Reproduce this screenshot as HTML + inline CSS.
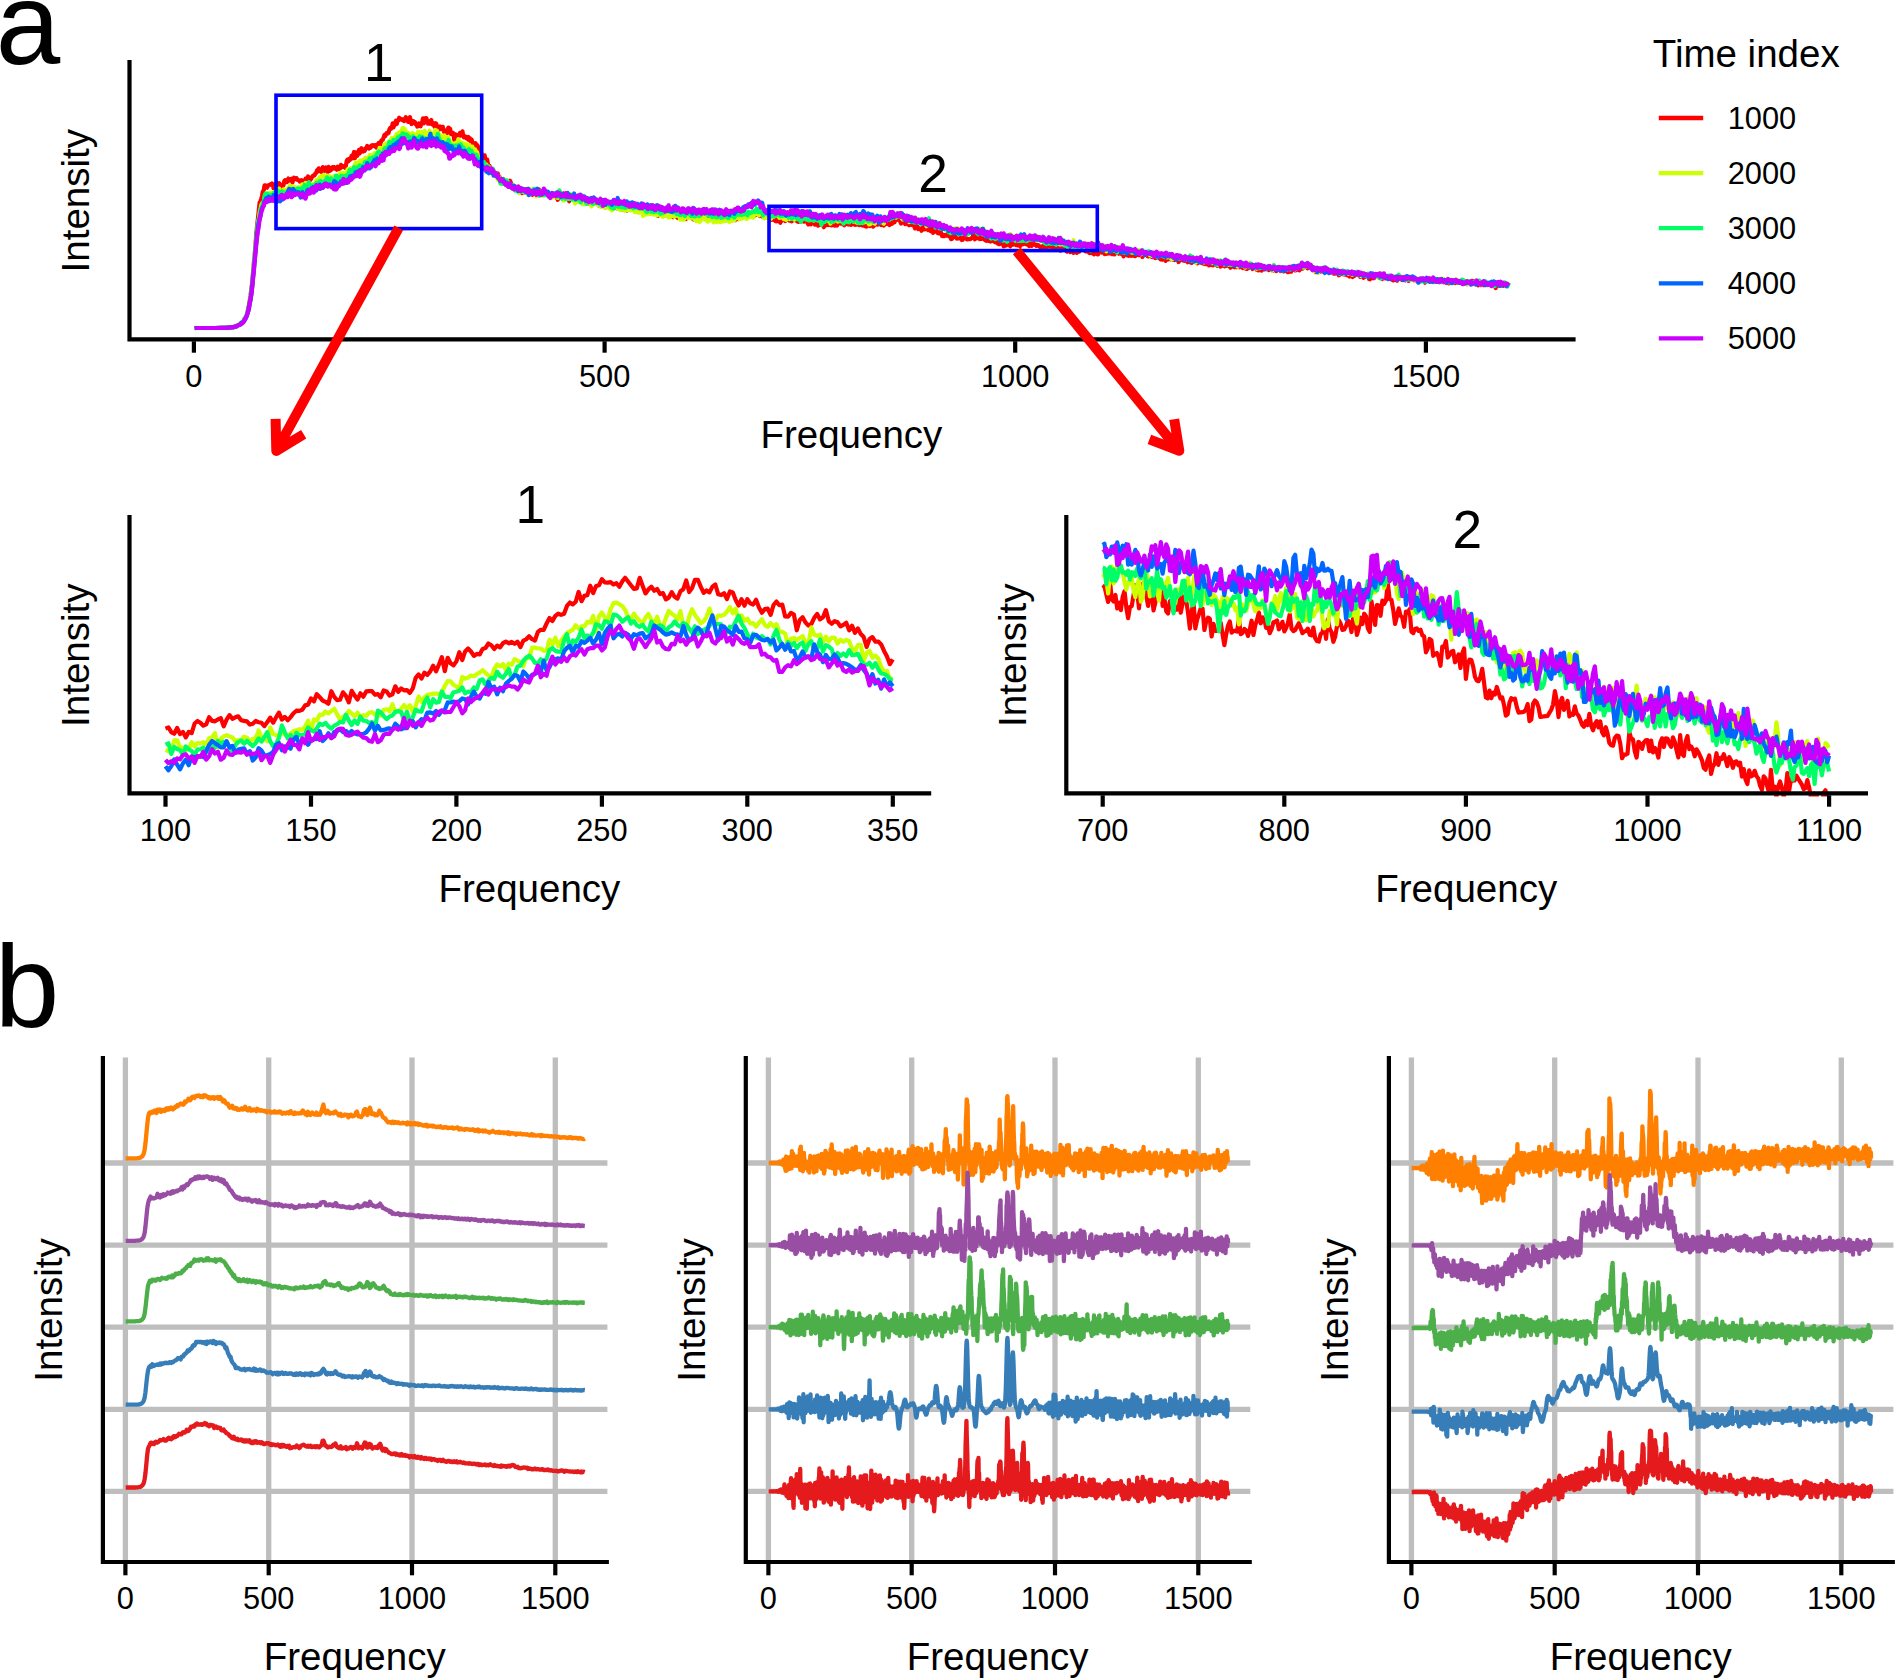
<!DOCTYPE html>
<html lang="en"><head><meta charset="utf-8"><title>Figure</title><style>html,body{margin:0;padding:0;background:#fff}svg{display:block}</style></head><body>
<svg width="1895" height="1679" viewBox="0 0 1895 1679" font-family='"Liberation Sans", sans-serif' fill="#000">
<rect width="1895" height="1679" fill="#fff"/>
<text x="-4.2" y="63.5" font-size="116" text-anchor="start">a</text>
<text x="-5.3" y="1027.0" font-size="116" text-anchor="start">b</text>
<g fill="none" stroke-linejoin="round" stroke-linecap="butt">
<polyline transform="translate(193.90 229) scale(0.8213 1)" vector-effect="non-scaling-stroke" points="1,99 2,99 3,99 4,99 5,99 6,99 7,99 8,99 9,99 10,99 11,99 12,99 13,99 14,99 15,99 16,99 17,99 18,99 19,99 20,99 21,99 22,99 23,99 24,99 25,99 26,99 27,99 28,98.9 29,99 30,99 31,98.9 32,99 33,98.9 34,98.9 35,98.8 36,98.8 37,98.8 38,98.9 39,98.9 40,98.7 41,98.7 42,98.6 43,98.6 44,98.4 45,98.2 46,98 47,98.1 48,98.3 49,97.9 50,97.5 51,97.6 52,97.1 53,96.6 54,96.3 55,95.7 56,95.1 57,94.2 58,94 59,93.1 60,92.6 61,91 62,89 63,88 64,87.1 65,83.8 66,80.4 67,76.3 68,71.7 69,66.6 70,59.3 71,53.7 72,43.7 73,34.1 74,25.7 75,16.2 76,4.6 77,-3.8 78,-10.8 79,-18.5 80,-26.4 81,-27.7 82,-30 83,-33.3 84,-37.5 85,-38.4 86,-43.7 87,-43.7 88,-41.7 89,-41.3 90,-43.1 91,-43.9 92,-43.8 93,-44.7 94,-44.8 95,-45.5 96,-44.6 97,-40.8 98,-42.4 99,-44.9 100,-45.5 101,-46 102,-44 103,-43.2 104,-45.8 105,-43.1 106,-44 107,-41.6 108,-44.1 109,-43.6 110,-47.7 111,-48.9 112,-48.1 113,-46.8 114,-47.4 115,-50.5 116,-48.9 117,-48.7 118,-49.6 119,-50.2 120,-46.5 121,-49.5 122,-51.4 123,-49.8 124,-50.5 125,-50.9 126,-49.2 127,-48.9 128,-48.7 129,-47.3 130,-47.7 131,-48.9 132,-48.3 133,-48.1 134,-46.6 135,-48.4 136,-50.3 137,-48.1 138,-50.4 139,-52.5 140,-49.5 141,-50.7 142,-49.2 143,-50.6 144,-52.2 145,-53.4 146,-53.3 147,-53.8 148,-55.7 149,-56 150,-58.8 151,-57.5 152,-60.7 153,-59.3 154,-57.9 155,-57.3 156,-56.5 157,-62 158,-59.4 159,-58 160,-58.2 161,-61.5 162,-59.9 163,-57.1 164,-62.1 165,-60 166,-58.3 167,-61.1 168,-59.6 169,-61.9 170,-62 171,-62 172,-60.4 173,-60.7 174,-59.3 175,-62.3 176,-61.9 177,-60.1 178,-60.6 179,-64.1 180,-61.7 181,-63.2 182,-62.4 183,-62.4 184,-61.2 185,-63.2 186,-67.9 187,-69.4 188,-67.6 189,-70.2 190,-69.1 191,-70.7 192,-73.1 193,-70.7 194,-73.7 195,-77 196,-70.8 197,-76.7 198,-74.2 199,-73.3 200,-75.1 201,-79.1 202,-75.6 203,-79.5 204,-80.7 205,-79.5 206,-77.5 207,-78.4 208,-78.1 209,-80.6 210,-81 211,-83 212,-82.2 213,-80.5 214,-82 215,-81.3 216,-83.1 217,-83.8 218,-83 219,-83.7 220,-82.8 221,-83.7 222,-81.4 223,-84.2 224,-84.8 225,-86.1 226,-84.9 227,-84.3 228,-88.1 229,-89 230,-89 231,-91.7 232,-94.2 233,-92.9 234,-95.1 235,-96.1 236,-95.5 237,-96.1 238,-99.5 239,-101 240,-100.2 241,-101.3 242,-105.7 243,-101.6 244,-104 245,-104.2 246,-108.4 247,-105.1 248,-108.2 249,-108.6 250,-111.3 251,-109.8 252,-109.7 253,-109.9 254,-108.9 255,-109.5 256,-107.9 257,-110.3 258,-111.9 259,-110.2 260,-108.6 261,-107 262,-107.2 263,-111.9 264,-108.4 265,-105 266,-106.7 267,-107.9 268,-106.2 269,-107 270,-104.7 271,-105.1 272,-102.4 273,-103.1 274,-105.5 275,-103.5 276,-102.7 277,-106 278,-106.8 279,-110.7 280,-105.6 281,-107.3 282,-111 283,-111 284,-107.9 285,-105.3 286,-106.3 287,-105.4 288,-108 289,-108.9 290,-104.6 291,-104.3 292,-105.1 293,-102.5 294,-105.8 295,-105.4 296,-102.1 297,-99.7 298,-102.4 299,-99.6 300,-102.5 301,-100.6 302,-100.1 303,-102.2 304,-98.8 305,-96.5 306,-98.1 307,-98.3 308,-95.6 309,-99.9 310,-101.4 311,-99.8 312,-100.1 313,-94.8 314,-94.8 315,-96.4 316,-95.7 317,-88.8 318,-93.3 319,-94.5 320,-92.2 321,-90.9 322,-91.5 323,-94.3 324,-96 325,-93.6 326,-94.5 327,-97.7 328,-92.7 329,-91.7 330,-92.8 331,-92.3 332,-90.5 333,-91.2 334,-92.1 335,-88.8 336,-90.8 337,-87.6 338,-89.6 339,-87.1 340,-85.8 341,-81.5 342,-84.9 343,-85.8 344,-83.8 345,-83.8 346,-82.5 347,-79.7 348,-77.3 349,-73.8 350,-76 351,-69.4 352,-68 353,-70.6 354,-73.7 355,-69.3 356,-66.9 357,-69.5 358,-65 359,-63.3 360,-63.1 361,-59.6 362,-57.3 363,-58.6 364,-57 365,-57.3 366,-56.9 367,-54.6 368,-52.7 369,-53.4 370,-55.6 371,-50.8 372,-52.5 373,-49.8 374,-46 375,-47.8 376,-49.8 377,-50 378,-45.4 379,-45.9 380,-44.8 381,-43.5 382,-44.4 383,-44.6 384,-45.2 385,-48.3 386,-46.1 387,-43 388,-42.3 389,-41.1 390,-41.4 391,-40.8 392,-39.4 393,-41.5 394,-40.8 395,-42.3 396,-38.4 397,-38.7 398,-38 399,-35.9 400,-36 401,-37.8 402,-36.7 403,-39.7 404,-37.4 405,-37.1 406,-39.8 407,-35.7 408,-37.8 409,-36.2 410,-37.3 411,-35.4 412,-34.3 413,-37.3 414,-39 415,-36.9 416,-34.9 417,-36.3 418,-36.9 419,-35.2 420,-39.7 421,-37.4 422,-37.7 423,-35.2 424,-36.2 425,-36.9 426,-35.8 427,-37.1 428,-35.1 429,-35.5 430,-35.2 431,-35.5 432,-33 433,-33.9 434,-33.1 435,-32.9 436,-34.7 437,-32.9 438,-32.7 439,-32.7 440,-33.6 441,-33.8 442,-31.8 443,-29.2 444,-33.2 445,-32 446,-32.8 447,-31.2 448,-31.2 449,-30.3 450,-35.7 451,-33.5 452,-33.2 453,-31.9 454,-32.4 455,-32.3 456,-30.1 457,-27.7 458,-34.3 459,-31.8 460,-30 461,-30.1 462,-30.5 463,-32 464,-31.5 465,-28.8 466,-27.6 467,-28.8 468,-30.3 469,-29 470,-29.1 471,-27.9 472,-28.1 473,-29.2 474,-28.1 475,-29.7 476,-27 477,-25.7 478,-28.9 479,-27.1 480,-28.6 481,-25.8 482,-25.2 483,-26.8 484,-25.2 485,-26.8 486,-27.4 487,-27.2 488,-26.4 489,-26.4 490,-25.5 491,-26.4 492,-24.4 493,-23.5 494,-25.5 495,-27.1 496,-24.1 497,-22.7 498,-24.3 499,-26.2 500,-24.1 501,-21.7 502,-26.1 503,-23.6 504,-23.9 505,-24.8 506,-22.9 507,-25 508,-23.1 509,-21 510,-22.2 511,-24 512,-25.5 513,-24.9 514,-25.4 515,-20.5 516,-22 517,-23.6 518,-24.1 519,-23.7 520,-22.4 521,-23.5 522,-19.3 523,-21.8 524,-22.5 525,-20.8 526,-18.7 527,-18.4 528,-20.9 529,-20.3 530,-20.1 531,-19.4 532,-19.6 533,-21.3 534,-22 535,-19.9 536,-21.3 537,-17.9 538,-18.9 539,-20.7 540,-19.9 541,-19.8 542,-19.2 543,-17.4 544,-20.4 545,-21.6 546,-18.5 547,-18.4 548,-17.9 549,-17.3 550,-18 551,-16.7 552,-18.7 553,-17.7 554,-18.6 555,-19.2 556,-16.7 557,-16.1 558,-19.6 559,-19.1 560,-16.7 561,-15.1 562,-17.2 563,-16.9 564,-18.4 565,-13.1 566,-14.7 567,-14.6 568,-14.7 569,-14.3 570,-14.6 571,-15.9 572,-14.6 573,-15.1 574,-13.4 575,-15.8 576,-16.1 577,-14.2 578,-12.9 579,-14.2 580,-15.6 581,-14.9 582,-15.2 583,-11.8 584,-12.4 585,-12.1 586,-13.2 587,-14.6 588,-12.3 589,-11 590,-12.3 591,-13.3 592,-11.9 593,-13.5 594,-12.2 595,-13.8 596,-14.5 597,-12.3 598,-12.1 599,-9.9 600,-12.4 601,-12.5 602,-14 603,-15.3 604,-15.3 605,-12.1 606,-13.7 607,-10.9 608,-9.8 609,-12 610,-9.8 611,-11.1 612,-10.3 613,-11.8 614,-10.5 615,-12.8 616,-11.1 617,-12.1 618,-11.9 619,-10.7 620,-11.1 621,-11.5 622,-10.4 623,-10 624,-13 625,-10.9 626,-10.1 627,-12 628,-10.8 629,-12.8 630,-9.4 631,-10.9 632,-11.1 633,-9.2 634,-10.6 635,-10 636,-12 637,-11.7 638,-12.7 639,-11.3 640,-9.2 641,-9.9 642,-9.3 643,-11.7 644,-12.1 645,-11.5 646,-10 647,-10 648,-10.6 649,-9.8 650,-10.7 651,-10.8 652,-9 653,-11.3 654,-10.8 655,-8.7 656,-10.4 657,-10.1 658,-11.9 659,-8.8 660,-14 661,-13.7 662,-13.4 663,-9.8 664,-10.9 665,-12.2 666,-14 667,-12.1 668,-12.1 669,-13.4 670,-14.9 671,-14.7 672,-12.9 673,-12.6 674,-13 675,-13.5 676,-16 677,-14.1 678,-15.3 679,-14.2 680,-13.5 681,-15.2 682,-16.2 683,-13.6 684,-14.1 685,-15.9 686,-19.7 687,-16.2 688,-14.1 689,-12.9 690,-14.9 691,-14.9 692,-14.1 693,-11.8 694,-13.7 695,-12.4 696,-13 697,-11.4 698,-13.5 699,-11.3 700,-11.9 701,-11.6 702,-10.4 703,-9.1 704,-12.6 705,-9.5 706,-9.1 707,-10.3 708,-8 709,-9 710,-7.7 711,-9.9 712,-10.9 713,-8.2 714,-6.3 715,-8.2 716,-8.4 717,-10.3 718,-11.9 719,-10.7 720,-8 721,-12.1 722,-11.1 723,-12.6 724,-10.1 725,-8.4 726,-11 727,-10.4 728,-7.7 729,-9 730,-10.9 731,-11.2 732,-12.1 733,-8.4 734,-9.6 735,-7.5 736,-7.1 737,-9.2 738,-9.4 739,-7.5 740,-7.8 741,-7.8 742,-10.3 743,-7.3 744,-8.9 745,-11.2 746,-9.2 747,-7.2 748,-4.6 749,-7.4 750,-9.2 751,-4.6 752,-6.1 753,-7 754,-8 755,-7.9 756,-4.4 757,-5.8 758,-6.4 759,-6.3 760,-3.3 761,-5.4 762,-4.2 763,-4.2 764,-4.2 765,-5.5 766,-3.6 767,-1.8 768,-3.6 769,-5.1 770,-5.8 771,-3.9 772,-4.2 773,-4.2 774,-4.1 775,-6.1 776,-3.6 777,-3.8 778,-4.5 779,-4.3 780,-3.4 781,-4.4 782,-5.9 783,-3.5 784,-5.1 785,-6 786,-7.3 787,-5.5 788,-6.5 789,-6.1 790,-4.7 791,-5 792,-3.8 793,-4.5 794,-5.6 795,-5.7 796,-6 797,-4.5 798,-5 799,-5.7 800,-4.1 801,-4.7 802,-5.5 803,-7 804,-4.6 805,-4.2 806,-4.3 807,-4.9 808,-5.5 809,-4.7 810,-3.8 811,-4.1 812,-4.2 813,-4.6 814,-3.6 815,-3.4 816,-4.7 817,-3 818,-2.5 819,-2.4 820,-3.6 821,-3.9 822,-5.2 823,-2.9 824,-6.1 825,-4.6 826,-4 827,-2.4 828,-3.2 829,-4.9 830,-6 831,-5.4 832,-4.4 833,-4.4 834,-5 835,-5.9 836,-5.6 837,-4 838,-6.6 839,-5.8 840,-3.5 841,-4.6 842,-6.4 843,-5.3 844,-7.1 845,-6.7 846,-4.6 847,-4 848,-9.2 849,-7.3 850,-5.2 851,-8.6 852,-8.5 853,-6.7 854,-9.3 855,-8.8 856,-9.3 857,-12.2 858,-9.6 859,-9.4 860,-7.7 861,-5.4 862,-6.6 863,-8 864,-6.8 865,-6.4 866,-4.9 867,-7.4 868,-7.2 869,-7.8 870,-4.1 871,-3.8 872,-4.6 873,-4.6 874,-4.2 875,-4.4 876,-3.4 877,-3.3 878,-.6 879,-1.2 880,-2.8 881,-2.6 882,0 883,-.3 884,-.5 885,.2 886,1.7 887,-1.6 888,-1.5 889,-2.5 890,.3 891,-.1 892,-.7 893,-.8 894,1.1 895,.5 896,-.2 897,2.1 898,-.4 899,-1.2 900,3.9 901,1.4 902,.6 903,.7 904,1.8 905,3.6 906,4.2 907,4.3 908,3.6 909,2.2 910,4.5 911,7 912,7.2 913,5.9 914,7.1 915,6.2 916,6.5 917,5.3 918,6.2 919,7.2 920,7 921,8.3 922,10.1 923,9.9 924,7.9 925,7.1 926,7.4 927,7.2 928,8.6 929,9.6 930,9.5 931,9.5 932,9.4 933,9 934,8.1 935,11 936,10.8 937,8.1 938,7.5 939,7.9 940,8.7 941,10.3 942,10.3 943,10.2 944,10.2 945,10.1 946,9.6 947,9.1 948,8.2 949,6 950,7.5 951,10.3 952,7.9 953,7.1 954,9.1 955,8.4 956,7.6 957,10.2 958,9.8 959,9.9 960,8.5 961,9.7 962,10.1 963,10.8 964,11.6 965,11.9 966,11 967,11.7 968,9.8 969,11.8 970,12.6 971,11.5 972,11 973,12 974,11.1 975,12.9 976,13.4 977,12 978,13.1 979,14.7 980,15.1 981,15.2 982,13.9 983,13.5 984,13.5 985,14.8 986,17.3 987,16.6 988,16.7 989,16.5 990,12.9 991,13.9 992,14.1 993,16.1 994,17.2 995,14.5 996,14.8 997,15.7 998,14.6 999,14.2 1000,14.2 1001,16.1 1002,14.3 1003,16.3 1004,15.5 1005,16 1006,17.2 1007,14.7 1008,13.9 1009,15.4 1010,13.9 1011,13.9 1012,14.8 1013,15.3 1014,13.8 1015,14.5 1016,15.9 1017,17.1 1018,13.4 1019,16.5 1020,16.9 1021,14.4 1022,13.5 1023,15.7 1024,15.3 1025,15.8 1026,16.9 1027,15.8 1028,16.2 1029,16.9 1030,17.6 1031,18.9 1032,19.2 1033,17.6 1034,16.8 1035,19.9 1036,18.7 1037,18.1 1038,16.4 1039,18.4 1040,17.2 1041,17.4 1042,16.6 1043,17.5 1044,18.6 1045,17.1 1046,17.6 1047,18.9 1048,17.9 1049,17.8 1050,18.4 1051,18 1052,20.4 1053,19.1 1054,20.9 1055,21.6 1056,19.3 1057,20.3 1058,20.1 1059,19.4 1060,20.3 1061,20.7 1062,21.9 1063,22.6 1064,20.3 1065,20.7 1066,22.1 1067,23.1 1068,19.2 1069,22.7 1070,22.1 1071,23.8 1072,22 1073,21.2 1074,22.2 1075,23.8 1076,22.8 1077,19.8 1078,22.7 1079,20.9 1080,21 1081,21 1082,20.2 1083,20.7 1084,21.2 1085,21.7 1086,22.5 1087,22.3 1088,21 1089,22.2 1090,23.9 1091,24.1 1092,23.2 1093,23.6 1094,24.1 1095,24.7 1096,25.3 1097,23.1 1098,22.7 1099,24.7 1100,25.3 1101,25.3 1102,20.9 1103,22.5 1104,19.5 1105,23.4 1106,23.7 1107,23.6 1108,23.4 1109,25.1 1110,23.6 1111,24.8 1112,24.6 1113,24.4 1114,24.5 1115,24.2 1116,22.8 1117,24.6 1118,25.1 1119,24.1 1120,25 1121,25.4 1122,23.1 1123,23.9 1124,23.9 1125,23.3 1126,24.7 1127,23.7 1128,23.9 1129,24.8 1130,25.2 1131,25.2 1132,27.4 1133,24.9 1134,25.1 1135,23.7 1136,25.3 1137,26.5 1138,26.8 1139,24.8 1140,24.8 1141,26.7 1142,25.6 1143,26.5 1144,24.6 1145,26.9 1146,27.1 1147,26.4 1148,24.9 1149,25.4 1150,26 1151,26.2 1152,26 1153,25.8 1154,26.4 1155,27.9 1156,24.5 1157,24.5 1158,24.6 1159,25.6 1160,24.7 1161,27.2 1162,27.3 1163,26.9 1164,26.4 1165,27.4 1166,27.7 1167,28 1168,26.9 1169,28.3 1170,26.4 1171,29 1172,25 1173,26.8 1174,26.8 1175,29 1176,27.1 1177,30.3 1178,27.4 1179,30.7 1180,29.9 1181,29.2 1182,29.6 1183,31.8 1184,30.8 1185,27.2 1186,30.4 1187,30.2 1188,28.1 1189,30.3 1190,28.8 1191,30 1192,30.5 1193,29.6 1194,31 1195,29.5 1196,30.6 1197,30.2 1198,30.5 1199,33 1200,31.6 1201,30 1202,30.8 1203,30.5 1204,31.3 1205,31.7 1206,31.7 1207,31.8 1208,31.2 1209,32.2 1210,33.2 1211,31.6 1212,32 1213,32.3 1214,33.7 1215,33.9 1216,32 1217,32.6 1218,31.1 1219,31.5 1220,32.7 1221,33.7 1222,34.3 1223,33.1 1224,31.8 1225,33.5 1226,33.4 1227,34 1228,33.9 1229,34.6 1230,34.7 1231,35 1232,33.8 1233,35.1 1234,33.9 1235,34.3 1236,36.4 1237,35.3 1238,33.5 1239,36 1240,36.2 1241,36.3 1242,35.5 1243,35.5 1244,35 1245,34.5 1246,36.8 1247,35.4 1248,35 1249,35.1 1250,37.6 1251,37.2 1252,35.7 1253,35.9 1254,36.6 1255,37.2 1256,34.8 1257,36.9 1258,36.4 1259,35.8 1260,36.1 1261,37.4 1262,38.8 1263,37.4 1264,37.6 1265,36.3 1266,37.5 1267,38.2 1268,35.9 1269,36.5 1270,38.2 1271,35.9 1272,36.9 1273,38.3 1274,36.2 1275,37.1 1276,38 1277,39 1278,37 1279,39.1 1280,38.9 1281,39.7 1282,40 1283,39.2 1284,39.2 1285,37.1 1286,37.1 1287,37.6 1288,38.4 1289,40 1290,37.6 1291,38.6 1292,37.9 1293,37.6 1294,40.7 1295,40 1296,41.3 1297,41.2 1298,39.1 1299,37.7 1300,41.6 1301,39.9 1302,38.7 1303,40.5 1304,40.4 1305,39.5 1306,39.7 1307,40.3 1308,40.4 1309,41.1 1310,40.2 1311,40 1312,41.1 1313,41 1314,41.8 1315,40.7 1316,40.6 1317,39.6 1318,42.1 1319,39.8 1320,40.9 1321,40.2 1322,41.2 1323,42 1324,39.7 1325,40.7 1326,39.5 1327,42.4 1328,41.3 1329,39.8 1330,40.4 1331,42.6 1332,43.2 1333,43 1334,40.8 1335,40.9 1336,42.7 1337,40.6 1338,40.4 1339,39.7 1340,39.2 1341,41.4 1342,41.2 1343,40.7 1344,40.6 1345,40.9 1346,41.3 1347,39.6 1348,38.8 1349,37.8 1350,39.5 1351,38.1 1352,36.5 1353,37.3 1354,37.6 1355,38.6 1356,39.2 1357,37.7 1358,37.6 1359,38.5 1360,38.2 1361,39.7 1362,41 1363,41.2 1364,39.9 1365,40.4 1366,43.2 1367,41.6 1368,43 1369,43.3 1370,42.3 1371,41.5 1372,42.5 1373,41.7 1374,42.2 1375,42.7 1376,42 1377,42.4 1378,42.5 1379,41.7 1380,42.6 1381,42.5 1382,41.3 1383,42.6 1384,43.1 1385,42.9 1386,41.5 1387,44.1 1388,44.6 1389,44.7 1390,44.5 1391,42.9 1392,44.1 1393,43.4 1394,46.3 1395,44.4 1396,45.1 1397,43.3 1398,43.3 1399,44.1 1400,45.5 1401,45.7 1402,45.5 1403,43.4 1404,46 1405,44.7 1406,46.8 1407,47.6 1408,46.7 1409,46.7 1410,44.7 1411,48 1412,46.6 1413,46.9 1414,45.4 1415,45.8 1416,45 1417,45.8 1418,46.3 1419,46.6 1420,47.8 1421,47.3 1422,46.9 1423,46.8 1424,48.7 1425,46.7 1426,47.9 1427,45.3 1428,45.8 1429,47.3 1430,47.1 1431,50.1 1432,50.4 1433,46.5 1434,46.2 1435,47.2 1436,49.3 1437,49.1 1438,48.3 1439,46.6 1440,46.9 1441,45.3 1442,46.1 1443,48.3 1444,49.1 1445,47.2 1446,48.2 1447,50 1448,49 1449,48.4 1450,49.2 1451,49.4 1452,49 1453,48.4 1454,48.4 1455,49 1456,48.6 1457,50.2 1458,50.3 1459,50.4 1460,51.4 1461,51.2 1462,51 1463,50.1 1464,49.4 1465,51.7 1466,49.5 1467,49 1468,48.9 1469,49.9 1470,50.3 1471,51 1472,50 1473,48.4 1474,50.1 1475,51.2 1476,50.5 1477,50.2 1478,50.9 1479,51.9 1480,50.7 1481,49.3 1482,49.8 1483,50.4 1484,49.1 1485,51.2 1486,50.3 1487,51.2 1488,51.3 1489,50.8 1490,52.5 1491,51 1492,50.5 1493,51.4 1494,52.2 1495,51.6 1496,50.6 1497,52 1498,52.3 1499,53.7 1500,51.9 1501,51.9 1502,51.3 1503,50.4 1504,51.7 1505,52.7 1506,51.2 1507,51.2 1508,50.9 1509,53.1 1510,51.9 1511,52.6 1512,51.6 1513,52.2 1514,51.8 1515,50.2 1516,52.1 1517,53 1518,50.8 1519,52 1520,52.2 1521,51.6 1522,52.3 1523,51 1524,52.7 1525,54 1526,52 1527,52.7 1528,54.3 1529,53.4 1530,52.6 1531,52.2 1532,53.2 1533,53.1 1534,53.8 1535,52.1 1536,54 1537,53.2 1538,53.9 1539,53 1540,52.3 1541,52.8 1542,52.7 1543,53.2 1544,54.2 1545,54.8 1546,54.2 1547,53.4 1548,53.4 1549,54.4 1550,55.1 1551,54 1552,53.9 1553,53.5 1554,54.2 1555,55.1 1556,51.9 1557,54 1558,53.9 1559,52.3 1560,54.3 1561,54.5 1562,54.9 1563,53.5 1564,56.3 1565,55.2 1566,54.5 1567,56.1 1568,55.7 1569,55.7 1570,56.1 1571,53.4 1572,56.1 1573,55.1 1574,55.3 1575,56 1576,54.8 1577,55.4 1578,56 1579,55.5 1580,55.8 1581,54.2 1582,54.2 1583,54.3 1584,55.7 1585,59 1586,56.6 1587,55.7 1588,55.7 1589,56.7 1590,56.7 1591,55.1 1592,56.6 1593,56.2 1594,56.8 1595,54.5 1596,54.5 1597,56.4 1598,54.8 1599,56.3 1600,56.7 1601,56.6" stroke="#FF0000" stroke-width="4.2"/>
<polyline transform="translate(193.90 229) scale(0.8213 1)" vector-effect="non-scaling-stroke" points="1,98.9 2,99 3,99 4,99 5,99 6,99 7,99 8,99 9,99 10,99 11,99 12,99 13,99 14,99 15,99 16,99 17,99 18,99 19,99 20,99 21,99 22,99 23,99 24,99 25,99 26,99 27,99 28,99 29,99 30,99 31,99 32,98.9 33,99 34,98.9 35,98.9 36,98.9 37,98.8 38,98.8 39,98.9 40,98.7 41,98.8 42,98.7 43,98.5 44,98.6 45,98.3 46,98.1 47,98 48,97.9 49,97.9 50,97.5 51,97.6 52,97.2 53,96.6 54,96.2 55,96 56,95 57,94.2 58,93.9 59,93.6 60,92.7 61,91.6 62,90.3 63,88 64,86.8 65,83.9 66,82.3 67,78.7 68,74.3 69,69.4 70,63.2 71,55.8 72,47.7 73,37.8 74,27.4 75,19.7 76,12.6 77,4.2 78,-4.6 79,-9.9 80,-16.2 81,-19.4 82,-23.8 83,-25.5 84,-24.4 85,-27.1 86,-30.9 87,-34.5 88,-35.7 89,-35.2 90,-34.6 91,-35.9 92,-34.3 93,-36.1 94,-33.5 95,-33.3 96,-36.5 97,-34.6 98,-35.4 99,-34 100,-36.2 101,-35.6 102,-35.2 103,-40.4 104,-40.3 105,-37.2 106,-37.1 107,-35.7 108,-36.7 109,-39.5 110,-37.8 111,-39.2 112,-39 113,-39.5 114,-38.5 115,-41.3 116,-41.6 117,-43.5 118,-37.4 119,-41.1 120,-42.1 121,-42.6 122,-42.1 123,-41.7 124,-40 125,-40.5 126,-40.5 127,-41.9 128,-41.5 129,-39.4 130,-41 131,-41 132,-44.7 133,-41.6 134,-41.3 135,-39.9 136,-46.1 137,-43.2 138,-42.6 139,-42.5 140,-43.8 141,-42.9 142,-42.2 143,-43.3 144,-44.4 145,-44.7 146,-45.3 147,-45 148,-46.3 149,-49 150,-44.7 151,-49.5 152,-49.1 153,-51.6 154,-51.5 155,-53.1 156,-52.2 157,-53.3 158,-54.2 159,-51.8 160,-49.5 161,-50.7 162,-51.4 163,-53.3 164,-52.1 165,-50.9 166,-52.5 167,-50.4 168,-51.5 169,-51.2 170,-52.5 171,-52.8 172,-51.7 173,-51.2 174,-51.3 175,-53.7 176,-54 177,-53.1 178,-56.2 179,-52.5 180,-53.1 181,-54.2 182,-56 183,-54.1 184,-55.8 185,-53.1 186,-55.4 187,-59.6 188,-57.3 189,-59.3 190,-60.3 191,-60.5 192,-60.9 193,-60.9 194,-60.6 195,-61.6 196,-64.3 197,-66.4 198,-66.3 199,-64.7 200,-64 201,-62.8 202,-68.3 203,-67.5 204,-68 205,-68.9 206,-68.5 207,-69.5 208,-70.1 209,-71.2 210,-70 211,-68.9 212,-68 213,-71.8 214,-73.8 215,-72.9 216,-73.9 217,-71.2 218,-74.1 219,-73.5 220,-76.1 221,-75.4 222,-74.7 223,-72.9 224,-76.9 225,-76.5 226,-81.1 227,-81.1 228,-80.8 229,-80.8 230,-79.8 231,-79.9 232,-84.6 233,-82.5 234,-85.5 235,-81.8 236,-84.3 237,-86 238,-87.5 239,-88.3 240,-89 241,-91 242,-89.4 243,-90.5 244,-90.5 245,-92.5 246,-92.1 247,-95.1 248,-88.2 249,-94.9 250,-96.6 251,-94.4 252,-93.8 253,-97.9 254,-100.8 255,-101 256,-100.2 257,-99.4 258,-97.7 259,-94.7 260,-93.6 261,-96.1 262,-94.2 263,-92.9 264,-91.7 265,-94.4 266,-96 267,-93.4 268,-91.4 269,-94.8 270,-91 271,-90.4 272,-94.1 273,-97.3 274,-96 275,-95.2 276,-93.5 277,-97.2 278,-90.5 279,-89.1 280,-94.8 281,-98.1 282,-95.4 283,-93.8 284,-91.9 285,-92.7 286,-94.7 287,-98.3 288,-94.5 289,-93.1 290,-95.3 291,-95.1 292,-95.6 293,-97 294,-99 295,-96.3 296,-98.3 297,-93 298,-95.3 299,-92.9 300,-93.9 301,-91.8 302,-91.9 303,-90.4 304,-92.1 305,-93.6 306,-91.1 307,-90.2 308,-91.9 309,-90.5 310,-91.5 311,-88.3 312,-88.1 313,-87.2 314,-82.1 315,-85.2 316,-85.3 317,-84.5 318,-85.4 319,-86.2 320,-83.6 321,-82.8 322,-90 323,-86.8 324,-86.3 325,-86.9 326,-83.6 327,-85.9 328,-83.8 329,-85.5 330,-85.5 331,-83 332,-84.6 333,-83.6 334,-84.6 335,-84 336,-80.6 337,-79.7 338,-82.2 339,-82.4 340,-75.3 341,-78.8 342,-79.7 343,-76.7 344,-77.6 345,-76.4 346,-72.7 347,-70.5 348,-70.8 349,-67.1 350,-67.7 351,-67.4 352,-66.2 353,-65.9 354,-63.9 355,-63.4 356,-64.5 357,-62.6 358,-62.8 359,-62.4 360,-61 361,-58.2 362,-58.3 363,-56 364,-54.3 365,-56 366,-56.6 367,-56.2 368,-53.6 369,-51.4 370,-49.1 371,-52.7 372,-49.3 373,-47.6 374,-44.8 375,-47.4 376,-48 377,-49.9 378,-48.7 379,-48.4 380,-47.8 381,-47.1 382,-47.5 383,-44.9 384,-43.1 385,-41.9 386,-42.7 387,-40.8 388,-40.1 389,-43.8 390,-42.4 391,-43.2 392,-42.7 393,-40.5 394,-40.3 395,-37.6 396,-35.8 397,-37.8 398,-39 399,-38.8 400,-38.3 401,-37.1 402,-38.8 403,-37.1 404,-37.8 405,-35.9 406,-34.9 407,-34.1 408,-36.7 409,-39.1 410,-39.8 411,-37.7 412,-38.8 413,-39.4 414,-37.3 415,-37.8 416,-35.3 417,-32.7 418,-35.4 419,-35.2 420,-37.8 421,-35.6 422,-36.2 423,-37 424,-38.1 425,-32.9 426,-36.6 427,-36.9 428,-34.8 429,-33.8 430,-33.6 431,-33.7 432,-35.2 433,-32.8 434,-33.1 435,-35.6 436,-31.4 437,-33.2 438,-31.7 439,-34.8 440,-35.1 441,-33.9 442,-33.7 443,-31.1 444,-34.4 445,-32.4 446,-33.5 447,-31.4 448,-31.2 449,-32.3 450,-28.3 451,-30.7 452,-29.5 453,-32.6 454,-31.4 455,-30.5 456,-30.2 457,-30.8 458,-31.5 459,-34.9 460,-31.6 461,-31.2 462,-30.2 463,-28.1 464,-25.6 465,-27.5 466,-27.2 467,-27.4 468,-27.2 469,-27.2 470,-28.4 471,-28.6 472,-27.5 473,-24.9 474,-25.8 475,-24.7 476,-28.6 477,-27 478,-26.2 479,-25.8 480,-28.4 481,-29.5 482,-29.9 483,-27.3 484,-22.6 485,-24.7 486,-27.3 487,-25.3 488,-25.6 489,-24.9 490,-25.5 491,-26.8 492,-25.8 493,-23.5 494,-23.6 495,-22.2 496,-25.1 497,-22.5 498,-23.2 499,-23.1 500,-21.4 501,-22.9 502,-22.6 503,-21.8 504,-21.6 505,-21.2 506,-20.3 507,-21.1 508,-22.6 509,-18.6 510,-21.2 511,-21.2 512,-22.6 513,-24.9 514,-23.1 515,-21.4 516,-20.3 517,-20.7 518,-19.7 519,-19 520,-18.8 521,-20.1 522,-20.2 523,-20.4 524,-21.3 525,-18.1 526,-21.1 527,-20.1 528,-19.2 529,-22.4 530,-18.8 531,-19.4 532,-18.7 533,-19.2 534,-21 535,-18.7 536,-18.2 537,-16.8 538,-17.2 539,-20.3 540,-16.8 541,-16.3 542,-16.3 543,-16.6 544,-18.2 545,-16.7 546,-17.5 547,-13 548,-16.3 549,-18.3 550,-17.4 551,-14.5 552,-16.7 553,-19.9 554,-14.8 555,-15.1 556,-16.5 557,-14.9 558,-16.8 559,-17.5 560,-14.4 561,-15.8 562,-14.6 563,-14.9 564,-13.8 565,-14.5 566,-17.6 567,-14.3 568,-15 569,-13.3 570,-13.9 571,-12.2 572,-14.1 573,-16.9 574,-14.9 575,-13.1 576,-14 577,-14.3 578,-11.5 579,-13.1 580,-11.8 581,-12.6 582,-14.9 583,-14.6 584,-13.4 585,-12.3 586,-13.5 587,-14.6 588,-14.1 589,-13.2 590,-13.4 591,-13 592,-9.4 593,-10.8 594,-12.7 595,-11.8 596,-9.2 597,-9.9 598,-11.1 599,-13 600,-13.7 601,-11.9 602,-11.1 603,-13.1 604,-13.1 605,-11.1 606,-13.7 607,-13.6 608,-11.1 609,-9.7 610,-9.8 611,-8.9 612,-7.9 613,-8.6 614,-10.3 615,-7.3 616,-7.2 617,-8.3 618,-10.9 619,-9.7 620,-12.7 621,-10.9 622,-13.4 623,-11.1 624,-8.4 625,-9.4 626,-7.4 627,-9.1 628,-9.4 629,-9.9 630,-8.8 631,-9.3 632,-7.7 633,-6.7 634,-8.2 635,-10.6 636,-8.7 637,-7 638,-7.7 639,-8.4 640,-7.6 641,-6.9 642,-12.1 643,-7.6 644,-7.5 645,-8.1 646,-9.6 647,-8.9 648,-8.2 649,-10.9 650,-8.5 651,-8.8 652,-7.1 653,-7.9 654,-9.3 655,-9.3 656,-8.5 657,-9.1 658,-8.8 659,-10.5 660,-11.7 661,-11.1 662,-12.2 663,-11.6 664,-10 665,-12.6 666,-12.8 667,-10.2 668,-11.6 669,-11.4 670,-13.2 671,-13.5 672,-12.7 673,-10 674,-11.4 675,-14.9 676,-12.8 677,-11.8 678,-12.2 679,-15.2 680,-14.5 681,-11.3 682,-15.2 683,-14.6 684,-16.1 685,-17.4 686,-16.6 687,-14.4 688,-13.7 689,-16.3 690,-16 691,-16.1 692,-17.5 693,-13.7 694,-11.2 695,-10.7 696,-13.2 697,-11.2 698,-11 699,-13.2 700,-13.2 701,-13.7 702,-12.9 703,-10.5 704,-13.9 705,-15 706,-12.2 707,-12.7 708,-15.6 709,-15 710,-14.4 711,-13.9 712,-12.5 713,-11.1 714,-12.4 715,-12.2 716,-13.3 717,-11 718,-9.9 719,-11.9 720,-12.9 721,-9.1 722,-9.8 723,-12.7 724,-14.3 725,-12.5 726,-10 727,-12 728,-12 729,-12.2 730,-10.7 731,-9.3 732,-12.7 733,-12.1 734,-11.7 735,-12.2 736,-13.1 737,-10.5 738,-10.8 739,-10.1 740,-8.9 741,-11.2 742,-10.5 743,-11.5 744,-11.3 745,-10.6 746,-11.2 747,-13.1 748,-9.3 749,-10.3 750,-12.4 751,-14.2 752,-11.4 753,-9.7 754,-8.9 755,-8.6 756,-10.5 757,-9.5 758,-12.1 759,-10.3 760,-8.6 761,-10.3 762,-10 763,-9.3 764,-9 765,-6.9 766,-9.9 767,-7.1 768,-9.8 769,-9.6 770,-9.4 771,-8.5 772,-8.9 773,-7.7 774,-8.1 775,-5.3 776,-7.2 777,-8.7 778,-8 779,-7.6 780,-8.7 781,-10.2 782,-10.1 783,-8.7 784,-7.5 785,-7.8 786,-8.8 787,-8.1 788,-9.4 789,-8.7 790,-6.9 791,-6.9 792,-6.7 793,-8.9 794,-8.6 795,-10.1 796,-7.7 797,-9 798,-10.6 799,-9.7 800,-8.4 801,-11.5 802,-11 803,-7.4 804,-7.9 805,-8.3 806,-10.4 807,-6.4 808,-6.2 809,-6.7 810,-9.2 811,-7.3 812,-6 813,-7.7 814,-7.9 815,-8.1 816,-6.6 817,-7.4 818,-7.6 819,-9.1 820,-9.7 821,-6.2 822,-4.6 823,-5.5 824,-5 825,-7.6 826,-7.5 827,-6.9 828,-7.6 829,-5.3 830,-8.9 831,-8.9 832,-8.4 833,-9 834,-7.1 835,-10.6 836,-7.2 837,-6.8 838,-7.8 839,-6.8 840,-5.4 841,-8.4 842,-8.6 843,-9.2 844,-9.5 845,-11.1 846,-12 847,-10.5 848,-12 849,-10.6 850,-10.7 851,-12.7 852,-12.2 853,-12.5 854,-13 855,-11.4 856,-12.7 857,-12.8 858,-15.8 859,-12.8 860,-14.8 861,-13.8 862,-10.6 863,-9.6 864,-12.4 865,-13.9 866,-11.5 867,-11.6 868,-10.3 869,-11.9 870,-8.6 871,-7 872,-10.8 873,-10.5 874,-10.1 875,-7.9 876,-11 877,-8.7 878,-8.5 879,-9.2 880,-7.2 881,-10.2 882,-10 883,-8.9 884,-6.6 885,-7.5 886,-8.3 887,-6.5 888,-7.3 889,-7.7 890,-7.2 891,-6.1 892,-2.7 893,-7.1 894,-6.3 895,-6.5 896,-6.7 897,-4.3 898,-4.8 899,-5.1 900,-6.5 901,-7.2 902,-5.5 903,-5.7 904,-6.1 905,-4.2 906,-6.1 907,-5.7 908,-3.3 909,-3.6 910,-2.5 911,-4 912,-2 913,-3.1 914,-.4 915,-.2 916,-.5 917,1.1 918,.1 919,-1.2 920,1.7 921,1 922,2.1 923,1.2 924,2.5 925,.4 926,-.5 927,-.6 928,2.3 929,-.5 930,-.9 931,-.2 932,2.1 933,2.8 934,1.1 935,2.7 936,2.4 937,3.3 938,3.1 939,.8 940,1.3 941,1 942,1.5 943,1.2 944,.7 945,1.4 946,.6 947,1.2 948,.6 949,.2 950,1.7 951,2.2 952,2.7 953,2.2 954,1.1 955,1.6 956,1.9 957,-.3 958,.3 959,4.2 960,3.2 961,-.6 962,2.5 963,3.9 964,2.5 965,6.9 966,6.6 967,6.1 968,4.9 969,5.7 970,6.5 971,6.4 972,5 973,6 974,6.4 975,6.7 976,5.2 977,6.7 978,6.8 979,7.2 980,7.3 981,5.4 982,8 983,8.6 984,6 985,7.2 986,6.6 987,7 988,8.9 989,8.8 990,10.5 991,8.6 992,6.6 993,7.9 994,5 995,9.7 996,8.9 997,8.8 998,8.5 999,7.2 1000,7.9 1001,7.3 1002,7.5 1003,8.7 1004,7 1005,10.2 1006,7.6 1007,9.3 1008,7.9 1009,6.8 1010,8.7 1011,8.9 1012,8.4 1013,8.5 1014,7.8 1015,9 1016,8.2 1017,8.6 1018,10.1 1019,7.4 1020,7.7 1021,7.8 1022,7.6 1023,6.9 1024,8.1 1025,9 1026,8.9 1027,7.2 1028,9.8 1029,10.6 1030,9.9 1031,8.6 1032,8.7 1033,12.3 1034,13 1035,11.5 1036,9.6 1037,12 1038,11.4 1039,13 1040,10.8 1041,11.6 1042,11.1 1043,12.3 1044,10.9 1045,12.6 1046,11.5 1047,10.6 1048,12.4 1049,12.5 1050,9.7 1051,11.7 1052,12.5 1053,12.8 1054,15.2 1055,12.5 1056,12.7 1057,10.9 1058,10.9 1059,12.2 1060,13.1 1061,13.3 1062,14.4 1063,14.9 1064,15.4 1065,14.2 1066,14.9 1067,13.8 1068,14.9 1069,15.5 1070,14.6 1071,11.2 1072,13.8 1073,18.5 1074,16.2 1075,15 1076,15.9 1077,17.3 1078,16.7 1079,15.8 1080,14.5 1081,15.4 1082,14.6 1083,16.3 1084,18.1 1085,17.8 1086,15.8 1087,14.9 1088,14.4 1089,16.5 1090,17.2 1091,17.5 1092,17.1 1093,15.2 1094,14 1095,17.5 1096,16 1097,18.8 1098,14.7 1099,15 1100,15.5 1101,17.1 1102,18 1103,16.8 1104,18 1105,16.1 1106,16.7 1107,16.2 1108,16.9 1109,17.1 1110,18.4 1111,22.4 1112,17.7 1113,18 1114,19.4 1115,19.1 1116,20.6 1117,18.2 1118,19.9 1119,18.6 1120,20.2 1121,20 1122,20.1 1123,19.2 1124,17.7 1125,18.4 1126,20.8 1127,20.2 1128,21.3 1129,19.3 1130,21.2 1131,22.2 1132,18.7 1133,21 1134,23.6 1135,21 1136,22.5 1137,22 1138,22.8 1139,21.7 1140,21.1 1141,21.5 1142,21.8 1143,21.7 1144,21.4 1145,23.8 1146,22.5 1147,21.5 1148,21.8 1149,23.6 1150,20.9 1151,23.5 1152,24.5 1153,25.3 1154,23.6 1155,22.9 1156,24 1157,24.4 1158,25.8 1159,24.7 1160,24 1161,23 1162,24.1 1163,24.8 1164,26.3 1165,25.4 1166,26.7 1167,27 1168,24.8 1169,24 1170,24.6 1171,25.3 1172,24.8 1173,26.5 1174,26.9 1175,27.6 1176,26.8 1177,25.9 1178,26.8 1179,25.6 1180,26.6 1181,26 1182,28 1183,24.3 1184,27.4 1185,28.4 1186,27.5 1187,27.8 1188,27.9 1189,29.1 1190,29.9 1191,28.3 1192,29.8 1193,27.8 1194,28.5 1195,28.9 1196,27.1 1197,28.6 1198,28 1199,29.5 1200,28.1 1201,26.8 1202,27.2 1203,28.9 1204,29.6 1205,29.8 1206,28.7 1207,30.2 1208,29.2 1209,29.4 1210,30.9 1211,30 1212,28 1213,30.5 1214,30.4 1215,29.9 1216,31.8 1217,30.2 1218,31.2 1219,31 1220,33.7 1221,29.6 1222,30.8 1223,31.6 1224,32.5 1225,31.1 1226,30.7 1227,32.9 1228,31.5 1229,31.9 1230,31.8 1231,32.3 1232,30.7 1233,31.2 1234,32 1235,32.4 1236,33.6 1237,33.3 1238,33.4 1239,32.8 1240,34.2 1241,32.6 1242,32.8 1243,31.5 1244,31.8 1245,34 1246,33.6 1247,31.5 1248,33.2 1249,33.5 1250,32.6 1251,34 1252,33.8 1253,34 1254,35.2 1255,33.8 1256,35.4 1257,34.4 1258,34.2 1259,35.9 1260,35.4 1261,34.5 1262,34.7 1263,35.2 1264,33.6 1265,35.5 1266,35.4 1267,34 1268,34.2 1269,36.2 1270,34.5 1271,37.7 1272,35.2 1273,35.9 1274,33.3 1275,35.4 1276,35.6 1277,36.6 1278,36.6 1279,36.1 1280,38.7 1281,37.9 1282,36.1 1283,37 1284,33.9 1285,35.7 1286,38.2 1287,36.8 1288,37.2 1289,36.1 1290,37.9 1291,37.8 1292,37.6 1293,38.6 1294,39.6 1295,39 1296,36.2 1297,37.9 1298,38.3 1299,36.9 1300,36.2 1301,37.4 1302,37.8 1303,38.1 1304,37.6 1305,38.4 1306,38.8 1307,38.3 1308,38.9 1309,38.1 1310,36.9 1311,38.4 1312,39.7 1313,41.8 1314,37.3 1315,38 1316,38 1317,39.2 1318,38.3 1319,39.2 1320,40.3 1321,38.8 1322,39.2 1323,41.1 1324,40.8 1325,38.1 1326,41.4 1327,39.5 1328,39.9 1329,39.5 1330,39.3 1331,39 1332,40.3 1333,39.1 1334,38.3 1335,38.8 1336,39.4 1337,37.4 1338,39.7 1339,38.6 1340,39.6 1341,40.4 1342,39.3 1343,39.1 1344,38 1345,37.4 1346,35.9 1347,37.2 1348,37 1349,34.8 1350,36.9 1351,38.5 1352,37.4 1353,37.7 1354,36.1 1355,35.1 1356,36.3 1357,36.4 1358,35.9 1359,38.4 1360,38.5 1361,37.9 1362,39.2 1363,39.5 1364,40.7 1365,42.2 1366,40.5 1367,39.6 1368,42.1 1369,43.7 1370,41 1371,40 1372,39.7 1373,40.9 1374,41.3 1375,41 1376,42.1 1377,40.7 1378,40.7 1379,40.2 1380,42.8 1381,43.1 1382,43.4 1383,41.4 1384,43.2 1385,42.8 1386,43.1 1387,43.1 1388,42.3 1389,42.3 1390,41.1 1391,41.9 1392,42.5 1393,41.8 1394,42.9 1395,44.5 1396,43.1 1397,42.3 1398,42.4 1399,43.6 1400,45.4 1401,44.3 1402,43.9 1403,42.7 1404,44.1 1405,44.8 1406,43.9 1407,44.1 1408,43.7 1409,45 1410,45.9 1411,45.2 1412,45.2 1413,44.9 1414,44.2 1415,44 1416,44.4 1417,45.1 1418,45.1 1419,46.2 1420,46.2 1421,46.9 1422,46.5 1423,45.4 1424,45.6 1425,44.1 1426,47 1427,45.6 1428,45.4 1429,47.6 1430,45.4 1431,45.3 1432,46 1433,45.7 1434,46.4 1435,46.7 1436,47.2 1437,46.6 1438,47.3 1439,46.6 1440,47.4 1441,48.2 1442,45.6 1443,46.5 1444,47.3 1445,45.5 1446,44.1 1447,47.1 1448,47 1449,48.2 1450,47.8 1451,47.7 1452,47.5 1453,47.9 1454,47.1 1455,47.3 1456,48.7 1457,48 1458,48.6 1459,48.3 1460,48 1461,47.4 1462,49 1463,47.9 1464,48.8 1465,47.3 1466,48.6 1467,49.2 1468,48.3 1469,47.3 1470,48.5 1471,49.1 1472,48.6 1473,48.4 1474,49.9 1475,49.4 1476,48.9 1477,50.1 1478,49.6 1479,48.9 1480,50.3 1481,49.5 1482,50.5 1483,49.4 1484,50 1485,51.1 1486,50.7 1487,50.6 1488,50.6 1489,51.1 1490,50.5 1491,50.8 1492,50.3 1493,52.2 1494,50.1 1495,51.2 1496,49.9 1497,51 1498,52.1 1499,50.1 1500,52.3 1501,50.4 1502,50.1 1503,51.2 1504,50.2 1505,51.8 1506,51.8 1507,48.9 1508,49.5 1509,50.4 1510,51.7 1511,50.6 1512,50.7 1513,52 1514,50.8 1515,51.7 1516,50.5 1517,52.4 1518,53.3 1519,51.1 1520,49.6 1521,50 1522,52.5 1523,51.7 1524,52.9 1525,51.1 1526,51.1 1527,52 1528,53.2 1529,52.3 1530,51.4 1531,52.5 1532,52.6 1533,53 1534,52.5 1535,52 1536,52.6 1537,50.5 1538,52.6 1539,54 1540,53.6 1541,52.2 1542,51.4 1543,53.9 1544,52.9 1545,52.8 1546,53.3 1547,52.7 1548,53.2 1549,54.6 1550,53.2 1551,55 1552,54.2 1553,53.9 1554,54.4 1555,54.6 1556,54.7 1557,54.4 1558,53.3 1559,55.1 1560,54 1561,53.1 1562,54.6 1563,54.7 1564,54.1 1565,54.1 1566,54.6 1567,56 1568,54.5 1569,53.2 1570,53.6 1571,54.7 1572,54.3 1573,53.8 1574,55 1575,55.3 1576,54.6 1577,54.9 1578,54.2 1579,54.1 1580,54.4 1581,53.6 1582,54.9 1583,54.9 1584,54.5 1585,55 1586,55.2 1587,54.5 1588,54.5 1589,54.4 1590,56.3 1591,54.1 1592,55 1593,56.1 1594,54.6 1595,54.4 1596,54.5 1597,53.8 1598,56.3 1599,55.6 1600,54.7 1601,54.9" stroke="#CCFF00" stroke-width="4.2"/>
<polyline transform="translate(193.90 229) scale(0.8213 1)" vector-effect="non-scaling-stroke" points="1,98.6 2,99 3,99 4,99 5,99 6,99 7,99 8,99 9,99 10,99 11,99 12,99 13,99 14,99 15,99 16,99 17,99 18,99 19,99 20,99 21,99 22,99 23,99 24,99 25,99 26,99 27,99 28,99 29,99 30,99 31,98.9 32,99 33,98.9 34,98.9 35,98.9 36,98.9 37,98.7 38,98.7 39,98.8 40,98.7 41,98.8 42,98.6 43,98.6 44,98.5 45,98.2 46,98.2 47,98 48,98 49,98 50,97.6 51,97.3 52,96.7 53,96.6 54,96.3 55,95.9 56,95.5 57,95.2 58,94.3 59,93.6 60,92.1 61,91.6 62,90.4 63,88.1 64,87 65,84.5 66,82.5 67,78.9 68,74.4 69,70.3 70,62.9 71,55.2 72,47.2 73,38.4 74,28 75,20.1 76,11.3 77,2 78,-6.8 79,-9.5 80,-13.5 81,-18.1 82,-21.2 83,-22.4 84,-26.2 85,-26.2 86,-32.9 87,-35 88,-34.4 89,-35.2 90,-34.6 91,-32.6 92,-34.3 93,-33.6 94,-31.6 95,-31.5 96,-34.1 97,-35.8 98,-32 99,-36.1 100,-38.4 101,-39 102,-34.4 103,-37.5 104,-36.6 105,-36.1 106,-33.9 107,-37.6 108,-36.4 109,-35.7 110,-34 111,-36.4 112,-36.3 113,-37.2 114,-35.5 115,-35.5 116,-37.8 117,-37 118,-40.1 119,-38.6 120,-39.7 121,-39.6 122,-37.4 123,-35.4 124,-38.3 125,-39.6 126,-40.3 127,-38.9 128,-40.2 129,-38.9 130,-37.8 131,-39.2 132,-41.1 133,-39.8 134,-41.8 135,-44 136,-39.9 137,-37.8 138,-38.6 139,-41.5 140,-46.9 141,-44 142,-41.3 143,-42.7 144,-40.5 145,-43.6 146,-42.5 147,-42.8 148,-43.1 149,-46 150,-44.8 151,-44.2 152,-45.6 153,-47.7 154,-47.1 155,-48 156,-46.5 157,-45.6 158,-46.8 159,-47.3 160,-48.5 161,-48.2 162,-51.6 163,-49.1 164,-47.1 165,-49.1 166,-47.6 167,-50.7 168,-49 169,-48.9 170,-48 171,-48.4 172,-45.3 173,-53.4 174,-52.7 175,-51 176,-49.7 177,-50.8 178,-51.3 179,-53 180,-53.2 181,-52.8 182,-49.3 183,-52.8 184,-48.4 185,-50.5 186,-53.9 187,-53.1 188,-52.9 189,-57.1 190,-59.2 191,-54.9 192,-58.4 193,-56.9 194,-57.3 195,-61.9 196,-59.5 197,-59.5 198,-59 199,-61.6 200,-61.8 201,-62.2 202,-63.6 203,-61 204,-61.8 205,-61.5 206,-63.6 207,-63 208,-66.7 209,-67.2 210,-64.7 211,-66.6 212,-67.8 213,-67.4 214,-70.6 215,-68.7 216,-67.9 217,-69.6 218,-71.7 219,-67.5 220,-69.3 221,-72.8 222,-73.2 223,-75.4 224,-76.7 225,-77.6 226,-76.4 227,-74.5 228,-74.1 229,-76.1 230,-75.1 231,-76.2 232,-80.1 233,-81 234,-79.7 235,-79.4 236,-79.3 237,-84.3 238,-87.1 239,-81 240,-84.3 241,-83.6 242,-85.5 243,-89.1 244,-85.3 245,-86.6 246,-85.7 247,-87.6 248,-91.5 249,-91 250,-89.4 251,-92.8 252,-92.5 253,-91 254,-95.6 255,-95.5 256,-94.4 257,-92.5 258,-93.6 259,-94.5 260,-91.8 261,-92.8 262,-90.9 263,-90.3 264,-91.2 265,-89.4 266,-88.3 267,-92.6 268,-90.1 269,-90.5 270,-91 271,-90.3 272,-88.1 273,-90.1 274,-90.9 275,-92.7 276,-91.1 277,-90.3 278,-92 279,-91.2 280,-89.6 281,-87.7 282,-90.5 283,-87.1 284,-88.2 285,-88.9 286,-89.6 287,-90.7 288,-92.4 289,-91.8 290,-91.5 291,-91.4 292,-89 293,-87.8 294,-90.4 295,-90 296,-92.6 297,-95.2 298,-91.7 299,-89.8 300,-87.1 301,-84.3 302,-87.2 303,-85.7 304,-85.1 305,-86.2 306,-84.9 307,-85 308,-82.5 309,-86.2 310,-89 311,-84.7 312,-82 313,-81.1 314,-83.6 315,-81.9 316,-83.2 317,-80.9 318,-82.6 319,-83.4 320,-79.7 321,-82.8 322,-83.9 323,-80 324,-80.4 325,-84.8 326,-79.4 327,-82.2 328,-81.6 329,-80.5 330,-76.3 331,-78.8 332,-77.5 333,-78.6 334,-77.4 335,-80 336,-77.8 337,-78 338,-78.4 339,-75.8 340,-73.5 341,-73.6 342,-74.5 343,-72.3 344,-74.3 345,-71.7 346,-69.7 347,-69.5 348,-68.8 349,-67.1 350,-67.1 351,-66 352,-63.6 353,-67.1 354,-62.1 355,-61.8 356,-61.9 357,-63.4 358,-62.3 359,-61.8 360,-59.1 361,-58.1 362,-56.6 363,-57.4 364,-60.4 365,-58.5 366,-56.2 367,-54 368,-55.8 369,-53.5 370,-51.7 371,-51.8 372,-50.6 373,-45.8 374,-48.1 375,-45.2 376,-46.7 377,-48.3 378,-46.1 379,-46.6 380,-45.9 381,-48.7 382,-44.8 383,-44.8 384,-41.9 385,-42.5 386,-43.2 387,-44.1 388,-42.3 389,-42.3 390,-42.7 391,-38.5 392,-40.4 393,-39.1 394,-37.6 395,-38.8 396,-38.4 397,-38.3 398,-37.3 399,-37.4 400,-37.4 401,-37.8 402,-38.8 403,-38.8 404,-39 405,-37.7 406,-35.6 407,-38.5 408,-38.6 409,-39 410,-37.6 411,-35.5 412,-37.1 413,-36.5 414,-40.2 415,-37.6 416,-35.8 417,-37.2 418,-39 419,-36 420,-36.1 421,-33.2 422,-36.1 423,-36.1 424,-36.2 425,-35.5 426,-38.1 427,-33.8 428,-33.8 429,-35.2 430,-35.6 431,-34.2 432,-34 433,-35.1 434,-34.9 435,-33.9 436,-34.8 437,-34.8 438,-34.8 439,-34.6 440,-35.9 441,-35.5 442,-33.3 443,-32.2 444,-33.2 445,-38.6 446,-36.5 447,-32.9 448,-30.3 449,-30.5 450,-32.6 451,-33.1 452,-33.2 453,-29.8 454,-31.2 455,-33.3 456,-30.7 457,-30.1 458,-34.3 459,-33 460,-30 461,-29.4 462,-32.5 463,-31.2 464,-29.4 465,-29.8 466,-31.8 467,-30.8 468,-29.2 469,-29 470,-31.1 471,-26.5 472,-28.5 473,-31.5 474,-30.2 475,-33.2 476,-30.8 477,-29.1 478,-25.1 479,-27.5 480,-27.8 481,-27 482,-27.5 483,-28.7 484,-26 485,-26.5 486,-25.1 487,-25.4 488,-28.3 489,-28 490,-27.7 491,-27.5 492,-26.1 493,-26.6 494,-27.6 495,-24.3 496,-23.6 497,-25.5 498,-27.3 499,-26.9 500,-26.8 501,-26.9 502,-26.9 503,-25.1 504,-24.5 505,-24.2 506,-26 507,-24.6 508,-21.6 509,-23.5 510,-24.8 511,-20.4 512,-22.9 513,-24.8 514,-22.8 515,-24.5 516,-24.4 517,-22.2 518,-24 519,-25.6 520,-22.7 521,-21.7 522,-24.7 523,-23.8 524,-21.3 525,-22 526,-21.3 527,-22.3 528,-23.2 529,-23.2 530,-22.7 531,-21.8 532,-25.6 533,-25.3 534,-22.2 535,-20.6 536,-22.1 537,-21.5 538,-22.7 539,-23.3 540,-21.1 541,-20.9 542,-21.5 543,-22.6 544,-20.8 545,-20.4 546,-20.6 547,-20.4 548,-20.6 549,-19.3 550,-19.1 551,-17.1 552,-17.1 553,-19.2 554,-21.2 555,-18.8 556,-19.9 557,-17.2 558,-20.7 559,-20 560,-16.9 561,-18.3 562,-17.7 563,-17.4 564,-19 565,-17.4 566,-19.3 567,-18.9 568,-15.2 569,-17.6 570,-17.4 571,-19.2 572,-16.2 573,-18.5 574,-18.8 575,-18.5 576,-18.8 577,-19.5 578,-17.9 579,-17.8 580,-17.2 581,-18.2 582,-18.3 583,-17.3 584,-16.6 585,-17.7 586,-16.7 587,-16.6 588,-14.8 589,-14.9 590,-15.1 591,-14.3 592,-16.3 593,-14 594,-14.9 595,-16.1 596,-15 597,-16.6 598,-13.1 599,-14.2 600,-17 601,-16.9 602,-15.9 603,-15.7 604,-14.3 605,-13.4 606,-13 607,-13.6 608,-15.7 609,-13.3 610,-12.5 611,-16.7 612,-15.7 613,-15 614,-15.4 615,-13 616,-13.3 617,-13.9 618,-15.7 619,-17.2 620,-15.8 621,-15.3 622,-15.4 623,-17 624,-16.5 625,-14.8 626,-13.4 627,-14.3 628,-14.1 629,-13.7 630,-13.6 631,-11.9 632,-14.2 633,-13.3 634,-15.1 635,-12 636,-11.9 637,-11.6 638,-12.7 639,-13.2 640,-14.8 641,-13 642,-11.1 643,-16.4 644,-11.5 645,-13.7 646,-12.7 647,-14.1 648,-13.6 649,-12.1 650,-13.2 651,-10.8 652,-12.7 653,-12.5 654,-14.1 655,-14.4 656,-14.3 657,-13.1 658,-11.4 659,-13.4 660,-15.8 661,-15.4 662,-16.4 663,-14.2 664,-14.4 665,-16.2 666,-15.7 667,-13.9 668,-14.3 669,-16 670,-14.7 671,-15 672,-16.5 673,-16 674,-13.6 675,-17.4 676,-15.6 677,-16.8 678,-16.2 679,-16.5 680,-17 681,-17.9 682,-18 683,-17.2 684,-17.6 685,-20.5 686,-18.7 687,-16.8 688,-16.9 689,-17.6 690,-20.2 691,-16.8 692,-15.4 693,-13.6 694,-16.1 695,-15.4 696,-15.2 697,-14.7 698,-16.5 699,-15.2 700,-14.8 701,-14.8 702,-12.1 703,-14.5 704,-14.9 705,-12.7 706,-14.6 707,-12.7 708,-13.2 709,-14.8 710,-15.2 711,-14 712,-14.1 713,-13.7 714,-14.4 715,-12.8 716,-14.1 717,-14 718,-13.4 719,-14.7 720,-13.6 721,-13.1 722,-14.6 723,-15.4 724,-11.3 725,-12.4 726,-12.5 727,-13.1 728,-10.1 729,-11.8 730,-14.4 731,-11.7 732,-12.9 733,-11.3 734,-11.6 735,-9.8 736,-10.4 737,-11.7 738,-9.5 739,-7.2 740,-11.2 741,-9.8 742,-10.3 743,-10.4 744,-12.6 745,-12.7 746,-9.3 747,-10.3 748,-11.5 749,-8.5 750,-8.6 751,-9.3 752,-11.7 753,-10.7 754,-8.4 755,-12.6 756,-12.9 757,-11.6 758,-8.8 759,-9.2 760,-9 761,-9.2 762,-9.3 763,-7.8 764,-4.1 765,-7.6 766,-7.2 767,-9.2 768,-6.9 769,-8.2 770,-8.5 771,-9.3 772,-9.9 773,-9.8 774,-10.3 775,-10.9 776,-6.8 777,-7.8 778,-7.5 779,-8 780,-10.8 781,-9.4 782,-10.2 783,-10.3 784,-9.3 785,-8.7 786,-8.7 787,-8.6 788,-9.1 789,-8.8 790,-7 791,-5.4 792,-6.6 793,-8.7 794,-8.2 795,-7.3 796,-7.1 797,-6.8 798,-6.7 799,-7.8 800,-9 801,-10.9 802,-7.8 803,-7.7 804,-9.8 805,-9.1 806,-9.5 807,-9.7 808,-6.7 809,-9 810,-5.8 811,-8.6 812,-10.1 813,-9.2 814,-5.9 815,-8.7 816,-8.6 817,-12.2 818,-9.2 819,-11.1 820,-9.9 821,-7.5 822,-9.1 823,-8.2 824,-9.1 825,-9.4 826,-8.5 827,-7.1 828,-8.1 829,-8.5 830,-9.7 831,-10.9 832,-8.6 833,-8.5 834,-7.9 835,-6.7 836,-6.7 837,-9.1 838,-8.1 839,-8 840,-8.9 841,-12.1 842,-11.1 843,-10 844,-8.9 845,-10.5 846,-12.6 847,-9.4 848,-10.9 849,-12.2 850,-11.2 851,-11 852,-12.3 853,-13.4 854,-13.7 855,-11.9 856,-13 857,-12.5 858,-15.7 859,-14.3 860,-13.6 861,-13.5 862,-15.4 863,-13.5 864,-10.1 865,-11 866,-12.1 867,-12.1 868,-12.5 869,-10.1 870,-10.6 871,-10.1 872,-7.9 873,-7.3 874,-7.5 875,-10.5 876,-9.5 877,-6.6 878,-9.1 879,-6.3 880,-7.2 881,-6.1 882,-7.5 883,-8.8 884,-8.7 885,-5.3 886,-6.9 887,-8.5 888,-5.9 889,-8.4 890,-7.2 891,-6.2 892,-6.3 893,-6.4 894,-7.2 895,-10.8 896,-7.9 897,-7.5 898,-7.5 899,-6.2 900,-5.1 901,-5.3 902,-3.2 903,-1.4 904,-3.4 905,-4.3 906,-5.4 907,-2.7 908,-4.9 909,-.6 910,-.2 911,-2 912,-.5 913,-1.8 914,-2.2 915,.5 916,-1 917,.5 918,.7 919,3.1 920,2.3 921,4 922,3.7 923,1.7 924,1.1 925,.1 926,2.8 927,0 928,2 929,.7 930,2.8 931,5.2 932,3.6 933,3.7 934,3.8 935,4.8 936,2.7 937,4.2 938,4.3 939,3 940,2.8 941,5.5 942,5.3 943,4.7 944,2.9 945,3.1 946,1.8 947,.9 948,2.3 949,2.4 950,1.4 951,1.3 952,3.3 953,2.7 954,1.1 955,5.4 956,1.6 957,3.1 958,2.2 959,4.3 960,4.2 961,5.6 962,4.8 963,4 964,6.9 965,5.9 966,5.6 967,5.9 968,5.4 969,6.9 970,9.1 971,9.5 972,8.2 973,8.6 974,9 975,7.5 976,10 977,9.2 978,6.5 979,9.1 980,8 981,9.3 982,10.3 983,9.3 984,9.9 985,11.6 986,8.6 987,7.3 988,9.5 989,9.8 990,12.8 991,12.1 992,11.3 993,10.5 994,8.1 995,8.5 996,10 997,10.9 998,10.4 999,11 1000,11.9 1001,10.3 1002,10.2 1003,9.6 1004,12.1 1005,8.7 1006,11 1007,11.9 1008,8.4 1009,9.6 1010,11.9 1011,9.8 1012,9.7 1013,10.4 1014,12.2 1015,11.7 1016,9.8 1017,8.6 1018,8.3 1019,10.5 1020,7.8 1021,9.1 1022,11 1023,9 1024,9.6 1025,10.2 1026,11.4 1027,9.2 1028,10.6 1029,10.9 1030,11.3 1031,9.4 1032,11.7 1033,10.8 1034,11.5 1035,10.9 1036,14.3 1037,12.8 1038,15 1039,12.3 1040,12.2 1041,14.5 1042,12.9 1043,13.5 1044,14.7 1045,13.2 1046,12.6 1047,13.2 1048,14.9 1049,14.7 1050,15.7 1051,14.2 1052,13.7 1053,13 1054,13.9 1055,13.9 1056,14.5 1057,13.8 1058,14 1059,14.7 1060,16.5 1061,15.4 1062,14.9 1063,16.9 1064,17.9 1065,16.2 1066,15.9 1067,14.3 1068,14.3 1069,16.4 1070,18.6 1071,19.7 1072,18.7 1073,17.1 1074,18.1 1075,16.1 1076,17.3 1077,16.4 1078,17.6 1079,19.6 1080,20.9 1081,18.8 1082,18.5 1083,16.2 1084,16.9 1085,19.7 1086,19.9 1087,19.4 1088,18.9 1089,20.3 1090,18.4 1091,18 1092,21.6 1093,18 1094,18.7 1095,18.1 1096,20.1 1097,18.6 1098,18.1 1099,18.1 1100,19.5 1101,17.7 1102,16.8 1103,18.3 1104,18.5 1105,19.6 1106,18.8 1107,18.4 1108,19.4 1109,19.9 1110,20.7 1111,19.8 1112,17.5 1113,19.2 1114,19.7 1115,19.7 1116,20.5 1117,19.8 1118,21.3 1119,20.1 1120,21.8 1121,19.4 1122,17.4 1123,18.8 1124,23.6 1125,21 1126,20.5 1127,21.1 1128,20.5 1129,21.2 1130,21.3 1131,23.6 1132,23.1 1133,21.9 1134,22.3 1135,22.3 1136,20.4 1137,22.7 1138,21.3 1139,22.6 1140,22.2 1141,23.1 1142,23.9 1143,23.2 1144,21.8 1145,21.8 1146,23 1147,22.1 1148,22 1149,22.4 1150,22.3 1151,23.3 1152,22.5 1153,23 1154,22.3 1155,21.1 1156,23.9 1157,24.8 1158,23.3 1159,24.5 1160,24.4 1161,22.7 1162,25.1 1163,22.2 1164,23.7 1165,25.2 1166,23.4 1167,26.2 1168,24.4 1169,26.1 1170,25 1171,25.8 1172,25.3 1173,27.9 1174,26.4 1175,26.8 1176,26.7 1177,26.1 1178,25.6 1179,26.4 1180,27.3 1181,27.4 1182,27.1 1183,26.4 1184,27.3 1185,25.7 1186,26.5 1187,24.6 1188,25.7 1189,26.8 1190,25.6 1191,25.7 1192,28.2 1193,28.3 1194,29 1195,29.3 1196,28.9 1197,29 1198,28.6 1199,29.7 1200,26.9 1201,27.9 1202,29.6 1203,29.8 1204,29 1205,28.5 1206,29.8 1207,29.1 1208,27.9 1209,30.3 1210,29.2 1211,29.6 1212,27.8 1213,26.5 1214,29.7 1215,31.8 1216,27.8 1217,29 1218,30.6 1219,30.6 1220,30.5 1221,30.4 1222,29.5 1223,31.6 1224,32.1 1225,31.5 1226,28.5 1227,32.4 1228,31.5 1229,31.8 1230,33.6 1231,33.3 1232,31.8 1233,32.8 1234,32.7 1235,31.4 1236,32 1237,30.2 1238,30.1 1239,32.1 1240,33.9 1241,31.7 1242,33.6 1243,33.1 1244,34.7 1245,32.9 1246,36.1 1247,34.2 1248,33 1249,33.5 1250,31.5 1251,33.4 1252,33.3 1253,34.1 1254,33.5 1255,30.9 1256,30.5 1257,32.7 1258,32.6 1259,34.8 1260,33.3 1261,34.6 1262,34.4 1263,36.1 1264,35.1 1265,35 1266,33.8 1267,35.1 1268,35.8 1269,35.1 1270,35.9 1271,34.3 1272,34.9 1273,35.8 1274,35.3 1275,36.9 1276,36.7 1277,35.3 1278,34.8 1279,35.8 1280,35.3 1281,35.6 1282,35 1283,36.9 1284,36.8 1285,36.9 1286,37.6 1287,34.5 1288,36.4 1289,36.7 1290,37.7 1291,37.8 1292,37.8 1293,38.7 1294,35.7 1295,35.9 1296,38.5 1297,39.3 1298,37.1 1299,38.7 1300,38.9 1301,36.6 1302,36.9 1303,38.1 1304,38 1305,39.9 1306,39.1 1307,39.2 1308,37.7 1309,36.9 1310,37.5 1311,39.7 1312,40.7 1313,38.1 1314,38.3 1315,36.1 1316,39.5 1317,37.8 1318,39.5 1319,40.4 1320,37.9 1321,37.8 1322,39.6 1323,40.7 1324,39 1325,38.1 1326,39.5 1327,40.8 1328,38.6 1329,38.4 1330,40.5 1331,39.9 1332,38.7 1333,39.3 1334,39.9 1335,40.5 1336,39.7 1337,39.1 1338,37.2 1339,39 1340,39.3 1341,38.9 1342,38.4 1343,38.3 1344,39 1345,37.7 1346,36.3 1347,38.1 1348,37 1349,36.6 1350,37.2 1351,36.4 1352,36.2 1353,34.9 1354,37 1355,34.8 1356,37.2 1357,35.4 1358,35.8 1359,36.7 1360,38.6 1361,38.7 1362,38.4 1363,37.9 1364,40.5 1365,40.4 1366,40.9 1367,40.5 1368,40.2 1369,41.3 1370,41.2 1371,42 1372,41.2 1373,39.4 1374,41.3 1375,41.1 1376,40.8 1377,37.9 1378,39.7 1379,41.3 1380,40.8 1381,41.6 1382,42.2 1383,41.8 1384,40.8 1385,42.1 1386,42.4 1387,41.9 1388,40.2 1389,40.7 1390,42.9 1391,42.4 1392,40.7 1393,42.1 1394,42.8 1395,43.5 1396,43.5 1397,43.5 1398,42.5 1399,41.5 1400,42.4 1401,44.7 1402,42.3 1403,44.2 1404,42.4 1405,42.2 1406,43.7 1407,43.2 1408,43.6 1409,42.9 1410,44.1 1411,45.1 1412,43.1 1413,44.6 1414,45 1415,45.4 1416,42.6 1417,45.1 1418,43.9 1419,44.4 1420,44.5 1421,44 1422,44.1 1423,44.3 1424,45.3 1425,46.1 1426,45.3 1427,46.2 1428,45.9 1429,46.8 1430,44.7 1431,45.7 1432,45.9 1433,46.1 1434,46.4 1435,47 1436,46.5 1437,46.8 1438,46.2 1439,46.3 1440,45.9 1441,47.5 1442,47.7 1443,48.2 1444,46.7 1445,46.7 1446,49.3 1447,48.6 1448,46 1449,47.7 1450,47.8 1451,47.2 1452,47.2 1453,46.7 1454,47 1455,46.9 1456,46.5 1457,47.2 1458,47 1459,48.5 1460,49.1 1461,48.2 1462,47.8 1463,48.8 1464,48.3 1465,50.2 1466,46.4 1467,45.8 1468,47.1 1469,48.9 1470,49.5 1471,48.5 1472,48.7 1473,48.6 1474,49.4 1475,51 1476,47.4 1477,50.8 1478,50.6 1479,49.2 1480,49.8 1481,49.5 1482,49.9 1483,50.1 1484,50.4 1485,48.9 1486,50.1 1487,49.3 1488,49.5 1489,50.6 1490,49.8 1491,50.3 1492,50.5 1493,50.4 1494,49.2 1495,50.6 1496,50.7 1497,52.6 1498,50.1 1499,51.4 1500,50.5 1501,50.4 1502,52.3 1503,51.1 1504,51.6 1505,51.2 1506,50.2 1507,50.7 1508,50.7 1509,50.9 1510,52.9 1511,52.1 1512,49.8 1513,52.8 1514,52.1 1515,52.4 1516,53.1 1517,51.1 1518,51.8 1519,51.6 1520,51.4 1521,51.4 1522,51.9 1523,53 1524,52.9 1525,52.4 1526,53.2 1527,50.2 1528,51.7 1529,52.5 1530,52.6 1531,53.6 1532,52.8 1533,53.7 1534,52.6 1535,53.1 1536,52.8 1537,52.4 1538,53.1 1539,53.3 1540,52.1 1541,53.5 1542,52.8 1543,53 1544,50.6 1545,52.5 1546,51.3 1547,53.5 1548,52.6 1549,52.7 1550,53 1551,52.1 1552,53.1 1553,52.3 1554,53 1555,54.2 1556,54.8 1557,55.1 1558,53.7 1559,52.8 1560,54 1561,55.3 1562,53.3 1563,54.9 1564,54.1 1565,51.6 1566,53.6 1567,55.7 1568,55.1 1569,55.2 1570,54.8 1571,52.8 1572,51.9 1573,53 1574,53.9 1575,53.5 1576,53.6 1577,55.1 1578,56 1579,53.4 1580,53.4 1581,54.4 1582,54.6 1583,52.7 1584,57 1585,56.1 1586,55.4 1587,53.4 1588,54.9 1589,54.1 1590,55.4 1591,55.5 1592,55.3 1593,55.7 1594,54.9 1595,55.4 1596,53.4 1597,55.7 1598,55.5 1599,57.7 1600,56.2 1601,53.6" stroke="#00FF66" stroke-width="4.2"/>
<polyline transform="translate(193.90 229) scale(0.8213 1)" vector-effect="non-scaling-stroke" points="1,99.2 2,99 3,99 4,99 5,99 6,99 7,99 8,99 9,99 10,99 11,99 12,99 13,99 14,99 15,99 16,99 17,99 18,99 19,99 20,99 21,99 22,99 23,99 24,99 25,99 26,99 27,99 28,99 29,98.9 30,98.9 31,99 32,99 33,98.9 34,98.9 35,98.9 36,98.9 37,98.9 38,98.8 39,98.8 40,98.8 41,98.7 42,98.6 43,98.6 44,98.5 45,98.5 46,98.4 47,98.4 48,98.2 49,97.9 50,97.6 51,97.4 52,97.4 53,96.8 54,96.3 55,95.8 56,95.7 57,94.9 58,93.6 59,93.8 60,93 61,92.2 62,91.1 63,89.6 64,87.8 65,85.4 66,82.3 67,78 68,73.7 69,70.2 70,64.9 71,57.3 72,48.5 73,41.1 74,31.6 75,22.5 76,13.5 77,4.5 78,-2.5 79,-6.5 80,-9.2 81,-12.5 82,-18.3 83,-20.3 84,-22.7 85,-23.9 86,-27.9 87,-27.5 88,-30.9 89,-27.8 90,-30.2 91,-32.4 92,-27.8 93,-31.4 94,-30.9 95,-31.4 96,-28.7 97,-33.9 98,-30.7 99,-32.9 100,-28.9 101,-27.2 102,-29 103,-32 104,-29.6 105,-27.6 106,-30.2 107,-31.9 108,-29.4 109,-33.2 110,-32.9 111,-32.9 112,-33.5 113,-32.9 114,-35.5 115,-38.4 116,-40.1 117,-39.1 118,-38.3 119,-37.3 120,-37.3 121,-40 122,-37.2 123,-37.9 124,-34.8 125,-36.3 126,-36.6 127,-36.9 128,-34.5 129,-35.6 130,-31.5 131,-32.9 132,-36.9 133,-35.8 134,-33.7 135,-33.8 136,-34.3 137,-35.2 138,-38.4 139,-39.2 140,-36 141,-37.7 142,-37.5 143,-36.7 144,-40.7 145,-41.9 146,-38.5 147,-39.9 148,-40.3 149,-38.4 150,-40.5 151,-41.1 152,-40.9 153,-44.4 154,-40 155,-41.3 156,-43.4 157,-41.2 158,-44 159,-44.4 160,-45.3 161,-44 162,-44.5 163,-43.2 164,-44.4 165,-43.4 166,-42.9 167,-43.1 168,-43.2 169,-43.8 170,-45.5 171,-47.8 172,-44.6 173,-46.7 174,-44.7 175,-45 176,-45.4 177,-45.6 178,-45 179,-47.7 180,-46.5 181,-45.2 182,-45.7 183,-45.7 184,-48.2 185,-48.8 186,-46.1 187,-48.2 188,-49.7 189,-49.2 190,-52.6 191,-52.6 192,-52.1 193,-53.3 194,-51.5 195,-53.4 196,-53.7 197,-57 198,-57 199,-57.4 200,-57.1 201,-57.5 202,-58.8 203,-58.5 204,-56.2 205,-59.5 206,-61.8 207,-59.4 208,-58.7 209,-61.2 210,-60.8 211,-66 212,-63.3 213,-63.9 214,-60.6 215,-63.5 216,-61.9 217,-65.2 218,-66.5 219,-67.4 220,-69.1 221,-68.8 222,-66.3 223,-70.7 224,-69.4 225,-67.6 226,-69.2 227,-69.6 228,-70.3 229,-70.6 230,-75.4 231,-71.1 232,-72.6 233,-75.3 234,-76 235,-76.4 236,-75.8 237,-79.5 238,-81.1 239,-82 240,-78.9 241,-82 242,-81.5 243,-84 244,-83.2 245,-84.2 246,-85.5 247,-82.9 248,-84.7 249,-87.6 250,-82.5 251,-87.6 252,-89.5 253,-90.7 254,-85.2 255,-86.7 256,-87.3 257,-86 258,-87.6 259,-86.9 260,-84.9 261,-87.1 262,-86.5 263,-87.3 264,-87.6 265,-85.2 266,-86.2 267,-87 268,-90.9 269,-89.9 270,-89.1 271,-87.8 272,-86.9 273,-87.2 274,-87.9 275,-87.1 276,-87 277,-86 278,-90.7 279,-86.7 280,-84 281,-85.2 282,-88.4 283,-89.9 284,-88.7 285,-86 286,-87.4 287,-92 288,-95.3 289,-89.6 290,-84.4 291,-90.7 292,-90.4 293,-88.8 294,-88 295,-86.7 296,-90.7 297,-88.1 298,-88.2 299,-85.2 300,-84.9 301,-83.2 302,-86.6 303,-86.8 304,-85.6 305,-84.5 306,-84.4 307,-84.9 308,-83.5 309,-84.6 310,-79.9 311,-81.2 312,-82.8 313,-80.3 314,-82.5 315,-79.4 316,-79.7 317,-76 318,-77 319,-79.4 320,-76.7 321,-77.2 322,-76.4 323,-82.6 324,-79.2 325,-78 326,-74.7 327,-78 328,-76.1 329,-76.2 330,-78.1 331,-76.7 332,-74 333,-74.3 334,-74 335,-73.3 336,-72.5 337,-71.5 338,-71.6 339,-73.6 340,-71.3 341,-69.7 342,-66.3 343,-69.5 344,-65.3 345,-67.1 346,-63.1 347,-67.2 348,-64.2 349,-65.9 350,-64.2 351,-61.7 352,-59.6 353,-61.2 354,-59.8 355,-61.1 356,-57.4 357,-60.1 358,-56.5 359,-55.8 360,-60.2 361,-58.6 362,-59.3 363,-55.9 364,-56.2 365,-53.3 366,-55.2 367,-55.1 368,-55.1 369,-52.9 370,-51.2 371,-50.8 372,-49.8 373,-48.3 374,-48.9 375,-49.5 376,-49.8 377,-48.6 378,-47.6 379,-44.8 380,-44 381,-46.1 382,-44 383,-45.4 384,-42.6 385,-45.5 386,-41.8 387,-42.4 388,-41.9 389,-42 390,-43.3 391,-41.4 392,-40.9 393,-39.5 394,-39.2 395,-38 396,-38.6 397,-41.1 398,-38.4 399,-40.6 400,-40.2 401,-38.7 402,-39.7 403,-39.2 404,-36.8 405,-38.8 406,-39.6 407,-40.2 408,-33.9 409,-37.5 410,-37.8 411,-37.5 412,-35.7 413,-37.9 414,-38.9 415,-38.1 416,-38.4 417,-39.4 418,-40.2 419,-37.3 420,-37.3 421,-34.6 422,-36.9 423,-37.1 424,-34.6 425,-38.4 426,-35.5 427,-37.1 428,-38 429,-35.7 430,-35.5 431,-37.4 432,-35.6 433,-33 434,-33.6 435,-34.8 436,-36 437,-35.4 438,-34.3 439,-35.1 440,-34.2 441,-33.1 442,-36.6 443,-34.7 444,-33.6 445,-34.6 446,-35.3 447,-32.1 448,-33.7 449,-34.1 450,-34.7 451,-34.4 452,-34.2 453,-33.7 454,-35.7 455,-36.1 456,-34.6 457,-33.7 458,-33.8 459,-31.9 460,-32.4 461,-31.4 462,-31.8 463,-35.5 464,-32.1 465,-29.7 466,-31.2 467,-31.8 468,-33.4 469,-31.5 470,-32.8 471,-34.2 472,-31.3 473,-29.7 474,-31 475,-31.1 476,-31.7 477,-28.3 478,-29.3 479,-30.6 480,-30.7 481,-29.9 482,-28.2 483,-30.2 484,-31.1 485,-29.3 486,-29.5 487,-31.5 488,-29.8 489,-29.5 490,-29.6 491,-28.7 492,-28.2 493,-26 494,-26.9 495,-26.8 496,-28.5 497,-28.1 498,-28.9 499,-29 500,-26.6 501,-24.1 502,-25.7 503,-26.5 504,-26.3 505,-25.8 506,-26.9 507,-27.1 508,-26 509,-24.2 510,-26.1 511,-29 512,-25.9 513,-25.9 514,-27.4 515,-27.7 516,-31 517,-28.1 518,-26.5 519,-25.1 520,-25.7 521,-27.1 522,-26.4 523,-25.5 524,-24.5 525,-24.7 526,-23.8 527,-27.6 528,-25.3 529,-24.4 530,-26.1 531,-24.7 532,-25.3 533,-26.4 534,-26.6 535,-23.9 536,-23.2 537,-22.3 538,-22.6 539,-23 540,-25.2 541,-24.3 542,-24.1 543,-20.7 544,-24.1 545,-25.5 546,-25.1 547,-22 548,-23.6 549,-22.1 550,-23.4 551,-21.4 552,-24.6 553,-23.7 554,-21.8 555,-22.6 556,-23.7 557,-20.4 558,-23.7 559,-23.7 560,-20.6 561,-19.1 562,-21.3 563,-23.5 564,-23.8 565,-23.2 566,-21.8 567,-19.5 568,-19.6 569,-19.5 570,-21.5 571,-20.1 572,-19.6 573,-19.4 574,-20.5 575,-21.3 576,-19.1 577,-17.9 578,-20.3 579,-19.9 580,-18.6 581,-17.6 582,-17.1 583,-19.4 584,-18.1 585,-21.1 586,-23.2 587,-20.9 588,-19.2 589,-21.5 590,-20 591,-19.1 592,-19.2 593,-18.7 594,-17.3 595,-19 596,-19.6 597,-18.1 598,-17 599,-18.9 600,-16.7 601,-17 602,-18.7 603,-18.5 604,-19.4 605,-17.5 606,-17.8 607,-15.3 608,-21.1 609,-20.5 610,-19.1 611,-17.4 612,-18.3 613,-19 614,-17.4 615,-18.2 616,-17.5 617,-16.3 618,-16 619,-19.4 620,-19 621,-17 622,-17.5 623,-18.5 624,-16.7 625,-16.9 626,-16.5 627,-15.8 628,-17.4 629,-15.7 630,-16.4 631,-16.5 632,-15.4 633,-18.8 634,-19.6 635,-18.8 636,-15.8 637,-16.2 638,-17.3 639,-18.2 640,-19.2 641,-16.6 642,-16.5 643,-16 644,-15.2 645,-15.9 646,-14.6 647,-16.8 648,-14.7 649,-15.6 650,-17.3 651,-16.6 652,-13.8 653,-18 654,-18.3 655,-18 656,-17.3 657,-17.4 658,-15.1 659,-17.7 660,-17.3 661,-18.9 662,-20.4 663,-19.5 664,-19.6 665,-18.6 666,-17.7 667,-20.3 668,-19 669,-21.8 670,-18.9 671,-22.9 672,-22.9 673,-21.9 674,-22.9 675,-24.5 676,-22.6 677,-24.8 678,-22.9 679,-26.2 680,-23.8 681,-23.8 682,-24.7 683,-24.5 684,-26.6 685,-27.2 686,-25.9 687,-28.5 688,-27.6 689,-26.5 690,-25.5 691,-24.4 692,-26.2 693,-22.2 694,-19.9 695,-17.4 696,-17 697,-18.6 698,-18.4 699,-19.2 700,-18.7 701,-18.9 702,-16.6 703,-17.1 704,-17.1 705,-18.4 706,-18.4 707,-17.5 708,-19.1 709,-17.7 710,-16.8 711,-18.5 712,-18 713,-18.8 714,-15.4 715,-16.1 716,-15.4 717,-16.8 718,-17.9 719,-16.8 720,-14.4 721,-13.5 722,-14.6 723,-15.9 724,-15.5 725,-14.4 726,-17 727,-15 728,-16.7 729,-15.7 730,-14.7 731,-15.1 732,-15.5 733,-13.8 734,-15.8 735,-16.1 736,-16.9 737,-15.4 738,-14.3 739,-15.2 740,-17.9 741,-15 742,-13.9 743,-15.8 744,-15.2 745,-14.5 746,-15.3 747,-14 748,-13.7 749,-15.3 750,-17.7 751,-15.6 752,-11.8 753,-11.4 754,-13.5 755,-14.9 756,-11.6 757,-11.9 758,-11.3 759,-10.3 760,-11.9 761,-12.7 762,-13.9 763,-12.8 764,-13.9 765,-11.3 766,-12.4 767,-10.2 768,-12.2 769,-11.6 770,-13 771,-11.1 772,-13 773,-10.7 774,-11.3 775,-14.8 776,-15 777,-12.8 778,-12.9 779,-10.3 780,-13.7 781,-13.6 782,-13.1 783,-12.7 784,-10.6 785,-12.6 786,-15.1 787,-11.2 788,-11.8 789,-14.7 790,-14.1 791,-13.4 792,-12.7 793,-11.7 794,-13 795,-13.7 796,-14.4 797,-13.5 798,-13 799,-12.4 800,-15.9 801,-15 802,-12.9 803,-11 804,-11.8 805,-16.5 806,-17 807,-13.6 808,-13.7 809,-13.9 810,-11.4 811,-15.1 812,-13.1 813,-14.1 814,-15.5 815,-17.9 816,-17.2 817,-13.4 818,-14.7 819,-14.3 820,-14.5 821,-15.6 822,-14.3 823,-14.4 824,-14.7 825,-14.3 826,-14.3 827,-12.4 828,-12.2 829,-10.1 830,-11.3 831,-12.2 832,-13.3 833,-9.6 834,-6.2 835,-9 836,-12.6 837,-9.1 838,-10.5 839,-9.3 840,-9.5 841,-9.3 842,-10.2 843,-11.1 844,-9.6 845,-11.2 846,-9.9 847,-12.1 848,-11.9 849,-13.2 850,-11.5 851,-13.5 852,-14.4 853,-12.2 854,-12.7 855,-13.6 856,-15.2 857,-14.3 858,-13.4 859,-12.9 860,-14.5 861,-13.1 862,-15.8 863,-13.6 864,-14.1 865,-11.9 866,-12.5 867,-8.6 868,-10.1 869,-9.9 870,-12.9 871,-12.1 872,-8.4 873,-9.8 874,-7.7 875,-9.4 876,-7.9 877,-9.2 878,-7.8 879,-6.9 880,-6.4 881,-8.3 882,-9.3 883,-6.9 884,-6.6 885,-5.9 886,-8.1 887,-5.9 888,-6.4 889,-7.7 890,-7 891,-4.8 892,-5.2 893,-5.3 894,-5.2 895,-5.7 896,-3.5 897,-4.5 898,-6.6 899,-6.8 900,-5.5 901,-4.8 902,-3.2 903,-7.1 904,-3.4 905,-1.8 906,-3.6 907,-1.7 908,-3.5 909,-3.2 910,-3.3 911,-.4 912,-.2 913,-.1 914,-2.8 915,-1.5 916,-2.4 917,-.7 918,.5 919,2 920,.6 921,1 922,.9 923,0 924,3.6 925,2.9 926,4.2 927,3.9 928,1.2 929,1.6 930,3.6 931,4.3 932,4.3 933,3.3 934,4.2 935,2 936,2.4 937,1.4 938,3.8 939,3.6 940,3.7 941,2.5 942,-.8 943,.8 944,2.4 945,2.4 946,3.4 947,3.9 948,1.7 949,3 950,.1 951,2.6 952,-.4 953,2.3 954,-.6 955,2.3 956,4.5 957,2.6 958,3.4 959,4.3 960,-.2 961,0 962,3 963,2.4 964,3.3 965,7.8 966,7.8 967,6.2 968,4.4 969,5.8 970,6.1 971,5.6 972,8.1 973,4.2 974,7.9 975,6.5 976,8.4 977,7.2 978,6.4 979,6.3 980,7.6 981,8.2 982,11.8 983,10.8 984,8.5 985,6.7 986,8.2 987,9.2 988,6.4 989,8 990,10.2 991,8.3 992,6.4 993,9.1 994,10.9 995,8.9 996,8.9 997,10.3 998,9.8 999,8.1 1000,8.2 1001,8.6 1002,8.6 1003,10.1 1004,7.5 1005,8.6 1006,8.2 1007,5.5 1008,8.4 1009,8.4 1010,6.3 1011,5.3 1012,8.8 1013,10.5 1014,8.8 1015,8 1016,9.3 1017,7.8 1018,7.7 1019,9.7 1020,7.5 1021,10 1022,9.6 1023,10.8 1024,7.1 1025,10.4 1026,9.6 1027,10.3 1028,8.7 1029,8.2 1030,11.1 1031,10.9 1032,11 1033,11.3 1034,11.4 1035,8.7 1036,9.9 1037,10.3 1038,13.4 1039,13.2 1040,10.4 1041,9.1 1042,11.9 1043,12.4 1044,13.5 1045,10.6 1046,13.6 1047,12.6 1048,13.7 1049,12.8 1050,11.8 1051,11.3 1052,14 1053,8.9 1054,13.3 1055,14 1056,12.3 1057,13.9 1058,13.2 1059,11.7 1060,12.8 1061,14.3 1062,14 1063,13.1 1064,14.8 1065,15.5 1066,16.3 1067,15.3 1068,16.9 1069,14.6 1070,14.6 1071,13.6 1072,15.2 1073,15.9 1074,16 1075,14.6 1076,17.2 1077,14.5 1078,14.8 1079,12.6 1080,17.1 1081,17.9 1082,16.7 1083,17.1 1084,15.4 1085,15.2 1086,15.5 1087,17.2 1088,16.7 1089,17.3 1090,16 1091,15.4 1092,17.5 1093,17.9 1094,18.1 1095,16.9 1096,17.8 1097,15.9 1098,16 1099,18 1100,16.8 1101,16.3 1102,16.7 1103,20 1104,18.3 1105,18.7 1106,18.5 1107,21.6 1108,19.3 1109,20.2 1110,20.5 1111,19.9 1112,19.4 1113,17.6 1114,19.8 1115,22.4 1116,21 1117,22.5 1118,21.4 1119,21.4 1120,19.9 1121,20 1122,21 1123,22 1124,19.7 1125,18.8 1126,20.4 1127,20.8 1128,21.6 1129,23.4 1130,21.1 1131,23.5 1132,22.7 1133,21.8 1134,19.8 1135,23.3 1136,24.5 1137,23.1 1138,23 1139,22 1140,20 1141,21.1 1142,20.7 1143,20.8 1144,21.5 1145,22.1 1146,23.6 1147,24.9 1148,23.4 1149,24.3 1150,23.3 1151,23.2 1152,24.1 1153,23.2 1154,24.1 1155,23.6 1156,23 1157,23.3 1158,26 1159,25.2 1160,24.1 1161,24.8 1162,24 1163,24.2 1164,24.5 1165,23.1 1166,24.6 1167,25.8 1168,25.9 1169,25.5 1170,26.9 1171,25.1 1172,27 1173,27.4 1174,26.6 1175,28 1176,25.8 1177,26.5 1178,26.4 1179,25.7 1180,26.2 1181,27.3 1182,27.5 1183,27.9 1184,26.6 1185,27 1186,27.3 1187,26.8 1188,27.5 1189,25.3 1190,26 1191,27.1 1192,27.5 1193,28.8 1194,27.8 1195,30.1 1196,27.3 1197,30.3 1198,28.1 1199,27.3 1200,27.8 1201,28.2 1202,28.6 1203,28.6 1204,29.7 1205,30.4 1206,28.5 1207,30.7 1208,30.3 1209,29.9 1210,30.8 1211,30.1 1212,31.7 1213,29.2 1214,31.4 1215,30.2 1216,31.2 1217,30.3 1218,32.4 1219,31.6 1220,31.8 1221,30 1222,29.2 1223,31.1 1224,33 1225,31.9 1226,29.9 1227,33.1 1228,31.5 1229,32.5 1230,31.2 1231,31 1232,32.3 1233,29.4 1234,30.6 1235,31.7 1236,32 1237,30.7 1238,33.5 1239,32.8 1240,32.6 1241,30.9 1242,32.5 1243,33.8 1244,34.3 1245,34.2 1246,33.5 1247,33.3 1248,33.7 1249,34.5 1250,33.7 1251,33.6 1252,34.3 1253,33.9 1254,34.4 1255,34.4 1256,33.4 1257,35.8 1258,35.6 1259,33.8 1260,33.5 1261,34.1 1262,34.1 1263,33.8 1264,35.1 1265,34.8 1266,34.2 1267,36.7 1268,35.4 1269,35.7 1270,34.2 1271,34.2 1272,34.5 1273,36.6 1274,36.9 1275,35.9 1276,35.7 1277,36.5 1278,35.5 1279,35.9 1280,37.4 1281,35.8 1282,37.1 1283,36.8 1284,37 1285,36.8 1286,37.8 1287,38.2 1288,37.9 1289,35.7 1290,37.1 1291,38.7 1292,36.8 1293,35.8 1294,37.1 1295,38.5 1296,36.7 1297,38 1298,37.7 1299,37.9 1300,38.5 1301,38 1302,37.6 1303,38.3 1304,39.9 1305,39.3 1306,39.3 1307,37.7 1308,37.8 1309,37.2 1310,39.3 1311,39.9 1312,39.5 1313,39.7 1314,38.7 1315,38.5 1316,40.2 1317,39 1318,40.1 1319,41.1 1320,38.5 1321,38.2 1322,40.9 1323,40.8 1324,41.3 1325,41.6 1326,39.7 1327,41.7 1328,41.6 1329,41.2 1330,40.4 1331,39.6 1332,39 1333,38.2 1334,38.6 1335,38.7 1336,39.6 1337,38.8 1338,37.4 1339,39 1340,37 1341,38.1 1342,39.3 1343,37.1 1344,36.8 1345,37.9 1346,39.3 1347,37.9 1348,37.1 1349,37.5 1350,35.4 1351,35 1352,37 1353,37.4 1354,37 1355,36.5 1356,36.9 1357,35 1358,35.6 1359,36.9 1360,39 1361,39 1362,39.2 1363,38.5 1364,40 1365,40.9 1366,41.4 1367,40.9 1368,43 1369,40.3 1370,41.7 1371,40 1372,39.6 1373,41.6 1374,41 1375,40.4 1376,41.2 1377,44 1378,41.5 1379,41.2 1380,42.9 1381,41.5 1382,44.2 1383,41.3 1384,41.7 1385,43.2 1386,42.3 1387,41.9 1388,41 1389,42.2 1390,43.6 1391,42.7 1392,41.9 1393,44.1 1394,44.2 1395,44 1396,43.2 1397,42.5 1398,44.5 1399,43.9 1400,43.4 1401,43.5 1402,44.2 1403,44.9 1404,44.2 1405,43.7 1406,43 1407,43.8 1408,44.1 1409,44.7 1410,44.5 1411,44.1 1412,44.4 1413,45.3 1414,44.8 1415,44.7 1416,44.7 1417,44.7 1418,45.4 1419,45.9 1420,45.1 1421,45.1 1422,45.8 1423,46.3 1424,47.1 1425,44.7 1426,46.3 1427,45.6 1428,46.4 1429,47 1430,48 1431,46.1 1432,47.1 1433,44.2 1434,46 1435,44.4 1436,45.4 1437,45.4 1438,45.1 1439,46.5 1440,45.8 1441,45.6 1442,46 1443,46.5 1444,47.6 1445,46.9 1446,46.4 1447,45.6 1448,47.7 1449,48 1450,48.3 1451,47.2 1452,48.8 1453,48.6 1454,50.1 1455,48.1 1456,48.7 1457,49.8 1458,48.3 1459,48.2 1460,47.8 1461,48 1462,49.1 1463,48.8 1464,47.6 1465,50.7 1466,48.5 1467,49.7 1468,49.1 1469,49.5 1470,49.6 1471,49.9 1472,50 1473,50.9 1474,49 1475,48 1476,47.6 1477,47.2 1478,49.6 1479,48.1 1480,47.8 1481,49.6 1482,49.5 1483,49.8 1484,47.4 1485,48.3 1486,48.4 1487,49.7 1488,50.1 1489,50.5 1490,51.4 1491,53.7 1492,50.6 1493,51 1494,51.5 1495,50.7 1496,49.7 1497,51.3 1498,51.8 1499,51.5 1500,50.4 1501,48.8 1502,49.6 1503,52 1504,52.4 1505,50.5 1506,51.2 1507,52.5 1508,52.8 1509,50.8 1510,51.1 1511,51.4 1512,50.5 1513,52.9 1514,50.3 1515,51.7 1516,52.7 1517,52.4 1518,52.6 1519,50 1520,51.5 1521,52.2 1522,52.3 1523,50.9 1524,51.7 1525,51.4 1526,53.3 1527,51.9 1528,52.1 1529,52.2 1530,52.2 1531,53.9 1532,54.1 1533,53.2 1534,52.4 1535,52.2 1536,51 1537,52.5 1538,53.1 1539,52.8 1540,52.1 1541,53.9 1542,53.9 1543,53.4 1544,54.6 1545,53.7 1546,54.9 1547,53.5 1548,53.4 1549,52.9 1550,54.1 1551,53.2 1552,53.8 1553,53.8 1554,53 1555,55.5 1556,55.1 1557,53.8 1558,54.5 1559,54.3 1560,53.6 1561,55.5 1562,55.1 1563,54.7 1564,54.7 1565,54.8 1566,55 1567,54.6 1568,54.5 1569,54.5 1570,53.1 1571,54 1572,55.5 1573,56.1 1574,55 1575,54 1576,55.4 1577,54.2 1578,53.7 1579,53.4 1580,52.8 1581,56.2 1582,55.3 1583,52.5 1584,53.8 1585,53.5 1586,55.6 1587,54.8 1588,54.4 1589,55.7 1590,56.8 1591,55 1592,55.2 1593,54.6 1594,56.1 1595,55.9 1596,55.7 1597,54.9 1598,56.8 1599,55.7 1600,56.7 1601,57.1" stroke="#0066FF" stroke-width="4.2"/>
<polyline transform="translate(193.90 229) scale(0.8213 1)" vector-effect="non-scaling-stroke" points="1,99.2 2,99 3,99 4,99 5,99 6,99 7,99 8,99 9,99 10,99 11,99 12,99 13,99 14,99 15,99 16,99 17,99 18,99 19,99 20,99 21,99 22,99 23,99 24,99 25,99 26,99 27,99 28,99 29,99 30,99 31,98.9 32,99 33,98.9 34,99 35,98.9 36,98.9 37,98.9 38,98.8 39,98.8 40,98.8 41,98.7 42,98.6 43,98.6 44,98.4 45,98.5 46,98.3 47,98.1 48,98.3 49,97.9 50,97.7 51,97.3 52,97.3 53,96.9 54,96.3 55,96 56,95.8 57,95.1 58,94.8 59,94.1 60,93.7 61,91.9 62,90.7 63,89.3 64,87.5 65,85.5 66,82.7 67,80.1 68,74.8 69,70.4 70,65 71,58.5 72,49.9 73,41.5 74,32.4 75,23.9 76,14.8 77,7.9 78,2.2 79,-2.4 80,-10.2 81,-13.1 82,-16.6 83,-18.9 84,-22 85,-22.8 86,-26.4 87,-27.4 88,-28.7 89,-27 90,-28.7 91,-29.9 92,-29.6 93,-29.7 94,-30.3 95,-28.4 96,-29 97,-30.8 98,-28 99,-29.5 100,-31.7 101,-30.3 102,-31.2 103,-30.3 104,-32.4 105,-32 106,-33.9 107,-34.2 108,-32.3 109,-33.1 110,-30.5 111,-33.5 112,-33.1 113,-35.2 114,-31.8 115,-33.4 116,-36.5 117,-34.6 118,-35.4 119,-31.8 120,-32.7 121,-35.9 122,-34.1 123,-33.9 124,-35.1 125,-35.2 126,-34.9 127,-35.8 128,-34 129,-34.7 130,-34.3 131,-34.6 132,-35.4 133,-31.6 134,-33.4 135,-33.5 136,-30.4 137,-34 138,-36 139,-37.9 140,-38.1 141,-35.4 142,-38.4 143,-40.6 144,-38.3 145,-38.4 146,-36.4 147,-41.2 148,-39 149,-44 150,-40 151,-40.7 152,-43.3 153,-40.6 154,-41.8 155,-41.7 156,-42.7 157,-41.4 158,-42.1 159,-45 160,-45.5 161,-45.4 162,-42.8 163,-42.4 164,-42.8 165,-43.6 166,-44.2 167,-42.7 168,-41.6 169,-41.4 170,-40.1 171,-39.7 172,-43.1 173,-39.5 174,-40.4 175,-42.8 176,-43.3 177,-43.2 178,-45.1 179,-45.9 180,-45.1 181,-45.8 182,-50.2 183,-45.9 184,-49.1 185,-46.7 186,-47.4 187,-48.4 188,-46.7 189,-49.1 190,-50.4 191,-49 192,-49.5 193,-51.7 194,-52.8 195,-53.6 196,-52.6 197,-52.8 198,-52.9 199,-55 200,-57.2 201,-55.4 202,-52.2 203,-53.7 204,-58.8 205,-57.2 206,-58.5 207,-59.2 208,-59.9 209,-61.3 210,-63.1 211,-60.5 212,-62.7 213,-62.9 214,-62.9 215,-62.5 216,-63.6 217,-63.8 218,-64.6 219,-64 220,-64 221,-62.7 222,-64.4 223,-67.1 224,-66.2 225,-65.8 226,-68.7 227,-69.8 228,-73.2 229,-68.1 230,-69.7 231,-68.8 232,-74 233,-77.2 234,-73.7 235,-75.4 236,-74.9 237,-76.9 238,-75.2 239,-77.3 240,-78.2 241,-77.6 242,-79.6 243,-80.4 244,-78.1 245,-80.4 246,-80.9 247,-80.9 248,-82 249,-82 250,-79.9 251,-81.2 252,-86.2 253,-88.8 254,-87 255,-89.4 256,-90.8 257,-88.3 258,-87.6 259,-85.3 260,-84.1 261,-80.6 262,-84.7 263,-85.2 264,-83.4 265,-81.4 266,-83.4 267,-85.2 268,-88.8 269,-83.4 270,-84.2 271,-81.6 272,-80.5 273,-80.3 274,-82.8 275,-82.6 276,-86.3 277,-83.9 278,-84.6 279,-82.4 280,-84.7 281,-84.8 282,-85.9 283,-81.6 284,-83.8 285,-86.6 286,-86.1 287,-87.7 288,-83.8 289,-83 290,-85 291,-85.3 292,-88.4 293,-83.8 294,-85.6 295,-82.5 296,-86.2 297,-85 298,-83.4 299,-82.8 300,-83.8 301,-81.3 302,-81.4 303,-81.5 304,-82.6 305,-78.1 306,-78.5 307,-77.1 308,-76.9 309,-75.4 310,-75.7 311,-70.4 312,-70.4 313,-72.5 314,-73.4 315,-72.9 316,-75.6 317,-73.9 318,-74.9 319,-76.1 320,-77 321,-77.3 322,-75.6 323,-76.2 324,-78 325,-76.1 326,-75.8 327,-75.7 328,-72.4 329,-74.1 330,-76 331,-73.3 332,-74.2 333,-71.1 334,-70.5 335,-71.6 336,-70.1 337,-70.9 338,-70.9 339,-72.6 340,-73 341,-69.6 342,-64.5 343,-67.8 344,-66.2 345,-66 346,-63.7 347,-65 348,-63.8 349,-62.3 350,-63.3 351,-62.6 352,-62.3 353,-60.8 354,-60.1 355,-59.6 356,-59.8 357,-61.9 358,-61.2 359,-59.2 360,-59.3 361,-57.8 362,-60.5 363,-59.9 364,-58.8 365,-56.1 366,-56.3 367,-56.1 368,-53.4 369,-53.2 370,-53.7 371,-50.7 372,-50.2 373,-48.8 374,-47.9 375,-49.1 376,-48.5 377,-47.6 378,-45.8 379,-46.1 380,-44.1 381,-45.7 382,-44.8 383,-42.1 384,-45.3 385,-45.5 386,-42.1 387,-41.1 388,-40.4 389,-40.3 390,-39.7 391,-41.7 392,-41.1 393,-39.8 394,-42 395,-42.3 396,-41.1 397,-38.2 398,-37.8 399,-40.6 400,-39.9 401,-39.5 402,-38.5 403,-38 404,-38.2 405,-39.5 406,-36.7 407,-36.1 408,-39.1 409,-38.3 410,-36.1 411,-36.7 412,-36.7 413,-37.9 414,-35.3 415,-38.3 416,-36.1 417,-34.1 418,-37.4 419,-35.1 420,-35.1 421,-37.3 422,-36.5 423,-34.3 424,-36.5 425,-37 426,-40.4 427,-39.3 428,-37 429,-36.1 430,-34.9 431,-34.2 432,-32.4 433,-33.8 434,-30.9 435,-33.2 436,-33 437,-35.8 438,-34.5 439,-33.3 440,-33.1 441,-35 442,-34.8 443,-36.3 444,-34.3 445,-35.7 446,-33.1 447,-33.4 448,-32.9 449,-32.8 450,-33 451,-32.4 452,-33.2 453,-35.8 454,-32 455,-33.9 456,-32 457,-31.9 458,-32.1 459,-32.3 460,-32.1 461,-32.1 462,-32.2 463,-32.4 464,-31.7 465,-31 466,-32.2 467,-31.5 468,-33.4 469,-33 470,-34 471,-32.1 472,-30.6 473,-29.8 474,-32.5 475,-29.9 476,-31.8 477,-31.3 478,-31.2 479,-28.1 480,-29.4 481,-26.9 482,-27.8 483,-29.8 484,-29.1 485,-27.4 486,-30.1 487,-30.1 488,-29.3 489,-29.4 490,-29.3 491,-26.4 492,-27.8 493,-28.8 494,-28.9 495,-30.2 496,-27.3 497,-28.6 498,-23 499,-26 500,-28.2 501,-29.3 502,-28.4 503,-26.8 504,-27.9 505,-26.4 506,-25.8 507,-25.9 508,-25.9 509,-26.5 510,-27.5 511,-28.4 512,-29 513,-27.4 514,-25.4 515,-26 516,-27.5 517,-25 518,-27 519,-27.7 520,-27.4 521,-26.8 522,-25.8 523,-27.1 524,-27.9 525,-25.1 526,-24.6 527,-24.3 528,-23.7 529,-24.5 530,-22.3 531,-24.4 532,-24.7 533,-22.7 534,-23.4 535,-24.4 536,-24.2 537,-25.7 538,-23.4 539,-24 540,-23.2 541,-21.7 542,-22.1 543,-22.9 544,-22.8 545,-23 546,-20.8 547,-25.2 548,-24.2 549,-24.2 550,-22.5 551,-22.9 552,-22.6 553,-19.9 554,-21.5 555,-21.1 556,-22.6 557,-23.3 558,-23.7 559,-20.4 560,-23 561,-22.8 562,-18.8 563,-20.5 564,-21.4 565,-21.8 566,-23.1 567,-21.2 568,-19.7 569,-22.1 570,-22 571,-18.9 572,-20.9 573,-19.9 574,-17.4 575,-21.2 576,-20.9 577,-21.7 578,-23.7 579,-19.2 580,-19 581,-20.3 582,-19.5 583,-20.6 584,-22 585,-21.1 586,-20.9 587,-21.2 588,-18.4 589,-20.3 590,-21.1 591,-19.3 592,-18.5 593,-16.7 594,-18.2 595,-20.7 596,-20.5 597,-17.7 598,-19.3 599,-18.1 600,-15.9 601,-19.9 602,-20.9 603,-19.1 604,-18.4 605,-17.1 606,-20.1 607,-17.8 608,-18.3 609,-20.4 610,-18.8 611,-17.4 612,-15.3 613,-18.2 614,-17 615,-19.4 616,-16.7 617,-17.2 618,-15.5 619,-18.9 620,-19.4 621,-20.1 622,-15.5 623,-17.5 624,-19.9 625,-18.8 626,-16.3 627,-16.1 628,-16.4 629,-18.8 630,-17.6 631,-19.7 632,-19.5 633,-16.5 634,-15.4 635,-16.8 636,-19.3 637,-18.5 638,-17.4 639,-14.5 640,-17 641,-18.7 642,-18.6 643,-18.1 644,-17.6 645,-17.1 646,-14 647,-16.9 648,-19.8 649,-15.9 650,-17.5 651,-18.1 652,-17.9 653,-16.7 654,-16.9 655,-16.6 656,-17.8 657,-17.7 658,-19.4 659,-19.9 660,-19.5 661,-19.4 662,-21.4 663,-21.3 664,-18.1 665,-17.8 666,-17.4 667,-18.3 668,-19.1 669,-18.3 670,-19.9 671,-21.9 672,-22.4 673,-21.9 674,-22 675,-23.1 676,-23.9 677,-24 678,-25.3 679,-21.7 680,-23.6 681,-28.1 682,-25.2 683,-27.2 684,-27.3 685,-27.3 686,-26.4 687,-27.3 688,-26.5 689,-26.1 690,-21.6 691,-22.9 692,-23.4 693,-22.7 694,-19.7 695,-18.8 696,-17.2 697,-16.1 698,-18 699,-16.7 700,-17.5 701,-17.7 702,-18 703,-17.2 704,-17.7 705,-17.8 706,-17.4 707,-18.6 708,-15.3 709,-15.5 710,-17.1 711,-16.5 712,-17.9 713,-16.8 714,-18.7 715,-17.2 716,-16.5 717,-17.1 718,-15.7 719,-17.4 720,-16.6 721,-15.9 722,-15.9 723,-16.9 724,-14.9 725,-15.8 726,-16.4 727,-18.5 728,-17.9 729,-18.6 730,-15.4 731,-17 732,-19.1 733,-17.3 734,-16.6 735,-18.8 736,-18 737,-14.3 738,-16.7 739,-16.7 740,-12.4 741,-15.6 742,-17.8 743,-17.5 744,-15.6 745,-14.1 746,-15.8 747,-17.6 748,-14.1 749,-14.1 750,-14.5 751,-14.9 752,-12.2 753,-13.3 754,-15.1 755,-14.9 756,-14 757,-15.1 758,-14.1 759,-11.5 760,-11.3 761,-11.1 762,-11 763,-12 764,-11.9 765,-14.6 766,-11.8 767,-11.1 768,-11.6 769,-11.7 770,-13.4 771,-12.9 772,-14.3 773,-13.1 774,-12.6 775,-13 776,-10.8 777,-13 778,-12 779,-11.9 780,-12.4 781,-11.6 782,-11.6 783,-12.7 784,-10.7 785,-12.2 786,-11.6 787,-13.6 788,-13.9 789,-12.4 790,-9.3 791,-13.5 792,-14.4 793,-13.8 794,-13.2 795,-12.5 796,-11 797,-12.4 798,-11.7 799,-12.2 800,-13.2 801,-13.2 802,-11.8 803,-11.9 804,-10.5 805,-11.6 806,-12.3 807,-13.7 808,-13.5 809,-11.8 810,-11.5 811,-9.7 812,-12.3 813,-11.2 814,-11.7 815,-14.5 816,-13.8 817,-11.6 818,-11.9 819,-12.4 820,-10 821,-11.2 822,-10.7 823,-9.8 824,-11.1 825,-9.8 826,-11.5 827,-12.2 828,-8.9 829,-7.8 830,-8.4 831,-10.4 832,-10.2 833,-10.8 834,-10.9 835,-9.4 836,-9.8 837,-7.8 838,-11 839,-10.5 840,-11.5 841,-12.1 842,-8.3 843,-8.1 844,-10.1 845,-10.6 846,-10.8 847,-12 848,-16.8 849,-16.9 850,-13.2 851,-17 852,-12.9 853,-12.8 854,-13.9 855,-14.1 856,-13.8 857,-15.6 858,-12.6 859,-14.6 860,-15.9 861,-12.1 862,-13.5 863,-13.5 864,-12 865,-10.1 866,-12.3 867,-12.1 868,-13.4 869,-11.2 870,-8.1 871,-10.5 872,-11.2 873,-12.1 874,-11.6 875,-11.4 876,-9.4 877,-8.5 878,-11.4 879,-8.6 880,-6.6 881,-6.8 882,-8.9 883,-7.1 884,-8.2 885,-9.3 886,-9.7 887,-9.7 888,-8.1 889,-6.3 890,-9.1 891,-9.9 892,-5.6 893,-7.4 894,-3.7 895,-5.1 896,-7.9 897,-5.1 898,-4.2 899,-7.6 900,-6.3 901,-3.6 902,-6.7 903,-4.7 904,-4.1 905,-1.8 906,-2 907,-4.2 908,-5.8 909,-4.4 910,-3.3 911,-3.2 912,-3.5 913,-4.1 914,-1.1 915,-2.5 916,-3.1 917,-1.7 918,-1.2 919,-1.1 920,.7 921,-1.5 922,-.2 923,1.5 924,.1 925,.7 926,1.8 927,1.9 928,1.4 929,-.1 930,.2 931,1.6 932,1.6 933,1.5 934,1.2 935,-.5 936,2.1 937,.6 938,3.4 939,5.6 940,3.3 941,2.2 942,.5 943,-.4 944,.1 945,2 946,1.2 947,-1.1 948,1.7 949,.8 950,2.3 951,1.8 952,.7 953,1 954,2.8 955,1.6 956,3.8 957,1.8 958,4.3 959,1.6 960,1.3 961,3.7 962,5.5 963,3.7 964,4.8 965,3.1 966,2.8 967,4.2 968,7.4 969,5.1 970,3 971,1.8 972,4.7 973,6.4 974,5.6 975,6.2 976,5.3 977,7.8 978,7.5 979,5.1 980,5.8 981,8.4 982,7.5 983,4.5 984,6.4 985,6.9 986,4.3 987,7.7 988,9.8 989,7.7 990,6.8 991,7.6 992,7.5 993,8 994,8.9 995,6.5 996,7.6 997,10.7 998,8.9 999,8.7 1000,9.1 1001,7.7 1002,6.7 1003,11.1 1004,9.3 1005,7.4 1006,9.5 1007,8.4 1008,7.4 1009,7.8 1010,6.8 1011,7 1012,9.4 1013,8.9 1014,8.2 1015,10 1016,9.6 1017,8 1018,6.4 1019,7.2 1020,9.6 1021,7.3 1022,10.5 1023,8.4 1024,6.3 1025,7.2 1026,9.9 1027,8 1028,8.9 1029,9.8 1030,8.4 1031,10.3 1032,11.3 1033,10.8 1034,7.7 1035,9.7 1036,11 1037,11.4 1038,12.7 1039,11.2 1040,10.7 1041,8.2 1042,8.8 1043,12 1044,10 1045,10.6 1046,9.2 1047,10.7 1048,10 1049,12 1050,11.9 1051,12.4 1052,10.4 1053,11.6 1054,13.4 1055,8.9 1056,11.1 1057,12.5 1058,13.9 1059,14 1060,14.1 1061,14 1062,14.6 1063,13.8 1064,13.8 1065,12.7 1066,13.7 1067,14.1 1068,16.4 1069,13.9 1070,15 1071,14.9 1072,15.4 1073,16.9 1074,15.9 1075,14.7 1076,15.8 1077,17.1 1078,16.6 1079,16.9 1080,14.6 1081,16.8 1082,15.7 1083,14.5 1084,16.1 1085,14.4 1086,16.1 1087,18.1 1088,15.8 1089,14.9 1090,17.3 1091,17.2 1092,17.4 1093,14.2 1094,14.8 1095,18.3 1096,15.8 1097,15.6 1098,16.4 1099,16.7 1100,16.3 1101,13.4 1102,16.7 1103,15.6 1104,17.8 1105,18.8 1106,16.2 1107,17.2 1108,19.4 1109,19.9 1110,19.2 1111,17.4 1112,18.2 1113,17 1114,19.6 1115,19 1116,20.1 1117,15.8 1118,17.2 1119,17.9 1120,18.2 1121,17.3 1122,19.2 1123,18.2 1124,21.2 1125,19.3 1126,18.8 1127,18.6 1128,20.2 1129,20.3 1130,18.8 1131,16.2 1132,19 1133,19.2 1134,20.1 1135,19.4 1136,20.7 1137,19.4 1138,20.8 1139,20.7 1140,22.1 1141,21.2 1142,21.9 1143,21.2 1144,21.2 1145,20.7 1146,20 1147,21.7 1148,21.9 1149,23.8 1150,23.1 1151,24.5 1152,25.1 1153,23.3 1154,21.5 1155,22.2 1156,24 1157,23.1 1158,24.3 1159,23 1160,23.3 1161,24.5 1162,24.5 1163,24.2 1164,24.1 1165,24.6 1166,24 1167,25.2 1168,23.8 1169,27.6 1170,25.4 1171,23.7 1172,22.6 1173,23.4 1174,25.1 1175,24.5 1176,26.3 1177,25.1 1178,24.1 1179,24.8 1180,24.9 1181,25.3 1182,24.4 1183,25.4 1184,23.8 1185,25.8 1186,26.1 1187,26.1 1188,25.5 1189,26.3 1190,26.9 1191,24.9 1192,27.6 1193,27 1194,27.6 1195,29 1196,26.3 1197,26 1198,26.2 1199,27.5 1200,26.7 1201,26.7 1202,29.7 1203,28.2 1204,28.6 1205,29.5 1206,30.2 1207,27.2 1208,28.7 1209,29.6 1210,30.2 1211,28.4 1212,28.4 1213,29.2 1214,29.3 1215,29 1216,28.7 1217,29.2 1218,29.3 1219,29.9 1220,29.2 1221,28.7 1222,29.3 1223,29.8 1224,31.3 1225,30.1 1226,28 1227,32.5 1228,32.5 1229,31.7 1230,31.5 1231,31.1 1232,33 1233,30.2 1234,31.8 1235,32.4 1236,34.2 1237,32 1238,33.3 1239,32.6 1240,30.9 1241,30.5 1242,33.1 1243,31.2 1244,31.7 1245,34.1 1246,31.8 1247,33 1248,34.9 1249,34.9 1250,34.1 1251,32.4 1252,34.9 1253,34.1 1254,33.4 1255,32.2 1256,30.9 1257,33.5 1258,33.2 1259,31.8 1260,34.4 1261,34.4 1262,33.4 1263,33.5 1264,34.7 1265,35 1266,33.5 1267,35.2 1268,34.6 1269,33.5 1270,34.4 1271,34.9 1272,36.2 1273,36 1274,32.9 1275,33.4 1276,35.9 1277,35.9 1278,34.5 1279,34.8 1280,37.3 1281,33.6 1282,36.6 1283,37.4 1284,35.7 1285,35.7 1286,36.6 1287,36.5 1288,36.9 1289,37.9 1290,36.2 1291,36.5 1292,37.3 1293,36.5 1294,36.8 1295,38.5 1296,35.3 1297,37 1298,36.7 1299,36 1300,36.9 1301,37.7 1302,38.4 1303,36.9 1304,38.1 1305,39.3 1306,38.2 1307,38.6 1308,38.5 1309,38.7 1310,37.1 1311,39.1 1312,38.8 1313,40.2 1314,39.5 1315,37.6 1316,39.4 1317,40.1 1318,39.9 1319,38.5 1320,38.1 1321,40 1322,38.2 1323,39.5 1324,39.2 1325,38.3 1326,38.5 1327,38.4 1328,39.5 1329,38.6 1330,38.9 1331,38.9 1332,39.5 1333,40.2 1334,37.8 1335,39.1 1336,38.3 1337,38.4 1338,38.5 1339,40.1 1340,40.3 1341,38.3 1342,37.8 1343,39.3 1344,38.6 1345,39.6 1346,37 1347,38.2 1348,36.7 1349,33.6 1350,36.7 1351,35.5 1352,36.6 1353,35.6 1354,36.8 1355,34.5 1356,33.9 1357,37.3 1358,38 1359,37.3 1360,35.8 1361,38.5 1362,41.2 1363,39.2 1364,39 1365,38.9 1366,40.4 1367,40.3 1368,38.8 1369,39.4 1370,41.3 1371,39.5 1372,40.5 1373,41.6 1374,41.5 1375,39 1376,40.9 1377,39.8 1378,38.6 1379,40.8 1380,39.5 1381,40.6 1382,42.5 1383,42.2 1384,41.4 1385,42.5 1386,41.9 1387,42.6 1388,43.2 1389,41.2 1390,43.5 1391,42.4 1392,42.3 1393,42.6 1394,42.2 1395,42.1 1396,43.1 1397,42.3 1398,43.2 1399,43.8 1400,42.6 1401,42.7 1402,43.7 1403,43.4 1404,44 1405,43.5 1406,43.2 1407,43.4 1408,44 1409,45 1410,42.5 1411,43.1 1412,43.6 1413,43.3 1414,43.6 1415,45.3 1416,45.6 1417,44.1 1418,43 1419,44.7 1420,45.2 1421,43.7 1422,44.8 1423,45.4 1424,45.7 1425,44.8 1426,45.6 1427,45.2 1428,46.1 1429,45.8 1430,46.2 1431,45.7 1432,45.4 1433,45.9 1434,46.7 1435,45.7 1436,46.3 1437,48.5 1438,46 1439,44.9 1440,45.2 1441,46 1442,46.4 1443,44.5 1444,44.3 1445,47.1 1446,45.6 1447,47.3 1448,48.3 1449,44.4 1450,47.1 1451,47.4 1452,47 1453,47.6 1454,47.4 1455,48 1456,49.4 1457,48.3 1458,46.6 1459,48.8 1460,49.2 1461,49.5 1462,48.6 1463,48.9 1464,50.1 1465,48.5 1466,47.7 1467,49.5 1468,48.3 1469,49.4 1470,48.2 1471,48 1472,48.8 1473,49.1 1474,48.1 1475,50.2 1476,48.9 1477,49.6 1478,48.4 1479,48.4 1480,48.6 1481,49.3 1482,49.5 1483,49.6 1484,49.5 1485,50.4 1486,50.6 1487,49.5 1488,49.8 1489,50.3 1490,50.6 1491,50.6 1492,49.8 1493,49.7 1494,50.2 1495,50.7 1496,49.4 1497,49.3 1498,49.9 1499,50.5 1500,50 1501,50.1 1502,49.9 1503,51 1504,49.1 1505,50.4 1506,50.3 1507,50.8 1508,51.1 1509,48.4 1510,51.5 1511,52 1512,52.7 1513,52.2 1514,52.2 1515,52 1516,52.9 1517,50.5 1518,51.1 1519,50.7 1520,52.2 1521,52 1522,53.2 1523,52.2 1524,51.7 1525,51.7 1526,51.2 1527,50 1528,51.6 1529,51.7 1530,51.6 1531,51 1532,52.1 1533,51.3 1534,52.3 1535,52.2 1536,52.1 1537,51 1538,52.5 1539,53.4 1540,52.6 1541,52.1 1542,53.1 1543,53.6 1544,52.6 1545,55.2 1546,54.5 1547,54.5 1548,53.7 1549,53.5 1550,52.3 1551,52.8 1552,53.2 1553,53.9 1554,53 1555,52.5 1556,54.3 1557,53.8 1558,54.3 1559,53.8 1560,53.1 1561,53.5 1562,51.5 1563,54.1 1564,54.4 1565,54.9 1566,53.9 1567,55.6 1568,55.4 1569,52.7 1570,52.2 1571,54 1572,53 1573,53.8 1574,54.1 1575,54 1576,55.6 1577,55.2 1578,55.1 1579,54.8 1580,57.2 1581,56.3 1582,54.3 1583,55 1584,54.2 1585,54.5 1586,54.7 1587,53.6 1588,53 1589,53.6 1590,55.2 1591,52.7 1592,55.1 1593,53.4 1594,54.1 1595,54.6 1596,55.8 1597,55.4 1598,54.4 1599,54.7 1600,55.6 1601,56.5" stroke="#CC00FF" stroke-width="4.2"/>
</g>
<rect x="276" y="95.2" width="205.7" height="133.4" fill="none" stroke="#0000FF" stroke-width="3.6"/>
<rect x="769" y="206.3" width="328.3" height="44.3" fill="none" stroke="#0000FF" stroke-width="3.6"/>
<text x="378.8" y="81.2" font-size="53.2" text-anchor="middle">1</text>
<text x="933.1" y="191.8" font-size="53.2" text-anchor="middle">2</text>
<path d="M129.5 60.0V339.4H1575.6" fill="none" stroke="#000" stroke-width="4.2" stroke-linecap="butt" stroke-linejoin="miter"/>
<line x1="193.9" y1="341.3" x2="193.9" y2="352.7" stroke="#000" stroke-width="4.2"/>
<text x="193.9" y="386.5" font-size="30.8" text-anchor="middle">0</text>
<line x1="604.6" y1="341.3" x2="604.6" y2="352.7" stroke="#000" stroke-width="4.2"/>
<text x="604.6" y="386.5" font-size="30.8" text-anchor="middle">500</text>
<line x1="1015.2" y1="341.3" x2="1015.2" y2="352.7" stroke="#000" stroke-width="4.2"/>
<text x="1015.2" y="386.5" font-size="30.8" text-anchor="middle">1000</text>
<line x1="1425.9" y1="341.3" x2="1425.9" y2="352.7" stroke="#000" stroke-width="4.2"/>
<text x="1425.9" y="386.5" font-size="30.8" text-anchor="middle">1500</text>
<text x="851.4" y="448.0" font-size="38.5" text-anchor="middle">Frequency</text>
<text x="89.0" y="200.7" font-size="38.5" text-anchor="middle" transform="rotate(-90 89.0 200.7)">Intensity</text>
<path d="M398.7 227.9L276.3 450.9M303.7 434.3L276.3 450.9L275.6 418.9" fill="none" stroke="#FF0000" stroke-width="10" stroke-linejoin="round" stroke-linecap="butt"/>
<path d="M1016.8 251.0L1179.3 450.8M1174.2 419.2L1179.3 450.8L1149.4 439.4" fill="none" stroke="#FF0000" stroke-width="10" stroke-linejoin="round" stroke-linecap="butt"/>
<text x="1652.8" y="67.2" font-size="38.5" text-anchor="start">Time index</text>
<line x1="1658.8" y1="118.0" x2="1703.2" y2="118.0" stroke="#FF0000" stroke-width="4.3"/>
<text x="1727.7" y="128.7" font-size="30.8" text-anchor="start">1000</text>
<line x1="1658.8" y1="173.1" x2="1703.2" y2="173.1" stroke="#CCFF00" stroke-width="4.3"/>
<text x="1727.7" y="183.8" font-size="30.8" text-anchor="start">2000</text>
<line x1="1658.8" y1="228.2" x2="1703.2" y2="228.2" stroke="#00FF66" stroke-width="4.3"/>
<text x="1727.7" y="238.9" font-size="30.8" text-anchor="start">3000</text>
<line x1="1658.8" y1="283.3" x2="1703.2" y2="283.3" stroke="#0066FF" stroke-width="4.3"/>
<text x="1727.7" y="294.0" font-size="30.8" text-anchor="start">4000</text>
<line x1="1658.8" y1="338.4" x2="1703.2" y2="338.4" stroke="#CC00FF" stroke-width="4.3"/>
<text x="1727.7" y="349.1" font-size="30.8" text-anchor="start">5000</text>
<g fill="none" stroke-linejoin="round" stroke-linecap="butt">
<polyline transform="translate(-125.42 650) scale(2.9092 1)" vector-effect="non-scaling-stroke" points="100,78.6 101,77.4 102,82.1 103,83.8 104,78 105,84.1 106,82 107,87.4 108,81.8 109,83.1 110,73.5 111,71 112,72.7 113,75.7 114,74.3 115,67.3 116,70.9 117,71.3 118,69.4 119,68.1 120,76.3 121,69.7 122,65.1 123,68.8 124,67.3 125,66.3 126,70.2 127,70.9 128,71.4 129,74.6 130,73.7 131,71 132,72.2 133,72.8 134,76.1 135,72.1 136,67.6 137,72.7 138,67.4 139,62.6 140,69.6 141,66.9 142,70.2 143,67.1 144,63.3 145,60.7 146,60.9 147,59.8 148,55.4 149,54.7 150,48.4 151,51.4 152,44.1 153,47.2 154,50.5 155,51.8 156,53.7 157,41.2 158,46.9 159,50.2 160,49.7 161,42.3 162,45.8 163,52.4 164,40.8 165,45.6 166,49.6 167,43.3 168,46.7 169,41.4 170,41.1 171,41.2 172,44.8 173,44.1 174,47.3 175,40.4 176,41.4 177,45.6 178,44.3 179,36.3 180,41.8 181,38.5 182,40.3 183,40.1 184,42.9 185,38.4 186,27.8 187,24.4 188,28.5 189,22.6 190,24.9 191,21.4 192,15.8 193,21.3 194,14.5 195,7.1 196,21.2 197,7.8 198,13.3 199,15.4 200,11.3 201,2.2 202,10.1 203,1.4 204,-1.5 205,1.5 206,5.9 207,3.9 208,4.5 209,-1.1 210,-2 211,-6.5 212,-4.8 213,-1 214,-4.4 215,-2.6 216,-6.8 217,-8.4 218,-6.7 219,-8.1 220,-6.2 221,-8.3 222,-2.9 223,-9.4 224,-10.7 225,-13.7 226,-10.8 227,-9.5 228,-18.1 229,-20.2 230,-20.2 231,-26.5 232,-32 233,-29 234,-34.1 235,-36.3 236,-35.1 237,-36.3 238,-44.1 239,-47.5 240,-45.6 241,-48.2 242,-58.1 243,-48.8 244,-54.2 245,-54.9 246,-64.3 247,-56.9 248,-64 249,-64.7 250,-70.9 251,-67.6 252,-67.4 253,-67.8 254,-65.5 255,-66.8 256,-63.2 257,-68.6 258,-72.2 259,-68.5 260,-64.7 261,-61.1 262,-61.6 263,-72.2 264,-64.3 265,-56.6 266,-60.6 267,-63.3 268,-59.2 269,-61 270,-56 271,-56.9 272,-50.6 273,-52.4 274,-57.8 275,-53.2 276,-51.4 277,-58.8 278,-60.8 279,-69.5 280,-58 281,-61.9 282,-70.2 283,-70.2 284,-63.1 285,-57.2 286,-59.6 287,-57.6 288,-63.4 289,-65.5 290,-55.7 291,-54.9 292,-56.8 293,-50.9 294,-58.5 295,-57.5 296,-50 297,-44.5 298,-50.8 299,-44.3 300,-50.9 301,-46.6 302,-45.5 303,-50.2 304,-42.5 305,-37.3 306,-40.9 307,-41.4 308,-35.2 309,-45 310,-48.4 311,-44.8 312,-45.4 313,-33.5 314,-33.3 315,-37.1 316,-35.5 317,-19.7 318,-30 319,-32.7 320,-27.5 321,-24.5 322,-26 323,-32.2 324,-36.1 325,-30.6 326,-32.7 327,-39.9 328,-28.7 329,-26.3 330,-28.9 331,-27.7 332,-23.6 333,-25.1 334,-27.2 335,-19.7 336,-24.3 337,-17.1 338,-21.6 339,-15.9 340,-13 341,-3.1 342,-11 343,-12.9 344,-8.4 345,-8.5 346,-5.6 347,.9 348,6.4 349,14.2 350,9.4" stroke="#FF0000" stroke-width="4.2"/>
<polyline transform="translate(-125.42 671) scale(2.9092 1)" vector-effect="non-scaling-stroke" points="100,78.9 101,80.2 102,81.1 103,69.3 104,69.4 105,76.6 106,76.7 107,80 108,77.5 109,71.2 110,75.2 111,72 112,72.4 113,71.2 114,73.4 115,67.2 116,66.4 117,62.1 118,76.1 119,67.7 120,65.4 121,64.1 122,65.5 123,66.4 124,70.1 125,69.1 126,69.1 127,65.7 128,66.7 129,71.5 130,67.8 131,67.8 132,59.4 133,66.4 134,67.1 135,70.3 136,56.4 137,62.9 138,64.2 139,64.4 140,61.6 141,63.5 142,65.2 143,62.5 144,60.1 145,59.4 146,58.2 147,58.9 148,55.7 149,49.7 150,59.4 151,48.5 152,49.5 153,43.7 154,44 155,40.4 156,42.4 157,40 158,37.8 159,43.4 160,48.5 161,45.8 162,44.2 163,39.9 164,42.6 165,45.3 166,41.7 167,46.4 168,44.1 169,44.7 170,41.8 171,41 172,43.6 173,44.6 174,44.4 175,39 176,38.3 177,40.3 178,33.2 179,41.6 180,40.3 181,37.8 182,33.9 183,38.1 184,34.2 185,40.4 186,35.2 187,25.5 188,30.8 189,26.4 190,23.9 191,23.4 192,22.6 193,22.6 194,23.4 195,21.1 196,15 197,10.2 198,10.4 199,13.9 200,15.5 201,18.3 202,5.8 203,7.6 204,6.5 205,4.5 206,5.3 207,3.2 208,1.7 209,-.9 210,1.9 211,4.5 212,6.6 213,-2.1 214,-6.6 215,-4.7 216,-7 217,-.8 218,-7.3 219,-6.1 220,-11.9 221,-10.4 222,-8.8 223,-4.6 224,-13.8 225,-12.9 226,-23.3 227,-23.3 228,-22.6 229,-22.5 230,-20.2 231,-20.5 232,-31.3 233,-26.5 234,-33.4 235,-24.8 236,-30.5 237,-34.4 238,-37.9 239,-39.6 240,-41.2 241,-45.8 242,-42.2 243,-44.6 244,-44.6 245,-49.2 246,-48.3 247,-55 248,-39.5 249,-54.7 250,-58.5 251,-53.5 252,-52.2 253,-61.6 254,-68 255,-68.4 256,-66.7 257,-64.9 258,-61 259,-54.2 260,-51.6 261,-57.4 262,-53.2 263,-50.2 264,-47.5 265,-53.4 266,-57.1 267,-51.2 268,-46.6 269,-54.3 270,-45.7 271,-44.5 272,-52.9 273,-60.1 274,-57.2 275,-55.3 276,-51.4 277,-59.8 278,-44.7 279,-41.5 280,-54.3 281,-61.8 282,-55.9 283,-52 284,-47.8 285,-49.7 286,-54.2 287,-62.4 288,-53.8 289,-50.5 290,-55.5 291,-55.1 292,-56.2 293,-59.3 294,-63.9 295,-57.7 296,-62.3 297,-50.3 298,-55.6 299,-50 300,-52.3 301,-47.5 302,-47.9 303,-44.3 304,-48.2 305,-51.8 306,-45.9 307,-44.1 308,-47.9 309,-44.5 310,-46.9 311,-39.6 312,-39.2 313,-37.2 314,-25.5 315,-32.5 316,-32.9 317,-30.9 318,-33 319,-34.9 320,-28.9 321,-27.2 322,-43.6 323,-36.3 324,-35.2 325,-36.4 326,-29.1 327,-34.3 328,-29.5 329,-33.4 330,-33.2 331,-27.5 332,-31.3 333,-29.1 334,-31.2 335,-29.9 336,-22 337,-20 338,-25.9 339,-26.2 340,-10 341,-18.2 342,-20.2 343,-13.2 344,-15.4 345,-12.5 346,-4.1 347,.9 348,0 349,8.6 350,7.2" stroke="#CCFF00" stroke-width="4.2"/>
<polyline transform="translate(-125.42 679) scale(2.9092 1)" vector-effect="non-scaling-stroke" points="100,65.7 101,64.3 102,74.9 103,67.9 104,70 105,71.1 106,75.9 107,67.5 108,70.3 109,72 110,75.7 111,70.4 112,70.5 113,68.5 114,72.3 115,72.3 116,67.1 117,68.9 118,62 119,65.4 120,62.7 121,63.2 122,68 123,72.6 124,66.1 125,63 126,61.5 127,64.7 128,61.7 129,64.7 130,67.1 131,64 132,59.5 133,62.6 134,58.2 135,53.1 136,62.4 137,67.1 138,65.3 139,58.7 140,46.4 141,53.1 142,59.3 143,56.1 144,61.1 145,53.9 146,56.4 147,55.8 148,55.1 149,48.5 150,51.2 151,52.6 152,49.5 153,44.7 154,46 155,43.9 156,47.3 157,49.5 158,46.7 159,45.4 160,42.8 161,43.4 162,35.8 163,41.5 164,46 165,41.5 166,44.8 167,37.7 168,41.7 169,42 170,44.1 171,43.1 172,50.1 173,31.6 174,33.3 175,37.1 176,40.1 177,37.6 178,36.5 179,32.7 180,32.1 181,33 182,41 183,32.9 184,43 185,38.3 186,30.6 187,32.4 188,32.7 189,23.3 190,18.5 191,28.4 192,20.2 193,23.7 194,22.9 195,12.4 196,17.8 197,17.8 198,19 199,13.2 200,12.7 201,11.8 202,8.5 203,14.4 204,12.5 205,13.4 206,8.5 207,9.9 208,1.5 209,.3 210,5.9 211,1.6 212,-1.1 213,0 214,-7.4 215,-3 216,-1.3 217,-5.2 218,-10 219,-.5 220,-4.4 221,-12.5 222,-13.3 223,-18.4 224,-21.2 225,-23.4 226,-20.7 227,-16.2 228,-15.3 229,-19.8 230,-17.6 231,-20.1 232,-29.1 233,-31.1 234,-28.1 235,-27.4 236,-27.2 237,-38.6 238,-44.8 239,-31 240,-38.6 241,-37 242,-41.3 243,-49.5 244,-40.8 245,-43.7 246,-41.8 247,-46 248,-54.8 249,-53.8 250,-50.2 251,-57.8 252,-57.1 253,-53.7 254,-64.3 255,-64 256,-61.5 257,-57.2 258,-59.7 259,-61.8 260,-55.5 261,-57.9 262,-53.6 263,-52.2 264,-54.2 265,-50.1 266,-47.5 267,-57.3 268,-51.7 269,-52.7 270,-53.7 271,-52.1 272,-47.2 273,-51.7 274,-53.6 275,-57.6 276,-53.9 277,-52.3 278,-56.1 279,-54.2 280,-50.5 281,-46.3 282,-52.7 283,-45 284,-47.4 285,-49.1 286,-50.6 287,-53.2 288,-56.9 289,-55.5 290,-54.8 291,-54.6 292,-49.2 293,-46.4 294,-52.3 295,-51.5 296,-57.5 297,-63.2 298,-55.4 299,-51.1 300,-44.8 301,-38.5 302,-45.2 303,-41.6 304,-40.3 305,-42.9 306,-40 307,-40.1 308,-34.5 309,-43 310,-49.2 311,-39.4 312,-33.3 313,-31.3 314,-36.9 315,-33 316,-36.1 317,-30.9 318,-34.7 319,-36.6 320,-28.2 321,-35 322,-37.7 323,-28.8 324,-29.6 325,-39.7 326,-27.5 327,-33.8 328,-32.3 329,-29.9 330,-20.4 331,-26 332,-23.1 333,-25.5 334,-22.8 335,-28.9 336,-23.9 337,-24.1 338,-25.2 339,-19.3 340,-14.1 341,-14.3 342,-16.3 343,-11.2 344,-15.9 345,-9.8 346,-5.5 347,-5 348,-3.4 349,.6 350,.6" stroke="#00FF66" stroke-width="4.2"/>
<polyline transform="translate(-125.42 688) scale(2.9092 1)" vector-effect="non-scaling-stroke" points="100,78.3 101,82.2 102,78.1 103,71.4 104,76.7 105,81.4 106,75.3 107,71.6 108,77.2 109,68.5 110,69.2 111,69.2 112,67.9 113,69.2 114,63.3 115,56.8 116,52.9 117,55.2 118,57.1 119,59.3 120,59.3 121,53.1 122,59.6 123,57.9 124,64.9 125,61.5 126,60.9 127,60.3 128,65.7 129,63.2 130,72.5 131,69.3 132,60.2 133,62.7 134,67.4 135,67.2 136,66 137,64 138,56.8 139,54.9 140,62.3 141,58.3 142,58.8 143,60.7 144,51.6 145,48.9 146,56.5 147,53.4 148,52.4 149,56.8 150,52 151,50.7 152,51.1 153,43.1 154,53 155,50.2 156,45.3 157,50.3 158,44 159,43.1 160,41.1 161,44.1 162,42.8 163,45.8 164,43 165,45.4 166,46.5 167,46.2 168,45.8 169,44.4 170,40.6 171,35.5 172,42.7 173,37.8 174,42.4 175,41.9 176,40.9 177,40.4 178,41.7 179,35.7 180,38.4 181,41.4 182,40.1 183,40.2 184,34.6 185,33.2 186,39.3 187,34.5 188,31.1 189,32.3 190,24.6 191,24.4 192,25.7 193,22.9 194,26.9 195,22.7 196,22 197,14.4 198,14.5 199,13.6 200,14.2 201,13.3 202,10.4 203,11.2 204,16.4 205,8.8 206,3.6 207,9.1 208,10.6 209,4.9 210,5.8 211,-6 212,.2 213,-1.3 214,6.3 215,-.3 216,3.3 217,-4.2 218,-7.1 219,-9.2 220,-13 221,-12.3 222,-6.5 223,-16.5 224,-13.6 225,-9.5 226,-13.2 227,-14.1 228,-15.8 229,-16.5 230,-27.2 231,-17.5 232,-20.9 233,-27.2 234,-28.7 235,-29.7 236,-28.1 237,-36.6 238,-40.3 239,-42.3 240,-35.3 241,-42.2 242,-41.1 243,-46.8 244,-45.1 245,-47.4 246,-50.2 247,-44.4 248,-48.5 249,-55 250,-43.5 251,-55 252,-59.4 253,-62.2 254,-49.7 255,-53.1 256,-54.3 257,-51.5 258,-55.1 259,-53.5 260,-49 261,-53.8 262,-52.6 263,-54.4 264,-55 265,-49.7 266,-51.8 267,-53.6 268,-62.6 269,-60.2 270,-58.4 271,-55.5 272,-53.4 273,-54.1 274,-55.7 275,-54 276,-53.6 277,-51.5 278,-62 279,-53 280,-47 281,-49.6 282,-56.9 283,-60.4 284,-57.6 285,-51.3 286,-54.7 287,-65.1 288,-72.6 289,-59.5 290,-47.7 291,-62 292,-61.4 293,-57.8 294,-55.9 295,-53 296,-62 297,-56.2 298,-56.5 299,-49.7 300,-48.8 301,-45.1 302,-52.8 303,-53.2 304,-50.4 305,-48 306,-47.7 307,-49 308,-45.6 309,-48.2 310,-37.6 311,-40.5 312,-44.2 313,-38.3 314,-43.6 315,-36.5 316,-37 317,-28.6 318,-30.9 319,-36.5 320,-30.3 321,-31.5 322,-29.6 323,-43.6 324,-35.9 325,-33.2 326,-25.8 327,-33.1 328,-28.8 329,-29 330,-33.5 331,-30.2 332,-24 333,-24.9 334,-24.2 335,-22.6 336,-20.7 337,-18.4 338,-18.6 339,-23.1 340,-18 341,-14.4 342,-6.5 343,-13.9 344,-4.4 345,-8.4 346,.7 347,-8.7 348,-2 349,-5.6 350,-1.8" stroke="#0066FF" stroke-width="4.2"/>
<polyline transform="translate(-125.42 693) scale(2.9092 1)" vector-effect="non-scaling-stroke" points="100,66.9 101,70.1 102,68.2 103,70.1 104,65.4 105,66.3 106,62 107,61.3 108,65.7 109,63.8 110,69.8 111,63 112,63.8 113,58.9 114,66.7 115,63.2 116,56.2 117,60.5 118,58.7 119,66.7 120,64.7 121,57.5 122,61.5 123,62 124,59.3 125,59.1 126,59.7 127,57.6 128,61.7 129,60.1 130,61 131,60.3 132,58.7 133,67.2 134,63.2 135,63 136,69.9 137,61.7 138,57.1 139,52.8 140,52.4 141,58.6 142,51.9 143,46.7 144,52 145,51.8 146,56.4 147,45.4 148,50.3 149,39.1 150,48.1 151,46.4 152,40.7 153,46.8 154,44.1 155,44.2 156,42 157,44.9 158,43.4 159,36.8 160,35.6 161,35.8 162,41.8 163,42.7 164,41.7 165,39.9 166,38.6 167,41.9 168,44.6 169,45 170,48 171,48.8 172,41 173,49.2 174,47.3 175,41.7 176,40.6 177,40.8 178,36.6 179,34.8 180,36.6 181,35 182,25 183,34.8 184,27.6 185,32.8 186,31.3 187,28.9 188,32.9 189,27.4 190,24.6 191,27.6 192,26.7 193,21.6 194,18.9 195,17.3 196,19.5 197,19 198,18.8 199,14 200,8.9 201,13.1 202,20.3 203,17.1 204,5.5 205,9.1 206,6.2 207,4.6 208,3 209,-.2 210,-4.3 211,1.5 212,-3.4 213,-3.8 214,-3.8 215,-2.9 216,-5.5 217,-5.9 218,-7.7 219,-6.4 220,-6.5 221,-3.4 222,-7.2 223,-13.6 224,-11.4 225,-10.5 226,-17.1 227,-19.6 228,-27.4 229,-15.7 230,-19.3 231,-17.3 232,-29.1 233,-36.4 234,-28.4 235,-32.4 236,-31.1 237,-35.7 238,-31.9 239,-36.7 240,-38.6 241,-37.4 242,-41.8 243,-43.7 244,-38.4 245,-43.7 246,-44.8 247,-44.8 248,-47.4 249,-47.3 250,-42.5 251,-45.4 252,-56.8 253,-62.7 254,-58.7 255,-64.2 256,-67.4 257,-61.5 258,-59.9 259,-54.9 260,-52.1 261,-44.2 262,-53.4 263,-54.6 264,-50.5 265,-45.9 266,-50.6 267,-54.6 268,-62.7 269,-50.5 270,-52.2 271,-46.3 272,-44 273,-43.5 274,-49.2 275,-48.6 276,-57 277,-51.7 278,-53.2 279,-48.2 280,-53.4 281,-53.7 282,-56.2 283,-46.5 284,-51.5 285,-57.8 286,-56.7 287,-60.2 288,-51.4 289,-49.5 290,-54.2 291,-54.7 292,-61.9 293,-51.4 294,-55.4 295,-48.4 296,-56.9 297,-54.1 298,-50.5 299,-49.2 300,-51.5 301,-45.8 302,-45.8 303,-46.1 304,-48.8 305,-38.4 306,-39.3 307,-36.2 308,-35.6 309,-32.3 310,-33 311,-21 312,-21 313,-25.6 314,-27.8 315,-26.6 316,-32.7 317,-28.9 318,-31.2 319,-33.8 320,-35.9 321,-36.7 322,-32.8 323,-34.2 324,-38.2 325,-34 326,-33.2 327,-33 328,-25.6 329,-29.5 330,-33.6 331,-27.5 332,-29.7 333,-22.6 334,-21.1 335,-23.7 336,-20.3 337,-22.1 338,-22 339,-26 340,-26.9 341,-19.1 342,-7.6 343,-15.1 344,-11.4 345,-11 346,-5.7 347,-8.7 348,-6.1 349,-2.6 350,-4.7" stroke="#CC00FF" stroke-width="4.2"/>
</g>
<path d="M129.5 515.0V793.4H931.2" fill="none" stroke="#000" stroke-width="4.2" stroke-linecap="butt" stroke-linejoin="miter"/>
<line x1="165.5" y1="795.3" x2="165.5" y2="806.7" stroke="#000" stroke-width="4.2"/>
<text x="165.5" y="840.5" font-size="30.8" text-anchor="middle">100</text>
<line x1="311.0" y1="795.3" x2="311.0" y2="806.7" stroke="#000" stroke-width="4.2"/>
<text x="311.0" y="840.5" font-size="30.8" text-anchor="middle">150</text>
<line x1="456.4" y1="795.3" x2="456.4" y2="806.7" stroke="#000" stroke-width="4.2"/>
<text x="456.4" y="840.5" font-size="30.8" text-anchor="middle">200</text>
<line x1="601.9" y1="795.3" x2="601.9" y2="806.7" stroke="#000" stroke-width="4.2"/>
<text x="601.9" y="840.5" font-size="30.8" text-anchor="middle">250</text>
<line x1="747.3" y1="795.3" x2="747.3" y2="806.7" stroke="#000" stroke-width="4.2"/>
<text x="747.3" y="840.5" font-size="30.8" text-anchor="middle">300</text>
<line x1="892.8" y1="795.3" x2="892.8" y2="806.7" stroke="#000" stroke-width="4.2"/>
<text x="892.8" y="840.5" font-size="30.8" text-anchor="middle">350</text>
<text x="529.4" y="901.8" font-size="38.5" text-anchor="middle">Frequency</text>
<text x="89.0" y="655.2" font-size="38.5" text-anchor="middle" transform="rotate(-90 89.0 655.2)">Intensity</text>
<text x="530.4" y="523.0" font-size="53.2" text-anchor="middle">1</text>
<clipPath id="c2"><rect x="1066" y="500" width="820" height="296.5"/></clipPath>
<g fill="none" stroke-linejoin="round" stroke-linecap="butt" clip-path="url(#c2)">
<polyline transform="translate(-168.50 682) scale(1.816 1)" vector-effect="non-scaling-stroke" points="700,-96.9 701,-95.4 702,-87.6 703,-80.1 704,-101.1 705,-82.7 706,-80.5 707,-87 708,-73.5 709,-79.4 710,-71.9 711,-85.2 712,-90.9 713,-74.7 714,-63.8 715,-75.1 716,-76 717,-87.1 718,-96.8 719,-89.6 720,-73.7 721,-98 722,-92.2 723,-100.9 724,-86.3 725,-76 726,-91.4 727,-87.7 728,-71.6 729,-79.6 730,-90.9 731,-93 732,-98.2 733,-76.2 734,-83.3 735,-70.7 736,-68.6 737,-80.8 738,-81.8 739,-70.5 740,-72.8 741,-72.4 742,-87.1 743,-69.3 744,-78.8 745,-92.5 746,-81 747,-69.2 748,-53.4 749,-69.9 750,-81 751,-53.7 752,-62.5 753,-67.9 754,-73.9 755,-73.4 756,-52 757,-60.6 758,-64.4 759,-63.3 760,-45.5 761,-58.2 762,-51.2 763,-51.1 764,-51 765,-59.1 766,-47.8 767,-36.8 768,-47.5 769,-56.5 770,-60.5 771,-49.4 772,-51.1 773,-51.1 774,-50.5 775,-62.7 776,-47.9 777,-49 778,-53 779,-51.6 780,-46.1 781,-52.3 782,-61.3 783,-47 784,-56.7 785,-62 786,-69.5 787,-58.7 788,-64.7 789,-62.6 790,-54.1 791,-55.9 792,-48.8 793,-52.9 794,-59.7 795,-60.3 796,-61.6 797,-52.7 798,-55.7 799,-60.2 800,-50.6 801,-54 802,-59.1 803,-67.7 804,-53.3 805,-50.9 806,-52 807,-55.5 808,-58.8 809,-54 810,-48.8 811,-50.5 812,-51 813,-53.4 814,-47.3 815,-46.6 816,-54.4 817,-43.8 818,-40.9 819,-40.4 820,-47.7 821,-49.5 822,-57 823,-43.2 824,-62.7 825,-53.4 826,-49.9 827,-40.2 828,-45.3 829,-55.3 830,-61.8 831,-58.5 832,-52.1 833,-52.5 834,-56 835,-61.5 836,-59.6 837,-50 838,-65.5 839,-60.8 840,-47 841,-53.6 842,-64.3 843,-57.9 844,-68.3 845,-65.8 846,-53.6 847,-50.1 848,-80.6 849,-69.2 850,-57 851,-77 852,-76.4 853,-66.2 854,-81.4 855,-78.2 856,-81.6 857,-98.4 858,-82.9 859,-82.1 860,-71.9 861,-58.1 862,-65.2 863,-73.6 864,-66.3 865,-64.3 866,-55.2 867,-70.4 868,-69.2 869,-72.7 870,-50.4 871,-48.9 872,-53.3 873,-53.6 874,-51.1 875,-52.3 876,-46.7 877,-45.6 878,-29.7 879,-33.6 880,-43 881,-41.8 882,-26.2 883,-27.9 884,-29.1 885,-24.9 886,-16.2 887,-35.5 888,-35.2 889,-41.1 890,-24.4 891,-26.9 892,-30.3 893,-31.1 894,-19.7 895,-23.5 896,-27.6 897,-14 898,-28.6 899,-33.6 900,-3.1 901,-18.2 902,-22.4 903,-21.9 904,-15.4 905,-5.1 906,-1.5 907,-.8 908,-5.1 909,-13.2 910,.8 911,15.4 912,16.3 913,8.6 914,16.2 915,10.6 916,12.5 917,5 918,10.8 919,16.4 920,15.5 921,22.9 922,33.6 923,32.3 924,20.6 925,16.2 926,17.5 927,16.6 928,24.9 929,30.6 930,30.3 931,30.2 932,29.8 933,27.4 934,22.1 935,39.1 936,37.7 937,21.8 938,18.5 939,20.5 940,25.3 941,35 942,34.7 943,34.3 944,34.2 945,33.9 946,30.8 947,27.7 948,22.6 949,9.2 950,18.4 951,35.1 952,20.4 953,15.9 954,28 955,23.9 956,19 957,34.4 958,31.9 959,32.8 960,24.4 961,31.5 962,33.7 963,37.9 964,42.8 965,44.7 966,39.2 967,43 968,31.9 969,43.7 970,48.3 971,42.1 972,39.1 973,45.3 974,39.5 975,50.3 976,53.4 977,45.2 978,51.3 979,61 980,63.3 981,63.7 982,56.1 983,53.7 984,53.8 985,61.5 986,76.2 987,72.5 988,72.7 989,71.7 990,50.4 991,56.5 992,57.4 993,69.5 994,75.6 995,59.8 996,61.7 997,66.9 998,60.5 999,58.3 1000,58 1001,69.2 1002,58.6 1003,70.5 1004,65.9 1005,69 1006,75.6 1007,60.8 1008,56.3 1009,65 1010,56.4 1011,56.5 1012,61.6 1013,64.8 1014,55.4 1015,59.7 1016,68.2 1017,75.4 1018,53.1 1019,71.8 1020,73.9 1021,59.5 1022,54.1 1023,67.2 1024,64.4 1025,67.6 1026,74.3 1027,67.4 1028,70.2 1029,74.1 1030,78.3 1031,86 1032,87.7 1033,78.2 1034,73.5 1035,92 1036,84.6 1037,81.4 1038,71.2 1039,83 1040,75.8 1041,76.8 1042,72.2 1043,77.7 1044,84.1 1045,75.1 1046,78.2 1047,85.8 1048,79.9 1049,79.3 1050,83.2 1051,80.7 1052,94.6 1053,87.1 1054,97.7 1055,102 1056,88.3 1057,94.4 1058,93.4 1059,88.8 1060,94 1061,96.4 1062,103.7 1063,107.9 1064,94.3 1065,96.6 1066,104.7 1067,111 1068,87.8 1069,108.6 1070,104.7 1071,114.8 1072,104.5 1073,99.5 1074,105.5 1075,114.8 1076,109 1077,91.2 1078,108.7 1079,97.5 1080,98.7 1081,98.5 1082,93.7 1083,96.9 1084,99.7 1085,102.7 1086,107.2 1087,106.2 1088,98.1 1089,105.5 1090,115.4 1091,117.1 1092,111.7 1093,114 1094,116.8 1095,120.6 1096,123.7 1097,110.7 1098,108.3 1099,120.5 1100,123.8" stroke="#FF0000" stroke-width="4.2"/>
<polyline transform="translate(-168.50 649) scale(1.816 1)" vector-effect="non-scaling-stroke" points="700,-71.7 701,-74.2 702,-69.8 703,-55.6 704,-75.4 705,-82.3 706,-65.6 707,-68.6 708,-86.1 709,-82 710,-78.6 711,-76 712,-67.3 713,-59.4 714,-67.1 715,-65.8 716,-72 717,-58.2 718,-51.8 719,-63.8 720,-70 721,-47.3 722,-51.6 723,-68.4 724,-77.9 725,-67.6 726,-52.7 727,-64.2 728,-64.6 729,-65.9 730,-56.7 731,-48.4 732,-68.7 733,-65.1 734,-62.5 735,-65.7 736,-71 737,-55.2 738,-57.1 739,-53.4 740,-45.8 741,-59.7 742,-55.4 743,-61.5 744,-60.4 745,-56.2 746,-59.4 747,-71.2 748,-48.6 749,-54.4 750,-67.1 751,-77.6 752,-60.9 753,-51 754,-46.3 755,-44.2 756,-55.7 757,-49.3 758,-64.8 759,-54.1 760,-44.1 761,-54.4 762,-52.3 763,-48.2 764,-46.4 765,-34.3 766,-51.8 767,-35.4 768,-51.2 769,-49.9 770,-49.2 771,-43.6 772,-45.9 773,-39 774,-41.4 775,-24.7 776,-36 777,-44.6 778,-40.9 779,-38.3 780,-44.6 781,-53.7 782,-53 783,-44.7 784,-37.8 785,-39.8 786,-45.2 787,-41.1 788,-48.7 789,-44.6 790,-33.9 791,-34.3 792,-32.8 793,-46.2 794,-44.3 795,-53 796,-39.2 797,-46.6 798,-56 799,-50.6 800,-42.8 801,-61.2 802,-58.6 803,-37.4 804,-40.1 805,-42.4 806,-54.9 807,-31.3 808,-29.9 809,-33.1 810,-47.9 811,-36.8 812,-28.7 813,-39.1 814,-40.3 815,-41.4 816,-32.5 817,-36.9 818,-38.4 819,-47.2 820,-50.5 821,-30 822,-20.7 823,-25.7 824,-22.9 825,-38.1 826,-37.9 827,-34.1 828,-38.1 829,-24.6 830,-46.2 831,-45.8 832,-43.3 833,-46.4 834,-35.1 835,-56.1 836,-36.2 837,-33.5 838,-39.7 839,-33.3 840,-25.4 841,-43.3 842,-44.3 843,-48 844,-49.3 845,-59.3 846,-64.6 847,-55.8 848,-64.5 849,-56.2 850,-56.5 851,-68.5 852,-65.4 853,-67.3 854,-70.4 855,-60.9 856,-68.4 857,-69.2 858,-87 859,-69.4 860,-81.1 861,-75.1 862,-55.9 863,-50.1 864,-66.7 865,-76 866,-61.4 867,-62.1 868,-54.3 869,-63.9 870,-44.2 871,-34.7 872,-57.1 873,-55.7 874,-53 875,-40.2 876,-58.7 877,-44.6 878,-43.5 879,-47.8 880,-35.7 881,-53.8 882,-52.7 883,-46.2 884,-32.4 885,-37.6 886,-42.4 887,-31.9 888,-36.6 889,-38.8 890,-35.7 891,-29.6 892,-9.3 893,-35.5 894,-30.7 895,-31.7 896,-33 897,-18.7 898,-21.5 899,-23.2 900,-31.8 901,-35.8 902,-26 903,-27.3 904,-29.1 905,-18.2 906,-29.6 907,-27.3 908,-12.5 909,-14.8 910,-8.2 911,-16.9 912,-5 913,-11.4 914,4.6 915,5.5 916,3.9 917,13.5 918,7.7 919,-.2 920,16.9 921,12.8 922,19.3 923,14.1 924,21.8 925,9.2 926,3.9 927,3.2 928,20.5 929,3.9 930,1.7 931,5.5 932,19.2 933,23.2 934,13.3 935,22.9 936,21.2 937,26.6 938,25.2 939,11.4 940,14.8 941,12.5 942,15.8 943,13.8 944,11 945,15.1 946,10.4 947,14.2 948,10.1 949,8.1 950,17.1 951,19.9 952,23.1 953,19.7 954,13.2 955,16.1 956,18 957,4.9 958,8.4 959,31.6 960,25.5 961,3.4 962,21.6 963,29.9 964,21.5 965,47.6 966,45.8 967,42.9 968,36 969,40.6 970,45.6 971,44.6 972,36.6 973,42.4 974,44.5 975,46.7 976,37.8 977,46.4 978,47.3 979,49.4 980,50.3 981,38.7 982,54.1 983,57.7 984,42.6 985,49.3 986,46 987,48.1 988,59.9 989,58.9 990,69.2 991,57.6 992,45.9 993,53.4 994,36.6 995,64.3 996,59.8 997,59 998,57.4 999,49.7 1000,53.8 1001,50.2 1002,51.3 1003,58.2 1004,48.3 1005,67.2 1006,51.7 1007,61.7 1008,53.9 1009,47.3 1010,58.6 1011,59.6 1012,56.5 1013,57.2 1014,53.4 1015,60.4 1016,55.4 1017,57.8 1018,66.7 1019,50.5 1020,52.4 1021,52.9 1022,52 1023,47.8 1024,55.1 1025,60.3 1026,59.7 1027,49.2 1028,64.7 1029,69.4 1030,65.8 1031,57.9 1032,58.3 1033,80.1 1034,83.7 1035,75.1 1036,63.8 1037,78.2 1038,74.3 1039,84.2 1040,70.8 1041,75.6 1042,72.9 1043,79.5 1044,71.6 1045,81.4 1046,75 1047,70 1048,80.5 1049,80.9 1050,64.1 1051,76.2 1052,81.1 1053,82.6 1054,96.9 1055,81 1056,82.1 1057,71.6 1058,71.5 1059,79 1060,84.3 1061,85.4 1062,92.3 1063,95.2 1064,98.4 1065,91.4 1066,95.3 1067,88.6 1068,95.5 1069,99 1070,93.1 1071,73.3 1072,88.5 1073,116.3 1074,103.1 1075,95.9 1076,100.9 1077,109.5 1078,105.6 1079,100.8 1080,92.6 1081,98.2 1082,93.4 1083,103.3 1084,114 1085,112.7 1086,100.5 1087,95.5 1088,92.2 1089,104.8 1090,108.7 1091,110.7 1092,108.1 1093,96.8 1094,89.7 1095,110.5 1096,101.5 1097,118.2 1098,94.2 1099,95.7 1100,98.8" stroke="#CCFF00" stroke-width="4.2"/>
<polyline transform="translate(-168.50 654) scale(1.816 1)" vector-effect="non-scaling-stroke" points="700,-86.3 701,-85.8 702,-69.7 703,-84.4 704,-86.8 705,-73.7 706,-84.7 707,-73.3 708,-76.4 709,-86.3 710,-88.6 711,-81.3 712,-81.9 713,-79.3 714,-83.4 715,-74.3 716,-81.8 717,-81.5 718,-78 719,-85.5 720,-79 721,-75.9 722,-85.1 723,-89.5 724,-65.1 725,-71.6 726,-72.6 727,-75.8 728,-58.3 729,-68.4 730,-83.6 731,-67.4 732,-74.8 733,-65.4 734,-67.1 735,-56.3 736,-60 737,-67.9 738,-54.5 739,-40.7 740,-64.5 741,-56.7 742,-59.4 743,-59.7 744,-72.9 745,-73.3 746,-53.4 747,-59.2 748,-66.6 749,-48.7 750,-49 751,-53.4 752,-67.4 753,-61.9 754,-47.8 755,-72.8 756,-74.6 757,-66.9 758,-50.7 759,-53.1 760,-51.8 761,-53 762,-53.6 763,-44.3 764,-22.6 765,-43.1 766,-41 767,-53 768,-39 769,-47.1 770,-48.7 771,-53.6 772,-57.2 773,-56.1 774,-59.4 775,-62.9 776,-38.4 777,-44.6 778,-42.8 779,-45.9 780,-62.3 781,-53.8 782,-58.6 783,-59.2 784,-53.3 785,-49.7 786,-49.6 787,-49.3 788,-52.4 789,-50.3 790,-39.8 791,-30.1 792,-37.1 793,-49.8 794,-47.1 795,-41.5 796,-40.1 797,-38.3 798,-37.8 799,-44.5 800,-51.5 801,-63 802,-44.3 803,-43.7 804,-56.6 805,-52.2 806,-54.3 807,-55.5 808,-38.2 809,-51.7 810,-32.9 811,-49.1 812,-58.4 813,-52.7 814,-33 815,-50.1 816,-49.3 817,-70.8 818,-52.7 819,-63.8 820,-56.9 821,-42.4 822,-52.5 823,-46.8 824,-52.2 825,-54.1 826,-48.7 827,-40.5 828,-46.6 829,-48.6 830,-55.9 831,-63.1 832,-49.4 833,-48.5 834,-45.2 835,-37.9 836,-38.2 837,-52.2 838,-46.4 839,-45.4 840,-51.3 841,-70.3 842,-63.9 843,-57.5 844,-51.2 845,-60.3 846,-72.9 847,-54.1 848,-62.7 849,-70.4 850,-64.8 851,-63.6 852,-71.2 853,-77.8 854,-79.5 855,-69.1 856,-75.3 857,-72.3 858,-91.3 859,-83.3 860,-78.9 861,-78.4 862,-89.5 863,-78.6 864,-58 865,-63.2 866,-69.9 867,-70 868,-72.6 869,-58 870,-61.1 871,-57.9 872,-45.4 873,-41.5 874,-42.9 875,-60.7 876,-54.5 877,-37.4 878,-52.3 879,-35.5 880,-40.7 881,-34.2 882,-42.9 883,-50.7 884,-50.1 885,-29.4 886,-38.9 887,-48.6 888,-33.1 889,-48.2 890,-41.1 891,-35.3 892,-35.8 893,-35.9 894,-41 895,-62 896,-45 897,-42.5 898,-42.6 899,-34.7 900,-28.4 901,-29.4 902,-17.1 903,-6.7 904,-18.1 905,-23.9 906,-30 907,-14.3 908,-27.3 909,-1.6 910,.9 911,-10 912,-1 913,-9.1 914,-11.5 915,4.7 916,-4.1 917,4.8 918,6 919,20.5 920,15.6 921,25.3 922,23.8 923,12.1 924,8.3 925,2.2 926,18.6 927,1.9 928,13.7 929,6 930,18.3 931,32.4 932,23.3 933,23.5 934,24.6 935,30.1 936,17.7 937,26.7 938,27.4 939,19.7 940,18.1 941,34.4 942,33.5 943,29.8 944,19 945,20 946,12.7 947,7 948,15.4 949,15.9 950,10.3 951,9.3 952,21.5 953,17.8 954,8 955,34.1 956,11.1 957,20.3 958,14.9 959,27.1 960,27 961,35.2 962,30.4 963,25.5 964,43 965,37 966,35.1 967,36.9 968,34.1 969,42.8 970,56 971,58.2 972,50.4 973,52.6 974,55.4 975,46.6 976,61.4 977,56.5 978,40.2 979,56.1 980,49.5 981,57.1 982,62.8 983,57.1 984,60.8 985,70.5 986,52.7 987,45.2 988,57.9 989,60.2 990,77.6 991,73.6 992,69 993,64.1 994,50.1 995,52.2 996,60.9 997,66.7 998,63.5 999,66.8 1000,72.2 1001,62.8 1002,62.6 1003,58.8 1004,73.8 1005,53.2 1006,67.2 1007,72.3 1008,51.8 1009,58.7 1010,72.4 1011,60 1012,59.2 1013,63.5 1014,74.2 1015,71 1016,60.2 1017,53 1018,50.8 1019,64 1020,48.3 1021,55.9 1022,66.9 1023,55.4 1024,59 1025,62.2 1026,69.5 1027,56.3 1028,64.4 1029,66.7 1030,68.7 1031,57.6 1032,71.3 1033,65.6 1034,69.8 1035,66.5 1036,86.6 1037,78 1038,91.1 1039,74.9 1040,74 1041,88.1 1042,78.2 1043,82.1 1044,89.3 1045,80.1 1046,76.4 1047,79.8 1048,90.4 1049,88.9 1050,95 1051,85.9 1052,82.8 1053,78.6 1054,84.4 1055,84.4 1056,88.1 1057,83.8 1058,84.9 1059,89 1060,99.6 1061,93.1 1062,90.4 1063,102.3 1064,107.9 1065,97.7 1066,96.4 1067,86.4 1068,86.8 1069,98.8 1070,112.2 1071,118.5 1072,112.9 1073,103 1074,109 1075,97.2 1076,104.5 1077,99.1 1078,106 1079,118 1080,125.6 1081,113.1 1082,111.7 1083,97.7 1084,101.9 1085,118.9 1086,119.8 1087,117.1 1088,114.1 1089,122.2 1090,110.8 1091,108.7 1092,130 1093,108.9 1094,112.9 1095,109.2 1096,121.3 1097,111.9 1098,109 1099,109.3 1100,117.5" stroke="#00FF66" stroke-width="4.2"/>
<polyline transform="translate(-168.50 642) scale(1.816 1)" vector-effect="non-scaling-stroke" points="700,-97 701,-98.2 702,-84.9 703,-88 704,-87.6 705,-95.4 706,-95.5 707,-89.8 708,-99.6 709,-91.1 710,-85.7 711,-96.3 712,-93 713,-97.8 714,-77.4 715,-81.8 716,-77.4 717,-85.8 718,-92.2 719,-85.8 720,-71.5 721,-66.4 722,-72.6 723,-80.3 724,-78 725,-71.5 726,-87.4 727,-75.2 728,-85.6 729,-79.4 730,-73.5 731,-76.1 732,-78 733,-68.3 734,-79.7 735,-81.9 736,-86.2 737,-77.8 738,-71 739,-76.7 740,-92.2 741,-75.5 742,-69 743,-79.7 744,-76.2 745,-72 746,-77 747,-69 748,-67.7 749,-77.1 750,-91.3 751,-78.8 752,-56.5 753,-54 754,-66.3 755,-74.6 756,-55.3 757,-56.8 758,-53.3 759,-47.2 760,-57.1 761,-61.8 762,-68.5 763,-62 764,-68.9 765,-53.5 766,-59.7 767,-46.8 768,-58.5 769,-54.9 770,-63.1 771,-52.1 772,-63.5 773,-50 774,-53.1 775,-74.3 776,-75.4 777,-62.3 778,-62.6 779,-47.2 780,-67.3 781,-66.8 782,-63.9 783,-61.5 784,-48.8 785,-60.7 786,-75.7 787,-52.5 788,-56.2 789,-73.5 790,-70 791,-65.8 792,-61.8 793,-55.8 794,-63.3 795,-67.5 796,-71.9 797,-66.3 798,-63.2 799,-59.9 800,-80.8 801,-75.4 802,-62.8 803,-51.2 804,-56.1 805,-83.9 806,-87.2 807,-66.9 808,-67.4 809,-68.8 810,-53.9 811,-76.1 812,-63.7 813,-69.6 814,-78.1 815,-92.4 816,-88.4 817,-65.6 818,-73.5 819,-70.9 820,-72.2 821,-79 822,-71.3 823,-71.5 824,-73.2 825,-71.4 826,-71.1 827,-59.9 828,-58.7 829,-46.4 830,-53.3 831,-58.4 832,-64.9 833,-43.4 834,-23.2 835,-39.4 836,-61.1 837,-40.3 838,-48.7 839,-41.5 840,-42.9 841,-41.6 842,-46.8 843,-51.9 844,-42.9 845,-52.8 846,-44.8 847,-58.2 848,-56.9 849,-64.6 850,-54.3 851,-66.1 852,-71.4 853,-58.6 854,-61.6 855,-67.1 856,-76.2 857,-70.8 858,-65.9 859,-62.5 860,-72.3 861,-63.7 862,-80 863,-67 864,-70.2 865,-56.7 866,-60.4 867,-37.1 868,-46.2 869,-45.1 870,-62.7 871,-58 872,-36 873,-44.2 874,-31.6 875,-41.9 876,-33.3 877,-41.1 878,-32.5 879,-27.3 880,-24 881,-35.5 882,-41.6 883,-26.9 884,-25.5 885,-21.5 886,-34.6 887,-21.3 888,-24.3 889,-31.8 890,-27.5 891,-14.7 892,-17.3 893,-17.7 894,-17.2 895,-20 896,-7.2 897,-12.9 898,-25.3 899,-26.7 900,-18.7 901,-14.9 902,-5 903,-28.1 904,-6.4 905,3.3 906,-7.8 907,3.9 908,-7.3 909,-5.4 910,-5.9 911,11.2 912,12.7 913,13.2 914,-2.6 915,5.1 916,-.6 917,9.4 918,16.6 919,25.5 920,17.1 921,19.6 922,19.3 923,13.6 924,34.9 925,31.2 926,38.6 927,36.8 928,20.7 929,23.3 930,35.3 931,39.5 932,39 933,33.7 934,38.8 935,25.8 936,28.1 937,22 938,36.5 939,34.9 940,36 941,28.6 942,9.2 943,18.4 944,27.9 945,28.2 946,34.2 947,36.7 948,23.8 949,31.4 950,14.4 951,28.9 952,11.7 953,27.5 954,10.5 955,27.5 956,40.7 957,29.3 958,33.8 959,39.6 960,12.6 961,14 962,31.9 963,28.2 964,33.4 965,60 966,59.9 967,50.6 968,39.9 969,48.4 970,50.2 971,47.3 972,61.6 973,38.7 974,60.8 975,52.4 976,63.4 977,56.3 978,51.7 979,51.2 980,59.1 981,62.3 982,83.7 983,78.1 984,64.4 985,53.6 986,62.2 987,68.2 988,52 989,61.4 990,74.1 991,63 992,51.8 993,68.1 994,78.5 995,66.3 996,66.5 997,74.9 998,71.9 999,61.7 1000,62.3 1001,64.5 1002,65.1 1003,73.5 1004,58.1 1005,64.8 1006,62.3 1007,46.2 1008,63.9 1009,63.4 1010,51.3 1011,45.5 1012,65.8 1013,76.4 1014,65.9 1015,61.5 1016,68.8 1017,60.3 1018,59.7 1019,71.6 1020,58.6 1021,73.2 1022,70.9 1023,77.8 1024,55.9 1025,75.4 1026,70.6 1027,74.7 1028,65.7 1029,62.6 1030,79.5 1031,78.7 1032,79 1033,80.9 1034,81.3 1035,65.4 1036,72.3 1037,74.7 1038,93.1 1039,92.4 1040,75.3 1041,67.9 1042,84.2 1043,87.3 1044,93.7 1045,76.7 1046,94.5 1047,88.6 1048,95.2 1049,90 1050,83.9 1051,80.7 1052,96.9 1053,66.8 1054,92.4 1055,96.9 1056,86.7 1057,96.1 1058,92.4 1059,83 1060,89.5 1061,98.6 1062,97 1063,91.3 1064,101.8 1065,105.6 1066,110.4 1067,104.8 1068,113.9 1069,100.6 1070,100.3 1071,94.6 1072,104.2 1073,108.3 1074,108.9 1075,100.4 1076,116 1077,100.1 1078,101.8 1079,88.6 1080,115.2 1081,119.9 1082,112.7 1083,115.4 1084,105.1 1085,104.2 1086,105.6 1087,115.6 1088,112.9 1089,116.3 1090,108.5 1091,104.9 1092,117.8 1093,120 1094,121.3 1095,114.1 1096,119.4 1097,107.9 1098,108.9 1099,120.3 1100,113.7" stroke="#0066FF" stroke-width="4.2"/>
<polyline transform="translate(-168.50 640) scale(1.816 1)" vector-effect="non-scaling-stroke" points="700,-87.9 701,-89.1 702,-91.3 703,-86.2 704,-89 705,-89.9 706,-87.3 707,-94.6 708,-75.1 709,-76.3 710,-85.8 711,-82 712,-90.7 713,-84.2 714,-95.4 715,-86.1 716,-82 717,-85.4 718,-77.1 719,-87.7 720,-82.9 721,-78.4 722,-78.8 723,-84.3 724,-72.5 725,-77.7 726,-81.3 727,-93.7 728,-90.4 729,-94.8 730,-75.4 731,-85.1 732,-97.9 733,-87.1 734,-82.6 735,-95.6 736,-91.3 737,-69.3 738,-83.4 739,-83 740,-58 741,-76.7 742,-89.7 743,-87.8 744,-76.7 745,-67.9 746,-78.2 747,-88.5 748,-67.7 749,-67.8 750,-70 751,-72.7 752,-56.6 753,-63 754,-73.9 755,-72.8 756,-67.4 757,-74 758,-67.7 759,-52.3 760,-51.3 761,-50.1 762,-49.5 763,-55.7 764,-54.8 765,-70.8 766,-53.9 767,-50.3 768,-53.1 769,-53.4 770,-63.6 771,-60.9 772,-68.8 773,-62.2 774,-58.7 775,-61.6 776,-48.1 777,-61.2 778,-55.4 779,-54.7 780,-58.1 781,-53 782,-53.2 783,-59.7 784,-47.6 785,-56.5 786,-52.9 787,-64.9 788,-66.9 789,-58.1 790,-39.2 791,-64.2 792,-69.6 793,-66.1 794,-62.8 795,-58.2 796,-49.6 797,-57.6 798,-53.5 799,-56.8 800,-62.4 801,-62.6 802,-54.5 803,-55.1 804,-46.2 805,-53.1 806,-57.3 807,-65.8 808,-64.3 809,-54.4 810,-52.6 811,-41.7 812,-57.2 813,-50.5 814,-53.7 815,-70.4 816,-66 817,-52.9 818,-55 819,-58 820,-43.8 821,-50.6 822,-47.8 823,-42.2 824,-50.1 825,-42.4 826,-52.5 827,-56.6 828,-37.1 829,-30.7 830,-34.1 831,-46 832,-44.7 833,-48.2 834,-48.7 835,-39.8 836,-42.3 837,-30.3 838,-49.3 839,-46.8 840,-52.3 841,-56.1 842,-33.2 843,-32.3 844,-44 845,-47.1 846,-48.5 847,-55.1 848,-83.6 849,-84.4 850,-62.6 851,-85.2 852,-60.5 853,-60.1 854,-66.5 855,-68.1 856,-66.3 857,-76.7 858,-58.8 859,-70.8 860,-78.6 861,-56.2 862,-64.2 863,-64.4 864,-55.6 865,-43.9 866,-57.1 867,-55.9 868,-63.5 869,-50.8 870,-32.1 871,-46.8 872,-50.7 873,-56.1 874,-53.2 875,-51.7 876,-40.2 877,-34.8 878,-51.7 879,-35.1 880,-23.2 881,-24.3 882,-36.9 883,-26.1 884,-33.2 885,-39.3 886,-41.7 887,-41.9 888,-32 889,-21.8 890,-38.3 891,-43.2 892,-17.6 893,-28.3 894,-6 895,-14.4 896,-30.9 897,-14.6 898,-9.1 899,-29.6 900,-21.7 901,-5.4 902,-24.2 903,-12.4 904,-8.6 905,5.2 906,4.1 907,-9 908,-18.5 909,-10.5 910,-4 911,-3 912,-5.2 913,-8.6 914,9 915,1.2 916,-2.7 917,5.9 918,8.7 919,9.2 920,20.1 921,6.8 922,14.9 923,24.5 924,16.2 925,20 926,26.2 927,27.2 928,24.3 929,15.1 930,16.8 931,25.3 932,25 933,24.6 934,22.7 935,12.8 936,28.3 937,19.1 938,36 939,48.9 940,35.2 941,28.7 942,18.9 943,13.6 944,16.5 945,27.9 946,22.9 947,9.3 948,25.9 949,20.7 950,29.5 951,26.2 952,19.7 953,21.7 954,32.1 955,25.1 956,38.5 957,26.6 958,41.2 959,25.1 960,23.8 961,38 962,48.6 963,37.8 964,44.3 965,34.3 966,32.2 967,41 968,59.6 969,46.1 970,33.6 971,26.3 972,43.8 973,53.9 974,48.9 975,52.4 976,47.3 977,61.9 978,60.4 979,46.2 980,50 981,65.7 982,60.3 983,42.2 984,54 985,57 986,41.2 987,61.5 988,73.7 989,61.2 990,56.1 991,60.8 992,60.4 993,63.3 994,68.6 995,54.5 996,60.8 997,79.4 998,68.4 999,67.4 1000,69.7 1001,61.6 1002,55.7 1003,81.8 1004,70.9 1005,59.8 1006,72.1 1007,65.6 1008,59.7 1009,61.9 1010,56.3 1011,57.3 1012,71.6 1013,68.6 1014,64.2 1015,75 1016,72.8 1017,63.4 1018,53.5 1019,58.5 1020,73 1021,59.3 1022,78.4 1023,65.4 1024,53.2 1025,58.3 1026,74.3 1027,63 1028,68.8 1029,73.7 1030,65.7 1031,76.6 1032,82.9 1033,80 1034,61.3 1035,73.6 1036,80.8 1037,83.5 1038,91.4 1039,82.4 1040,79.1 1041,64.2 1042,68.2 1043,87.1 1044,74.9 1045,78.8 1046,70.5 1047,79.2 1048,75.4 1049,87 1050,86.4 1051,89.4 1052,77.2 1053,84.8 1054,95.2 1055,68.6 1056,81.7 1057,90.1 1058,98.3 1059,98.9 1060,99.7 1061,98.6 1062,102.4 1063,97.4 1064,97.4 1065,91 1066,97.3 1067,99.5 1068,113.4 1069,98.2 1070,105.1 1071,104.3 1072,107 1073,115.9 1074,110.3 1075,103.2 1076,109.7 1077,117.5 1078,114.3 1079,116.1 1080,102.2 1081,115.4 1082,108.9 1083,101.8 1084,111.6 1085,101.5 1086,111.1 1087,123 1088,109.8 1089,104.4 1090,118.2 1091,118 1092,119.1 1093,99.9 1094,103.6 1095,124.4 1096,109.7 1097,108.5 1098,113.4 1099,115.1 1100,112.8" stroke="#CC00FF" stroke-width="4.2"/>
</g>
<path d="M1066.3 515.0V793.4H1868.0" fill="none" stroke="#000" stroke-width="4.2" stroke-linecap="butt" stroke-linejoin="miter"/>
<line x1="1102.7" y1="795.3" x2="1102.7" y2="806.7" stroke="#000" stroke-width="4.2"/>
<text x="1102.7" y="840.5" font-size="30.8" text-anchor="middle">700</text>
<line x1="1284.3" y1="795.3" x2="1284.3" y2="806.7" stroke="#000" stroke-width="4.2"/>
<text x="1284.3" y="840.5" font-size="30.8" text-anchor="middle">800</text>
<line x1="1465.9" y1="795.3" x2="1465.9" y2="806.7" stroke="#000" stroke-width="4.2"/>
<text x="1465.9" y="840.5" font-size="30.8" text-anchor="middle">900</text>
<line x1="1647.5" y1="795.3" x2="1647.5" y2="806.7" stroke="#000" stroke-width="4.2"/>
<text x="1647.5" y="840.5" font-size="30.8" text-anchor="middle">1000</text>
<line x1="1829.1" y1="795.3" x2="1829.1" y2="806.7" stroke="#000" stroke-width="4.2"/>
<text x="1829.1" y="840.5" font-size="30.8" text-anchor="middle">1100</text>
<text x="1466.2" y="901.8" font-size="38.5" text-anchor="middle">Frequency</text>
<text x="1025.8" y="655.2" font-size="38.5" text-anchor="middle" transform="rotate(-90 1025.8 655.2)">Intensity</text>
<text x="1467.2" y="548.2" font-size="53.2" text-anchor="middle">2</text>
<g stroke="#BEBEBE" stroke-width="5.3">
<line x1="104.9" y1="1163.0" x2="607.4" y2="1163.0"/>
<line x1="104.9" y1="1245.1" x2="607.4" y2="1245.1"/>
<line x1="104.9" y1="1327.2" x2="607.4" y2="1327.2"/>
<line x1="104.9" y1="1409.3" x2="607.4" y2="1409.3"/>
<line x1="104.9" y1="1491.3" x2="607.4" y2="1491.3"/>
<line x1="125.4" y1="1057.6" x2="125.4" y2="1561"/>
<line x1="268.7" y1="1057.6" x2="268.7" y2="1561"/>
<line x1="412.0" y1="1057.6" x2="412.0" y2="1561"/>
<line x1="555.3" y1="1057.6" x2="555.3" y2="1561"/>
</g>
<g fill="none" stroke-linejoin="round" stroke-linecap="butt">
<polyline transform="translate(125.40 1121) scale(0.2866 1)" vector-effect="non-scaling-stroke" points="1,37.4 4,37.4 7,37.4 10,37.4 13,37.4 16,37.4 19,37.4 22,37.4 25,37.4 28,37.4 31,37.4 34,37.4 37,37.3 40,37.3 43,37.2 46,37.1 49,36.9 52,36.6 55,36.2 58,35.5 61,34.4 64,32.7 67,29 70,22.4 73,13.3 76,4.2 79,-3.3 82,-7.5 85,-8.4 88,-7.6 91,-9 94,-9.5 97,-8.3 100,-8.8 103,-10.5 106,-9.4 109,-8 112,-11.3 115,-10.2 118,-10.2 121,-11.5 124,-9.1 127,-11 130,-10.6 133,-10.4 136,-10 139,-11.7 142,-10.8 145,-12.7 148,-11.7 151,-11.4 154,-12.9 157,-12 160,-13.4 163,-12.7 166,-11.6 169,-13.2 172,-12.9 175,-14.5 178,-14.2 181,-15.8 184,-15 187,-16.5 190,-16.7 193,-17.5 196,-16.6 199,-17.1 202,-16.2 205,-17.2 208,-19.6 211,-19 214,-19.7 217,-20.5 220,-22.2 223,-21.9 226,-20.7 229,-22 232,-23.8 235,-24.2 238,-24.3 241,-23.1 244,-24.5 247,-25.2 250,-24.8 253,-25.2 256,-25.7 259,-25.2 262,-24 265,-25 268,-24.8 271,-23.8 274,-25.7 277,-25.1 280,-25.6 283,-24.5 286,-23.7 289,-24 292,-22.7 295,-23.7 298,-22.5 301,-23.4 304,-23.6 307,-23.9 310,-22.2 313,-23.2 316,-23.6 319,-23 322,-24 325,-22.1 328,-22.1 331,-24.1 334,-22.3 337,-21.7 340,-19.6 343,-21 346,-20.4 349,-18.4 352,-17.4 355,-17.6 358,-17.1 361,-14.7 364,-13.3 367,-14.3 370,-14 373,-15.3 376,-12.7 379,-13 382,-12.2 385,-13 388,-12.9 391,-11.3 394,-11.9 397,-11.2 400,-11.7 403,-11.9 406,-12.7 409,-11.4 412,-12.5 415,-11.9 418,-14.3 421,-11.6 424,-11.1 427,-10.6 430,-12.2 433,-13 436,-11.8 439,-10.3 442,-11.1 445,-10.6 448,-11.5 451,-11.1 454,-10.8 457,-9.8 460,-12.2 463,-10.6 466,-11.3 469,-10.6 472,-10.2 475,-10.8 478,-10.5 481,-10 484,-10.4 487,-9.7 490,-10 493,-8.7 496,-9.1 499,-9.5 502,-9.6 505,-9.3 508,-8.3 511,-9 514,-8.6 517,-8.8 520,-9.8 523,-8.5 526,-8.5 529,-9.2 532,-9.2 535,-8.6 538,-9.5 541,-9.4 544,-8.4 547,-7.3 550,-8.2 553,-8.1 556,-8.1 559,-7.4 562,-8.3 565,-8.6 568,-8.6 571,-7.6 574,-9.3 577,-9.7 580,-8.4 583,-7.5 586,-7 589,-7 592,-8.4 595,-7.4 598,-7.6 601,-7.7 604,-7.5 607,-7.8 610,-7.7 613,-7.6 616,-9.2 619,-10.5 622,-9.2 625,-8.1 628,-6.8 631,-8 634,-5.7 637,-9.2 640,-6.8 643,-7.7 646,-6.1 649,-7.1 652,-8.4 655,-7.3 658,-6.9 661,-6.3 664,-6.5 667,-8.4 670,-6.1 673,-6.7 676,-6.9 679,-6.4 682,-8.2 685,-10.8 688,-13.7 691,-16.5 694,-11.3 697,-8.8 700,-7.8 703,-9.1 706,-10.1 709,-9.2 712,-7.4 715,-7.3 718,-7.8 721,-8.1 724,-7.8 727,-7.6 730,-9.1 733,-9.6 736,-8.3 739,-7.6 742,-6.8 745,-5.6 748,-5.7 751,-7.2 754,-5.1 757,-5.5 760,-5.4 763,-5.5 766,-6.6 769,-6 772,-6 775,-6.1 778,-3.6 781,-5.5 784,-6 787,-6.4 790,-4.9 793,-4.7 796,-5.1 799,-5.4 802,-6.5 805,-8.6 808,-9.4 811,-6.2 814,-4.6 817,-4.9 820,-4.4 823,-3.9 826,-5.6 829,-6 832,-10.5 835,-11.9 838,-11.8 841,-8.2 844,-5.9 847,-7.6 850,-10.3 853,-13.4 856,-10.6 859,-7.1 862,-6.8 865,-7.6 868,-7.4 871,-5.7 874,-6.3 877,-5.7 880,-6.2 883,-8 886,-10.2 889,-7.9 892,-8 895,-6 898,-4.1 901,-3.3 904,-2.8 907,-2.6 910,-.7 913,.1 916,1.4 919,1.1 922,1.4 925,1.2 928,2 931,.9 934,.6 937,2 940,1.8 943,.9 946,1.5 949,2 952,1.2 955,1.8 958,2.3 961,2.3 964,2.3 967,1.6 970,2.2 973,2.2 976,2.3 979,2.1 982,3.4 985,1.5 988,2.4 991,3.1 994,2 997,3.3 1000,3.5 1003,2.5 1006,2.6 1009,2 1012,3.2 1015,2.4 1018,3.2 1021,2.5 1024,4 1027,3.1 1030,3.3 1033,3.8 1036,4.2 1039,4.6 1042,4.7 1045,4 1048,4.8 1051,3.9 1054,5.5 1057,5.2 1060,4.6 1063,5.2 1066,5.1 1069,4.6 1072,5.5 1075,4.7 1078,5.5 1081,5.6 1084,6.1 1087,5.8 1090,5.7 1093,6.2 1096,5.9 1099,5.2 1102,6.4 1105,6.5 1108,6.8 1111,6.1 1114,6.5 1117,6.2 1120,6.2 1123,6.9 1126,7.2 1129,6.6 1132,6.8 1135,6.8 1138,6.6 1141,6.5 1144,7.5 1147,7.4 1150,7.2 1153,7.1 1156,6.5 1159,6.3 1162,7.8 1165,8.5 1168,7.6 1171,7.5 1174,8.3 1177,8.2 1180,8.5 1183,8.9 1186,8 1189,8.2 1192,8.1 1195,8.3 1198,8.6 1201,8.6 1204,8.8 1207,8.6 1210,8.9 1213,8.2 1216,9.1 1219,9.8 1222,9.4 1225,8.9 1228,9.9 1231,8.5 1234,10.4 1237,9.5 1240,9.7 1243,9.8 1246,9.4 1249,10.6 1252,9.8 1255,9.5 1258,10.4 1261,10.7 1264,10.6 1267,11.1 1270,11.7 1273,11.3 1276,10.7 1279,10.5 1282,9.8 1285,10.7 1288,11 1291,11.5 1294,11.4 1297,11.2 1300,11.7 1303,10.9 1306,11.8 1309,11.1 1312,11.8 1315,11.5 1318,11.5 1321,12.2 1324,11.5 1327,11.7 1330,11.9 1333,12.6 1336,11.2 1339,12 1342,13.1 1345,12.1 1348,12.2 1351,12.2 1354,12.6 1357,12.7 1360,12.4 1363,13.7 1366,12.9 1369,12.5 1372,13 1375,12.9 1378,12.5 1381,12.8 1384,13.4 1387,13.3 1390,13.2 1393,13.4 1396,13.4 1399,13.7 1402,13.2 1405,13.6 1408,14.3 1411,14.3 1414,14.4 1417,13.1 1420,14.1 1423,14.6 1426,13.7 1429,14.5 1432,14.7 1435,14.5 1438,14.3 1441,14.4 1444,14.5 1447,14.1 1450,15.3 1453,14 1456,14.9 1459,14.6 1462,14.8 1465,15 1468,14.9 1471,14.9 1474,14.8 1477,15.4 1480,15.3 1483,15.4 1486,15.2 1489,15.3 1492,15.5 1495,15.8 1498,15.3 1501,15.5 1504,15.5 1507,15.8 1510,16 1513,15.8 1516,16.7 1519,16.3 1522,16.6 1525,16.3 1528,16.4 1531,16.1 1534,16.5 1537,16.5 1540,16.6 1543,17.1 1546,16.6 1549,16.2 1552,16.9 1555,16.2 1558,17.2 1561,16.8 1564,17.2 1567,17 1570,16.9 1573,16.8 1576,17.1 1579,17.6 1582,17.7 1585,16.9 1588,17.4 1591,17.4 1594,17.8 1597,18 1600,18.2 1603,17.7" stroke="#FF7F00" stroke-width="4.3"/>
<polyline transform="translate(125.40 1209) scale(0.2866 1)" vector-effect="non-scaling-stroke" points="1,31.8 4,31.8 7,31.8 10,31.8 13,31.8 16,31.8 19,31.8 22,31.8 25,31.8 28,31.8 31,31.8 34,31.8 37,31.7 40,31.7 43,31.6 46,31.5 49,31.3 52,31.1 55,30.7 58,30 61,29.1 64,27.3 67,24.1 70,17.6 73,8.9 76,.1 79,-5.5 82,-8.6 85,-10.6 88,-12.4 91,-10.5 94,-11.3 97,-10.8 100,-10.5 103,-11 106,-11.3 109,-12 112,-15.2 115,-12 118,-12.4 121,-11.5 124,-14.1 127,-12.7 130,-12.7 133,-14.8 136,-13.7 139,-13.7 142,-14.9 145,-15 148,-16.5 151,-15.7 154,-15.9 157,-15.3 160,-17.1 163,-15.9 166,-17.7 169,-16.5 172,-17.7 175,-17.5 178,-18.2 181,-17.8 184,-18.7 187,-18.9 190,-19.4 193,-20 196,-21.8 199,-19.5 202,-22.6 205,-21.1 208,-22.7 211,-23.7 214,-24.8 217,-23.9 220,-25.2 223,-26.3 226,-27.6 229,-29.1 232,-28.7 235,-29.7 238,-30 241,-29.9 244,-31.8 247,-30.3 250,-31.2 253,-32.4 256,-30.8 259,-32.6 262,-31.3 265,-30.9 268,-32 271,-32.3 274,-31 277,-31.8 280,-32.5 283,-32.7 286,-32.6 289,-31.8 292,-31.9 295,-30.1 298,-31.5 301,-31.8 304,-29.1 307,-29.9 310,-31.2 313,-29.9 316,-29.9 319,-30.3 322,-31.3 325,-28.9 328,-28.5 331,-29.3 334,-29.8 337,-27.3 340,-27.1 343,-28.9 346,-25.4 349,-25.1 352,-25.6 355,-23.6 358,-22.6 361,-21.3 364,-19.3 367,-18.9 370,-18.1 373,-16.6 376,-15.2 379,-14 382,-12.9 385,-11.6 388,-12.2 391,-10.6 394,-10.5 397,-11.5 400,-9.6 403,-10.2 406,-10.2 409,-9.1 412,-9.7 415,-10.3 418,-9.6 421,-10.4 424,-10 427,-8.5 430,-10.3 433,-9 436,-9 439,-8.1 442,-7.2 445,-8.5 448,-8.4 451,-8.5 454,-9 457,-7.3 460,-6.8 463,-8.1 466,-8.7 469,-6.7 472,-7.4 475,-6.6 478,-6.9 481,-6.3 484,-6.6 487,-5.9 490,-6.9 493,-6 496,-5.7 499,-5.5 502,-4.6 505,-4.2 508,-4.6 511,-4.4 514,-4.7 517,-4 520,-3.5 523,-5.1 526,-4.4 529,-4.3 532,-3.4 535,-5 538,-4.4 541,-3.7 544,-4.3 547,-2.9 550,-2.5 553,-2.8 556,-3.5 559,-3.5 562,-3 565,-3.2 568,-2.9 571,-3.1 574,-2 577,-3.1 580,-3.6 583,-3 586,-2.5 589,-1.1 592,-2 595,-1 598,-1.6 601,-2 604,-2 607,-3.6 610,-2.9 613,-2.5 616,-2.5 619,-3 622,-2.6 625,-3 628,-2.3 631,-2.9 634,-2.8 637,-4.5 640,-3.4 643,-3.7 646,-3.7 649,-3.1 652,-3.9 655,-3.9 658,-3.4 661,-3.3 664,-3.6 667,-2.1 670,-4 673,-3.9 676,-4.2 679,-3.9 682,-6.3 685,-6.2 688,-6.8 691,-7 694,-6.8 697,-6.4 700,-3.8 703,-4 706,-3.7 709,-3.7 712,-4.7 715,-4.2 718,-4.4 721,-3.5 724,-2.9 727,-4.4 730,-3.8 733,-5.8 736,-5.6 739,-2.8 742,-3 745,-3 748,-2.4 751,-2.6 754,-2.1 757,-2.8 760,-2.7 763,-2.3 766,-1.8 769,-1.8 772,-1.4 775,-1.4 778,-1.8 781,-2.2 784,-.9 787,-1.1 790,-1.6 793,-1 796,-1.7 799,-1.6 802,-2.1 805,-2.8 808,-3.4 811,-3.9 814,-2.1 817,-1.7 820,-2.3 823,-2.6 826,-2.6 829,-3.2 832,-4.5 835,-5.6 838,-5.6 841,-3.4 844,-3.8 847,-3 850,-5.1 853,-7.3 856,-5.9 859,-4 862,-4 865,-3.1 868,-3 871,-2.3 874,-2.2 877,-2.5 880,-3.4 883,-2.8 886,-4.1 889,-5.4 892,-3.6 895,-2.9 898,-1 901,-.7 904,-.6 907,.3 910,.2 913,1 916,1.3 919,1.3 922,2.9 925,2.1 928,2.6 931,4.7 934,4 937,4.5 940,5.2 943,5.2 946,4.8 949,4.7 952,4.3 955,5.2 958,6.1 961,5.1 964,6.1 967,5.5 970,5.6 973,4.9 976,5.5 979,5.9 982,5.8 985,6 988,6.3 991,5.5 994,5.8 997,6.1 1000,5.6 1003,6.3 1006,6.2 1009,6.5 1012,6.8 1015,7.2 1018,7.4 1021,6.2 1024,6.3 1027,6.7 1030,8.3 1033,6.7 1036,7 1039,8 1042,6.7 1045,7.3 1048,7.2 1051,7.7 1054,7.1 1057,7.9 1060,7.6 1063,7.5 1066,7.3 1069,7.2 1072,8.3 1075,7.7 1078,8.2 1081,8.2 1084,7.7 1087,7.9 1090,7.9 1093,8.9 1096,8.3 1099,8.2 1102,8.5 1105,8.2 1108,8.9 1111,8.5 1114,8.2 1117,8.2 1120,9 1123,8.4 1126,9 1129,8.5 1132,8.5 1135,8.8 1138,8.9 1141,9.2 1144,9 1147,9.6 1150,9.3 1153,9.6 1156,9.4 1159,10 1162,9.2 1165,10 1168,10 1171,10.2 1174,9.6 1177,9.9 1180,10.3 1183,9.8 1186,9.6 1189,10.7 1192,10.7 1195,9.7 1198,10.2 1201,11 1204,10.3 1207,10 1210,10.4 1213,10.4 1216,10.6 1219,10.9 1222,10.3 1225,10.8 1228,10.8 1231,11.8 1234,11.5 1237,11.1 1240,11.8 1243,11.1 1246,11.1 1249,11 1252,11.2 1255,11.6 1258,11.8 1261,12.1 1264,11.6 1267,11.7 1270,11.6 1273,12.1 1276,11.7 1279,11.4 1282,11.6 1285,12.4 1288,12.7 1291,12.1 1294,12.2 1297,11.8 1300,11.9 1303,12.1 1306,11.8 1309,12.6 1312,12.4 1315,12.9 1318,13.1 1321,12.6 1324,13.1 1327,12.7 1330,12.5 1333,12.5 1336,13.2 1339,13.5 1342,13.4 1345,12.9 1348,13.4 1351,13.5 1354,13.4 1357,13.6 1360,13.1 1363,13.6 1366,13.6 1369,14 1372,13.8 1375,13.2 1378,14.3 1381,13.5 1384,13.6 1387,13.9 1390,14 1393,14.2 1396,14.3 1399,14.2 1402,14.1 1405,13.8 1408,14.6 1411,14.6 1414,14.1 1417,14.5 1420,14.2 1423,15 1426,14.2 1429,14.3 1432,14.8 1435,15.1 1438,15.1 1441,14.5 1444,15.3 1447,15.6 1450,15.6 1453,15 1456,15.4 1459,15.3 1462,14.8 1465,16.1 1468,14.9 1471,15.9 1474,15.4 1477,15.7 1480,15.7 1483,15.6 1486,15.8 1489,15.5 1492,15.8 1495,16.1 1498,15.8 1501,16.3 1504,15.9 1507,15.5 1510,16.2 1513,15.7 1516,16.1 1519,15.5 1522,16.4 1525,16.1 1528,16.1 1531,16.5 1534,16.5 1537,16.6 1540,15.9 1543,16.4 1546,16.6 1549,16.2 1552,16.6 1555,16.9 1558,16.6 1561,16.8 1564,16.4 1567,16.7 1570,17 1573,16.3 1576,16.7 1579,16.4 1582,16 1585,16.9 1588,17.2 1591,16.4 1594,16.9 1597,16.7 1600,16.9 1603,17" stroke="#984EA3" stroke-width="4.3"/>
<polyline transform="translate(125.40 1290) scale(0.2866 1)" vector-effect="non-scaling-stroke" points="1,31.3 4,31.3 7,31.3 10,31.3 13,31.3 16,31.3 19,31.3 22,31.3 25,31.3 28,31.3 31,31.3 34,31.3 37,31.2 40,31.2 43,31.1 46,31.1 49,30.9 52,30.6 55,30.3 58,29.7 61,28.7 64,27.2 67,23.9 70,17.9 73,10.1 76,2.3 79,-4.5 82,-6.6 85,-9.1 88,-9.4 91,-8.4 94,-10.3 97,-9.8 100,-10.2 103,-9.3 106,-9.3 109,-10.5 112,-11.2 115,-11.2 118,-10.7 121,-10 124,-11.2 127,-12.2 130,-11.9 133,-11.7 136,-11.7 139,-11.8 142,-11.1 145,-11.3 148,-12.9 151,-13.3 154,-13.3 157,-12.6 160,-12.7 163,-14.4 166,-12.7 169,-14.6 172,-14.3 175,-16.4 178,-16.2 181,-16.3 184,-16.1 187,-17.1 190,-16.6 193,-16.6 196,-17.1 199,-19.2 202,-19 205,-20 208,-21.2 211,-21.6 214,-23.2 217,-23.6 220,-25 223,-24.7 226,-24.2 229,-26.8 232,-27.4 235,-27.5 238,-28.7 241,-30.5 244,-30.1 247,-29.2 250,-30.1 253,-30.1 256,-29.3 259,-30.6 262,-30.6 265,-30.8 268,-30.3 271,-29.3 274,-29.7 277,-30.1 280,-29.7 283,-31.5 286,-29.9 289,-31.7 292,-29.7 295,-30.4 298,-30 301,-30 304,-29.6 307,-29.6 310,-29.3 313,-30.7 316,-28.3 319,-30.2 322,-30.4 325,-30 328,-30 331,-30.9 334,-30.4 337,-29.1 340,-28.9 343,-28.7 346,-27.2 349,-26.7 352,-24.1 355,-24 358,-21.9 361,-21.5 364,-18.9 367,-18.9 370,-16.5 373,-16.5 376,-14 379,-15.1 382,-12.3 385,-11.7 388,-10.8 391,-11.1 394,-9 397,-10.8 400,-9.8 403,-8.8 406,-9.3 409,-9.3 412,-10.8 415,-10 418,-8.7 421,-9.7 424,-10.2 427,-7.9 430,-8.9 433,-10 436,-8.5 439,-8.7 442,-7.9 445,-9.3 448,-9.2 451,-8 454,-7.2 457,-8.8 460,-7.8 463,-8 466,-7.9 469,-8.5 472,-7.4 475,-8 478,-6.7 481,-5.6 484,-5.6 487,-6.7 490,-5.7 493,-6.6 496,-5.4 499,-4.6 502,-5.4 505,-5.4 508,-4.7 511,-3.5 514,-3.4 517,-4.2 520,-3.6 523,-4.1 526,-3.9 529,-3.2 532,-2.6 535,-3.9 538,-4 541,-3.2 544,-2 547,-2.8 550,-2.1 553,-3.1 556,-2.9 559,-3.1 562,-2.3 565,-2.5 568,-2.3 571,-1.6 574,-1.8 577,-1.9 580,-1.3 583,-1.4 586,-1.4 589,-.7 592,-2.2 595,-2.5 598,-1.6 601,-2 604,-2 607,-2 610,-2.8 613,-2.4 616,-2.3 619,-2.3 622,-3.5 625,-2 628,-2.1 631,-2.7 634,-2.3 637,-2.8 640,-2.7 643,-2.9 646,-4 649,-3 652,-2.6 655,-3 658,-3.4 661,-4 664,-3.6 667,-4.1 670,-4 673,-4.5 676,-2.9 679,-2.5 682,-3.4 685,-3.8 688,-6.1 691,-7.9 694,-8 697,-9.1 700,-7.5 703,-5.4 706,-5.5 709,-5.3 712,-5.5 715,-4.7 718,-5.5 721,-4.9 724,-5 727,-3.9 730,-4.6 733,-4.5 736,-4.9 739,-5.8 742,-6.6 745,-6.8 748,-4.4 751,-4.1 754,-2.1 757,-2.7 760,-2.5 763,-1.9 766,-1.3 769,-1.5 772,-1.6 775,-1.7 778,-.1 781,-.8 784,-1.4 787,-.9 790,-2.1 793,-1.8 796,-1.8 799,-2.1 802,-2.5 805,-3.3 808,-2.7 811,-3.5 814,-5.5 817,-6.6 820,-6.1 823,-4.9 826,-3.2 829,-2.6 832,-3.2 835,-3 838,-3.6 841,-5.5 844,-8 847,-7.1 850,-5 853,-1.9 856,-2.6 859,-4.4 862,-6.3 865,-6.7 868,-5.4 871,-4.5 874,-2.6 877,-2.3 880,-1.8 883,-2.1 886,-.9 889,-1.5 892,-1.3 895,-1.9 898,-3.2 901,-4.1 904,-2.6 907,-.6 910,.4 913,1.3 916,.2 919,.8 922,1.6 925,3.9 928,4.1 931,4.4 934,4.8 937,4.1 940,3.6 943,4.9 946,4.6 949,5.1 952,4.4 955,5 958,4 961,4.8 964,4.6 967,5.2 970,5.4 973,4.7 976,5 979,4.3 982,5 985,4 988,4.8 991,4.6 994,4.9 997,5.2 1000,5.1 1003,4.9 1006,4.8 1009,5.8 1012,5.5 1015,5.1 1018,5.3 1021,5.8 1024,5.4 1027,5.6 1030,4.8 1033,5.3 1036,5.4 1039,5.8 1042,5.7 1045,5.8 1048,5.4 1051,5.5 1054,6.6 1057,5.4 1060,6.3 1063,5.2 1066,5.2 1069,6 1072,6.6 1075,6.5 1078,5.9 1081,5.5 1084,7.1 1087,6.5 1090,6.2 1093,6.9 1096,6 1099,6.3 1102,5.9 1105,7 1108,5.8 1111,6.9 1114,6.3 1117,5.6 1120,6.5 1123,6.5 1126,7.2 1129,6.2 1132,6.4 1135,7.2 1138,7 1141,6.4 1144,6.8 1147,6.4 1150,6.8 1153,5.9 1156,7.8 1159,6.8 1162,6.9 1165,6.7 1168,6.6 1171,7 1174,7 1177,7.5 1180,6.6 1183,7 1186,6.4 1189,7 1192,7.1 1195,7.5 1198,7.7 1201,8.2 1204,7.9 1207,7.4 1210,6.8 1213,8 1216,7.4 1219,8.2 1222,7.4 1225,8 1228,7.8 1231,8 1234,7.7 1237,8.2 1240,7.9 1243,8 1246,8.2 1249,7.7 1252,8.6 1255,8.1 1258,8.5 1261,8.3 1264,8.3 1267,7.4 1270,7.8 1273,8.3 1276,8.7 1279,8 1282,8.7 1285,8.8 1288,8.5 1291,8.7 1294,9.7 1297,9 1300,8.7 1303,8.6 1306,8.9 1309,8.5 1312,9.3 1315,9.6 1318,9.7 1321,9.1 1324,9.5 1327,8.9 1330,9.2 1333,9.9 1336,9.3 1339,10 1342,9.4 1345,9.6 1348,9.7 1351,10.1 1354,9.3 1357,9.7 1360,10 1363,9.8 1366,9.8 1369,10.3 1372,10.3 1375,10.4 1378,10.7 1381,10.6 1384,10.6 1387,10.9 1390,10.8 1393,10.1 1396,10 1399,10.4 1402,11 1405,10.7 1408,11.2 1411,11.2 1414,10.9 1417,11.9 1420,11.3 1423,11.4 1426,11.6 1429,12 1432,11.6 1435,12.2 1438,12.2 1441,12.4 1444,12.1 1447,12.1 1450,12.9 1453,12.5 1456,13 1459,12.4 1462,12.1 1465,12.7 1468,12.4 1471,11.6 1474,13 1477,12.9 1480,12.5 1483,12.2 1486,12.5 1489,12.7 1492,12 1495,12.5 1498,12.6 1501,12.7 1504,13.2 1507,12 1510,12.2 1513,12.6 1516,12.7 1519,12.8 1522,12.6 1525,12.5 1528,12.5 1531,11.9 1534,12.8 1537,12.6 1540,11.9 1543,12.4 1546,12.8 1549,12.6 1552,12.7 1555,12.6 1558,12.7 1561,12.8 1564,12.4 1567,12.4 1570,12.8 1573,12.4 1576,13.3 1579,12.9 1582,12.6 1585,12.7 1588,12.3 1591,12.5 1594,12.3 1597,12.9 1600,12.7 1603,12.7" stroke="#4DAF4A" stroke-width="4.3"/>
<polyline transform="translate(125.40 1377) scale(0.2866 1)" vector-effect="non-scaling-stroke" points="1,27.7 4,27.7 7,27.7 10,27.7 13,27.7 16,27.7 19,27.7 22,27.7 25,27.7 28,27.7 31,27.7 34,27.7 37,27.7 40,27.6 43,27.6 46,27.5 49,27.3 52,27.1 55,26.7 58,26.1 61,25.3 64,23.7 67,20.9 70,15.3 73,6.9 76,-.9 79,-6.5 82,-9.5 85,-10.7 88,-11.4 91,-10.3 94,-12.7 97,-11.6 100,-11 103,-11.8 106,-12.1 109,-12.2 112,-12.6 115,-12 118,-12.6 121,-13.5 124,-12.5 127,-13.6 130,-13.2 133,-13.3 136,-14 139,-13.9 142,-14.4 145,-13.8 148,-14 151,-13.9 154,-14.9 157,-14.7 160,-14.1 163,-15.1 166,-14.7 169,-15.5 172,-16.3 175,-16.5 178,-17 181,-18 184,-19.1 187,-18.4 190,-18.6 193,-17.6 196,-20.4 199,-20.2 202,-20.5 205,-22.6 208,-22.8 211,-23.8 214,-24.3 217,-26.4 220,-25.8 223,-26.4 226,-27.8 229,-28 232,-29.1 235,-31.2 238,-32 241,-31.5 244,-33 247,-35.1 250,-34.9 253,-35.1 256,-35 259,-35 262,-34.9 265,-35.2 268,-34.3 271,-35.1 274,-34.3 277,-33.6 280,-35.1 283,-33.1 286,-35.4 289,-34.3 292,-34.4 295,-35.3 298,-35.7 301,-35.2 304,-34 307,-36.1 310,-34 313,-35.2 316,-33.1 319,-34.4 322,-33.8 325,-34.3 328,-34.6 331,-33.9 334,-34.4 337,-34 340,-32.8 343,-32.9 346,-31.3 349,-28.7 352,-29.8 355,-26.9 358,-23.7 361,-22.3 364,-20.1 367,-20.4 370,-16.5 373,-14.8 376,-13.7 379,-12.7 382,-11.5 385,-8.9 388,-9.7 391,-8.9 394,-9.1 397,-8.5 400,-7.7 403,-7.5 406,-7.2 409,-7.8 412,-7.4 415,-8.1 418,-6.7 421,-7.2 424,-7.9 427,-7.9 430,-7.6 433,-8.1 436,-7.4 439,-7.1 442,-6.8 445,-7.6 448,-8.4 451,-6.4 454,-7.9 457,-6.3 460,-7.1 463,-6.4 466,-6.9 469,-7.5 472,-7.4 475,-6 478,-6.2 481,-6.6 484,-6.1 487,-5.8 490,-5.2 493,-4.3 496,-4.3 499,-4.2 502,-4.5 505,-4.4 508,-4.8 511,-4 514,-2.8 517,-3.5 520,-4.1 523,-4.2 526,-3.1 529,-4.1 532,-2.6 535,-4.2 538,-2.8 541,-4.1 544,-3.6 547,-4.5 550,-3.2 553,-3 556,-3.9 559,-4 562,-3.2 565,-3.4 568,-3.2 571,-3.7 574,-3.4 577,-3.6 580,-3.6 583,-2.9 586,-2.2 589,-2.4 592,-3.3 595,-2 598,-3.5 601,-3.3 604,-2.3 607,-3.3 610,-3.9 613,-3.1 616,-2.1 619,-3.1 622,-2.6 625,-1.9 628,-3.4 631,-2.7 634,-3.3 637,-2.4 640,-3.4 643,-3.4 646,-1.6 649,-4.1 652,-3.6 655,-2.2 658,-1.9 661,-2.9 664,-2.9 667,-2.6 670,-2.5 673,-3.4 676,-2.8 679,-4.2 682,-3.5 685,-5.9 688,-7.3 691,-8.1 694,-6.9 697,-5 700,-3 703,-2.5 706,-4.1 709,-3.9 712,-3.1 715,-2.9 718,-4 721,-3.3 724,-3.1 727,-4 730,-4.5 733,-5.7 736,-4.8 739,-3 742,-2.6 745,-2.2 748,-2.3 751,-2.4 754,-1.4 757,-.5 760,-1.4 763,-1.2 766,0 769,-.3 772,-.4 775,-.4 778,-.8 781,-.8 784,-.7 787,-.1 790,.4 793,-.8 796,.2 799,0 802,-.7 805,-.6 808,-.4 811,.7 814,-.2 817,-.6 820,-.2 823,-.2 826,.4 829,-.7 832,-3.8 835,-4.7 838,-6.1 841,-2 844,-1 847,-1.7 850,-4.4 853,-5.5 856,-4.4 859,-1.3 862,-.8 865,-.3 868,-.9 871,-.4 874,.4 877,.2 880,.3 883,-.1 886,-.9 889,.1 892,0 895,.8 898,1.9 901,3.1 904,2.1 907,2.8 910,3.2 913,4 916,3.7 919,5.1 922,5.7 925,5.8 928,4.6 931,5.8 934,5.8 937,5.7 940,5.8 943,6.2 946,7.1 949,6.1 952,6.1 955,6.9 958,6.9 961,6.8 964,6.6 967,7.1 970,7.8 973,7.2 976,7.3 979,7.7 982,7.3 985,7.3 988,8.3 991,8.7 994,7.6 997,7.9 1000,8.2 1003,8.2 1006,8.2 1009,8.1 1012,9 1015,8.8 1018,8.9 1021,8.5 1024,8.5 1027,8.8 1030,8.9 1033,8.7 1036,8.3 1039,9.3 1042,8.8 1045,8 1048,8.4 1051,8.6 1054,8.3 1057,8.9 1060,9 1063,8.8 1066,8.9 1069,9.2 1072,8.6 1075,8.7 1078,8.6 1081,9.1 1084,8.8 1087,8.8 1090,8.9 1093,8.6 1096,8.5 1099,9.1 1102,9.3 1105,9.4 1108,9.3 1111,9.5 1114,8.9 1117,9.5 1120,9.4 1123,9.4 1126,9.9 1129,9.7 1132,9.2 1135,9.3 1138,8.8 1141,9 1144,9.4 1147,9.6 1150,9.4 1153,9.3 1156,9.8 1159,9.2 1162,9.8 1165,9.5 1168,9.6 1171,9.2 1174,9.5 1177,9.8 1180,10.1 1183,9.7 1186,9.2 1189,9.7 1192,9.7 1195,10.1 1198,9.6 1201,10.2 1204,9.4 1207,9.9 1210,10.1 1213,9.9 1216,9.7 1219,10.5 1222,10.3 1225,9.9 1228,10 1231,10.1 1234,9.4 1237,10.2 1240,10.5 1243,10.4 1246,10.2 1249,10.6 1252,10.9 1255,10.2 1258,10.6 1261,10.1 1264,10.2 1267,10.3 1270,10.2 1273,10.7 1276,10.8 1279,10.5 1282,10.6 1285,10.8 1288,9.9 1291,10.5 1294,10.6 1297,10.9 1300,10.3 1303,11.4 1306,11.1 1309,11 1312,10.8 1315,11.1 1318,11 1321,11.3 1324,11.5 1327,11.1 1330,10.9 1333,10.8 1336,11 1339,11.2 1342,11.3 1345,11.4 1348,11.3 1351,11.4 1354,11.6 1357,11.9 1360,11.7 1363,11.2 1366,11.2 1369,11.6 1372,11.8 1375,11.8 1378,11.8 1381,11.6 1384,11.7 1387,11.6 1390,11.8 1393,11.8 1396,11.4 1399,11.9 1402,12 1405,12 1408,12.3 1411,11.8 1414,12 1417,11.4 1420,12.4 1423,12.2 1426,12.3 1429,12 1432,11.8 1435,12.1 1438,12.7 1441,12.3 1444,12.8 1447,12.4 1450,12.9 1453,12.4 1456,12.7 1459,12.6 1462,12.5 1465,12.4 1468,12.9 1471,12.8 1474,12.9 1477,12.8 1480,12.8 1483,12.4 1486,12.6 1489,12.9 1492,13.1 1495,12.7 1498,13.3 1501,13.3 1504,12.8 1507,13.4 1510,13 1513,13.1 1516,13.2 1519,13.2 1522,12.7 1525,13.3 1528,13.1 1531,13.3 1534,13.1 1537,12.9 1540,13.2 1543,13.4 1546,13.3 1549,12.9 1552,12.8 1555,13.2 1558,12.9 1561,13.6 1564,13.4 1567,12.9 1570,13 1573,13.4 1576,13.1 1579,13.3 1582,13.5 1585,13.2 1588,13.5 1591,13.5 1594,13.4 1597,13.2 1600,13 1603,13.1" stroke="#377EB8" stroke-width="4.3"/>
<polyline transform="translate(125.40 1453) scale(0.2866 1)" vector-effect="non-scaling-stroke" points="1,34.5 4,34.5 7,34.5 10,34.5 13,34.5 16,34.5 19,34.5 22,34.5 25,34.5 28,34.5 31,34.5 34,34.5 37,34.4 40,34.4 43,34.3 46,34.2 49,34 52,33.8 55,33.3 58,32.7 61,31.7 64,30 67,26.5 70,20.1 73,11.2 76,2 79,-4.5 82,-6.5 85,-8.1 88,-10.2 91,-10.4 94,-9.3 97,-10 100,-9 103,-10.3 106,-11.3 109,-10.5 112,-10.5 115,-11.1 118,-12.1 121,-13 124,-12.4 127,-13 130,-13.2 133,-13.9 136,-12.6 139,-12.3 142,-12.4 145,-13.4 148,-14.6 151,-15.2 154,-14.1 157,-14.4 160,-13.8 163,-15.5 166,-14.9 169,-16.8 172,-16.7 175,-16 178,-17.1 181,-17 184,-18.2 187,-19.2 190,-18.6 193,-18.8 196,-18.7 199,-20.4 202,-20.9 205,-20.3 208,-20.6 211,-21.6 214,-23.3 217,-21.9 220,-22.1 223,-23.2 226,-24.4 229,-26.3 232,-26.1 235,-26.3 238,-27.3 241,-26.6 244,-28.5 247,-28.5 250,-29.6 253,-28.3 256,-28.4 259,-28.5 262,-28.5 265,-28.8 268,-28.1 271,-28.7 274,-29 277,-29.9 280,-28.7 283,-29.3 286,-27.6 289,-27.9 292,-26.7 295,-28.1 298,-28.1 301,-27.9 304,-27.3 307,-27.6 310,-25 313,-26.1 316,-26.5 319,-25.4 322,-24.9 325,-25.5 328,-25.2 331,-25.2 334,-23.1 337,-22.5 340,-22.8 343,-23.4 346,-21.6 349,-21.4 352,-19.8 355,-19.7 358,-19 361,-18.3 364,-17 367,-16.7 370,-15.3 373,-14.8 376,-14.5 379,-16.2 382,-14.3 385,-13.6 388,-13.4 391,-14.2 394,-12.8 397,-13.2 400,-12.9 403,-13.6 406,-13.2 409,-12 412,-12.8 415,-11.4 418,-11.7 421,-12.7 424,-11.6 427,-12.4 430,-11.6 433,-12.6 436,-10.5 439,-10 442,-11.1 445,-10 448,-11.6 451,-10.4 454,-11.8 457,-11.6 460,-10.2 463,-10.3 466,-10.6 469,-10.9 472,-9.9 475,-10.8 478,-10.4 481,-9.2 484,-8.8 487,-9.1 490,-9.7 493,-9.8 496,-9.6 499,-9.9 502,-9.3 505,-8.2 508,-9 511,-8 514,-8.7 517,-8.5 520,-8.2 523,-7.9 526,-7.7 529,-8 532,-8.6 535,-7.7 538,-6.7 541,-6.3 544,-8.1 547,-8 550,-6.6 553,-7.9 556,-7.2 559,-6.5 562,-6 565,-7.2 568,-7 571,-7.2 574,-4.8 577,-5 580,-5.1 583,-5.6 586,-5.8 589,-6 592,-5.7 595,-6.2 598,-7.4 601,-6.6 604,-5.7 607,-4.9 610,-5.9 613,-7.3 616,-7.6 619,-7.8 622,-8.3 625,-7.6 628,-7.1 631,-6.5 634,-6.5 637,-7.3 640,-6.2 643,-6.8 646,-7.3 649,-5.9 652,-6 655,-6.6 658,-6.2 661,-6.8 664,-5.8 667,-6.6 670,-6.8 673,-5.9 676,-5.6 679,-6.8 682,-7.2 685,-8.2 688,-12.2 691,-12.4 694,-10.2 697,-7.4 700,-7.4 703,-6.3 706,-5.5 709,-5.8 712,-6.3 715,-6.2 718,-6 721,-6.3 724,-7.8 727,-8.5 730,-7.7 733,-9.5 736,-7.2 739,-5.8 742,-5.6 745,-4.8 748,-6 751,-6.7 754,-4.5 757,-4.5 760,-5 763,-4.8 766,-5.3 769,-5.9 772,-3.8 775,-4.5 778,-4.3 781,-5.1 784,-5.7 787,-6.1 790,-5.4 793,-4.3 796,-5.8 799,-5.8 802,-5.1 805,-6.2 808,-9.7 811,-7.2 814,-4.7 817,-5.4 820,-6 823,-5.6 826,-4.5 829,-6.3 832,-8.5 835,-10.5 838,-10.3 841,-5.9 844,-5.3 847,-5.5 850,-9.2 853,-9.1 856,-8.5 859,-5.7 862,-4.5 865,-5.5 868,-5.5 871,-6 874,-5.2 877,-5.7 880,-5 883,-7.5 886,-8.3 889,-9.2 892,-6.8 895,-3.9 898,-2.5 901,-3.1 904,-4.1 907,-1.9 910,-3.8 913,-2.2 916,-1.4 919,-.2 922,-.2 925,.4 928,1.1 931,1.2 934,.9 937,.5 940,.3 943,1.7 946,.8 949,1.7 952,2 955,1.4 958,2.5 961,2.1 964,.9 967,2.6 970,2.4 973,2.7 976,2 979,2.9 982,2.6 985,2.7 988,3.1 991,4.4 994,3.3 997,3 1000,3.3 1003,4.2 1006,3.6 1009,3 1012,4.6 1015,4.7 1018,4.8 1021,3.8 1024,4.2 1027,4.9 1030,5.5 1033,4.1 1036,5.2 1039,5.4 1042,6 1045,4.9 1048,4.9 1051,6 1054,5.7 1057,5.5 1060,6.3 1063,5.5 1066,5.7 1069,6.9 1072,6.4 1075,6.1 1078,6.2 1081,7.1 1084,6.9 1087,6.8 1090,7.9 1093,7 1096,7 1099,6.8 1102,8.1 1105,7.4 1108,6.8 1111,8.1 1114,8.1 1117,8.4 1120,8.9 1123,8.4 1126,7.9 1129,7.9 1132,8.7 1135,8.3 1138,8.4 1141,9.2 1144,8.9 1147,8.3 1150,8.9 1153,9.2 1156,8.4 1159,9.5 1162,9.3 1165,9.3 1168,8.7 1171,9.3 1174,9.5 1177,10 1180,9.5 1183,9.8 1186,10.4 1189,10.3 1192,10.3 1195,10.4 1198,10.6 1201,10.2 1204,10.6 1207,10.7 1210,11 1213,10.7 1216,10.8 1219,10.7 1222,11.2 1225,11.5 1228,11 1231,11 1234,12.1 1237,11.4 1240,11.3 1243,12.2 1246,12.1 1249,11.9 1252,11.9 1255,11.4 1258,12.3 1261,12.1 1264,11.9 1267,12.4 1270,11.9 1273,11.2 1276,11.9 1279,12.3 1282,12.3 1285,13 1288,12.1 1291,12.9 1294,13 1297,12.7 1300,13.3 1303,13.4 1306,13.1 1309,13.7 1312,12.5 1315,13.6 1318,13 1321,13.1 1324,13.3 1327,13.2 1330,13.9 1333,13.4 1336,12.7 1339,13.2 1342,13.5 1345,12.5 1348,12.1 1351,12 1354,12.6 1357,12.5 1360,13.8 1363,14 1366,14.3 1369,13.8 1372,15 1375,14.9 1378,15.3 1381,15 1384,15 1387,14.6 1390,14.5 1393,14.6 1396,14.7 1399,15 1402,14.7 1405,16 1408,15.4 1411,15.8 1414,15.6 1417,16.3 1420,16.1 1423,16.3 1426,16.2 1429,15.5 1432,16.1 1435,16.4 1438,16 1441,16.2 1444,16.5 1447,16.6 1450,16.7 1453,16.2 1456,16.2 1459,17.1 1462,17 1465,17 1468,17 1471,16.9 1474,16.4 1477,17.4 1480,17 1483,17.5 1486,17.2 1489,17.6 1492,17.8 1495,17.8 1498,17.8 1501,17.8 1504,18.1 1507,17.9 1510,18.5 1513,17.9 1516,18 1519,17.5 1522,17.5 1525,17.8 1528,17.7 1531,18.8 1534,18.3 1537,17.7 1540,18 1543,18.2 1546,18.3 1549,18.4 1552,18.5 1555,18.6 1558,18.6 1561,18.5 1564,19 1567,18.6 1570,18.8 1573,18.4 1576,19.1 1579,18.3 1582,18.9 1585,18.9 1588,19.4 1591,18.5 1594,19.3 1597,18.9 1600,18.7 1603,19" stroke="#E41A1C" stroke-width="4.3"/>
</g>
<path d="M102.9 1056.0V1562.0H608.9" fill="none" stroke="#000" stroke-width="4.2" stroke-linecap="butt" stroke-linejoin="miter"/>
<line x1="125.4" y1="1563.9" x2="125.4" y2="1575.3" stroke="#000" stroke-width="4.2"/>
<text x="125.4" y="1609.0" font-size="30.8" text-anchor="middle">0</text>
<line x1="268.7" y1="1563.9" x2="268.7" y2="1575.3" stroke="#000" stroke-width="4.2"/>
<text x="268.7" y="1609.0" font-size="30.8" text-anchor="middle">500</text>
<line x1="412.0" y1="1563.9" x2="412.0" y2="1575.3" stroke="#000" stroke-width="4.2"/>
<text x="412.0" y="1609.0" font-size="30.8" text-anchor="middle">1000</text>
<line x1="555.3" y1="1563.9" x2="555.3" y2="1575.3" stroke="#000" stroke-width="4.2"/>
<text x="555.3" y="1609.0" font-size="30.8" text-anchor="middle">1500</text>
<text x="354.7" y="1670.3" font-size="38.5" text-anchor="middle">Frequency</text>
<text x="62.4" y="1310.0" font-size="38.5" text-anchor="middle" transform="rotate(-90 62.4 1310.0)">Intensity</text>
<g stroke="#BEBEBE" stroke-width="5.3">
<line x1="747.8" y1="1163.0" x2="1250.3" y2="1163.0"/>
<line x1="747.8" y1="1245.1" x2="1250.3" y2="1245.1"/>
<line x1="747.8" y1="1327.2" x2="1250.3" y2="1327.2"/>
<line x1="747.8" y1="1409.3" x2="1250.3" y2="1409.3"/>
<line x1="747.8" y1="1491.3" x2="1250.3" y2="1491.3"/>
<line x1="768.4" y1="1057.6" x2="768.4" y2="1561"/>
<line x1="911.7" y1="1057.6" x2="911.7" y2="1561"/>
<line x1="1055.0" y1="1057.6" x2="1055.0" y2="1561"/>
<line x1="1198.3" y1="1057.6" x2="1198.3" y2="1561"/>
</g>
<g fill="none" stroke-linejoin="round" stroke-linecap="butt">
<polyline transform="translate(768.40 1160) scale(0.2866 1)" vector-effect="non-scaling-stroke" points="1,3 2,3 3,3 4,3 5,3 6,3 7,3 8,3 9,3 10,3 11,3 12,3 13,3 14,3 15,3 16,3 17,3 18,3 19,3 20,3 21,3 22,3 23,3 24,3 25,3 26,3 27,3 28,2.9 29,3.1 30,2.8 31,2.6 32,2.8 33,3.1 34,3.2 35,2.6 36,2.4 37,2.3 38,3.1 39,2.2 40,1.5 41,2.4 42,3.7 43,2.3 44,2.3 45,2.9 46,2.1 47,1.9 48,2.5 49,2.1 50,2 51,5 52,-.4 53,.7 54,1.8 55,-.6 56,2.1 57,5.4 58,8.2 59,4.3 60,10.9 61,-2.5 62,-3.5 63,-.8 64,10.6 65,1 66,8.6 67,3.8 68,-.1 69,3.4 70,2.5 71,3.9 72,-2.6 73,1.7 74,8.1 75,8.7 76,3.5 77,.4 78,1.8 79,-3.6 80,-.1 81,8.4 82,-8.8 83,.5 84,-.9 85,2.4 86,-6.3 87,-4.7 88,4.9 89,5.7 90,2 91,-.4 92,-.4 93,4.8 94,-3.1 95,5.6 96,3.2 97,-2.7 98,-2.8 99,2.7 100,-3.5 101,6 102,-3.2 103,-1.4 104,3.7 105,3.5 106,3 107,4.8 108,.8 109,1.4 110,-10.9 111,10 112,4.7 113,-13.4 114,5.5 115,-1.5 116,5.2 117,-2.1 118,5.8 119,2.4 120,11.3 121,6.7 122,-3.7 123,3.4 124,-7.2 125,8.5 126,-1.7 127,3.7 128,1.3 129,1.5 130,3.5 131,7 132,5.7 133,2.3 134,4.4 135,3.6 136,5.2 137,2.1 138,10.8 139,1.9 140,2.8 141,1.2 142,10.6 143,12.5 144,.8 145,6.8 146,-4 147,3.1 148,4.3 149,4.4 150,-.5 151,6.8 152,-2.2 153,3.3 154,.7 155,.7 156,2.7 157,-.7 158,2.3 159,12.5 160,-3.7 161,4.1 162,-1 163,3.5 164,3.8 165,6.9 166,9 167,2.3 168,11.2 169,-2.8 170,5.4 171,5 172,-4.1 173,3.1 174,6.2 175,1.9 176,-4.7 177,-3.6 178,5.1 179,2.1 180,-4.6 181,-2.4 182,-1 183,7.5 184,7.9 185,1.2 186,-6 187,9.1 188,-4.9 189,3.8 190,-.4 191,-5.6 192,3.3 193,2.3 194,13.5 195,10.1 196,11.3 197,-4.5 198,3.2 199,-9.2 200,4.9 201,6.8 202,-7.1 203,-3.1 204,-1.1 205,-.9 206,-5.9 207,.7 208,3.7 209,3.9 210,.1 211,3.1 212,-2.5 213,7.5 214,4.1 215,2.8 216,5 217,-10.8 218,.9 219,-3.8 220,3.7 221,-15.5 222,-.5 223,8.3 224,4 225,2.3 226,-4 227,7.7 228,4 229,4.4 230,-8.1 231,-1.9 232,-.8 233,14 234,4.9 235,-6.6 236,6.9 237,8.2 238,-5 239,-3.2 240,-2.6 241,-3.4 242,-6.4 243,6.7 244,1.5 245,7.4 246,-4.9 247,-.5 248,8 249,-6.5 250,-.8 251,-2.9 252,8 253,.1 254,-5.7 255,10.5 256,6.1 257,12.9 258,3.8 259,8.2 260,2.5 261,1.8 262,-.2 263,-1.1 264,-1.7 265,-3.5 266,5.6 267,.4 268,2.2 269,8.8 270,-9.3 271,11.5 272,9.9 273,4.2 274,12.2 275,3.4 276,6.9 277,-9.5 278,-.3 279,3.8 280,1.6 281,6 282,-3.4 283,-2.4 284,-7.5 285,2.5 286,9.1 287,3.7 288,.8 289,.2 290,4.1 291,-6.2 292,-.7 293,-11.6 294,1.4 295,5.3 296,-1.3 297,9.6 298,-1.9 299,2.9 300,7.9 301,-10 302,2.2 303,8.4 304,4 305,-13 306,3.9 307,-2.1 308,-1 309,-5.3 310,-5.9 311,5.3 312,2.8 313,-1.4 314,7.4 315,5.4 316,-6.1 317,-6.2 318,2.6 319,1.6 320,6.2 321,-5.3 322,5.6 323,1.3 324,1.9 325,-1.6 326,2.3 327,7.6 328,8.6 329,.1 330,10.2 331,12.5 332,4.1 333,2.8 334,4.1 335,5.5 336,4.7 337,-7.8 338,2.9 339,-3.4 340,.6 341,-1.5 342,.2 343,9.5 344,2.5 345,-.8 346,-5.5 347,5.1 348,-10.9 349,-8.2 350,.8 351,14.5 352,3.9 353,-5.8 354,2 355,5.3 356,-6.8 357,-3.4 358,.3 359,6.9 360,-1.8 361,3.5 362,6.5 363,-4.1 364,-.3 365,-7.1 366,-4.1 367,-1.9 368,-3.8 369,4.5 370,-6.7 371,-1.9 372,-.2 373,6.7 374,9.8 375,8.1 376,6.6 377,.6 378,-3 379,5.3 380,-4.2 381,10.3 382,-.3 383,3.7 384,-5.8 385,2.6 386,-.8 387,-8.3 388,-9.4 389,2.8 390,.1 391,-4.6 392,-5.8 393,-5.9 394,2.2 395,-6.2 396,-3.4 397,-5.9 398,2.9 399,7.7 400,18 401,2.8 402,4.7 403,-4 404,6.7 405,.3 406,-5.9 407,-4.9 408,-.5 409,-4.8 410,-6.4 411,4.7 412,-10.6 413,2.9 414,9 415,2.2 416,15.4 417,17.5 418,8.9 419,11.9 420,-7.4 421,3.7 422,-4.6 423,3.8 424,-4.5 425,7.4 426,-3.8 427,1.5 428,-1.6 429,4.4 430,-10.3 431,16.2 432,-.3 433,-.9 434,9.2 435,-.9 436,-2.6 437,-1.8 438,4.8 439,-.4 440,3.7 441,.8 442,-.3 443,-1.6 444,-2.7 445,0 446,-3.8 447,11.4 448,.8 449,3.2 450,.3 451,1.9 452,.8 453,3.9 454,10.7 455,3.5 456,-8.1 457,2.8 458,4.9 459,8.5 460,.2 461,-3.7 462,7.7 463,-1 464,-2.8 465,13.8 466,4.2 467,7.1 468,4 469,-3.1 470,-1.8 471,-1.7 472,.4 473,-4 474,-2.4 475,4 476,7.6 477,1.9 478,-2.7 479,11.6 480,5.2 481,5.1 482,7.5 483,-3.3 484,2.5 485,4.6 486,4.4 487,8.2 488,-5.3 489,-8.7 490,-10.2 491,13.8 492,.6 493,-.7 494,.7 495,12.3 496,-.5 497,-2.5 498,2.5 499,-1.7 500,1.3 501,-3 502,-9.6 503,-13.8 504,-1.8 505,4.3 506,-5.6 507,-.2 508,4.8 509,2.6 510,.9 511,.6 512,-2.8 513,-2.5 514,-10.8 515,-.1 516,2.7 517,-9.1 518,-8.2 519,2.1 520,-2.8 521,-5.6 522,-12.2 523,3.9 524,-1.5 525,2.9 526,1.6 527,-2.2 528,-5.1 529,4.3 530,6.2 531,-2.9 532,3.5 533,-10.8 534,-1.8 535,-2 536,4.3 537,9.3 538,1.3 539,-.5 540,.3 541,-2.9 542,9.1 543,-2.4 544,-.8 545,-5.8 546,-.7 547,.9 548,8.4 549,-.4 550,-11.4 551,.8 552,7.2 553,-3.9 554,4.8 555,6.4 556,-8 557,-3 558,6.9 559,1.1 560,2.4 561,-7.1 562,-3.7 563,3.3 564,.1 565,3 566,-7.5 567,-5.4 568,-3.9 569,-15.5 570,.4 571,-1.2 572,-5.4 573,3.4 574,6.3 575,-6.3 576,6.3 577,0 578,11.9 579,8.3 580,-1.6 581,7.8 582,8.9 583,.4 584,7.5 585,6.5 586,4.3 587,9.3 588,6.2 589,-3.2 590,-.6 591,8.9 592,2 593,7.2 594,-7.2 595,11.8 596,-1.3 597,.3 598,2.4 599,-.2 600,-5.8 601,-2 602,3.2 603,3.4 604,7 605,-5.4 606,6.9 607,8.9 608,-1.3 609,13.3 610,.5 611,-5.7 612,-6.7 613,-7.1 614,-7.5 615,-19.3 616,-15.8 617,-20.4 618,-23.4 619,-30.9 620,-9.9 621,-22.8 622,-22 623,-15.4 624,-7.7 625,-6 626,1 627,-14.4 628,-4.5 629,9.8 630,-.8 631,-4.6 632,-1.4 633,1.3 634,3.9 635,9.1 636,-2.5 637,.6 638,-4.5 639,-.1 640,7.4 641,4.5 642,.3 643,6.5 644,1.2 645,-7.2 646,-9.8 647,-8.4 648,9.1 649,-2.4 650,-3 651,12 652,-1 653,-2.5 654,6.7 655,4.9 656,5.7 657,9.3 658,4.4 659,-3.3 660,-6.4 661,19.6 662,12.8 663,2.1 664,3.6 665,-2.2 666,-1 667,-10 668,-24.6 669,-10.4 670,-12.3 671,-8 672,-12.4 673,1 674,2.6 675,-4.8 676,-3 677,-2.7 678,-10.9 679,-.5 680,1.7 681,24.5 682,19.5 683,17.8 684,16.8 685,6.4 686,-3.3 687,-13.8 688,-12.7 689,-39 690,-43.6 691,-50.3 692,-60.6 693,-59.2 694,-54.9 695,-55.1 696,-35.2 697,-18.1 698,-12.1 699,-9.3 700,2.4 701,-6.8 702,6.6 703,15.1 704,-5.7 705,4.2 706,2.3 707,-5.6 708,5.3 709,3.7 710,4.2 711,-5 712,-7.8 713,2.7 714,14.8 715,13.6 716,-.2 717,-1.6 718,5.5 719,.6 720,-11.4 721,3.8 722,12.2 723,3.2 724,-15.8 725,5.9 726,2.3 727,-5.1 728,-6.3 729,-2.1 730,-5.3 731,-15.5 732,-7 733,-10 734,-14.6 735,-15.6 736,-12.7 737,-12.4 738,-6.2 739,-2.8 740,-4.3 741,4 742,-.8 743,8.5 744,-10.1 745,20.9 746,16.1 747,7.8 748,18.6 749,17.5 750,11 751,15.2 752,4.8 753,-1.8 754,5.9 755,2.2 756,-1.6 757,5.1 758,2.8 759,8.8 760,-3.7 761,7.6 762,-7.3 763,13 764,4 765,-4.2 766,12.1 767,1.4 768,2.5 769,2.8 770,13.6 771,10.2 772,-13.4 773,-8.6 774,.7 775,3.5 776,-7.1 777,.9 778,5 779,4.4 780,-7 781,11.1 782,-5.9 783,6.1 784,2.2 785,7 786,11.5 787,2.7 788,-6.2 789,1.6 790,-.5 791,8.5 792,4.4 793,7.4 794,-8.7 795,-1.2 796,7.1 797,-5.5 798,-2.5 799,-.6 800,-.2 801,-3.9 802,-7.3 803,-3.8 804,-14.2 805,-19.1 806,-18.1 807,-40.3 808,-27.1 809,-20.9 810,-27.6 811,-18.8 812,-10.4 813,-4.6 814,-4.7 815,3.2 816,8.5 817,4.7 818,9.4 819,-3.1 820,-1.7 821,2.9 822,6.6 823,-6.2 824,4.7 825,19.3 826,4.6 827,-3.3 828,-8.9 829,-18.2 830,-22.3 831,-43.5 832,-47 833,-62.3 834,-63.8 835,-58.1 836,-54.9 837,-45.5 838,-34.4 839,-17.3 840,-5.5 841,-4.2 842,5.5 843,-1.2 844,-3.6 845,-3.3 846,-1.5 847,-7.2 848,-14.5 849,-21.7 850,-27.5 851,-33.7 852,-38.5 853,-40 854,-53.8 855,-38.9 856,-26.5 857,-19.3 858,-14.8 859,-1.2 860,-6.9 861,-.4 862,-4.3 863,-2.9 864,-2.8 865,-3.3 866,3.2 867,14.7 868,19.8 869,23.7 870,16.9 871,27.8 872,12.6 873,.9 874,1.4 875,3 876,16.3 877,7.7 878,6.5 879,-.1 880,4.3 881,9.3 882,1.7 883,2.8 884,-14.1 885,-3.2 886,-26.5 887,-22 888,-36.6 889,-33.9 890,-20.6 891,-4.9 892,-10.1 893,-.8 894,1.2 895,2.7 896,.2 897,4.2 898,-7.2 899,8 900,-11.6 901,1 902,2.2 903,16.4 904,6.4 905,13.4 906,6.6 907,7.6 908,9.6 909,-1.3 910,-4.2 911,5.5 912,-1.7 913,10.1 914,-2.6 915,-1 916,-3.8 917,-14.3 918,5.9 919,3 920,6.5 921,.8 922,-4.3 923,-8.5 924,-1 925,14.2 926,1.5 927,-3.6 928,10.1 929,13.2 930,4.3 931,-3.1 932,-8 933,3.2 934,-2.6 935,6.2 936,-8.4 937,4.3 938,1.3 939,1.5 940,-.5 941,6.7 942,2.8 943,5.9 944,3.4 945,6.2 946,2.3 947,-3.6 948,-.9 949,-6.1 950,-7.5 951,8.3 952,-2.9 953,10 954,-6.3 955,-8.5 956,-1.3 957,-2.8 958,5.5 959,-3.6 960,-3.8 961,-.1 962,-2.4 963,-3.7 964,.3 965,-2.8 966,6.6 967,-6.1 968,6.3 969,-2.5 970,-4 971,5 972,6.2 973,12.5 974,5.6 975,-7 976,8.4 977,2.9 978,4.6 979,8.6 980,-5.8 981,8.1 982,-4.3 983,1.6 984,9.8 985,16 986,9.8 987,7.6 988,.2 989,.4 990,7.1 991,3.5 992,1.5 993,1.9 994,-4.9 995,3.9 996,1.9 997,12.6 998,-6.4 999,6 1000,5.8 1001,-.4 1002,7.1 1003,11.1 1004,14.4 1005,-3 1006,-5.5 1007,9.3 1008,5.3 1009,9.4 1010,-2.7 1011,-6.4 1012,-2.3 1013,11.1 1014,.8 1015,6.7 1016,.8 1017,.4 1018,12.4 1019,-15.2 1020,10.1 1021,-3.9 1022,1.2 1023,-.3 1024,.7 1025,-3.3 1026,-12.4 1027,-5.6 1028,15.4 1029,-1.6 1030,-6.4 1031,-6.4 1032,-.7 1033,-5.8 1034,-.3 1035,-5.5 1036,-3.7 1037,3.8 1038,5.1 1039,-9 1040,-2.1 1041,-11.3 1042,-14.5 1043,-12.3 1044,-10.9 1045,-12.8 1046,.6 1047,-3.8 1048,-14.9 1049,3 1050,3.5 1051,-5.1 1052,2.7 1053,5.8 1054,4.9 1055,4 1056,1.1 1057,-1.3 1058,-.4 1059,8.2 1060,-.2 1061,-.3 1062,-2.6 1063,-.1 1064,10.3 1065,2.5 1066,-1.7 1067,-.2 1068,8.4 1069,4.4 1070,-6.5 1071,4.2 1072,2.9 1073,7.2 1074,-.9 1075,.3 1076,-6 1077,2.3 1078,2.4 1079,2.8 1080,-5 1081,-1.3 1082,8.1 1083,12.1 1084,-1.2 1085,.9 1086,3.7 1087,-1.8 1088,-9.8 1089,-4.6 1090,3.9 1091,9.6 1092,6.8 1093,-.3 1094,.6 1095,-3.8 1096,2.3 1097,-.4 1098,4.4 1099,4.3 1100,4.8 1101,-6.4 1102,-3.3 1103,-2.6 1104,16.2 1105,-.3 1106,4 1107,-4.8 1108,-8.5 1109,-6.4 1110,.4 1111,6.8 1112,-1.5 1113,-11.4 1114,1.4 1115,2 1116,-2.9 1117,1 1118,8.6 1119,-7.6 1120,1.2 1121,6 1122,8.6 1123,-5.7 1124,-10.9 1125,-5.2 1126,2.6 1127,-2.3 1128,2.3 1129,-.1 1130,-1.4 1131,.8 1132,-6.1 1133,5.8 1134,-2 1135,7.8 1136,10.5 1137,-6.5 1138,6.3 1139,1.9 1140,2.1 1141,-1.8 1142,-3 1143,3.1 1144,-.2 1145,-4.8 1146,9.4 1147,.4 1148,-2.2 1149,1.3 1150,2.8 1151,-4.3 1152,-1.7 1153,2.4 1154,3 1155,.6 1156,10.6 1157,9 1158,6.1 1159,2.7 1160,7 1161,3.3 1162,6.9 1163,-7.2 1164,-.5 1165,.2 1166,18.2 1167,-3.7 1168,-7.4 1169,-12.1 1170,5.7 1171,6.3 1172,5.2 1173,-5.7 1174,7.6 1175,6 1176,9.2 1177,-12.1 1178,2.7 1179,5.4 1180,.2 1181,3.3 1182,12 1183,-2.9 1184,1.8 1185,5.9 1186,9.4 1187,5.6 1188,5.1 1189,-1.1 1190,-10.4 1191,-2.3 1192,6.5 1193,11 1194,6.1 1195,2.3 1196,5.8 1197,-2.3 1198,-14.1 1199,10.3 1200,-6.4 1201,.6 1202,-4.6 1203,12.5 1204,3 1205,4.2 1206,3.8 1207,4.9 1208,9 1209,1.1 1210,4.9 1211,2.7 1212,-3.9 1213,-10.4 1214,.3 1215,-1 1216,-5.1 1217,6.6 1218,3.2 1219,-1 1220,-2.8 1221,-6.9 1222,-9 1223,1.2 1224,3.8 1225,15.5 1226,2.3 1227,2.1 1228,.4 1229,9.5 1230,3 1231,-6.6 1232,-7.7 1233,2.2 1234,1.8 1235,8.8 1236,-3.5 1237,9.7 1238,6 1239,7.4 1240,-1.1 1241,3.2 1242,-1.2 1243,-9.2 1244,-.8 1245,8.8 1246,.9 1247,4.7 1248,3.8 1249,8.9 1250,-1 1251,2.7 1252,1.8 1253,7.2 1254,-5.2 1255,8.1 1256,6.2 1257,11.3 1258,-1.9 1259,-5 1260,3.5 1261,0 1262,.5 1263,6 1264,-3.8 1265,-2.6 1266,3.5 1267,9.2 1268,-1.3 1269,-2 1270,11.1 1271,-1.8 1272,1.3 1273,-.6 1274,1.4 1275,-5.7 1276,1 1277,-6.8 1278,-1 1279,-2 1280,-7 1281,4.3 1282,.8 1283,-2.6 1284,-1.7 1285,9 1286,0 1287,3.7 1288,-4 1289,-2.8 1290,-.6 1291,10.7 1292,6.4 1293,-1.6 1294,3.8 1295,-6.7 1296,-6.3 1297,3.2 1298,.1 1299,1.9 1300,2.7 1301,4.1 1302,-8.5 1303,7.1 1304,.3 1305,4.8 1306,9.9 1307,-2.7 1308,2.2 1309,-13 1310,.3 1311,-8.2 1312,4.4 1313,2.4 1314,1 1315,-6.6 1316,6.7 1317,3.5 1318,1.3 1319,5.3 1320,1.7 1321,4.6 1322,5 1323,3.5 1324,7.9 1325,-5.1 1326,1.3 1327,2.6 1328,3.3 1329,-7.5 1330,.3 1331,3.3 1332,8 1333,-4.8 1334,13.4 1335,-3.2 1336,.8 1337,5.4 1338,2.6 1339,-2.3 1340,.2 1341,-3.8 1342,8.6 1343,4.7 1344,6.7 1345,9.2 1346,2.2 1347,-6.9 1348,-5.8 1349,-.7 1350,3.5 1351,4.7 1352,-7.3 1353,-4.3 1354,4.7 1355,-2.5 1356,3.6 1357,5.7 1358,4.2 1359,-1.6 1360,-.3 1361,7.5 1362,-3.2 1363,2.2 1364,4.9 1365,1.6 1366,-1 1367,7.2 1368,7.6 1369,2.6 1370,2.4 1371,-7 1372,6.4 1373,-3.2 1374,2.9 1375,-1.2 1376,2.7 1377,2.5 1378,-4.4 1379,5.2 1380,-1.3 1381,-3.7 1382,1.4 1383,7.1 1384,.1 1385,6.1 1386,3 1387,-5.4 1388,1.8 1389,15.8 1390,6.3 1391,2.2 1392,2.6 1393,5.2 1394,-9.8 1395,-3.5 1396,1.6 1397,6.9 1398,-1.6 1399,10.6 1400,3.2 1401,4 1402,.9 1403,-1.4 1404,1.6 1405,-6.5 1406,-3.6 1407,5.2 1408,7.5 1409,-1 1410,5.7 1411,3.7 1412,-.1 1413,1.9 1414,10.8 1415,-1.1 1416,3.2 1417,8.5 1418,1.8 1419,7 1420,-4 1421,12.4 1422,7.8 1423,-1.1 1424,2.3 1425,-2.6 1426,7.2 1427,3 1428,-2.2 1429,-3.9 1430,-.5 1431,1.1 1432,-3.4 1433,.7 1434,7.7 1435,.9 1436,-.4 1437,2.5 1438,4.9 1439,-2.6 1440,4.9 1441,-1.1 1442,0 1443,-4.8 1444,8.4 1445,3.6 1446,-8.5 1447,-1 1448,-1.5 1449,6.7 1450,8 1451,8.9 1452,9.1 1453,6.5 1454,4.2 1455,5.4 1456,9.1 1457,-8.8 1458,3.2 1459,-5.3 1460,15 1461,.9 1462,-3.4 1463,-3.8 1464,-4.4 1465,1.2 1466,7.4 1467,-3 1468,-2.5 1469,-1.8 1470,-3.8 1471,2.3 1472,3.4 1473,4.7 1474,-1.4 1475,2.5 1476,2.4 1477,-3.9 1478,1.3 1479,11.3 1480,2.6 1481,-3.9 1482,.7 1483,-7.7 1484,-4.2 1485,7.9 1486,1.3 1487,-2.9 1488,-2.4 1489,.1 1490,2.5 1491,6.1 1492,4.8 1493,-6.7 1494,1.2 1495,-2.5 1496,-.8 1497,6.7 1498,6.1 1499,6.4 1500,-.7 1501,-.1 1502,6.2 1503,-1.9 1504,2.3 1505,3.4 1506,3.6 1507,5.2 1508,1.6 1509,-2.8 1510,9.8 1511,4.7 1512,6 1513,6.1 1514,4 1515,-4.9 1516,3.7 1517,-.6 1518,-4.1 1519,1.2 1520,2.1 1521,-4.7 1522,4.5 1523,-5 1524,-4.3 1525,-1.8 1526,7.1 1527,8.9 1528,.2 1529,-1.7 1530,4.3 1531,.7 1532,.6 1533,-1.1 1534,1.7 1535,3.6 1536,2.5 1537,-.1 1538,7.9 1539,-3.3 1540,3.1 1541,-2.4 1542,-2.9 1543,-1.8 1544,1.8 1545,-3.3 1546,1.3 1547,.1 1548,-.6 1549,2 1550,-3.7 1551,1.2 1552,1.4 1553,-4.7 1554,-1.8 1555,.8 1556,-2 1557,7.9 1558,-2.7 1559,-1.8 1560,-.1 1561,1.8 1562,2.7 1563,.5 1564,.9 1565,6.5 1566,-3.4 1567,-4.5 1568,-10 1569,7.9 1570,1.2 1571,7.7 1572,-4.3 1573,-2.4 1574,-5 1575,10.4 1576,4.5 1577,.2 1578,-3.5 1579,-1.5 1580,9.5 1581,3.8 1582,-2.6 1583,1.6 1584,6.8 1585,-5 1586,2.1 1587,-4.1 1588,1 1589,.4 1590,-4.4 1591,.8 1592,7.3 1593,-7 1594,2.6 1595,-1.8 1596,2.7 1597,-6.9 1598,2 1599,-.6 1600,-8.8 1601,.7 1602,-3.5 1603,1.4 1604,2.4" stroke="#FF7F00" stroke-width="4.3"/>
<polyline transform="translate(768.40 1242) scale(0.2866 1)" vector-effect="non-scaling-stroke" points="1,3.1 2,3.1 3,3.1 4,3.1 5,3.1 6,3.1 7,3.1 8,3.1 9,3.1 10,3.1 11,3.1 12,3.1 13,3.1 14,3.1 15,3.1 16,3.1 17,3.1 18,3.1 19,3.1 20,3.1 21,3.1 22,3.1 23,3.1 24,3.1 25,3.1 26,3.1 27,3.1 28,3.1 29,3 30,3.1 31,2.9 32,3.3 33,3.1 34,3 35,2.8 36,3.2 37,3.5 38,2.3 39,3 40,4.1 41,3.2 42,2.7 43,2.9 44,2.9 45,2.7 46,4.2 47,3.4 48,3.3 49,4.7 50,.7 51,3 52,2.4 53,4.5 54,1.5 55,4.7 56,0 57,4.4 58,3.6 59,2.6 60,5.9 61,4.3 62,2 63,2.7 64,.9 65,4.4 66,1.6 67,4.3 68,1.9 69,4.5 70,2.6 71,2.5 72,1.2 73,5.6 74,6 75,-6.6 76,-.2 77,2.5 78,-3.9 79,7.7 80,-2.5 81,4 82,-7.3 83,1.1 84,-1.6 85,3 86,-4.5 87,-1.6 88,8.4 89,6.5 90,5.6 91,-4.6 92,-1 93,7.7 94,11.8 95,1.7 96,11.9 97,-5.3 98,1.2 99,-9.2 100,10.3 101,-1.4 102,-.2 103,1.9 104,5.5 105,6.6 106,3.2 107,5.1 108,-2.6 109,-.7 110,3.2 111,-4.7 112,-1.3 113,5.4 114,-.5 115,8.3 116,5.8 117,-6.2 118,-1.6 119,6.9 120,-1.2 121,-2.3 122,-9.9 123,-9.1 124,2.4 125,5 126,6.7 127,9.2 128,-2.9 129,-3 130,5.3 131,-11.4 132,6.8 133,2.8 134,-4.2 135,11.8 136,4.6 137,6.1 138,-4.4 139,9.3 140,-2.1 141,11.5 142,1 143,8.1 144,9.9 145,-1.1 146,4.6 147,-.3 148,.4 149,.3 150,15.8 151,2.8 152,-7.1 153,6.4 154,-1.1 155,12.9 156,8.8 157,6.2 158,-3 159,-.3 160,1.3 161,1.9 162,5 163,1 164,-8.2 165,2.4 166,7.1 167,-1.6 168,5.4 169,-.2 170,3.4 171,2.4 172,2.1 173,-6.5 174,-2.2 175,5 176,3.6 177,8.5 178,9 179,12.5 180,.2 181,1.1 182,7.5 183,-1.2 184,4.1 185,6.1 186,4.5 187,.8 188,-4.4 189,7.1 190,1.8 191,9.7 192,4.2 193,9.4 194,8.1 195,4.8 196,6.3 197,-.1 198,1.3 199,4 200,6.4 201,-.6 202,-1.9 203,2.9 204,-.2 205,4 206,3.2 207,.4 208,-1.4 209,-.8 210,3.4 211,-.5 212,-.1 213,12.7 214,-.7 215,.8 216,-5.7 217,-4.7 218,-7 219,13 220,4.9 221,9 222,6.9 223,2.8 224,9.1 225,.3 226,-.8 227,8.8 228,7.6 229,-4.4 230,10 231,-3.3 232,-1 233,-1.4 234,6.3 235,3.2 236,1.3 237,-2.9 238,4.8 239,8.4 240,1.5 241,8.2 242,-2.1 243,3 244,11.4 245,6.7 246,-5.2 247,2.3 248,3.2 249,-12.3 250,-6.7 251,-3.3 252,-.5 253,5.2 254,-1.5 255,1.2 256,5 257,-1.2 258,2 259,7.7 260,.8 261,5.9 262,-1 263,8 264,-2.9 265,2.1 266,-4.3 267,2.8 268,2.7 269,2.8 270,-4.9 271,2.8 272,-1.7 273,-1.3 274,4.2 275,-.1 276,-9.5 277,6.3 278,-3 279,2.4 280,-.8 281,3 282,1.1 283,4.5 284,-.6 285,7.6 286,-5.1 287,3 288,8.1 289,3.8 290,1.4 291,.6 292,-4.6 293,4 294,3.5 295,11.2 296,3.9 297,-.3 298,9.9 299,3.5 300,2.4 301,6.7 302,1.2 303,-5.5 304,-5.7 305,-11.4 306,-.4 307,1.6 308,5.8 309,3.1 310,1.9 311,-2.3 312,-2.1 313,5.5 314,-4.6 315,5.9 316,2.2 317,-2.4 318,9.9 319,-4.5 320,.7 321,-14.1 322,-.2 323,1.3 324,5.7 325,3.6 326,-3.1 327,-1.1 328,12.6 329,5.1 330,-.4 331,-2.9 332,1.1 333,1 334,-1 335,-.7 336,-9.4 337,-.6 338,-.2 339,.5 340,.9 341,-5.6 342,8.2 343,-3.3 344,3.2 345,3.1 346,-1 347,2.6 348,4.6 349,2.7 350,-4 351,-2.2 352,4.5 353,-3.2 354,2 355,-2.7 356,-5.1 357,7.8 358,-4.7 359,.4 360,.3 361,4.1 362,1.1 363,-2.3 364,5.7 365,-2.4 366,8.1 367,-6 368,-1.8 369,2.3 370,4.8 371,1 372,11.7 373,-4.1 374,-1.6 375,-2 376,-6.7 377,-3.2 378,3.1 379,4.7 380,4.8 381,.8 382,-2.3 383,5.7 384,-2.2 385,5.1 386,1.5 387,8.2 388,-7.7 389,4.3 390,10.2 391,7.8 392,8.3 393,11.8 394,5 395,5.7 396,4.3 397,6.6 398,3.6 399,2.7 400,7.8 401,-1.3 402,-1.7 403,-2 404,5.4 405,-4.7 406,-.5 407,.6 408,1.4 409,12.6 410,9 411,13 412,-2 413,8.4 414,13.9 415,5.3 416,11 417,12.3 418,-2.2 419,-3.6 420,5.4 421,-8.8 422,-.7 423,-2.7 424,2.3 425,4.1 426,-8.7 427,7.7 428,9.4 429,-6.3 430,-.1 431,6.1 432,.5 433,2.1 434,5 435,-1 436,7.8 437,1.2 438,-.5 439,7.9 440,5.6 441,-11.1 442,2.1 443,2.8 444,-.1 445,8.3 446,-.5 447,4.5 448,-2.5 449,1 450,-.5 451,7.7 452,5.2 453,3.1 454,7.7 455,6.4 456,-1.2 457,-8.1 458,3 459,4.2 460,3.7 461,0 462,-3.8 463,2.8 464,3.7 465,8.4 466,8.1 467,6.4 468,2.2 469,10 470,-8.1 471,2.6 472,-.1 473,4.9 474,2.8 475,6.8 476,10.1 477,7.6 478,2.9 479,-7.6 480,-5.6 481,-.3 482,3.8 483,-3.5 484,8 485,5.1 486,-5.1 487,-.2 488,-1.2 489,3.7 490,14.9 491,4.2 492,4.3 493,3.7 494,3.4 495,-3.9 496,-.1 497,-1.1 498,10 499,-4.8 500,.8 501,1.6 502,-.2 503,-4.6 504,-.2 505,-7.9 506,-6 507,-2.5 508,-.9 509,3.6 510,3.7 511,5.8 512,2.8 513,1.7 514,-2.4 515,-3.1 516,-1 517,6.1 518,.5 519,2.2 520,-2.2 521,-4.4 522,2.3 523,1.2 524,3.1 525,3 526,.1 527,4.7 528,10.2 529,7.3 530,2.8 531,9.5 532,-1.1 533,3.2 534,7.3 535,7.1 536,-3.4 537,6.7 538,7.2 539,3.4 540,6.5 541,2.2 542,-2.3 543,-5.3 544,-4.3 545,4.9 546,8 547,3.2 548,12.2 549,3.8 550,-1.7 551,-.1 552,3.6 553,10.2 554,5.9 555,2.3 556,.5 557,3.3 558,4.4 559,7.1 560,.9 561,7.1 562,-3 563,1.2 564,8 565,3.8 566,-4.2 567,-2.2 568,-.1 569,5.9 570,-2.9 571,-10.3 572,1.4 573,-4.6 574,-1.4 575,13.9 576,-4.8 577,10.4 578,-5.2 579,8.2 580,-1.5 581,-6.5 582,-4.2 583,-1 584,-6.5 585,.8 586,1.7 587,4.6 588,6.2 589,-.4 590,.2 591,-6.3 592,-4.9 593,-6.3 594,-17.9 595,-29.9 596,-29.5 597,-32.9 598,-26.6 599,-26.8 600,-4.3 601,-15.6 602,-15.5 603,-11.7 604,-2.5 605,-13.5 606,3 607,.3 608,-.9 609,.2 610,-.7 611,-6 612,8.6 613,-1.9 614,-2.8 615,.2 616,4.5 617,1.9 618,-6.4 619,5.8 620,-.9 621,-4 622,6.2 623,.2 624,5.3 625,7.1 626,-3.2 627,7.6 628,-.1 629,7 630,0 631,3.8 632,7.3 633,9.2 634,-2.5 635,5.9 636,-13.2 637,-1.9 638,7 639,-7.2 640,1.9 641,2.4 642,6.6 643,3.9 644,3.6 645,9.7 646,-1.7 647,-.3 648,.3 649,-2 650,9.7 651,7.2 652,5.3 653,1.8 654,-10.2 655,-7.5 656,-1.7 657,-.1 658,-4.8 659,9.8 660,1.1 661,-1.9 662,4.9 663,-8.1 664,5.8 665,4.6 666,-9.6 667,-17.1 668,-21.4 669,-13.8 670,-12.4 671,-5.1 672,-7 673,-6.8 674,-1.9 675,17.8 676,6.4 677,1.2 678,-3.7 679,-5.3 680,7.3 681,-5 682,16.4 683,4.8 684,18.9 685,-.3 686,7.9 687,8.1 688,-12.3 689,-18.4 690,-5.7 691,-28.4 692,-37 693,-44.9 694,-58.5 695,-69.3 696,-63.1 697,-54.3 698,-42.2 699,-19.9 700,-11 701,-11.4 702,-8.1 703,-6.4 704,6.6 705,2.2 706,4.1 707,.4 708,-2 709,5.1 710,-2.7 711,4.1 712,8.8 713,.4 714,3.4 715,-14.1 716,-6.7 717,-8.6 718,-1 719,-4.1 720,4.1 721,8.2 722,.6 723,4.1 724,1.8 725,-10.1 726,4.3 727,-3.3 728,-7 729,-3.5 730,-3.6 731,-7.1 732,-24.5 733,-9.7 734,-24.6 735,-16.3 736,-8.2 737,-18.4 738,-12 739,-4.8 740,-4.2 741,-2 742,2.4 743,-.3 744,-13.5 745,-7.8 746,-2.1 747,.6 748,3.7 749,-.4 750,5.3 751,-4.5 752,-3.2 753,.5 754,-1.5 755,4.9 756,3.9 757,6.2 758,1.3 759,5.2 760,-2.2 761,4.9 762,5.4 763,-.2 764,3.5 765,-10.7 766,7.4 767,-3.9 768,.1 769,1 770,-.9 771,-.3 772,10.1 773,11.7 774,11.1 775,14.2 776,10.4 777,11.7 778,5.7 779,4.8 780,10 781,-1.1 782,-1.1 783,3.7 784,10 785,-4.1 786,-3 787,.8 788,-2.5 789,-3.8 790,14.2 791,3.6 792,5.6 793,1.1 794,9.8 795,4.8 796,-1.2 797,-1.8 798,-.1 799,1.6 800,1.9 801,-3.5 802,2.8 803,-10.3 804,-9.4 805,-20.8 806,-25.7 807,-29 808,-37 809,-31.2 810,-41.6 811,-19.3 812,-19.8 813,-11.1 814,-8.4 815,10.1 816,-3.3 817,2.9 818,-1 819,2.1 820,-1.8 821,-4.5 822,4.5 823,2.6 824,-.5 825,-3.5 826,1.4 827,1.3 828,-10.3 829,-15.7 830,-15.3 831,-36.9 832,-35.8 833,-45.6 834,-49.7 835,-46.6 836,-46.2 837,-34.9 838,-28 839,-2.8 840,-8 841,-15.6 842,5 843,3.6 844,2.4 845,-10.7 846,3.1 847,-5.2 848,-2.2 849,-20.3 850,-35.1 851,-28 852,-32.1 853,-50 854,-46.1 855,-27.8 856,-22.5 857,-15.5 858,-12.3 859,-5.8 860,-6.1 861,-9 862,3.8 863,-1.6 864,5.2 865,4.1 866,7.3 867,1.5 868,8 869,3.9 870,15.5 871,-4.3 872,-.6 873,.6 874,4.4 875,3.5 876,7.9 877,5.6 878,17.5 879,10.1 880,-.9 881,4.1 882,-2.3 883,-3 884,-6.9 885,-29.9 886,-23.9 887,-26.6 888,-23.7 889,-27 890,-19.4 891,-24.3 892,-18.8 893,-6.4 894,-8.4 895,-2.9 896,3.6 897,7 898,.5 899,11.2 900,-8.7 901,4.2 902,-4.9 903,-.6 904,-.8 905,-5.4 906,-17.5 907,-12.3 908,-20.2 909,-22.7 910,-22.5 911,-18.7 912,-10.8 913,-10.1 914,4.5 915,-6.2 916,9.4 917,12.9 918,-.5 919,-4.1 920,-1.4 921,3.4 922,-8.2 923,7.5 924,-.3 925,-2.1 926,2.8 927,5.1 928,1.8 929,3 930,5.8 931,6.6 932,2.6 933,3.5 934,9.6 935,-1.7 936,2.1 937,7.2 938,10 939,7.4 940,-4.6 941,-2.9 942,3.8 943,.8 944,11.4 945,2.7 946,-6.3 947,-3.5 948,5.8 949,-1.4 950,-.9 951,5.5 952,-2.5 953,-3.9 954,-5 955,-.3 956,-8.8 957,7.1 958,12 959,4.8 960,-2 961,-1.9 962,3.3 963,.8 964,-3.4 965,8.6 966,-4.3 967,-8.8 968,-7.5 969,-2.7 970,10.7 971,-3.3 972,5.4 973,-3.7 974,10.5 975,3.9 976,-5.8 977,4.3 978,-1.5 979,1.5 980,2.2 981,1.3 982,19 983,3.9 984,5.3 985,-5.8 986,6.7 987,6.7 988,5.2 989,18.6 990,13.7 991,9.6 992,10.7 993,7.6 994,4.4 995,-.4 996,2.2 997,-1.3 998,1.3 999,2.6 1000,4.4 1001,5.8 1002,4 1003,2.6 1004,2.6 1005,1.3 1006,2.6 1007,11.8 1008,10.1 1009,-.7 1010,6.2 1011,-3.6 1012,-5 1013,6.7 1014,1.5 1015,4.1 1016,11.2 1017,-3.5 1018,10.3 1019,-4.5 1020,-5.9 1021,-.6 1022,-4.3 1023,6.1 1024,-7.9 1025,4 1026,4.7 1027,-3.2 1028,-1.4 1029,0 1030,2.5 1031,19.1 1032,10.9 1033,1.3 1034,-4.4 1035,1.5 1036,6.3 1037,-8.5 1038,-1 1039,1.1 1040,3.2 1041,7.3 1042,.3 1043,7.3 1044,5.5 1045,2.7 1046,-.4 1047,10.9 1048,10.3 1049,.4 1050,-1.2 1051,5.2 1052,-.2 1053,6.2 1054,2.9 1055,6.2 1056,2.7 1057,1.3 1058,.9 1059,1.1 1060,-3.2 1061,3 1062,-8.7 1063,1 1064,6.3 1065,-.3 1066,5 1067,-4.5 1068,10.4 1069,-6.8 1070,-3.8 1071,-2.1 1072,-1.3 1073,-1.9 1074,.4 1075,-3.7 1076,-1.3 1077,4.5 1078,1.9 1079,-8.6 1080,-.4 1081,-1.4 1082,2 1083,-3 1084,1.7 1085,14.6 1086,-2.6 1087,6.3 1088,7.5 1089,-11.5 1090,3.1 1091,7.4 1092,15 1093,4.4 1094,4 1095,10.5 1096,12.9 1097,10.2 1098,-1.3 1099,.4 1100,2.2 1101,-10.4 1102,6.6 1103,-8.9 1104,-2.3 1105,4.3 1106,3.8 1107,-.3 1108,6.1 1109,4.7 1110,2.9 1111,3.3 1112,5.5 1113,.6 1114,9.6 1115,11.1 1116,4.3 1117,-.4 1118,13.1 1119,6.7 1120,.1 1121,.8 1122,.6 1123,-5.9 1124,-5.1 1125,6.4 1126,-.8 1127,-7.5 1128,1.4 1129,.6 1130,9.2 1131,12.6 1132,16.2 1133,9.2 1134,3.2 1135,5.7 1136,12.1 1137,6.4 1138,-.4 1139,11.6 1140,6.1 1141,2 1142,-.6 1143,2.5 1144,-5.6 1145,-1 1146,4.1 1147,3.7 1148,1.8 1149,10.5 1150,-3.4 1151,4.7 1152,-2.3 1153,-4.5 1154,7.2 1155,-4 1156,-4 1157,2.2 1158,5.1 1159,3.7 1160,-1.1 1161,-4.2 1162,-4.7 1163,1.2 1164,-.7 1165,7 1166,2.5 1167,2.1 1168,5.5 1169,-.9 1170,4.9 1171,-1.5 1172,-1.7 1173,-.2 1174,1.2 1175,-7.3 1176,3.5 1177,6.6 1178,2.2 1179,-2.2 1180,-4.5 1181,4.4 1182,.1 1183,-3 1184,5.9 1185,5.4 1186,4.1 1187,0 1188,-6.2 1189,-1.9 1190,-2.4 1191,.1 1192,-1.5 1193,3.8 1194,-2.9 1195,-4.6 1196,9.2 1197,1.2 1198,-5.6 1199,4.5 1200,1 1201,-1.4 1202,5.6 1203,8 1204,-4.4 1205,4.5 1206,2.1 1207,4.7 1208,-7.4 1209,-2.8 1210,-2.5 1211,-3.2 1212,6.1 1213,-.9 1214,9.1 1215,2.2 1216,-2.5 1217,-1.9 1218,8.4 1219,-4.7 1220,-.9 1221,-7.3 1222,1.8 1223,1.2 1224,2.9 1225,2 1226,6.6 1227,3.2 1228,-1.5 1229,7.9 1230,.3 1231,13.3 1232,-7.6 1233,6.2 1234,-2.3 1235,.4 1236,2.6 1237,5.4 1238,3.6 1239,-1.1 1240,4.7 1241,-2.8 1242,.7 1243,6.4 1244,-.5 1245,2.4 1246,8.7 1247,4.4 1248,8 1249,-1.7 1250,.6 1251,-1.5 1252,-3.7 1253,6.5 1254,3.4 1255,-8.7 1256,9.2 1257,6.4 1258,5.2 1259,2.1 1260,1 1261,4.6 1262,7.8 1263,2.1 1264,6.2 1265,.9 1266,7.6 1267,-.1 1268,-6.4 1269,4.3 1270,-3.3 1271,-4.2 1272,2.2 1273,.1 1274,-3.6 1275,6 1276,3.6 1277,-1.2 1278,-1.9 1279,3.1 1280,-4.2 1281,5.5 1282,-4 1283,-.6 1284,5.3 1285,-7.2 1286,-5.3 1287,1.6 1288,-1.2 1289,4.9 1290,-2.8 1291,5.5 1292,1.5 1293,3.1 1294,-1.3 1295,-3.9 1296,-2.5 1297,.9 1298,1.2 1299,2.2 1300,-4.2 1301,-2.9 1302,-3.7 1303,-.5 1304,-2.1 1305,-13.8 1306,4.2 1307,5.8 1308,9.6 1309,7.9 1310,1.3 1311,-.8 1312,2.4 1313,-8.4 1314,-2.9 1315,-5.5 1316,.1 1317,4.5 1318,2.3 1319,11.6 1320,-7.3 1321,3.6 1322,-1.1 1323,1.7 1324,5.8 1325,2 1326,9.9 1327,-3.3 1328,2.5 1329,-1.8 1330,1 1331,-.4 1332,1.2 1333,3.7 1334,6.8 1335,2.9 1336,4.7 1337,6.5 1338,5.8 1339,-6.9 1340,-3.9 1341,-5.7 1342,4.3 1343,.2 1344,-.9 1345,-5.7 1346,7.1 1347,-4.1 1348,-9.5 1349,9.9 1350,-.5 1351,0 1352,-.9 1353,6.7 1354,-.2 1355,5.7 1356,-2.5 1357,-.1 1358,5.9 1359,-9.9 1360,-10.8 1361,-4.7 1362,4.8 1363,-.6 1364,-3.2 1365,12.3 1366,.3 1367,-.2 1368,2.5 1369,-1.2 1370,-6.7 1371,4.4 1372,.6 1373,-4.6 1374,4.8 1375,6.7 1376,10.1 1377,1.3 1378,6.8 1379,9.7 1380,9.7 1381,8.4 1382,-5.7 1383,-5.5 1384,11.7 1385,.4 1386,2.7 1387,-.2 1388,-4.1 1389,-3.2 1390,0 1391,8.8 1392,1.1 1393,6.2 1394,2.6 1395,-1.1 1396,4.1 1397,-7.5 1398,-1.2 1399,.8 1400,-1.3 1401,-7 1402,1 1403,4.1 1404,-1.2 1405,7.7 1406,5.1 1407,1.1 1408,-2.5 1409,6.7 1410,-.2 1411,4.9 1412,-2.9 1413,-3.5 1414,6.5 1415,16.2 1416,2.1 1417,-2.6 1418,-2.8 1419,1.9 1420,9.4 1421,12.8 1422,4.4 1423,-.7 1424,-4.4 1425,-2.1 1426,-1.7 1427,-5.3 1428,-.5 1429,8.3 1430,1.2 1431,-6.9 1432,6.7 1433,6.8 1434,-2.2 1435,-3.2 1436,3.9 1437,5 1438,-.5 1439,2.4 1440,4.8 1441,2.9 1442,-1.1 1443,-1.8 1444,5.2 1445,.1 1446,4.8 1447,-4 1448,1.6 1449,-1.7 1450,1.1 1451,6.6 1452,-6.5 1453,1.8 1454,5 1455,8.7 1456,7.1 1457,-13.1 1458,-.5 1459,-4 1460,-2.7 1461,1 1462,-1.8 1463,4.3 1464,2.5 1465,-2.7 1466,3.9 1467,7.1 1468,1.2 1469,1 1470,-1.5 1471,3.8 1472,-1.6 1473,-2.6 1474,1.5 1475,9.5 1476,-3.2 1477,5.1 1478,-2.4 1479,1.1 1480,-2.9 1481,4.7 1482,5.2 1483,3.9 1484,4 1485,.4 1486,2.7 1487,-1 1488,-9.6 1489,-.4 1490,1 1491,.1 1492,7.1 1493,-.2 1494,-.5 1495,-2.8 1496,-8.4 1497,-3 1498,2.9 1499,1.6 1500,2.8 1501,-2.6 1502,4.3 1503,3.7 1504,1.3 1505,6.2 1506,1.2 1507,6.1 1508,5.7 1509,-10.4 1510,5.2 1511,-2.4 1512,8.7 1513,-2.1 1514,-.2 1515,7.9 1516,3.8 1517,5.6 1518,2.2 1519,6.5 1520,4.4 1521,-2.8 1522,2.9 1523,-2.1 1524,4.5 1525,-3.5 1526,-1 1527,6.2 1528,12 1529,-.3 1530,-2.3 1531,4.1 1532,1.5 1533,8.1 1534,-4.4 1535,-1.8 1536,5.6 1537,-1 1538,2 1539,2.2 1540,4.1 1541,1.9 1542,5 1543,.8 1544,0 1545,6 1546,3.9 1547,6.4 1548,-3.3 1549,3.3 1550,7.1 1551,-.7 1552,3.6 1553,6.5 1554,7.6 1555,2.9 1556,6.2 1557,1.8 1558,2 1559,.4 1560,-1.7 1561,.1 1562,-.3 1563,0 1564,-1.1 1565,12.5 1566,7.4 1567,5.2 1568,-.7 1569,5.2 1570,-3.3 1571,-2 1572,-1.6 1573,1.7 1574,-3.1 1575,-2.1 1576,5.6 1577,-1.1 1578,7.9 1579,2.2 1580,-4.7 1581,4.2 1582,6.2 1583,2.5 1584,4.4 1585,9.4 1586,-2.7 1587,2.5 1588,-1.9 1589,2.6 1590,3.2 1591,3.9 1592,3.2 1593,2.7 1594,1.7 1595,11.1 1596,3.3 1597,.8 1598,2.9 1599,-5.5 1600,1.7 1601,4.3 1602,-.9 1603,-2.8 1604,1.2" stroke="#984EA3" stroke-width="4.3"/>
<polyline transform="translate(768.40 1324) scale(0.2866 1)" vector-effect="non-scaling-stroke" points="1,3.2 2,3.2 3,3.2 4,3.2 5,3.2 6,3.2 7,3.2 8,3.2 9,3.2 10,3.2 11,3.2 12,3.2 13,3.2 14,3.2 15,3.2 16,3.2 17,3.2 18,3.2 19,3.2 20,3.2 21,3.2 22,3.2 23,3.2 24,3.2 25,3.2 26,3.2 27,3.2 28,3.3 29,3.1 30,3.2 31,3 32,3.1 33,3.6 34,3.5 35,3.4 36,2.8 37,3.3 38,2.9 39,1.6 40,2.8 41,2.8 42,1.8 43,4.3 44,2.8 45,1.9 46,2.2 47,4.1 48,-.3 49,4.1 50,2.8 51,3.9 52,2.5 53,.4 54,4.7 55,3.5 56,5.6 57,3.1 58,6.4 59,3.7 60,.9 61,6.6 62,1.2 63,3.7 64,8.7 65,1.8 66,0 67,2.8 68,-.1 69,-1.3 70,3 71,4.2 72,3 73,-4.2 74,-.7 75,1.7 76,-.3 77,11.4 78,5.9 79,-.8 80,-2.1 81,-3.5 82,6.7 83,6.4 84,1.3 85,7.4 86,9.7 87,6.3 88,3.5 89,-2.8 90,-1.9 91,5.7 92,4.9 93,8.2 94,.6 95,3.6 96,-4.1 97,10.8 98,1.9 99,6.2 100,-4.4 101,3.7 102,1.3 103,.4 104,4.4 105,2.2 106,11 107,4.3 108,4.1 109,.9 110,-2.2 111,4.3 112,1.6 113,-9.3 114,9.9 115,1.7 116,-2 117,-9.3 118,1.9 119,4.5 120,4.6 121,8.8 122,4.9 123,-1.4 124,6.1 125,11.1 126,-4.4 127,4.6 128,-.2 129,2.3 130,-6.3 131,1.3 132,.8 133,1.6 134,-1.4 135,4 136,3.1 137,-1.9 138,1.6 139,-9.1 140,2.1 141,.1 142,-.8 143,-4 144,3.7 145,.2 146,-1.9 147,-2.6 148,5 149,9.8 150,2.7 151,-3.9 152,6.2 153,-3.2 154,5.3 155,-12.3 156,4 157,5.5 158,.4 159,3.8 160,5.6 161,7.8 162,3.3 163,-8.2 164,3.8 165,9.3 166,0 167,6 168,6.8 169,7.7 170,1.4 171,3 172,1.3 173,.2 174,-5.8 175,-5.1 176,4.6 177,3.2 178,8.5 179,-1.1 180,.1 181,21.3 182,7.9 183,8.7 184,2.9 185,9.8 186,-1.6 187,8.4 188,5.8 189,10.9 190,14.3 191,-5.5 192,-8.7 193,-6.7 194,6.8 195,7.2 196,6.8 197,1.6 198,.7 199,-3.3 200,.8 201,-1.6 202,8.9 203,13.3 204,11.8 205,14.9 206,14.2 207,8.9 208,5.4 209,3.7 210,-7 211,1.4 212,13 213,-1.5 214,.3 215,1.2 216,.7 217,13 218,7.4 219,5.7 220,-5.4 221,-.8 222,5.6 223,13.5 224,3.6 225,1.4 226,-5.9 227,.8 228,-3.9 229,-.5 230,5.3 231,.6 232,1.7 233,2.1 234,.5 235,-.8 236,4.1 237,1.7 238,-12.7 239,-4.5 240,6.4 241,6.6 242,0 243,6.2 244,9.9 245,-1.4 246,5.9 247,-3.3 248,5.4 249,7.4 250,-2.1 251,3.8 252,5 253,-.2 254,2.4 255,4.5 256,-6.9 257,6.5 258,-.5 259,-4.4 260,7.5 261,-.4 262,3.6 263,18.1 264,25 265,14.4 266,12.1 267,10.1 268,5.6 269,5.6 270,-1.1 271,6.3 272,-6.5 273,-5.3 274,3.3 275,5.8 276,-6.6 277,-7.2 278,.8 279,3.1 280,-12.3 281,-.6 282,10.7 283,.9 284,7.4 285,7.1 286,7.8 287,-.4 288,.3 289,-3.8 290,.5 291,17.1 292,-.1 293,11.3 294,-11.1 295,5.2 296,6.2 297,4.6 298,8 299,10.8 300,-4.4 301,-1 302,9.6 303,2.7 304,4.6 305,10.1 306,-4.7 307,-5.1 308,1.4 309,8.6 310,-3.6 311,-3.6 312,9 313,-1.1 314,2.8 315,-.7 316,-.1 317,-10.5 318,-1.6 319,1.4 320,5.7 321,5 322,-6 323,2.5 324,5.6 325,.3 326,1.3 327,-.3 328,3.3 329,-4.9 330,6.7 331,2.5 332,-2.5 333,4.6 334,-2.9 335,7.8 336,20.4 337,-4.4 338,1.1 339,-4.4 340,4.7 341,3.7 342,10.8 343,-2.5 344,-4 345,-.8 346,9.8 347,-6.4 348,2 349,7.5 350,6.1 351,4.1 352,-2.7 353,7.4 354,-7.9 355,6.9 356,1 357,3.6 358,5.7 359,2.2 360,-2 361,2.5 362,-1.6 363,11 364,1.9 365,9.1 366,5 367,5.2 368,12.4 369,1.8 370,10.7 371,3.1 372,.5 373,2.9 374,-4.7 375,-.2 376,-5.5 377,5.7 378,-7.1 379,2.2 380,2.8 381,-.6 382,1.5 383,-3.6 384,5.4 385,-2.3 386,3.6 387,-4.6 388,-7.8 389,-6.7 390,-9.5 391,-7.8 392,.2 393,4.8 394,1.7 395,-6.6 396,.6 397,4.1 398,-3.4 399,13.9 400,16.7 401,9.9 402,10.2 403,2.9 404,5.4 405,8.1 406,5.8 407,10.7 408,-5.2 409,.3 410,4 411,-2.4 412,-2.8 413,5.2 414,3.6 415,4.4 416,3 417,5.4 418,-2.1 419,11.1 420,13.3 421,4 422,-2.4 423,1.4 424,-.4 425,-.2 426,4.1 427,-1.1 428,5.5 429,-1.8 430,2.4 431,-4.1 432,6.5 433,-.5 434,6.2 435,1.4 436,.2 437,3.7 438,-.2 439,-10.7 440,5.3 441,-4.6 442,8.4 443,2.2 444,.3 445,-8.9 446,7.8 447,9.2 448,1.3 449,-3.6 450,.9 451,4.2 452,4.5 453,-3.1 454,5.3 455,-.2 456,-1.2 457,-.3 458,11.9 459,4.6 460,5 461,-6.9 462,4.2 463,6.9 464,-5 465,-9.2 466,-2.3 467,3 468,7.8 469,3.2 470,8.8 471,6.2 472,-2.6 473,8.5 474,.9 475,-3.9 476,-1 477,-.5 478,6.2 479,3.6 480,10.6 481,12.2 482,3.2 483,1 484,3.2 485,9.8 486,6.1 487,8.7 488,-10.1 489,-3.3 490,9.8 491,-1.5 492,5.1 493,-1 494,10.8 495,3 496,7 497,3.2 498,3.3 499,-9.8 500,-.3 501,4.5 502,4.6 503,3.8 504,4.1 505,3.5 506,8.8 507,-1.4 508,10.3 509,-2.5 510,-5.8 511,.5 512,-5.4 513,5.7 514,2.8 515,-.3 516,1.1 517,-8 518,-1.5 519,3.1 520,-4.2 521,4.3 522,6 523,6.2 524,9.4 525,-3.9 526,11.9 527,2.5 528,2 529,1 530,.7 531,-2.7 532,5.3 533,6.6 534,-.9 535,-2.9 536,14.7 537,9.3 538,4.9 539,1.6 540,5.7 541,-9 542,-4 543,-6.7 544,-1.9 545,8.6 546,8.2 547,3.8 548,-.9 549,-5.3 550,-1.7 551,1.3 552,.2 553,-4.2 554,4 555,12.5 556,6.3 557,2.7 558,.9 559,-.2 560,-1.4 561,8.6 562,-1.4 563,3.4 564,5.3 565,-7 566,5.1 567,-4.9 568,1.6 569,-3 570,3.3 571,3.7 572,-4 573,-.2 574,-1.4 575,-3.3 576,2.2 577,.6 578,-4.2 579,-1.5 580,-8.4 581,-5.8 582,8.9 583,1.4 584,3.7 585,10.8 586,-4.1 587,3.6 588,3.6 589,-2 590,.8 591,-2.9 592,1.9 593,-.8 594,-2.7 595,-2.2 596,3.5 597,-.8 598,6.5 599,4.3 600,-2.3 601,2.2 602,7.7 603,-6 604,.5 605,-2.5 606,12.3 607,6 608,7.1 609,7.2 610,-2.3 611,3.3 612,-5.7 613,5.2 614,3.5 615,7.6 616,7.6 617,-10.9 618,-3.3 619,4.3 620,5 621,-3.9 622,-1.6 623,-5.4 624,3.8 625,4.3 626,.8 627,3.3 628,2.9 629,-.9 630,4.1 631,4.3 632,-4.4 633,1.2 634,2.3 635,-.5 636,.3 637,.1 638,8.5 639,-5 640,2.9 641,-1.4 642,-2 643,-10 644,3.3 645,-7.7 646,-16.6 647,-1.4 648,-2.9 649,-11.4 650,-2.7 651,-1.4 652,-12 653,-13.1 654,-1.3 655,7.1 656,-5 657,-7.9 658,-3.9 659,-12.2 660,-10.9 661,-11.2 662,-.7 663,-5.2 664,-13 665,-14 666,-8.4 667,-8.2 668,-15.9 669,-9.7 670,-17.7 671,-9.4 672,-4.7 673,-.9 674,-9.9 675,-2.9 676,-3.8 677,-12.4 678,-.1 679,-4.9 680,1.1 681,4.9 682,-1 683,-4.7 684,-5.7 685,.1 686,2.2 687,-7.6 688,5.3 689,.1 690,9.8 691,6.8 692,-3.5 693,-3 694,-9.3 695,-4.9 696,-9.7 697,-20.6 698,-36.2 699,-44.4 700,-40.6 701,-56.4 702,-66.7 703,-66.2 704,-54 705,-62.2 706,-42.1 707,-34.5 708,-28.8 709,-25.7 710,-10.6 711,-11.5 712,1.5 713,-7.2 714,-8.2 715,11.1 716,-.8 717,4.9 718,.7 719,10.7 720,.1 721,2 722,.6 723,1.9 724,2.2 725,2.3 726,6 727,5.7 728,-8.6 729,17 730,7.3 731,-4.5 732,-8.7 733,-9.5 734,-15.5 735,-17.5 736,-26.7 737,-20.3 738,-35.2 739,-38.8 740,-40.8 741,-35.3 742,-44 743,-49.5 744,-53.5 745,-43.9 746,-41.1 747,-43 748,-34.7 749,-34.9 750,-25.2 751,-19.7 752,-15.6 753,-16.6 754,-4.4 755,3.4 756,3 757,-10.8 758,-2.4 759,-8.3 760,-8.2 761,-5.8 762,2.4 763,3.3 764,5.6 765,10.1 766,-2.3 767,-4.4 768,-4.9 769,-2.5 770,-3.2 771,-2.1 772,-5.4 773,-.5 774,7.6 775,.4 776,2.2 777,.3 778,-5.7 779,-4.4 780,7.4 781,-2.4 782,3.7 783,.9 784,2.1 785,1.1 786,4.4 787,-1 788,1.6 789,-6.1 790,-.7 791,4.8 792,-.4 793,4.6 794,-9.1 795,6.1 796,-2.9 797,16.8 798,-4.1 799,4.9 800,-4.3 801,3 802,.8 803,-.6 804,8 805,1 806,3.5 807,2.7 808,-.2 809,-6.3 810,-4.7 811,-3.9 812,-9.9 813,-19.5 814,-24.3 815,-34.2 816,-44.9 817,-50 818,-49.7 819,-54.5 820,-36.5 821,-35.3 822,-26.9 823,-19.6 824,-20.4 825,1.8 826,-7 827,-.3 828,3.8 829,.6 830,1.8 831,-5.5 832,.7 833,5.9 834,6.3 835,4.6 836,-3.1 837,-4.2 838,-5.6 839,-14 840,-10.3 841,-25.5 842,-37.5 843,-47.1 844,-45 845,-38.2 846,-44.6 847,-11.8 848,-19.3 849,-6.1 850,-4.4 851,-2.7 852,-7.3 853,3.8 854,10.1 855,-4.3 856,-1.5 857,-5.5 858,-9.3 859,-23.4 860,-31.3 861,-31.1 862,-26.3 863,-30 864,-40.3 865,-38 866,-30.1 867,-29.2 868,-25.9 869,-18.6 870,-9.5 871,.9 872,6.4 873,.7 874,7.3 875,-4.3 876,4.5 877,-1.3 878,.4 879,-3.1 880,6 881,5 882,-5.1 883,-1.5 884,4.6 885,-6.1 886,2 887,8.6 888,23 889,25.8 890,23.2 891,3 892,-.6 893,21.1 894,-1 895,-4.3 896,-15.6 897,-23.2 898,-41.7 899,-33.6 900,-38.2 901,-35.6 902,-32.2 903,-12.2 904,-14.2 905,-3 906,-8.5 907,.1 908,5.4 909,-6.1 910,1.7 911,-1 912,-5 913,-9.4 914,-20.1 915,-22.5 916,-20.8 917,-27.2 918,-22.1 919,-22.2 920,-27.2 921,-12.7 922,-9.3 923,-10.7 924,-1.2 925,-.1 926,-7 927,1.6 928,-1.3 929,2.4 930,-6.5 931,3.9 932,4.1 933,-1 934,-1.3 935,-.7 936,-4.1 937,3.7 938,3.3 939,11.1 940,4.4 941,5.3 942,5.5 943,4.2 944,6 945,5.6 946,7.5 947,.5 948,6.6 949,5.1 950,.8 951,5.6 952,-1.7 953,8.1 954,1 955,6.9 956,-1 957,4.2 958,-6.8 959,4.1 960,-5.9 961,.5 962,3.9 963,-7.1 964,-3.4 965,1 966,3.2 967,-8.2 968,2 969,2.5 970,11.9 971,-1.8 972,-2.7 973,5.2 974,4.5 975,8.5 976,-2.4 977,11 978,8.7 979,4.6 980,-5 981,4.6 982,1 983,-4.8 984,-4.6 985,.3 986,9 987,1.5 988,-3.4 989,-5.5 990,4 991,1.5 992,-6.5 993,-2.8 994,3.2 995,1.7 996,.3 997,2.6 998,3.1 999,1.7 1000,4.8 1001,7.2 1002,2.3 1003,-7.4 1004,2.8 1005,-2.6 1006,4.3 1007,7.7 1008,1.7 1009,1.1 1010,5.4 1011,1.1 1012,7.3 1013,8.3 1014,7.4 1015,-.8 1016,3.4 1017,4.2 1018,-6.8 1019,9 1020,10.3 1021,-6.5 1022,4.7 1023,1.9 1024,-2.7 1025,0 1026,1.8 1027,-5.6 1028,9.3 1029,.4 1030,-3.8 1031,4.1 1032,5.8 1033,-7.8 1034,6.8 1035,4.8 1036,1 1037,-3.6 1038,-1.2 1039,9.2 1040,3.6 1041,4.7 1042,.9 1043,2 1044,4.7 1045,1.5 1046,8.3 1047,.1 1048,-5.5 1049,6.7 1050,9.8 1051,1.1 1052,3.1 1053,-1.2 1054,-7.3 1055,14.5 1056,14.1 1057,3.1 1058,7.6 1059,-8.2 1060,11 1061,-6.2 1062,-1.4 1063,0 1064,8.2 1065,7.9 1066,-2.2 1067,-4.2 1068,-4.8 1069,-8.6 1070,.5 1071,-10.1 1072,.7 1073,5.6 1074,15.4 1075,3 1076,-4.4 1077,4.7 1078,-.7 1079,2.3 1080,1.8 1081,-1.4 1082,-4.1 1083,5.9 1084,10 1085,5.3 1086,-2.5 1087,-2.1 1088,16 1089,-3.3 1090,-4.1 1091,7.5 1092,2.1 1093,15 1094,-.8 1095,-.3 1096,-4.1 1097,-5 1098,-1.3 1099,-2.5 1100,13.1 1101,0 1102,5.7 1103,-2.2 1104,-2.2 1105,2.4 1106,5.9 1107,-3.7 1108,3 1109,1.9 1110,-3.2 1111,6.4 1112,2.6 1113,-9.7 1114,.9 1115,-4.3 1116,3.6 1117,2.6 1118,-.9 1119,3.1 1120,3 1121,1.5 1122,1 1123,2.2 1124,5.1 1125,8.4 1126,5.6 1127,2.9 1128,12 1129,-.3 1130,6.2 1131,-1.5 1132,4.4 1133,-.1 1134,-2.7 1135,1.4 1136,-8.5 1137,9.8 1138,-6.1 1139,1.9 1140,5.2 1141,-4.9 1142,.2 1143,-5.4 1144,5.7 1145,-1 1146,4.8 1147,1.2 1148,9.4 1149,-5.7 1150,3.1 1151,6.1 1152,-5.2 1153,2.6 1154,-8.4 1155,-8.6 1156,2.9 1157,1.2 1158,1.7 1159,6.7 1160,4 1161,3.4 1162,7.4 1163,5.4 1164,-2.2 1165,2.7 1166,5.7 1167,3.6 1168,-1 1169,8.7 1170,4.9 1171,-4 1172,.2 1173,8.6 1174,-.5 1175,6.6 1176,7.1 1177,-10 1178,1.7 1179,1.1 1180,-2.5 1181,6.6 1182,.3 1183,7 1184,.3 1185,12.4 1186,-3.9 1187,9.6 1188,-7.3 1189,8.1 1190,8.4 1191,-2.8 1192,4.2 1193,5 1194,3.3 1195,7.3 1196,.8 1197,8.3 1198,8.9 1199,-5.6 1200,-9.2 1201,6.1 1202,1.4 1203,-.8 1204,-5.9 1205,9.4 1206,-2.1 1207,1.2 1208,-1.8 1209,-.5 1210,-3.5 1211,.6 1212,3.3 1213,3.4 1214,-.3 1215,8.2 1216,3.9 1217,-.1 1218,10.7 1219,4.7 1220,-5.1 1221,1.9 1222,12.3 1223,4.2 1224,3.4 1225,-2.5 1226,.9 1227,6.1 1228,2.7 1229,1.9 1230,5.5 1231,5.8 1232,-1.4 1233,5.5 1234,4.4 1235,5.5 1236,4.2 1237,4.2 1238,3.3 1239,5 1240,2.7 1241,.9 1242,-7.4 1243,4.3 1244,1.6 1245,-2.2 1246,-3.3 1247,2.6 1248,-.9 1249,-12.1 1250,-19.5 1251,4.3 1252,-8.3 1253,7.2 1254,1.8 1255,-.7 1256,2.2 1257,-6.6 1258,3.8 1259,.5 1260,8 1261,-.1 1262,-4.6 1263,9.2 1264,-1.7 1265,.1 1266,1.6 1267,6.1 1268,-1.6 1269,-4.1 1270,0 1271,4 1272,6.4 1273,6.6 1274,.6 1275,2.2 1276,.8 1277,-.1 1278,8.5 1279,-5.1 1280,2.4 1281,1.1 1282,-4 1283,-.9 1284,1.2 1285,-2.4 1286,1.7 1287,5.2 1288,-.5 1289,1.2 1290,2.9 1291,-3.2 1292,2.1 1293,5.3 1294,10.8 1295,4.4 1296,6.8 1297,6.4 1298,-5.3 1299,3 1300,1.5 1301,4.5 1302,5.4 1303,3.1 1304,3.3 1305,-2.5 1306,-8.8 1307,3.8 1308,4.7 1309,-2.5 1310,-6.2 1311,-.2 1312,-3.4 1313,.9 1314,.6 1315,.7 1316,2.4 1317,4.7 1318,-8.6 1319,6.6 1320,-1.2 1321,-2.4 1322,2 1323,-2.6 1324,8.5 1325,1.2 1326,-1.4 1327,-4.2 1328,-1 1329,-2.5 1330,1.7 1331,-1.9 1332,4.1 1333,5.5 1334,3.3 1335,1.8 1336,1.5 1337,-5.1 1338,8.7 1339,-2 1340,3.9 1341,4.4 1342,-1.2 1343,-2.9 1344,-1.8 1345,-4.2 1346,1.9 1347,2 1348,-6.8 1349,1.2 1350,1 1351,-2.2 1352,.8 1353,6.5 1354,5.9 1355,7.3 1356,5.6 1357,.9 1358,-2.8 1359,-2 1360,4.3 1361,-3.3 1362,6.1 1363,-6.2 1364,1.4 1365,4.5 1366,5.1 1367,4.9 1368,-1.6 1369,-2.3 1370,0 1371,-.2 1372,6.1 1373,-.7 1374,3.6 1375,7.3 1376,-7.6 1377,4.5 1378,6.9 1379,11 1380,5.8 1381,1.1 1382,7.1 1383,4.4 1384,-2 1385,-7.7 1386,6 1387,-3.1 1388,-3.4 1389,7.8 1390,-1.7 1391,-.7 1392,1.4 1393,-3.3 1394,3.3 1395,1.1 1396,3 1397,-.5 1398,5.3 1399,6 1400,-3.1 1401,1.9 1402,-10.1 1403,-6 1404,2.6 1405,4.7 1406,1.9 1407,2.4 1408,1.9 1409,4.1 1410,-6.3 1411,-3.7 1412,-8.7 1413,12.4 1414,-4.9 1415,5.4 1416,-3.3 1417,4.8 1418,2.4 1419,1.6 1420,-8.8 1421,7.6 1422,2 1423,3.9 1424,-2.7 1425,-6.9 1426,-1.6 1427,.5 1428,3 1429,-.5 1430,4.8 1431,4.1 1432,-5.9 1433,1 1434,-3.7 1435,1.1 1436,8.2 1437,-3.2 1438,4.2 1439,.6 1440,-2.7 1441,-2.1 1442,4.1 1443,-2.7 1444,-4.3 1445,4.1 1446,1.6 1447,4 1448,5.7 1449,0 1450,5.9 1451,5.3 1452,-5.8 1453,2.9 1454,3.2 1455,-.4 1456,11.4 1457,6.4 1458,.2 1459,8.6 1460,3.5 1461,3.2 1462,3.4 1463,-1 1464,-1.1 1465,-5.8 1466,2.3 1467,.1 1468,11 1469,4.1 1470,-3.5 1471,3.1 1472,4.4 1473,-6.5 1474,2.9 1475,3.4 1476,-4 1477,7.5 1478,3.4 1479,5.5 1480,-1.4 1481,2.7 1482,1.6 1483,1.2 1484,4 1485,-1.8 1486,1.2 1487,-6.6 1488,2.8 1489,2 1490,2.8 1491,4.6 1492,7.3 1493,.1 1494,1.8 1495,-.4 1496,-1.2 1497,1.2 1498,8.9 1499,2.3 1500,-2.2 1501,1.3 1502,3.5 1503,.3 1504,6.8 1505,-2.5 1506,11.1 1507,9.5 1508,4.6 1509,-5.4 1510,-.6 1511,4 1512,8.3 1513,3.2 1514,-5.2 1515,3 1516,-6.5 1517,3.7 1518,-.8 1519,8.2 1520,2.9 1521,-.3 1522,-.5 1523,-3 1524,-6.9 1525,1.8 1526,-2 1527,3.2 1528,5.4 1529,1.7 1530,3.5 1531,4 1532,1.8 1533,4.4 1534,-2.1 1535,2.7 1536,2.5 1537,-2.7 1538,5.1 1539,-.2 1540,3 1541,3 1542,.2 1543,2.5 1544,.1 1545,2 1546,7.2 1547,3.1 1548,3 1549,-1.9 1550,.8 1551,.3 1552,6.2 1553,9.1 1554,11.4 1555,-3.4 1556,.5 1557,2.8 1558,2.2 1559,-2.8 1560,1.7 1561,-5.2 1562,2.9 1563,5.5 1564,3.7 1565,.2 1566,-1.5 1567,8 1568,-.8 1569,-.5 1570,-2 1571,2.6 1572,-3 1573,3.1 1574,-2.9 1575,1.5 1576,-9.2 1577,5.5 1578,4.1 1579,6 1580,1.9 1581,-4.5 1582,5.2 1583,-9.8 1584,-1.4 1585,-3.4 1586,8.5 1587,2.5 1588,-3.2 1589,-.9 1590,4.1 1591,2.5 1592,4.6 1593,-.6 1594,3.7 1595,4.5 1596,-2 1597,2.4 1598,1 1599,6.2 1600,-.4 1601,-3.2 1602,3.9 1603,5 1604,-1.1" stroke="#4DAF4A" stroke-width="4.3"/>
<polyline transform="translate(768.40 1406) scale(0.2866 1)" vector-effect="non-scaling-stroke" points="1,3.3 2,3.3 3,3.3 4,3.3 5,3.3 6,3.3 7,3.3 8,3.3 9,3.3 10,3.3 11,3.3 12,3.3 13,3.3 14,3.3 15,3.3 16,3.3 17,3.3 18,3.3 19,3.3 20,3.3 21,3.3 22,3.3 23,3.3 24,3.3 25,3.3 26,3.3 27,3.3 28,3.3 29,3.2 30,3.3 31,3.4 32,3.3 33,3.4 34,2.8 35,3.5 36,3.2 37,2.9 38,3.4 39,3.8 40,3.5 41,3.8 42,4.7 43,3.4 44,3.1 45,1.5 46,3.4 47,4.6 48,5.1 49,2.6 50,1.8 51,3.3 52,4.6 53,3.1 54,.6 55,2.1 56,2.7 57,4.3 58,1.5 59,2.4 60,4.8 61,1.7 62,2.5 63,6.5 64,3.8 65,-1.9 66,3.6 67,4.1 68,-.7 69,1.2 70,5.3 71,12.2 72,2.2 73,-3.7 74,3.3 75,.1 76,5.8 77,3.3 78,-2.8 79,-2.9 80,6.8 81,4.5 82,-2.1 83,2.1 84,5 85,-1 86,1.4 87,1.2 88,11.4 89,6.5 90,-2.2 91,1.9 92,2.4 93,-1.5 94,2.5 95,6.6 96,1.1 97,2.6 98,3.7 99,1.6 100,12.5 101,11 102,-1.4 103,4.8 104,3.3 105,-.7 106,-4 107,-8.6 108,4.8 109,3.5 110,1.5 111,-5 112,2.7 113,-.3 114,4.6 115,4.7 116,8.6 117,8.5 118,7.5 119,12.1 120,-1.4 121,-1.5 122,-11.8 123,16.3 124,-7.7 125,-3.4 126,5.2 127,6 128,-5.1 129,7.2 130,-6 131,-2.7 132,-2.2 133,3.8 134,-4.8 135,3.4 136,5 137,-9.6 138,-.6 139,-6.1 140,-9.6 141,-5.6 142,-4.7 143,.2 144,-2.2 145,3.5 146,2.8 147,-11.7 148,6.8 149,-2.2 150,5.1 151,4.8 152,5.8 153,-3.7 154,4.4 155,-1.4 156,0 157,1.2 158,3.8 159,4.9 160,-.8 161,6.1 162,4 163,-6.6 164,-3.1 165,-4.4 166,5.3 167,-.9 168,-3.3 169,-1.3 170,-10.6 171,-5.6 172,-5.7 173,3.3 174,6.1 175,-5.3 176,7.3 177,-.1 178,11.5 179,2.2 180,1.5 181,0 182,-8.4 183,1.2 184,-2.3 185,-7.2 186,-1.3 187,3.6 188,12.3 189,-7.6 190,3.1 191,9.7 192,-.3 193,8.3 194,-1.7 195,-3.6 196,3.9 197,-8.4 198,1.2 199,3.7 200,.7 201,-6.9 202,-7 203,-5.1 204,4.8 205,-5.6 206,6.4 207,-10 208,-6.1 209,-.2 210,16.1 211,3.8 212,4.4 213,2.9 214,4.9 215,-2.3 216,7.7 217,-3.2 218,-2.5 219,1.3 220,13.5 221,12 222,13.7 223,2.3 224,5.6 225,4.6 226,7.2 227,2.6 228,3.6 229,0 230,3.2 231,-1.6 232,9.1 233,4.2 234,5.7 235,-.8 236,-5.1 237,-1.8 238,5.7 239,-2.1 240,-2.8 241,-.9 242,-2.9 243,5.4 244,3.1 245,-1.3 246,12.5 247,1 248,-1.2 249,5.6 250,-1.8 251,8.9 252,7.5 253,1.3 254,-12.5 255,1.5 256,5.7 257,-5.7 258,-2 259,3.9 260,-.5 261,6.3 262,7.1 263,-9.7 264,.5 265,.7 266,-1.2 267,5.5 268,12.8 269,3.2 270,7.3 271,-3.6 272,.2 273,3.1 274,.2 275,-2.9 276,.3 277,-1.8 278,-2.2 279,1.6 280,2.2 281,-.1 282,-6.2 283,-3.1 284,-2.8 285,-3.3 286,5 287,.4 288,7.6 289,3.6 290,-7.5 291,.7 292,-.3 293,4.8 294,3.1 295,4.3 296,3.3 297,9 298,1.2 299,.3 300,6.8 301,.8 302,-3.2 303,1.7 304,-9.8 305,-.1 306,5.4 307,9.3 308,-1.4 309,.4 310,3.1 311,-4.2 312,2.8 313,3.5 314,6.1 315,6.5 316,2.5 317,-2.6 318,.4 319,4.7 320,1.7 321,-1.5 322,-2.3 323,-2.1 324,7 325,-3.1 326,-3.4 327,-2.5 328,3.4 329,-5.9 330,14.3 331,-1.6 332,-1.7 333,3.8 334,.2 335,-.5 336,7.2 337,-3.3 338,-9 339,3.9 340,3.9 341,3.6 342,1.9 343,-1 344,11.7 345,8.2 346,-3 347,7.7 348,4.1 349,1.7 350,8.6 351,-3.3 352,-14.4 353,-25.6 354,-13.3 355,7.6 356,0 357,5.4 358,10.8 359,2.4 360,-7.1 361,2.3 362,-1.8 363,-3 364,2.3 365,3.6 366,-3.2 367,2 368,-2.2 369,8.3 370,3.7 371,-3.4 372,8.2 373,5.2 374,-3.8 375,5.2 376,2.7 377,-3.6 378,5.1 379,1.4 380,2.6 381,8.5 382,-3 383,.8 384,10.1 385,12.7 386,5.2 387,4.7 388,2.8 389,-4.6 390,1.8 391,4.2 392,12.9 393,-8.3 394,4.2 395,4.8 396,5 397,5.5 398,6.6 399,4.2 400,-4.3 401,5.3 402,4.7 403,-.8 404,0 405,-1.2 406,1.8 407,-.1 408,4.3 409,0 410,.2 411,1 412,1.5 413,1.5 414,.9 415,.3 416,-.8 417,-1.9 418,-3.1 419,-4.3 420,-5.9 421,-7.8 422,-10 423,-12 424,-13.4 425,-13.8 426,-13.5 427,-12.5 428,-10.8 429,-8.5 430,-5.9 431,-3.4 432,-1.6 433,-.6 434,0 435,.4 436,1.1 437,1.8 438,2.3 439,2.4 440,1.9 441,1.3 442,.9 443,.9 444,1.4 445,2.2 446,2.9 447,3.6 448,4.6 449,6.3 450,8.8 451,12 452,15.5 453,18.7 454,21.2 455,22.6 456,22.4 457,20.8 458,18 459,14.8 460,11.6 461,8.9 462,7 463,5.6 464,4.5 465,3.7 466,2.9 467,2.1 468,1.3 469,.6 470,-.4 471,-1.4 472,-2.6 473,-3.7 474,-4.9 475,-5.8 476,-6.3 477,-6.3 478,-5.6 479,-4.4 480,-2.8 481,-1.2 482,.2 483,1 484,1.3 485,1.2 486,1.1 487,.9 488,.8 489,.6 490,.3 491,-.1 492,-.6 493,-.9 494,-1.2 495,-1.4 496,-1.7 497,-2.1 498,-2.2 499,-2 500,-1.6 501,-1.3 502,-1.5 503,-2 504,-2.6 505,-2.8 506,-2.4 507,-1.7 508,-.9 509,-.2 510,.6 511,1.8 512,3.7 513,6.1 514,8.7 515,10.7 516,11.6 517,11 518,9.3 519,7.2 520,5.4 521,4.2 522,3.5 523,3.2 524,3 525,2.9 526,2.7 527,2.5 528,2.5 529,2.6 530,2.7 531,2.8 532,2.9 533,2.8 534,2.5 535,2 536,1.4 537,.9 538,.6 539,.4 540,.4 541,.8 542,1.7 543,3 544,4.3 545,5.3 546,6 547,6.6 548,7.3 549,8.1 550,8.7 551,8.7 552,8 553,6.9 554,5.6 555,4.5 556,3.5 557,2.7 558,2 559,1.3 560,.7 561,.2 562,-.4 563,-.8 564,-.9 565,-.8 566,-.6 567,-.6 568,-.9 569,-1.6 570,-2.5 571,-3.2 572,-3.6 573,-3.7 574,-3.6 575,-3.4 576,-3 577,-2.8 578,-3 579,-4.1 580,-6.3 581,-9.4 582,-12.9 583,-16.2 584,-18.7 585,-20.1 586,-20.1 587,-18.8 588,-16.5 589,-13.4 590,-9.8 591,-6.2 592,-3.1 593,-.8 594,.6 595,1.3 596,1.3 597,.9 598,.3 599,-.1 600,-.3 601,0 602,.5 603,1.1 604,1.9 605,2.9 606,4.3 607,6.1 608,8.3 609,10.9 610,13.6 611,15.7 612,16.7 613,16.2 614,14.3 615,11.2 616,7.3 617,3 618,-1.3 619,-5.1 620,-7.7 621,-8.8 622,-8.4 623,-7 624,-5.1 625,-3.4 626,-2.1 627,-1.1 628,-.4 629,.3 630,1.1 631,2 632,2.8 633,3.3 634,3.6 635,3.8 636,4.3 637,5.2 638,6.5 639,7.9 640,9.1 641,9.7 642,9.4 643,8.5 644,7.1 645,5.9 646,5.2 647,5 648,5 649,4.7 650,4.2 651,3.6 652,3.2 653,3.3 654,3.7 655,4.1 656,4.2 657,3.8 658,3.1 659,2.3 660,1.4 661,.2 662,-1.7 663,-4.5 664,-8.1 665,-12 666,-15.5 667,-17.9 668,-18.7 669,-17.6 670,-15.1 671,-11.8 672,-8.2 673,-5.1 674,-2.5 675,-.7 676,.6 677,1.5 678,1.8 679,1.8 680,1.6 681,1.2 682,.5 683,-1 684,-3.7 685,-8.3 686,-15 687,-23.9 688,-34.4 689,-45.5 690,-55.5 691,-62.6 692,-65.3 693,-62.8 694,-55.6 695,-45.2 696,-33.5 697,-22.5 698,-13.6 699,-7.3 700,-3.4 701,-1.2 702,0 703,.7 704,1 705,1 706,.9 707,.8 708,1.1 709,1.5 710,2 711,2.2 712,2.3 713,2.2 714,2.1 715,2.5 716,3.5 717,5.5 718,8.4 719,12 720,15.6 721,18.7 722,20.5 723,20.6 724,18.8 725,15.4 726,11 727,6.1 728,1.1 729,-4.1 730,-9.8 731,-16 732,-22.2 733,-27.3 734,-30.1 735,-29.9 736,-26.9 737,-22 738,-16.4 739,-11.1 740,-6.6 741,-3.2 742,-.8 743,.7 744,1.3 745,1.5 746,1.7 747,2.3 748,3.1 749,4 750,4.5 751,4.7 752,4.7 753,4.9 754,5.2 755,5.6 756,6 757,6.3 758,6.7 759,7.1 760,7.3 761,7.1 762,6.6 763,6 764,5.6 765,5.5 766,5.8 767,6 768,6 769,5.5 770,4.7 771,3.8 772,3.4 773,3.4 774,3.7 775,3.8 776,3.5 777,2.7 778,1.6 779,.7 780,.2 781,.1 782,0 783,-.2 784,-.9 785,-1.7 786,-2.4 787,-2.9 788,-3.3 789,-3.5 790,-3.8 791,-4.1 792,-4.2 793,-4.1 794,-3.7 795,-3.1 796,-2.4 797,-1.9 798,-2 799,-2.6 800,-3.5 801,-4.5 802,-5.1 803,-5.2 804,-4.5 805,-3.3 806,-2 807,-.9 808,-.2 809,.1 810,0 811,-.3 812,-.7 813,-1.2 814,-1.9 815,-2.5 816,-2.8 817,-2.3 818,-1.2 819,0 820,1 821,1.5 822,1.6 823,1.2 824,.2 825,-1.5 826,-4.3 827,-8.6 828,-14.8 829,-23.4 830,-34.2 831,-46.1 832,-57.2 833,-65.2 834,-68.1 835,-65.2 836,-57.1 837,-45.5 838,-32.8 839,-21 840,-11.7 841,-5.5 842,-2.2 843,-1.1 844,-1.4 845,-2.9 846,-5.8 847,-10.7 848,-17.9 849,-27.1 850,-37 851,-46 852,-52 853,-53.7 854,-51 855,-44.6 856,-36 857,-26.7 858,-18.2 859,-11.2 860,-6.1 861,-2.9 862,-1 863,.1 864,1 865,1.8 866,2.5 867,3.1 868,3.8 869,4.9 870,6.5 871,8.4 872,10.2 873,11.2 874,10.9 875,9.2 876,6.4 877,3.1 878,-.1 879,-2.6 880,-4.5 881,-5.5 882,-5.8 883,-5.3 884,-4.3 885,-2.8 886,-1.4 887,-.2 888,.7 889,1.3 890,1.7 891,1.8 892,1.6 893,1.2 894,.8 895,.9 896,1.5 897,2.6 898,4 899,5.4 900,6.4 901,7.1 902,7.4 903,7.3 904,6.8 905,6.1 906,5.2 907,4.2 908,3.3 909,2.6 910,2 911,1.5 912,1.1 913,.5 914,-.1 915,-.4 916,-.4 917,-.3 918,-.3 919,-.5 920,-.9 921,-1.4 922,-1.9 923,-2.4 924,-2.9 925,-3.5 926,-4 927,-4.5 928,-4.9 929,-5.2 930,-5.5 931,-5.6 932,-5.2 933,-4.4 934,-3.3 935,-2.4 936,-1.9 937,-1.6 938,-1.5 939,-1.2 940,-.6 941,.4 942,1.5 943,2.5 944,3.1 945,3.1 946,2.6 947,1.8 948,1 949,.6 950,.4 951,.6 952,.8 953,1 954,1.1 955,1.2 956,1.3 957,1.3 958,1.3 959,1.3 960,1.3 961,1.5 962,2 963,2.7 964,3.4 965,3.7 966,3.4 967,2 968,.7 969,-.5 970,1.1 971,2.5 972,1.7 973,2 974,-1.9 975,2.9 976,-1.3 977,6.8 978,.6 979,7.5 980,-3.4 981,2.2 982,3.1 983,-2.4 984,3.6 985,4.5 986,6.3 987,4.9 988,-.7 989,-3.6 990,4.6 991,.6 992,9.7 993,10.7 994,.7 995,-11.3 996,2.3 997,4.6 998,5.3 999,-3.7 1000,-3.5 1001,-11 1002,-7.2 1003,5 1004,8.8 1005,2.5 1006,9.2 1007,6.8 1008,6.7 1009,1.6 1010,6.4 1011,4.8 1012,12.4 1013,6.2 1014,1.1 1015,5.7 1016,-2.8 1017,3 1018,7.4 1019,.8 1020,.1 1021,8.7 1022,.1 1023,7.1 1024,-.5 1025,5.2 1026,.9 1027,-5.2 1028,.5 1029,-.1 1030,1.4 1031,-1.4 1032,.9 1033,-4 1034,-3.5 1035,4 1036,-1.7 1037,7.5 1038,4.7 1039,-3.2 1040,2.1 1041,-1.5 1042,1.8 1043,-1 1044,-9.3 1045,10.4 1046,9.5 1047,2.1 1048,5.2 1049,3.8 1050,-4.5 1051,.5 1052,-1.5 1053,6.9 1054,-5.3 1055,1.5 1056,3.2 1057,-4.5 1058,6 1059,-.7 1060,-2 1061,10.2 1062,6.4 1063,-.9 1064,-3.7 1065,-4.1 1066,2.2 1067,-3.2 1068,-1.8 1069,-.1 1070,-1.9 1071,7.3 1072,15.7 1073,-4.7 1074,9.9 1075,3.1 1076,-8.4 1077,5.2 1078,-4.7 1079,13.2 1080,7.5 1081,-3.4 1082,-4.4 1083,8.9 1084,1.6 1085,3.2 1086,6.2 1087,9.5 1088,3.7 1089,5.8 1090,1.8 1091,3.1 1092,-6 1093,3.4 1094,4.7 1095,9.9 1096,7 1097,7.1 1098,-.5 1099,.3 1100,1.8 1101,-1.9 1102,-3.2 1103,4.5 1104,-4.4 1105,-1.3 1106,8.1 1107,-1.9 1108,-2.8 1109,3.9 1110,-7.6 1111,.5 1112,1.2 1113,5.2 1114,2.3 1115,-1.7 1116,4.1 1117,5.8 1118,-.7 1119,-3.1 1120,-4.9 1121,-1 1122,6.3 1123,-.6 1124,6.9 1125,-4.9 1126,2.7 1127,2.4 1128,6 1129,-3 1130,-1.5 1131,-1.9 1132,-4.8 1133,8.8 1134,7.2 1135,9.5 1136,8.6 1137,8.6 1138,-6.3 1139,9.6 1140,-1.9 1141,4.8 1142,-4.8 1143,-9.1 1144,-6.3 1145,-14.9 1146,-4.5 1147,11.7 1148,-4.6 1149,-1.6 1150,-1.3 1151,1.6 1152,-4.3 1153,-2 1154,5.5 1155,4.7 1156,6.9 1157,-1 1158,6.2 1159,-5.4 1160,6.3 1161,9 1162,6.8 1163,3.1 1164,1.1 1165,-.5 1166,13.7 1167,14 1168,5.3 1169,-3.6 1170,-4.9 1171,.7 1172,-6.4 1173,2.1 1174,7.1 1175,5.6 1176,-2.3 1177,-1.7 1178,-1.9 1179,-7.5 1180,5.3 1181,4.2 1182,-5.5 1183,5.3 1184,-1 1185,4 1186,-4.1 1187,3.6 1188,4.6 1189,-7.6 1190,-5.9 1191,6 1192,5.6 1193,2.5 1194,4.8 1195,10.7 1196,4.1 1197,4.1 1198,-7.1 1199,5.3 1200,2.1 1201,-4 1202,.9 1203,.6 1204,.6 1205,-3.9 1206,10.9 1207,9.3 1208,-4.5 1209,-7.2 1210,2.3 1211,-1.6 1212,1.8 1213,6.9 1214,4.6 1215,1.5 1216,13 1217,9 1218,-.3 1219,-4.6 1220,8.4 1221,7.3 1222,1.7 1223,-1.8 1224,2 1225,10.3 1226,-1.5 1227,-4.7 1228,-1.4 1229,4.9 1230,12.4 1231,6.2 1232,3.6 1233,10.2 1234,2.1 1235,-.9 1236,3.9 1237,-1.9 1238,1.1 1239,6.3 1240,3.8 1241,5.6 1242,-.3 1243,4.6 1244,-5.5 1245,1.9 1246,.5 1247,-5 1248,.4 1249,-5.9 1250,1.2 1251,4.7 1252,4.4 1253,4.5 1254,10.5 1255,5.3 1256,2.8 1257,2.8 1258,-1.2 1259,-1.1 1260,-1 1261,3.2 1262,7.9 1263,-5.7 1264,9.2 1265,1.6 1266,-3.6 1267,-3.6 1268,3.3 1269,-5 1270,4.8 1271,-11.6 1272,-1.6 1273,5.3 1274,-10.9 1275,5.8 1276,1.7 1277,10.2 1278,2.2 1279,-4.5 1280,0 1281,.9 1282,4.6 1283,-2.4 1284,.9 1285,5.1 1286,-7.3 1287,-8.7 1288,5.6 1289,-2.2 1290,2.5 1291,-2.3 1292,5.8 1293,4.7 1294,1.4 1295,-4.1 1296,8.1 1297,-5.9 1298,9.8 1299,2.7 1300,5.9 1301,8.3 1302,3.7 1303,2.4 1304,-.6 1305,4.3 1306,.5 1307,0 1308,.8 1309,-.2 1310,6.9 1311,8.9 1312,-.4 1313,1.5 1314,6.2 1315,6.9 1316,12.2 1317,-1.3 1318,2.6 1319,-1.9 1320,-8.9 1321,-.3 1322,2.1 1323,3.2 1324,2.8 1325,-3.7 1326,5.7 1327,-3.5 1328,11.5 1329,-3.3 1330,6.7 1331,-.4 1332,-9.8 1333,4.9 1334,-2.3 1335,3.9 1336,-.6 1337,.9 1338,-3.5 1339,3.1 1340,5.1 1341,-1.1 1342,-4.1 1343,3.2 1344,4.6 1345,.5 1346,7.7 1347,-3.1 1348,4.6 1349,3.6 1350,4.6 1351,-3.9 1352,2.4 1353,1.3 1354,.4 1355,6 1356,.7 1357,-1.4 1358,2.8 1359,-.2 1360,-1.2 1361,-4.5 1362,2.2 1363,3.5 1364,.1 1365,4.6 1366,4 1367,3.5 1368,5.9 1369,-6 1370,4.3 1371,-.3 1372,10.8 1373,-1.8 1374,2.9 1375,6.7 1376,-4.4 1377,6.2 1378,.5 1379,3.7 1380,2.7 1381,.7 1382,-3.1 1383,2.5 1384,-5.6 1385,9.9 1386,4.8 1387,3.8 1388,7.2 1389,8 1390,6.9 1391,8 1392,1.2 1393,9.2 1394,-1.3 1395,4.5 1396,5 1397,7.2 1398,4.6 1399,8.4 1400,7.1 1401,.1 1402,-7.7 1403,9.1 1404,-3.1 1405,7.4 1406,3.5 1407,6.5 1408,-1 1409,.1 1410,-1.6 1411,-3.2 1412,5.5 1413,4.8 1414,4.2 1415,-6.3 1416,2.2 1417,3.4 1418,-1 1419,-11.9 1420,-7.3 1421,7.6 1422,.1 1423,5.6 1424,-4.7 1425,4 1426,-2.9 1427,1.2 1428,4.1 1429,2.1 1430,6.9 1431,.9 1432,.5 1433,4.3 1434,5.1 1435,11.8 1436,-.5 1437,2.2 1438,-6.3 1439,2.8 1440,8.3 1441,5.1 1442,.6 1443,8.7 1444,4.9 1445,8.1 1446,6.4 1447,3.7 1448,.6 1449,2.2 1450,1 1451,1.4 1452,.8 1453,-2.9 1454,1.4 1455,5.4 1456,1.3 1457,-7.9 1458,9.1 1459,5.9 1460,2.5 1461,9 1462,-1.1 1463,-.7 1464,6.1 1465,-5.5 1466,6.6 1467,3.1 1468,1.4 1469,7.9 1470,5.2 1471,.4 1472,2.5 1473,3.4 1474,1.4 1475,.6 1476,-3.2 1477,4.5 1478,1.5 1479,-.6 1480,-3.3 1481,-1.5 1482,.9 1483,-10 1484,-1.7 1485,2.5 1486,4.5 1487,-2.9 1488,5.8 1489,8.3 1490,4.1 1491,3.1 1492,1.6 1493,-1.4 1494,-5.5 1495,3.4 1496,8.2 1497,.5 1498,-.6 1499,-5.7 1500,4.3 1501,4.4 1502,-.2 1503,-.3 1504,4.8 1505,3.5 1506,6 1507,3.8 1508,2.9 1509,-1.2 1510,-.5 1511,2.1 1512,-.2 1513,9.5 1514,2.9 1515,.9 1516,.7 1517,-1.7 1518,4.8 1519,-.9 1520,.6 1521,-3.3 1522,4.4 1523,-5 1524,1.3 1525,-4.4 1526,1.5 1527,3.9 1528,4.7 1529,-.4 1530,-4 1531,1.9 1532,1.7 1533,2.1 1534,1.6 1535,4.5 1536,.9 1537,-1.6 1538,9.2 1539,.5 1540,1.8 1541,4.4 1542,-.2 1543,.6 1544,3.4 1545,5.4 1546,-2.9 1547,.9 1548,5.5 1549,2.1 1550,-2 1551,-4 1552,-4.9 1553,7.1 1554,-1.2 1555,4.6 1556,.3 1557,-.3 1558,-2.9 1559,4.5 1560,-8.3 1561,1.7 1562,1.7 1563,7.4 1564,-4.1 1565,3.3 1566,1.9 1567,3.1 1568,-1.3 1569,5.6 1570,4 1571,-.2 1572,1.1 1573,3.8 1574,4 1575,-3 1576,-4.7 1577,-.7 1578,-.5 1579,1.5 1580,5.2 1581,1.1 1582,-4.7 1583,-2.9 1584,1.7 1585,-2.5 1586,-.2 1587,-.5 1588,1.9 1589,1.6 1590,7.8 1591,4.6 1592,-.4 1593,-.8 1594,7.9 1595,8.7 1596,-4.3 1597,.7 1598,.8 1599,-6.2 1600,10.6 1601,2.7 1602,-4.2 1603,4.5 1604,5.9" stroke="#377EB8" stroke-width="4.3"/>
<polyline transform="translate(768.40 1488) scale(0.2866 1)" vector-effect="non-scaling-stroke" points="1,3.3 2,3.3 3,3.3 4,3.3 5,3.3 6,3.3 7,3.3 8,3.3 9,3.3 10,3.3 11,3.3 12,3.3 13,3.3 14,3.3 15,3.3 16,3.3 17,3.3 18,3.3 19,3.3 20,3.3 21,3.3 22,3.3 23,3.3 24,3.3 25,3.3 26,3.3 27,3.2 28,3.3 29,3.4 30,3.2 31,3.2 32,3.1 33,3.2 34,3.3 35,3.8 36,3.2 37,3.1 38,3 39,3.4 40,1.9 41,2.4 42,3.2 43,2.9 44,1.4 45,3.1 46,3.1 47,2.7 48,4.6 49,3.8 50,2.8 51,2 52,3.8 53,5.1 54,4.6 55,-.4 56,-3.6 57,4.6 58,-1.3 59,4.9 60,-.1 61,5.6 62,.3 63,8 64,2.4 65,6.4 66,4.1 67,7.1 68,2.6 69,3.8 70,10.2 71,.3 72,-3 73,5.5 74,-1 75,-.4 76,.2 77,1.2 78,-5.6 79,-9.8 80,10.3 81,1.2 82,3.9 83,-8.1 84,-7.5 85,.7 86,.8 87,16.7 88,19.9 89,-5.4 90,.1 91,6.9 92,.9 93,-1.6 94,2.1 95,.2 96,-8.9 97,-5.1 98,.3 99,-13.9 100,1.7 101,-2.3 102,-10.3 103,-5.1 104,-4.8 105,2.5 106,6.9 107,5.1 108,6.3 109,7.2 110,9.7 111,-19 112,-.9 113,3.9 114,-1.9 115,-4.4 116,8.2 117,14.8 118,-1.9 119,4.3 120,9.7 121,7 122,-.3 123,8 124,8.1 125,9.3 126,2.1 127,-.5 128,-3.4 129,20.4 130,9.6 131,.5 132,-1.4 133,1.5 134,20.8 135,9.4 136,-.6 137,-.6 138,-.3 139,-3.5 140,4 141,10.5 142,3.5 143,-2.6 144,1.9 145,-4.6 146,6.8 147,7.2 148,10.3 149,-1.8 150,5.1 151,8.4 152,-.5 153,-2.7 154,9.7 155,7.1 156,6.5 157,10.9 158,.1 159,1.6 160,13.2 161,-2.8 162,18.3 163,-5 164,-3.6 165,7.1 166,11.4 167,.6 168,-5.5 169,-.9 170,-1.4 171,7.4 172,5.7 173,-4 174,-5.3 175,-5 176,-10.6 177,-11.4 178,-19.6 179,-4.5 180,-7.1 181,10.6 182,-6.9 183,-.7 184,-15.7 185,9.1 186,5.4 187,-6.7 188,-2.4 189,1.8 190,-10.8 191,-8.5 192,-2.8 193,14.6 194,-9.1 195,13.9 196,10.8 197,5 198,7 199,-2.2 200,.2 201,-4.9 202,-1.1 203,10.4 204,4.7 205,1.2 206,-10.1 207,-5.8 208,10.5 209,-3.7 210,8.4 211,13.9 212,.1 213,-7.2 214,6.9 215,5.3 216,10.2 217,9.3 218,16.6 219,.5 220,-6 221,5.6 222,.2 223,3.6 224,-16.7 225,-.5 226,-4.7 227,-.3 228,6.5 229,-9.5 230,2.6 231,-6.6 232,-4.4 233,11.6 234,-8.2 235,5.2 236,-6.6 237,3.6 238,-10.6 239,6.9 240,9 241,.4 242,-6.1 243,2.5 244,7.3 245,10.5 246,13.7 247,11.4 248,-7.1 249,14.9 250,7.5 251,-7.5 252,9.7 253,-6.9 254,9.5 255,-8.3 256,4.5 257,-6.2 258,20.8 259,-5.4 260,-6 261,-4.2 262,-.4 263,.7 264,1 265,-1 266,-5.6 267,.7 268,5.7 269,-10.1 270,-3 271,-7.6 272,-5.4 273,6.7 274,9 275,3.2 276,-.2 277,-9.2 278,5.3 279,-13.6 280,-6 281,-20.5 282,-9 283,.9 284,1.1 285,6.2 286,-5.8 287,-8.6 288,1.8 289,-.7 290,-2.6 291,8.9 292,-5.3 293,4.9 294,-1.1 295,13.6 296,13.5 297,10.4 298,-9.3 299,-10.9 300,-6 301,-6.1 302,13.3 303,5.2 304,10.4 305,-2.5 306,4.3 307,-6.3 308,13.3 309,7.4 310,-6.5 311,13.3 312,-3.3 313,15 314,2.5 315,-.2 316,11.9 317,1.3 318,14.7 319,-.8 320,3.3 321,2.8 322,-11.6 323,15.1 324,-1.7 325,3.8 326,-8.6 327,-7.8 328,17.7 329,-4.3 330,-.8 331,4.7 332,8.2 333,10.9 334,-6.4 335,-12.7 336,14 337,4.2 338,4.5 339,6.8 340,-.5 341,-12.5 342,8.8 343,5.9 344,.2 345,6.7 346,20.3 347,4 348,-2 349,8.4 350,2.5 351,-4.4 352,4.7 353,-5.4 354,-5 355,21 356,14.2 357,-5.3 358,-.1 359,-17.3 360,1.4 361,-14 362,14.6 363,10.1 364,3 365,1.3 366,2.3 367,1.8 368,-2.2 369,9.3 370,3.8 371,-2.5 372,-6.8 373,-6.2 374,-13.3 375,-6.1 376,9.4 377,-3.1 378,1.8 379,-11.5 380,12.5 381,2.7 382,8 383,1.7 384,7.6 385,4.2 386,6.7 387,-.5 388,9.3 389,-12.7 390,-6 391,-7.3 392,13.7 393,-5.6 394,-8.1 395,.3 396,12.4 397,8.6 398,-6.1 399,-.1 400,5.1 401,7.5 402,2.3 403,3.7 404,-4.7 405,-3.4 406,4.2 407,.8 408,-2.5 409,1.2 410,-7.5 411,8.7 412,-6.1 413,9.2 414,-7.8 415,-6.9 416,9.9 417,-.8 418,-10.1 419,-3.6 420,5.7 421,2.9 422,.3 423,2.8 424,.2 425,-1.8 426,6.4 427,3.7 428,3.1 429,8.6 430,-1.4 431,2.4 432,5.2 433,3.5 434,5.6 435,7.5 436,2.3 437,3.6 438,5.8 439,-2.1 440,3.8 441,5.2 442,-2.6 443,.4 444,-7.3 445,9.5 446,.3 447,3.7 448,-.1 449,2.2 450,5.1 451,10 452,5.7 453,-6.4 454,1.9 455,2.6 456,6.3 457,3.3 458,-.9 459,6.5 460,-5.5 461,5.3 462,-6.4 463,9.5 464,-3.8 465,-1.4 466,7.6 467,4.3 468,-6.2 469,7.1 470,1.1 471,11.8 472,14.3 473,12.7 474,20 475,11.8 476,8.3 477,1.4 478,-1.4 479,1.5 480,2.5 481,-3.2 482,1 483,-1.9 484,2.5 485,6.2 486,4.5 487,-12.8 488,2 489,8.9 490,3.8 491,5.2 492,.3 493,.6 494,-.4 495,3.9 496,-4.8 497,1 498,7.8 499,4.6 500,-6.6 501,7.7 502,-6.1 503,13.3 504,-2.6 505,-7.1 506,7.8 507,3.4 508,2.2 509,4 510,4.5 511,-.9 512,1.1 513,4.5 514,2.4 515,2.3 516,3.5 517,-6.9 518,-4.7 519,-1.7 520,-1.9 521,-1.9 522,-2.7 523,1 524,.5 525,4.1 526,0 527,-3 528,-.5 529,2.9 530,2.3 531,3.4 532,4.8 533,.3 534,8 535,.4 536,2 537,-6.3 538,-10.3 539,7.1 540,7.3 541,-.1 542,8.5 543,-6 544,-10.1 545,9.3 546,-1.7 547,5.7 548,-.9 549,1.6 550,-3 551,12.7 552,3.7 553,2.7 554,-5.6 555,-.4 556,1.8 557,2 558,4.3 559,4.6 560,-9.3 561,2.9 562,7.7 563,-1.3 564,8.7 565,1.3 566,4.5 567,-.1 568,3.2 569,-3.8 570,2.1 571,7.4 572,15 573,8.5 574,-6 575,2.5 576,17 577,10.5 578,23.3 579,20.4 580,12.7 581,8.7 582,4.3 583,2 584,6.9 585,7 586,4.2 587,7 588,-4.3 589,-5.1 590,-9.6 591,7.2 592,6 593,6.5 594,.9 595,.6 596,5 597,-1.8 598,2.5 599,5.2 600,-2.4 601,-.1 602,3.6 603,4 604,5.7 605,-.3 606,3.8 607,-.8 608,.7 609,-6.8 610,-3.9 611,1.5 612,.9 613,-1.1 614,5.2 615,-12.7 616,3.9 617,3.6 618,2.8 619,3.6 620,1.5 621,9.5 622,1.4 623,5.8 624,8.2 625,-.4 626,-2.9 627,5.8 628,-5.1 629,6.9 630,1.7 631,5.4 632,-4.4 633,6 634,5.7 635,6.8 636,4.2 637,2.3 638,11.2 639,5.3 640,3.9 641,5.6 642,8.5 643,-2.7 644,4.3 645,9.2 646,-7.3 647,.3 648,-2.7 649,4.2 650,-8.5 651,1.9 652,-.1 653,6.6 654,5.7 655,4.1 656,5.7 657,-1.6 658,2.1 659,-2 660,-9.1 661,6.4 662,7.8 663,-6.4 664,.2 665,-15.5 666,-7.6 667,-19.1 668,-21.2 669,-28 670,-20.4 671,-3.5 672,5 673,.1 674,1.8 675,-3.2 676,6.9 677,.9 678,3.1 679,7 680,-.5 681,3.8 682,-4.4 683,-.7 684,-.4 685,.8 686,-17.5 687,-22.9 688,-43 689,-50.1 690,-58.1 691,-67.2 692,-53.5 693,-43.8 694,-35.5 695,-16.8 696,-13.2 697,1.7 698,-4.6 699,.9 700,8.4 701,19 702,-.9 703,4.9 704,-.2 705,9.4 706,-5.4 707,1.5 708,7 709,-4.1 710,2.5 711,-6.3 712,.1 713,3.3 714,.2 715,2.5 716,-.9 717,5.3 718,-7.1 719,3.8 720,8.1 721,1.1 722,-1.1 723,1.2 724,4.9 725,5.1 726,-6.8 727,1.1 728,-12.5 729,-23.4 730,-27.5 731,-27.9 732,-27 733,-30 734,-7.8 735,-15.2 736,2.3 737,1.1 738,2.2 739,-2.3 740,-2.1 741,.2 742,-.9 743,10.2 744,2.8 745,2.9 746,-2.7 747,6.7 748,-5.2 749,8 750,.5 751,2.9 752,.7 753,4.3 754,8.6 755,-1.5 756,-3.4 757,-4.6 758,-2.9 759,-2.5 760,7.9 761,10.9 762,6.9 763,-1.6 764,-8.7 765,1.6 766,-.3 767,-4.9 768,-1.6 769,-7.6 770,-1.1 771,1.5 772,6.1 773,-5.1 774,0 775,6.4 776,7.7 777,2.6 778,-2.1 779,9.4 780,.5 781,.9 782,1.3 783,5.8 784,-4.8 785,2.4 786,2.8 787,6.9 788,9.2 789,-1.2 790,8.6 791,1.4 792,5.1 793,.4 794,-2.7 795,2.4 796,5.7 797,.8 798,-1.5 799,-4.3 800,0 801,.6 802,-7.2 803,-3.7 804,-6.3 805,-22.9 806,-23.7 807,-23.1 808,-25.2 809,-26.5 810,-26 811,-16.1 812,-17.1 813,-10.5 814,2.3 815,.6 816,3.2 817,.7 818,7 819,.2 820,-6.4 821,-2.1 822,7.2 823,-1.8 824,2.5 825,4.7 826,2.3 827,3 828,-12.2 829,-17.6 830,-22.6 831,-32.8 832,-52.9 833,-66.9 834,-69.8 835,-59 836,-49.1 837,-36.4 838,-24.5 839,-7.1 840,6.1 841,-6.2 842,-5 843,3.3 844,-5.9 845,2.6 846,-12 847,-13.2 848,-24.1 849,-34.4 850,-37.1 851,-28.7 852,-31.5 853,-37.3 854,-31.2 855,-20 856,-16.1 857,-6 858,.9 859,-11.9 860,-2.3 861,1.1 862,2 863,-5.3 864,-3.8 865,-6.4 866,-12.4 867,-18.9 868,-25 869,-9.7 870,-15.5 871,-9.9 872,-13.8 873,-4.2 874,-7.5 875,3 876,-.4 877,-7.7 878,-.7 879,-.7 880,-1 881,3 882,11.8 883,-2 884,-13.3 885,-18.4 886,-34.9 887,-26.3 888,-34.2 889,-40.3 890,-45.3 891,-40 892,-20.8 893,-12.4 894,-5.2 895,-15.4 896,.5 897,6.9 898,12.1 899,-8.3 900,-5.1 901,-1.4 902,-9.7 903,-14.5 904,-11.1 905,-25.1 906,-23 907,-7.1 908,-6.8 909,-6.2 910,-1.6 911,-4.3 912,6.4 913,-3 914,6.8 915,14.2 916,-3.4 917,6.6 918,.7 919,9.9 920,1.8 921,-3.8 922,-3.5 923,.1 924,12.5 925,1 926,4.2 927,-1.4 928,7.8 929,3.9 930,1.3 931,-1.2 932,-1.4 933,-7 934,0 935,-2.9 936,4.6 937,2.8 938,3.9 939,1.9 940,-3.9 941,-3.4 942,1.5 943,-1.2 944,-1 945,-.3 946,1.3 947,2.6 948,6 949,-2.8 950,3.9 951,5.1 952,2 953,1.5 954,-3.2 955,12 956,3.5 957,14.8 958,3.5 959,-2.7 960,-.3 961,1.9 962,-10.1 963,3.1 964,2.9 965,-2.8 966,.6 967,6 968,2.3 969,6.3 970,7 971,-3.5 972,-8.2 973,-2.4 974,3.3 975,5.4 976,-11.2 977,-4.8 978,3.9 979,1.2 980,1.4 981,4.8 982,-2.2 983,3 984,-1.3 985,2 986,-.4 987,-3.4 988,-4.3 989,1.2 990,9.1 991,1.6 992,9.2 993,2.2 994,-5.2 995,6.2 996,11.6 997,5.2 998,3.1 999,-.5 1000,-1.8 1001,8.6 1002,2.5 1003,4.2 1004,3.4 1005,1.3 1006,6.8 1007,-3.8 1008,-2.1 1009,-8.2 1010,-.1 1011,3 1012,1.3 1013,6.5 1014,7.5 1015,2.1 1016,3.7 1017,3 1018,-9 1019,7 1020,-3.9 1021,-6.3 1022,9.2 1023,1.9 1024,.6 1025,5.8 1026,-1.4 1027,3.1 1028,2.2 1029,-8.3 1030,4.1 1031,2.7 1032,.3 1033,-12.5 1034,-1.2 1035,.3 1036,-.5 1037,2.3 1038,-5.3 1039,5.6 1040,6.5 1041,9 1042,3.3 1043,1.8 1044,-.4 1045,-2.2 1046,1.5 1047,-6.3 1048,-8.2 1049,-4.9 1050,4.1 1051,8 1052,-5.4 1053,2.3 1054,-4.6 1055,-1 1056,-2.4 1057,4.4 1058,-2.5 1059,-1.7 1060,-2.1 1061,-6.5 1062,-9.1 1063,-.1 1064,5.3 1065,1.3 1066,-3.5 1067,2.9 1068,5.5 1069,-1.6 1070,-2.1 1071,7.1 1072,4 1073,-12.1 1074,-1.1 1075,-.2 1076,1.5 1077,.4 1078,1.3 1079,-.6 1080,4.5 1081,4.7 1082,2.4 1083,3.7 1084,7 1085,-3 1086,-.4 1087,1.1 1088,5.6 1089,1.3 1090,-1.2 1091,.7 1092,-.4 1093,4.2 1094,2.5 1095,-10 1096,-4.1 1097,8.2 1098,8.3 1099,4.5 1100,4.4 1101,-1.7 1102,2.7 1103,-4.9 1104,-4.5 1105,6.2 1106,3.3 1107,4.6 1108,.9 1109,8.2 1110,1.2 1111,4.4 1112,4.2 1113,-1.2 1114,3.7 1115,6.9 1116,3.1 1117,1.9 1118,-2.7 1119,1 1120,-8.3 1121,2.2 1122,6.2 1123,-1.9 1124,3 1125,.2 1126,1.6 1127,7.2 1128,2.2 1129,-7.2 1130,4.3 1131,4.6 1132,-8.4 1133,-1 1134,-1.9 1135,-8.4 1136,6.7 1137,-2.2 1138,2.2 1139,8.1 1140,5.8 1141,1.5 1142,4 1143,10.3 1144,-.6 1145,5.4 1146,-3.5 1147,3.4 1148,3.7 1149,8.3 1150,3 1151,7.1 1152,-.6 1153,0 1154,-3.4 1155,6 1156,-1.2 1157,-1 1158,3.2 1159,3.2 1160,-1.7 1161,3.7 1162,2.8 1163,6.4 1164,3.7 1165,4 1166,5.2 1167,6.8 1168,8.5 1169,2.2 1170,.5 1171,2.9 1172,2.8 1173,-2 1174,-4.3 1175,.7 1176,1.1 1177,6.6 1178,6.5 1179,-2.4 1180,9.4 1181,8.3 1182,-5.5 1183,6.4 1184,-1.5 1185,6.7 1186,1.9 1187,-7.8 1188,1.4 1189,-6.7 1190,5.3 1191,3.7 1192,3.5 1193,7.6 1194,2.1 1195,1.2 1196,-1.5 1197,-3.5 1198,3.1 1199,-4.9 1200,.3 1201,-2.4 1202,10.5 1203,-2.4 1204,4.4 1205,2.8 1206,2.4 1207,4.1 1208,-4.5 1209,-2.2 1210,1.7 1211,.9 1212,-2 1213,5.4 1214,1 1215,2.3 1216,4.5 1217,-5.2 1218,-3.2 1219,.4 1220,.8 1221,1 1222,1.8 1223,-3.2 1224,-4.5 1225,2.2 1226,-3.6 1227,3 1228,0 1229,-4.2 1230,-6.8 1231,-3.5 1232,7.3 1233,0 1234,1.6 1235,-.7 1236,.9 1237,11.3 1238,-2.5 1239,3.5 1240,8 1241,-.5 1242,2.5 1243,-1 1244,.4 1245,5.5 1246,7.1 1247,10.3 1248,4.1 1249,3.2 1250,1.3 1251,.6 1252,1.9 1253,1.2 1254,4.1 1255,7.5 1256,3.5 1257,11.2 1258,-7.9 1259,-2.9 1260,9.1 1261,6.4 1262,-1.5 1263,4 1264,3.7 1265,1.4 1266,4.2 1267,6.5 1268,.5 1269,5.3 1270,-3.5 1271,-1 1272,3.5 1273,6.2 1274,3.7 1275,1.5 1276,2.8 1277,-2.3 1278,8.6 1279,4.1 1280,4 1281,-.8 1282,4.3 1283,5.7 1284,9.8 1285,2.8 1286,.7 1287,-10.3 1288,2.2 1289,-.2 1290,13.1 1291,1.2 1292,.3 1293,1.4 1294,6.3 1295,6.1 1296,4.1 1297,3.1 1298,.5 1299,-3.6 1300,-2.7 1301,-6.3 1302,.1 1303,10.8 1304,2.9 1305,.7 1306,-11 1307,-2.3 1308,-3.9 1309,3.9 1310,7.3 1311,-7.1 1312,4.4 1313,-7.3 1314,-3.3 1315,-3 1316,4 1317,.9 1318,3.7 1319,.3 1320,1.8 1321,-2.8 1322,1.6 1323,.9 1324,-1.7 1325,9.6 1326,-5.2 1327,1 1328,11.2 1329,.3 1330,-8 1331,13.8 1332,1.5 1333,11.8 1334,6.5 1335,-8.3 1336,-.5 1337,7.3 1338,4.5 1339,-3.9 1340,10 1341,-1.4 1342,3.1 1343,-3.1 1344,2.7 1345,12.8 1346,.1 1347,1.4 1348,-1.3 1349,-.6 1350,5.3 1351,1.8 1352,3.1 1353,-3.1 1354,1.6 1355,2.4 1356,3.1 1357,6.1 1358,3.5 1359,3.1 1360,2 1361,6.7 1362,1.3 1363,3.1 1364,7.1 1365,0 1366,6.6 1367,-6.3 1368,1 1369,-3 1370,-5.7 1371,-2.7 1372,-1.6 1373,.9 1374,5.1 1375,-1.9 1376,-1.8 1377,1.8 1378,1.5 1379,5.6 1380,.4 1381,-6 1382,4.3 1383,-1 1384,4.9 1385,-.4 1386,.9 1387,1.4 1388,7.7 1389,-2.1 1390,1.3 1391,0 1392,3.8 1393,.1 1394,9.8 1395,2.9 1396,6.4 1397,-4.4 1398,-4.9 1399,.7 1400,.5 1401,5.7 1402,9.1 1403,-.1 1404,3.3 1405,-1.5 1406,4.9 1407,1.7 1408,-8.9 1409,-2.6 1410,2.7 1411,1.7 1412,1.1 1413,-2.6 1414,8.8 1415,1.9 1416,6.4 1417,-.4 1418,8.8 1419,3.3 1420,-1.1 1421,3.5 1422,-2.3 1423,3.7 1424,7.5 1425,-3.6 1426,-1.9 1427,-1 1428,1.1 1429,6.4 1430,2.1 1431,8.3 1432,1.5 1433,-2.6 1434,3.5 1435,2.7 1436,-2.3 1437,-1.9 1438,-1.6 1439,8.5 1440,6.7 1441,13.4 1442,2.7 1443,10.3 1444,4.8 1445,1.4 1446,.2 1447,-2.8 1448,5.5 1449,7.1 1450,5.8 1451,4.1 1452,1.2 1453,4.7 1454,-.4 1455,7 1456,1.3 1457,-.4 1458,6.8 1459,6.4 1460,-2.4 1461,0 1462,3 1463,3.5 1464,3.1 1465,6.8 1466,12 1467,-4.1 1468,3 1469,1.9 1470,.2 1471,2.4 1472,3.6 1473,1.3 1474,-7.8 1475,-1.1 1476,8.4 1477,8.2 1478,-2.7 1479,-5.4 1480,-.6 1481,0 1482,1.8 1483,6.9 1484,3 1485,-2.2 1486,4.9 1487,4.3 1488,5.1 1489,-4.4 1490,2.3 1491,-4.2 1492,-1.6 1493,-2.8 1494,7.3 1495,2.4 1496,-.5 1497,4 1498,-1.4 1499,-1.2 1500,-.3 1501,3.4 1502,1.2 1503,2.2 1504,3.6 1505,-2.7 1506,.6 1507,3 1508,6.5 1509,-2.3 1510,4.2 1511,1.9 1512,-2.6 1513,5 1514,5.7 1515,7.1 1516,3 1517,.1 1518,-3 1519,-3.5 1520,.7 1521,2.8 1522,-2.2 1523,6.3 1524,-4.4 1525,4.3 1526,-1 1527,0 1528,4.7 1529,8.1 1530,-6.7 1531,-4.6 1532,-.7 1533,-1.3 1534,7.4 1535,2.3 1536,-4.5 1537,7 1538,.2 1539,2.2 1540,4.6 1541,-1.2 1542,3.7 1543,5.7 1544,9.6 1545,2.2 1546,1.1 1547,2.9 1548,-.9 1549,2.3 1550,.8 1551,3.3 1552,2.5 1553,-5 1554,-.4 1555,5.9 1556,4.1 1557,1.6 1558,3.2 1559,2.8 1560,-1.5 1561,2.9 1562,-3.8 1563,4.5 1564,-2 1565,-3.3 1566,5.7 1567,10.5 1568,-1.6 1569,5.3 1570,10.1 1571,-1.1 1572,9 1573,.8 1574,-2.2 1575,-.8 1576,4 1577,7 1578,2.7 1579,1.8 1580,-6.4 1581,3.2 1582,.1 1583,1.5 1584,8.3 1585,3.9 1586,4.9 1587,2.4 1588,4.4 1589,2.3 1590,3 1591,-4.8 1592,-5.6 1593,3.3 1594,9.4 1595,-3.7 1596,1.7 1597,.5 1598,1.7 1599,-5.2 1600,2.5 1601,2.4 1602,3.8 1603,3.8 1604,7.7" stroke="#E41A1C" stroke-width="4.3"/>
</g>
<path d="M745.8 1056.0V1562.0H1251.8" fill="none" stroke="#000" stroke-width="4.2" stroke-linecap="butt" stroke-linejoin="miter"/>
<line x1="768.4" y1="1563.9" x2="768.4" y2="1575.3" stroke="#000" stroke-width="4.2"/>
<text x="768.4" y="1609.0" font-size="30.8" text-anchor="middle">0</text>
<line x1="911.7" y1="1563.9" x2="911.7" y2="1575.3" stroke="#000" stroke-width="4.2"/>
<text x="911.7" y="1609.0" font-size="30.8" text-anchor="middle">500</text>
<line x1="1055.0" y1="1563.9" x2="1055.0" y2="1575.3" stroke="#000" stroke-width="4.2"/>
<text x="1055.0" y="1609.0" font-size="30.8" text-anchor="middle">1000</text>
<line x1="1198.3" y1="1563.9" x2="1198.3" y2="1575.3" stroke="#000" stroke-width="4.2"/>
<text x="1198.3" y="1609.0" font-size="30.8" text-anchor="middle">1500</text>
<text x="997.6" y="1670.3" font-size="38.5" text-anchor="middle">Frequency</text>
<text x="705.3" y="1310.0" font-size="38.5" text-anchor="middle" transform="rotate(-90 705.3 1310.0)">Intensity</text>
<g stroke="#BEBEBE" stroke-width="5.3">
<line x1="1390.9" y1="1163.0" x2="1893.4" y2="1163.0"/>
<line x1="1390.9" y1="1245.1" x2="1893.4" y2="1245.1"/>
<line x1="1390.9" y1="1327.2" x2="1893.4" y2="1327.2"/>
<line x1="1390.9" y1="1409.3" x2="1893.4" y2="1409.3"/>
<line x1="1390.9" y1="1491.3" x2="1893.4" y2="1491.3"/>
<line x1="1411.4" y1="1057.6" x2="1411.4" y2="1561"/>
<line x1="1554.7" y1="1057.6" x2="1554.7" y2="1561"/>
<line x1="1698.0" y1="1057.6" x2="1698.0" y2="1561"/>
<line x1="1841.3" y1="1057.6" x2="1841.3" y2="1561"/>
</g>
<g fill="none" stroke-linejoin="round" stroke-linecap="butt">
<polyline transform="translate(1411.40 1162) scale(0.2866 1)" vector-effect="non-scaling-stroke" points="1,6 2,6 3,6 4,6 5,6 6,6 7,6 8,6 9,6 10,6 11,6 12,6 13,6 14,6 15,6 16,6 17,6 18,6 19,6 20,6 21,6 22,6 23,6.2 24,5.9 25,5.9 26,6 27,5.8 28,6.1 29,6.1 30,6.4 31,5.3 32,5.4 33,7.5 34,5.8 35,4.7 36,5.7 37,7 38,3.6 39,5.7 40,6.8 41,7.5 42,4 43,7.8 44,7.5 45,6.5 46,4.7 47,4.9 48,3.8 49,4.6 50,5.3 51,6.3 52,7.5 53,10.9 54,1.9 55,4.2 56,5.3 57,7.3 58,6 59,6.1 60,12.5 61,.8 62,10 63,2.8 64,-1.5 65,-3.5 66,9.6 67,-1 68,10.9 69,3.6 70,3.8 71,-9.8 72,17.1 73,1.3 74,2.1 75,.3 76,-.5 77,9.3 78,-3.2 79,6.1 80,13 81,2.8 82,10.3 83,17.1 84,-7 85,-1.2 86,12.4 87,1.1 88,9.4 89,-4.5 90,10.5 91,6.5 92,-8.1 93,1.8 94,3.8 95,0 96,4.4 97,17.2 98,-10.3 99,.9 100,4.3 101,-1.6 102,9.4 103,15.8 104,17.2 105,9.2 106,8.8 107,-9.9 108,2.2 109,18.7 110,-11.4 111,11.4 112,5.3 113,5.1 114,-6.3 115,1.5 116,4.9 117,15 118,8.3 119,9.5 120,-.9 121,4.2 122,8.1 123,6.7 124,7.1 125,13.9 126,13.3 127,14.6 128,-8.2 129,2.3 130,6.2 131,19.5 132,-1.4 133,6.6 134,-1.5 135,8.8 136,0 137,-6.7 138,17.5 139,-3.8 140,6.1 141,3.9 142,3.8 143,4.7 144,7 145,24.2 146,8.1 147,-5.7 148,10.7 149,8.3 150,-7.7 151,7.3 152,13.1 153,-1.8 154,11.3 155,18.6 156,-1.7 157,15.6 158,1.5 159,8.5 160,13.1 161,.5 162,4.6 163,20.1 164,19 165,-.1 166,23.7 167,1.4 168,8.7 169,10.7 170,14.5 171,6.7 172,28.3 173,10.1 174,-4.1 175,19.2 176,9.1 177,14.1 178,5.9 179,15.1 180,13.5 181,5.6 182,15.3 183,12.2 184,10.5 185,23.9 186,11.6 187,11 188,23.3 189,10.1 190,4.6 191,7.8 192,19.6 193,22.5 194,2.7 195,12.6 196,6.1 197,14.9 198,14 199,7.3 200,8.9 201,18.7 202,14.2 203,7.9 204,2.2 205,17.4 206,23.9 207,15.4 208,15.7 209,17.1 210,19.2 211,16.7 212,20.2 213,10.1 214,26.5 215,18.3 216,11.7 217,16.2 218,21.8 219,1 220,-5.1 221,19.1 222,20.2 223,20 224,4.8 225,19.5 226,7.7 227,9.6 228,16.4 229,10.9 230,18.2 231,6.7 232,25.8 233,16.9 234,16.2 235,13.4 236,18.4 237,18.8 238,22 239,25 240,29.7 241,26.4 242,29.1 243,27.7 244,13.9 245,29.5 246,32.7 247,41.2 248,18.8 249,18.9 250,25 251,19.9 252,23.4 253,16 254,19.3 255,20.3 256,19.1 257,29.7 258,14.4 259,17.2 260,21 261,38.7 262,19.4 263,28.9 264,16.3 265,14.6 266,17.2 267,21.5 268,29.9 269,25.6 270,20.4 271,30.4 272,36.5 273,28.1 274,19.9 275,25.5 276,15.8 277,15.2 278,17 279,36.8 280,25.7 281,22.8 282,18.2 283,16.9 284,19.7 285,26.2 286,21.7 287,14.6 288,13.6 289,29.3 290,29.7 291,33.3 292,28.4 293,20.2 294,13.6 295,19.5 296,19.6 297,19.6 298,23.7 299,19 300,37.6 301,8.2 302,27.1 303,34.4 304,15.8 305,23.2 306,31.3 307,23.7 308,26.6 309,19.1 310,19 311,25.1 312,14.4 313,21.3 314,26.4 315,29.1 316,24.1 317,20.4 318,23.4 319,34.7 320,25.8 321,38.7 322,19.3 323,10.5 324,20.6 325,28.3 326,18 327,5.9 328,20.5 329,23.4 330,5.4 331,7.3 332,18.6 333,22.8 334,13.9 335,14 336,14.1 337,2.1 338,8.4 339,6.9 340,18.2 341,19.9 342,3 343,-.2 344,6.7 345,6.4 346,-2.4 347,16.9 348,-.3 349,-.2 350,8.5 351,1.2 352,5.1 353,2.6 354,-3 355,21 356,7 357,-.1 358,-5.3 359,6.3 360,-4.3 361,8.7 362,-6.3 363,4.5 364,2.2 365,6.1 366,-4.2 367,2.9 368,7.5 369,-6.6 370,-17.8 371,1.6 372,-10.3 373,-5.3 374,-.5 375,.2 376,2.5 377,-8 378,-3.4 379,-.1 380,-7.3 381,.4 382,2.5 383,9.5 384,-9.2 385,4.9 386,-3.2 387,-4.1 388,12.7 389,-6.6 390,1.3 391,-3.2 392,8 393,-5 394,-8.8 395,-2 396,7.1 397,3.1 398,-4 399,-2.7 400,8 401,2.6 402,-5.3 403,-.9 404,.4 405,-4.1 406,8.5 407,-6.6 408,-1.3 409,10.5 410,-7.9 411,-3 412,7.7 413,-.3 414,-3.2 415,-3.9 416,2.9 417,-1 418,3 419,-8.3 420,-1 421,5.1 422,3.9 423,-5.7 424,.9 425,-9.7 426,-2.2 427,1.4 428,9.8 429,-1.1 430,9.6 431,3.2 432,-.8 433,1.5 434,-9 435,7.6 436,-3.3 437,3.9 438,6.6 439,4.7 440,-3.4 441,-1.9 442,9.5 443,6.7 444,-7.1 445,-1.7 446,-15.2 447,-6.7 448,3.9 449,13.8 450,-.4 451,-5.8 452,-.8 453,-3.1 454,-2.4 455,-6.3 456,6.1 457,-7.5 458,-.3 459,.3 460,-4.3 461,-7.1 462,1.3 463,-4.8 464,-1 465,1 466,3.7 467,-14.5 468,-5.7 469,-5.1 470,2.9 471,5.6 472,10 473,1 474,-12.1 475,-1.8 476,-7.2 477,-.6 478,3.1 479,-5.4 480,1.9 481,-7 482,-12.2 483,-4.8 484,-10.8 485,.1 486,2.5 487,7.6 488,-7 489,-17.9 490,-5.4 491,-4.1 492,-7.8 493,-4.3 494,5.8 495,-.2 496,-3 497,-6.2 498,-5.2 499,-2.7 500,-5 501,2.3 502,-6.1 503,.8 504,-9.5 505,-.2 506,-5.1 507,-1.4 508,3.9 509,2 510,-3.5 511,-7.5 512,4 513,-1.5 514,1.5 515,-.8 516,-2.1 517,-8.7 518,9.1 519,5.3 520,2.6 521,12.7 522,-4.8 523,-8.7 524,-1.7 525,1.1 526,1.1 527,4.2 528,1.2 529,-5.9 530,-5 531,7.8 532,-2.6 533,6 534,-2 535,-5 536,2.6 537,-5.6 538,-6.4 539,-2.8 540,9 541,-5.7 542,-1.7 543,2.5 544,-6.8 545,-4.8 546,-4.2 547,-9.6 548,-8.9 549,.5 550,1.4 551,9.1 552,-1.4 553,8.1 554,-5.1 555,1.2 556,9.3 557,7.9 558,.3 559,-.5 560,1 561,-6.2 562,-4.7 563,-1.2 564,6.1 565,-7 566,-4.5 567,2.6 568,-.6 569,7.5 570,-4.6 571,.2 572,2 573,1.3 574,-2.6 575,3.7 576,-2.6 577,.6 578,-10.5 579,-.5 580,6 581,5.2 582,14.2 583,-4.9 584,9.9 585,5.4 586,13.1 587,6.6 588,7.1 589,5.4 590,6.3 591,-3.1 592,1.7 593,-6.4 594,-.1 595,-2.7 596,-2 597,1.3 598,-.9 599,-.4 600,0 601,-10.8 602,-4.2 603,6.5 604,-1.9 605,4.2 606,-5.4 607,-6.9 608,-6.7 609,-2.5 610,4.4 611,.4 612,-4.4 613,-16.6 614,-29.5 615,-30.8 616,-29.3 617,-29.3 618,-32 619,-11.8 620,-22.3 621,-12.6 622,-3.6 623,1.2 624,-5.7 625,7.6 626,17.3 627,-1.8 628,.2 629,3.8 630,2.4 631,1.7 632,4.5 633,10.8 634,8.9 635,-5.7 636,8 637,4.6 638,8.3 639,.9 640,-.9 641,-4.8 642,-6.4 643,4 644,6.2 645,-4.3 646,5.7 647,11.5 648,15.1 649,2.8 650,2.9 651,3 652,12.3 653,-4.5 654,9.7 655,.2 656,6.9 657,7.2 658,3.3 659,0 660,.1 661,-4.3 662,1.3 663,6.5 664,-8.5 665,-14.8 666,-13.4 667,-18.7 668,-23.8 669,-5.8 670,-10.5 671,4.3 672,6.8 673,4.5 674,-6.1 675,6.1 676,-4.6 677,7.1 678,24.3 679,24 680,20.8 681,20.8 682,25.5 683,13 684,15.6 685,1.5 686,9.2 687,-2.2 688,-13.3 689,-26.7 690,-26 691,-63.7 692,-57.7 693,-59.5 694,-56.1 695,-49.6 696,-33.3 697,-21.2 698,-1.2 699,-4.2 700,5.7 701,7.2 702,8.7 703,11.5 704,5.1 705,1.7 706,14.1 707,4.2 708,6.6 709,-3.4 710,1 711,11 712,5.1 713,16.3 714,-6.1 715,22.9 716,12 717,6.1 718,5.1 719,19.2 720,7 721,-2.6 722,11.9 723,12.8 724,9.7 725,3 726,1.3 727,13.9 728,3 729,5.8 730,-3.1 731,-12.2 732,-19.8 733,-27.2 734,-28.4 735,-5.7 736,-3.7 737,2.3 738,-10.9 739,5.1 740,19.8 741,4.8 742,-3.1 743,15.8 744,11.5 745,8.1 746,19.1 747,22.7 748,29.9 749,28.3 750,34 751,15.7 752,24.7 753,8.3 754,-2.7 755,14.1 756,2.5 757,10.1 758,.8 759,9.2 760,18.1 761,6.3 762,6.3 763,-3.7 764,13.3 765,-.6 766,7.8 767,1.9 768,.2 769,4.5 770,13 771,12.7 772,12 773,9.7 774,10.6 775,6.6 776,2.5 777,4 778,4.1 779,2.7 780,10 781,10.9 782,7.5 783,5.8 784,4.6 785,7.6 786,.5 787,8.2 788,11 789,7.6 790,10.2 791,13.7 792,7.4 793,3.5 794,2.6 795,1 796,13.3 797,2.2 798,7.8 799,-2.9 800,7.5 801,-4.4 802,-.6 803,-16.3 804,-20.5 805,-15.2 806,-35.6 807,-29.2 808,-27.1 809,-24.2 810,-15.8 811,.1 812,-2.3 813,-.3 814,13.8 815,-3 816,3.6 817,-3.7 818,-3.7 819,12.8 820,9.6 821,-3.3 822,13.1 823,10.2 824,3.1 825,9.7 826,-3.6 827,4 828,-4.6 829,-21.1 830,-25.3 831,-40.2 832,-46.3 833,-71 834,-70.1 835,-67.6 836,-53.9 837,-40.7 838,-24 839,-15.7 840,-.9 841,-3 842,5.4 843,11.6 844,-1.5 845,4 846,5.4 847,-9.2 848,-17.4 849,-25.3 850,-33.4 851,-36.6 852,-35.4 853,-39.8 854,-44.6 855,-32.8 856,-23.4 857,-8.4 858,-6 859,3.7 860,-1.8 861,7 862,-1.8 863,-4.7 864,12.2 865,.6 866,2.5 867,19.2 868,23.4 869,31.5 870,23.7 871,25.5 872,16 873,19.3 874,-.4 875,7.5 876,6 877,8.8 878,14.8 879,4.5 880,.7 881,7.2 882,-4.1 883,.3 884,-18.9 885,-17 886,-15.8 887,-29.9 888,-24.3 889,-11.7 890,-1.1 891,-6.3 892,3.3 893,-1.4 894,7.8 895,6.1 896,8.1 897,10 898,3.3 899,1.6 900,-1 901,14.1 902,15.3 903,16.9 904,5.7 905,23.2 906,8.3 907,10.4 908,6.3 909,-2.5 910,6.5 911,2.1 912,-3 913,1.5 914,2 915,13.8 916,5.6 917,8.6 918,.7 919,7.4 920,4.9 921,7 922,-3.6 923,8.1 924,3.7 925,-3.2 926,2.9 927,4.7 928,-4.6 929,-8.6 930,7.9 931,9.3 932,2.6 933,-4 934,1.5 935,8.3 936,-19 937,5.3 938,-1.7 939,.4 940,-6.8 941,4.8 942,-.4 943,2.7 944,4.4 945,7.8 946,-1.1 947,6.7 948,2.4 949,-10 950,1.7 951,2 952,-.4 953,-18.5 954,4.3 955,10.1 956,-7.7 957,4.7 958,6.1 959,5.4 960,-3.7 961,-4.4 962,1.7 963,-7.2 964,8.6 965,-3.6 966,-.3 967,2.6 968,7 969,-.9 970,7.3 971,-1.3 972,8.7 973,2.8 974,-4.7 975,3.6 976,-5 977,-2.7 978,2 979,6 980,-16.4 981,13.7 982,7 983,6.2 984,13.2 985,22.9 986,15.7 987,17.1 988,17.2 989,8.4 990,-2.2 991,-2.3 992,-2 993,-12.1 994,-2.6 995,-1.1 996,4.6 997,-5 998,7.3 999,2.1 1000,-6.1 1001,-6.5 1002,6 1003,-2.7 1004,.3 1005,.5 1006,-3.1 1007,11.1 1008,1.1 1009,-5.7 1010,3.4 1011,2.3 1012,-7.2 1013,1.7 1014,5.5 1015,-1.3 1016,1 1017,-8.6 1018,-4.1 1019,-7.6 1020,-7.2 1021,0 1022,7.2 1023,-4.4 1024,-1.1 1025,-1.1 1026,8.2 1027,3.8 1028,.6 1029,-5 1030,-2.9 1031,3.1 1032,-5.7 1033,-2.4 1034,5 1035,-1 1036,-2.1 1037,-3.9 1038,8 1039,-1.3 1040,-8.4 1041,-10.8 1042,-8.7 1043,-16.3 1044,-16.2 1045,1.5 1046,-7.6 1047,6.9 1048,-8.6 1049,-5.5 1050,1.6 1051,3.8 1052,-9.7 1053,-6.5 1054,-.1 1055,-7.3 1056,-1.6 1057,-7.5 1058,-1.3 1059,1.7 1060,-13.9 1061,4.1 1062,-11.7 1063,-14.3 1064,-5.2 1065,5.4 1066,-.1 1067,-2.3 1068,-6 1069,7 1070,4.4 1071,-1.9 1072,-4.7 1073,-2.7 1074,3.7 1075,4.5 1076,1 1077,-1.4 1078,-12.6 1079,-4.1 1080,.1 1081,-10.4 1082,-2.8 1083,-8.3 1084,-8.1 1085,1.6 1086,-7.8 1087,-14.8 1088,2 1089,-5.1 1090,6.5 1091,5.6 1092,-6.2 1093,-1.2 1094,0 1095,-3.6 1096,.6 1097,-4.8 1098,-4 1099,-.1 1100,.5 1101,3.9 1102,-.6 1103,6.6 1104,-2.4 1105,-7.4 1106,-10 1107,-2.4 1108,-5.6 1109,-.3 1110,3.7 1111,-.8 1112,3.2 1113,-10.9 1114,.6 1115,1.2 1116,-4.8 1117,2.5 1118,4.2 1119,6 1120,-7.6 1121,-.2 1122,2.1 1123,.2 1124,-4.7 1125,-16.5 1126,-10.4 1127,.7 1128,12 1129,1.9 1130,8.4 1131,-9.8 1132,-3.9 1133,-4.5 1134,-4.3 1135,-3.9 1136,-6.8 1137,-4.6 1138,-2 1139,3.4 1140,8.8 1141,-11.2 1142,-1.6 1143,-1.5 1144,-4.9 1145,-2 1146,.4 1147,.4 1148,2.2 1149,-4.9 1150,2.7 1151,-4.8 1152,2.1 1153,-2.5 1154,-8.8 1155,-6.4 1156,-4.4 1157,-6.8 1158,-2.2 1159,-6.4 1160,-2.6 1161,-3.1 1162,-3.1 1163,.4 1164,-9.2 1165,-1.5 1166,-3 1167,-.5 1168,.5 1169,4.6 1170,3.2 1171,3.7 1172,-.2 1173,-4 1174,-4.1 1175,-7.1 1176,2.9 1177,-1.9 1178,-2.6 1179,-6.7 1180,6.8 1181,-1 1182,-6.8 1183,-2.2 1184,6.8 1185,-9.8 1186,-7.2 1187,-8.6 1188,-10.5 1189,1.2 1190,3.2 1191,-3.1 1192,-4.4 1193,-2.3 1194,1.6 1195,-1.6 1196,-2.5 1197,-2.5 1198,-1 1199,-3.7 1200,-10.8 1201,-5 1202,-7.7 1203,-5 1204,-2.2 1205,-10.4 1206,1.9 1207,-3 1208,2.4 1209,4.9 1210,2.9 1211,1.6 1212,-7.5 1213,-3.6 1214,-9.8 1215,7.1 1216,-8.1 1217,-.5 1218,-9.8 1219,-9.8 1220,-7.5 1221,-4.7 1222,-6.4 1223,-5.9 1224,-8.3 1225,-9.4 1226,2.4 1227,-12.2 1228,-4.9 1229,-8.3 1230,-6.4 1231,-15.4 1232,-.6 1233,.5 1234,-10.2 1235,-7.1 1236,.7 1237,-6.5 1238,-2.6 1239,-11.8 1240,-3.4 1241,-.1 1242,1.7 1243,-8.4 1244,-2.6 1245,-2.7 1246,-14.4 1247,-7.9 1248,-7.8 1249,-5.6 1250,-2.9 1251,.8 1252,-4.8 1253,-9.5 1254,2.7 1255,-11.7 1256,-8.1 1257,-8 1258,-11.1 1259,-13.9 1260,-8.3 1261,-3.8 1262,-8 1263,-12.7 1264,-.1 1265,-1.5 1266,-7.6 1267,4.4 1268,-.9 1269,-12.2 1270,-11.4 1271,-3.2 1272,-8.3 1273,-8.5 1274,-9.9 1275,-16.3 1276,-10.9 1277,-13.9 1278,-10.4 1279,-6.9 1280,-6.5 1281,-1.2 1282,-4.7 1283,-7.7 1284,-3.4 1285,-6.9 1286,-3.9 1287,-5.9 1288,-4.5 1289,-6.6 1290,-5.8 1291,-6 1292,-5.2 1293,-3.2 1294,-2.8 1295,-10.4 1296,1.1 1297,-7.8 1298,-7.8 1299,-8.1 1300,-1.4 1301,-12.1 1302,-2.6 1303,2.7 1304,-3.8 1305,-6.2 1306,-4.8 1307,-10.4 1308,-10 1309,4.7 1310,-8.8 1311,-3.4 1312,-6.1 1313,9.9 1314,-8 1315,-2.3 1316,-15.1 1317,-2.2 1318,-10.6 1319,-10.6 1320,3.5 1321,-9.5 1322,-6.4 1323,-7.3 1324,-8.1 1325,-.9 1326,-.6 1327,-6.8 1328,.3 1329,.2 1330,-13.1 1331,1.2 1332,-4 1333,-6 1334,-6.6 1335,.4 1336,-5.7 1337,-5.6 1338,-6.6 1339,-12.2 1340,-10 1341,-5.8 1342,-7.6 1343,-5.6 1344,.3 1345,-.4 1346,-7.2 1347,-9 1348,-5.2 1349,-6.2 1350,-10.6 1351,-13.1 1352,-4.7 1353,-4 1354,-10.3 1355,-12.9 1356,-10.7 1357,-6.9 1358,-9.4 1359,-6.7 1360,-9 1361,-6.9 1362,-6 1363,-9.5 1364,2.8 1365,-11.7 1366,-6.5 1367,-4.5 1368,-13.2 1369,-2.9 1370,-5.8 1371,-3.6 1372,-7.6 1373,-3.5 1374,-14.9 1375,-8 1376,-6.8 1377,-10.7 1378,-1.4 1379,-11.3 1380,-6.6 1381,-11.2 1382,-10.1 1383,-8.6 1384,-13.1 1385,.2 1386,-2.6 1387,-6.1 1388,-7 1389,-11.2 1390,3.3 1391,-10.5 1392,-8.8 1393,-5.4 1394,-3.2 1395,-9.8 1396,-1.4 1397,-7.7 1398,-10.8 1399,-12.3 1400,2.8 1401,-5.3 1402,-7.2 1403,-2.5 1404,-9.7 1405,-10.5 1406,-3.7 1407,-19.5 1408,-5.2 1409,1.7 1410,-6.2 1411,-7.3 1412,-4.7 1413,-3.1 1414,-11.3 1415,-3.6 1416,-8 1417,-9 1418,3.4 1419,-8.1 1420,-5.2 1421,-16.1 1422,-.3 1423,-8.4 1424,-9.6 1425,-12.2 1426,1 1427,-15.1 1428,-7.9 1429,-10.5 1430,-4.5 1431,-5.9 1432,-13.8 1433,-7 1434,-9.8 1435,-5.5 1436,-14.6 1437,-5.8 1438,-12.2 1439,-9.8 1440,-5.4 1441,.3 1442,-7.4 1443,-4.3 1444,-5 1445,-4.7 1446,-8.4 1447,-6 1448,-9.5 1449,-9.4 1450,-3.8 1451,.9 1452,-6.7 1453,-11.3 1454,-3.2 1455,-14.7 1456,-14.5 1457,6.2 1458,-6.6 1459,-10.5 1460,-10.5 1461,-11.7 1462,-6.1 1463,-10.4 1464,-5.9 1465,-2.6 1466,-7.6 1467,-10.8 1468,-9.3 1469,-8.1 1470,-10.4 1471,-5.7 1472,-9.6 1473,-6.3 1474,-8.9 1475,-5.8 1476,-12.8 1477,-9.5 1478,-9.2 1479,1.2 1480,-4.7 1481,-1.8 1482,-6.9 1483,-10.9 1484,-14.9 1485,-8.1 1486,-2.8 1487,-15 1488,-13 1489,-10.1 1490,-5.1 1491,-10.3 1492,-7.6 1493,-3 1494,-11.3 1495,-8.8 1496,-9.1 1497,-7.3 1498,-3.5 1499,-11.4 1500,-12.3 1501,-1.1 1502,-1.9 1503,-.6 1504,-4.5 1505,-9.3 1506,-8 1507,-7.4 1508,-12.9 1509,-13.7 1510,-11.1 1511,-6 1512,-9.1 1513,-9.7 1514,-12.4 1515,-7.8 1516,-6 1517,-11.5 1518,-6.5 1519,-6.2 1520,-7.7 1521,-7.6 1522,-7.1 1523,-2.7 1524,-7.4 1525,-6.5 1526,-7.3 1527,-4.1 1528,-11.1 1529,2.1 1530,-6.8 1531,-12.3 1532,-5.1 1533,-6.4 1534,-8.1 1535,-10.2 1536,-6.9 1537,-13.4 1538,-6.2 1539,-6.9 1540,-13.8 1541,-14.6 1542,-8 1543,-3.3 1544,-13.6 1545,-9.9 1546,-6.3 1547,-8.1 1548,-14.3 1549,-4.7 1550,-6.4 1551,-8.8 1552,-11.5 1553,-11 1554,-8.6 1555,-7 1556,-4.9 1557,-12.4 1558,-2 1559,-3.7 1560,-5.8 1561,-6.3 1562,-5.3 1563,-6.6 1564,-4.8 1565,-7.9 1566,-8.6 1567,-7.3 1568,-4.4 1569,-3 1570,-9.2 1571,-3.9 1572,-7.4 1573,-5.2 1574,-10.7 1575,-4.9 1576,-4.3 1577,-6.1 1578,-6.5 1579,-14.6 1580,-4 1581,-5.6 1582,-12.2 1583,-9.2 1584,-8.7 1585,-6.1 1586,-16.3 1587,-5.6 1588,-6.8 1589,-7.8 1590,.6 1591,-8.9 1592,-1.7 1593,-12.2 1594,-8.5 1595,4.2 1596,-4.2 1597,-7.4 1598,-13.3 1599,-6.1 1600,-8 1601,-2.6 1602,-7.1 1603,-9.7 1604,-3.7" stroke="#FF7F00" stroke-width="4.3"/>
<polyline transform="translate(1411.40 1245) scale(0.2866 1)" vector-effect="non-scaling-stroke" points="1,.4 2,.4 3,.4 4,.4 5,.4 6,.4 7,.4 8,.4 9,.4 10,.4 11,.4 12,.4 13,.4 14,.4 15,.4 16,.4 17,.4 18,.4 19,.4 20,.4 21,.4 22,.4 23,.4 24,.4 25,.4 26,.4 27,.4 28,.4 29,.4 30,.4 31,.4 32,.4 33,.4 34,.4 35,.4 36,.4 37,.4 38,.4 39,.4 40,.4 41,.4 42,.4 43,.4 44,.4 45,.4 46,.4 47,.4 48,.4 49,.4 50,.4 51,.4 52,.4 53,.4 54,.4 55,.4 56,.4 57,.4 58,.4 59,.4 60,.4 61,.4 62,.4 63,.6 64,.7 65,1.2 66,1.8 67,2.1 68,2.4 69,0 70,5.1 71,4.3 72,-1.9 73,3.9 74,6 75,6.4 76,3.4 77,12.9 78,9 79,8.6 80,17.4 81,9.1 82,9.6 83,16.5 84,15.9 85,14.6 86,20.5 87,18.2 88,20 89,16.4 90,23.2 91,22.5 92,19.9 93,17.6 94,18.3 95,30.8 96,21.1 97,26 98,13.8 99,23 100,13.9 101,21 102,27.5 103,21.3 104,20 105,25.5 106,31.6 107,20.8 108,25.6 109,16.8 110,19.3 111,19.5 112,20.5 113,22.7 114,12.9 115,19.1 116,22.5 117,20.3 118,19.1 119,23.8 120,24.8 121,20.9 122,26.8 123,19.9 124,19.9 125,15.1 126,21.9 127,25.7 128,17.7 129,22.9 130,21.4 131,22.5 132,19.9 133,23.2 134,24.1 135,22.7 136,27.2 137,26.7 138,22.3 139,23.3 140,23 141,31 142,27.7 143,20.8 144,22.4 145,24.2 146,26.9 147,15.7 148,26 149,30.3 150,26.8 151,28.9 152,20.7 153,26.9 154,21.9 155,20.4 156,21.7 157,24.2 158,27 159,28.9 160,22.5 161,32 162,22.6 163,20.7 164,25.5 165,23.5 166,24.8 167,20.7 168,22.1 169,24.4 170,19.8 171,22.7 172,22.1 173,23.7 174,34.4 175,14.8 176,19.8 177,24.4 178,28 179,29.4 180,26.1 181,23.8 182,26.4 183,27.1 184,19.5 185,34.3 186,18.4 187,25.6 188,25 189,18.7 190,25.4 191,25.3 192,22.9 193,27 194,24.1 195,29.7 196,18.2 197,26.4 198,35.3 199,21.9 200,26.9 201,30.8 202,18.4 203,30.2 204,27.4 205,29.4 206,24.5 207,24.5 208,19.4 209,30.8 210,28.9 211,27.7 212,23.3 213,29.9 214,20.2 215,22.1 216,29.2 217,20.9 218,31.3 219,34.1 220,28.5 221,27.7 222,26.1 223,28.5 224,30.1 225,28.5 226,26.5 227,29.7 228,28.7 229,20.2 230,33.7 231,23 232,27.9 233,29.9 234,31.1 235,27.2 236,34.5 237,30.3 238,38.2 239,31.1 240,30.5 241,30.3 242,31.3 243,30.2 244,27 245,25.8 246,27.2 247,27.7 248,37.4 249,34.4 250,25.8 251,29.5 252,30.8 253,35.1 254,30.6 255,26 256,34.9 257,34.9 258,31.3 259,30.4 260,26.1 261,26.3 262,26.6 263,30.9 264,41.1 265,32.2 266,36.4 267,33.2 268,27.5 269,40.2 270,23.4 271,36.4 272,27.8 273,36.9 274,33.3 275,30.3 276,31.3 277,33.9 278,35.9 279,27 280,36.6 281,31.2 282,34.2 283,38.7 284,21.9 285,31.5 286,27.1 287,31.3 288,32.2 289,37.8 290,37 291,35.9 292,28.6 293,35.2 294,36.4 295,38 296,34.1 297,44.4 298,33.9 299,35.3 300,21.3 301,31.3 302,29 303,29.1 304,34.7 305,30.6 306,27.4 307,33.7 308,34.2 309,25.4 310,35.9 311,26 312,34.3 313,32.9 314,32.2 315,29.5 316,23.6 317,28.2 318,23.6 319,39.3 320,32 321,25.9 322,30.7 323,28.5 324,29 325,21.6 326,26.2 327,25.3 328,18 329,23.7 330,22.8 331,25.9 332,28.8 333,24.5 334,18.9 335,22.3 336,26.2 337,29.1 338,25.3 339,18.3 340,14.1 341,19.4 342,16.8 343,20 344,24.3 345,24.9 346,18.1 347,12.2 348,19.3 349,23.5 350,18.4 351,9.5 352,31.1 353,18.4 354,21.2 355,15.9 356,12.8 357,14.7 358,20.5 359,14.3 360,18.8 361,13 362,26.1 363,18.5 364,13 365,20.9 366,17.8 367,11.1 368,19.9 369,15.5 370,17.9 371,15.1 372,18.8 373,14.7 374,11.5 375,16.7 376,18.4 377,10 378,12 379,22.4 380,5.5 381,16.1 382,14.9 383,9.5 384,25.8 385,14.3 386,18 387,21.7 388,1.1 389,3.9 390,17.5 391,11 392,12.1 393,11.8 394,22.8 395,18.7 396,13.9 397,15.7 398,10.9 399,12 400,13.8 401,12.7 402,14.2 403,5.5 404,6.7 405,4.7 406,7 407,11.9 408,15.6 409,18.1 410,10.7 411,16.5 412,15.1 413,16.5 414,17.7 415,18.2 416,18.3 417,18.2 418,13.8 419,10.5 420,13.8 421,12.3 422,19.5 423,19.9 424,10.7 425,1.5 426,11.8 427,7.8 428,16.5 429,11.6 430,10.3 431,9.3 432,9.6 433,8.4 434,5 435,12.5 436,13 437,14.8 438,7.3 439,15 440,9 441,12.4 442,8.5 443,10.3 444,10.3 445,16.8 446,7 447,8.3 448,10.4 449,8.3 450,10.6 451,21.4 452,8.1 453,10.5 454,6.7 455,7.4 456,11.3 457,9.9 458,10.5 459,6.1 460,10.2 461,7.9 462,8.4 463,7.4 464,11.1 465,8.8 466,13.1 467,6.7 468,1.7 469,3.7 470,11.1 471,4.4 472,11.7 473,2.7 474,9.6 475,4.6 476,4.4 477,11.3 478,17.4 479,9.1 480,12.3 481,7.1 482,.5 483,3 484,1.7 485,10.5 486,10.4 487,11 488,.5 489,7.2 490,5.9 491,5.6 492,4.6 493,7.5 494,4.8 495,7.1 496,6.8 497,10.4 498,5.8 499,7 500,-4.2 501,8.8 502,-.5 503,3.2 504,4.8 505,12 506,6.8 507,7.2 508,5.1 509,-2.3 510,5.9 511,2.6 512,8.6 513,1.3 514,7.2 515,.1 516,8 517,5.5 518,1.3 519,-1 520,2 521,3.2 522,6.4 523,3.2 524,5.2 525,9.4 526,6.9 527,10.6 528,.9 529,-2.1 530,1.3 531,10.3 532,.4 533,10.7 534,12.6 535,5.7 536,8.9 537,2.4 538,-1.8 539,3.7 540,-.8 541,8.2 542,8.2 543,-2.3 544,8.5 545,10.8 546,.8 547,4.2 548,8.3 549,-3.7 550,-6.8 551,7.7 552,2.6 553,7.7 554,5.8 555,-1 556,-6.2 557,4.6 558,8.6 559,1.9 560,-.8 561,-5.1 562,11.5 563,3.3 564,4.4 565,2.7 566,-3.4 567,7 568,7.2 569,4.2 570,2.1 571,3 572,1.9 573,4.5 574,.5 575,-3.6 576,1.6 577,1.3 578,-2.4 579,10.4 580,.7 581,7.1 582,2.1 583,-3.3 584,3.1 585,10.2 586,2.7 587,3.3 588,-.9 589,1 590,7.9 591,-3.8 592,-9.3 593,-11.9 594,-19.7 595,-26.3 596,-26.9 597,-27.5 598,-27.1 599,-32.4 600,-22.6 601,-26.2 602,-15.6 603,-19.4 604,-23.5 605,-20.1 606,-27.4 607,-25.1 608,-18.1 609,-20.8 610,-14.3 611,-17.1 612,-24 613,-19.4 614,-24.8 615,-19 616,-21.6 617,-23.5 618,-34.9 619,-27.6 620,-25.5 621,-29.3 622,-31.1 623,-29.1 624,-22.3 625,-23.7 626,-27.7 627,-26.1 628,-15.2 629,-25.3 630,-18 631,-16.2 632,-17.2 633,-17.7 634,-24.7 635,-9.4 636,-32.3 637,-28.6 638,-24.4 639,-21.7 640,-25.7 641,-15.1 642,-26 643,-27.9 644,-20.7 645,-22.1 646,-22.5 647,-19.7 648,-20.3 649,-25.1 650,-24.2 651,-25.9 652,-21.5 653,-26.8 654,-25 655,-33.5 656,-34.4 657,-25.7 658,-24.8 659,-19.7 660,-22.7 661,-13.2 662,-27.1 663,-36.8 664,-23.2 665,-19.7 666,-23.6 667,-38.6 668,-37.2 669,-42.7 670,-40.9 671,-25 672,-36.7 673,-25.1 674,-26.2 675,-26.9 676,-26.2 677,-27.6 678,-31.7 679,-24.7 680,-17.4 681,-25.2 682,-26.7 683,-21 684,-23.6 685,-24.1 686,-27.6 687,-26.7 688,-35 689,-42.6 690,-43.3 691,-56.1 692,-69.8 693,-59.2 694,-63.3 695,-54.8 696,-53.2 697,-42.3 698,-35.7 699,-37.7 700,-30 701,-22.8 702,-20.3 703,-23.5 704,-31.1 705,-21.7 706,-29.4 707,-30.2 708,-24.5 709,-22.5 710,-26.8 711,-23 712,-20.4 713,-22.2 714,-17.8 715,-26 716,-20.7 717,-18.7 718,-21.3 719,-23.5 720,-24.7 721,-22.6 722,-27 723,-20.5 724,-17 725,-20.8 726,-16.5 727,-23.1 728,-26.9 729,-27.7 730,-15.4 731,-38.4 732,-36.5 733,-36.7 734,-34.9 735,-33.3 736,-28.7 737,-31.6 738,-19.6 739,-14.6 740,-22.8 741,-18.8 742,-15 743,-22.1 744,-19.1 745,-18.8 746,-20.9 747,-14.8 748,-17 749,-23.7 750,-17.9 751,-26.5 752,-15.4 753,-7 754,-26.5 755,-15.9 756,-20.2 757,-20.2 758,-9.1 759,-11.4 760,-18.9 761,-20.3 762,-11.5 763,-12.6 764,-16.5 765,-22.5 766,-13.2 767,-17.3 768,-18.1 769,-18 770,-19.5 771,-15.8 772,-17.2 773,-22.6 774,-17.2 775,-16.6 776,-15.6 777,-13.1 778,-15.4 779,-25.3 780,-15.8 781,-18.6 782,-18.7 783,-16.6 784,-26.6 785,-24 786,-22.6 787,-13.2 788,-7.3 789,-15.3 790,-19.3 791,-14.3 792,-15.6 793,-19 794,-15.3 795,-21.2 796,-18.3 797,-20.8 798,-12.2 799,-26 800,-23.6 801,-26 802,-25 803,-26.3 804,-39.6 805,-39.8 806,-37.3 807,-35.6 808,-40.8 809,-50.1 810,-34.1 811,-39.6 812,-29 813,-27.7 814,-34.1 815,-21.7 816,-18.7 817,-27.8 818,-22.1 819,-30.5 820,-20.6 821,-15.5 822,-31.1 823,-24 824,-22.9 825,-29.5 826,-21.2 827,-25.9 828,-33.3 829,-35 830,-37.8 831,-38 832,-45.2 833,-57.6 834,-53.2 835,-51.7 836,-50 837,-46.9 838,-40.6 839,-35.3 840,-26.5 841,-24.4 842,-21.6 843,-35.5 844,-36.3 845,-25.6 846,-27.9 847,-30.3 848,-41.6 849,-46.4 850,-49.8 851,-48.1 852,-60.8 853,-45.1 854,-43.8 855,-46 856,-38.2 857,-30.8 858,-31.9 859,-19.7 860,-23.2 861,-28.9 862,-18.8 863,-24.8 864,-19.6 865,-21.7 866,-23.6 867,-29.4 868,-27.6 869,-29.6 870,-28.6 871,-24 872,-18.2 873,-28.4 874,-21.2 875,-18.4 876,-24.1 877,-24.6 878,-23 879,-27 880,-24.3 881,-28.4 882,-29.4 883,-39.2 884,-30.7 885,-32 886,-34 887,-39.1 888,-47.2 889,-44.8 890,-33.2 891,-30.8 892,-36.5 893,-29.8 894,-34.7 895,-26 896,-21 897,-22.4 898,-16.5 899,-26.6 900,-21.3 901,-29.2 902,-25 903,-28.8 904,-33.7 905,-26.5 906,-32.4 907,-33.4 908,-17.9 909,-20.8 910,-18.9 911,-23 912,-27.5 913,-15.8 914,-27.3 915,-17.8 916,-11.5 917,-8 918,-15.9 919,-19.8 920,-14.6 921,-8.4 922,-10.8 923,-6.7 924,-2.3 925,-11.2 926,-2.5 927,-2.3 928,-7.7 929,-2.3 930,3.8 931,-2.9 932,4.4 933,1.1 934,-4.6 935,3.8 936,-6.1 937,-.3 938,1.3 939,-.7 940,-9.7 941,1.4 942,-5.7 943,-3.9 944,5.9 945,-4.3 946,-1.2 947,-4.8 948,-3.6 949,2.8 950,.3 951,-2.9 952,-3.9 953,1.2 954,4.5 955,-1.9 956,4.4 957,-10.7 958,-3.2 959,2.8 960,-.8 961,-1.9 962,-7.3 963,.8 964,2.8 965,4.3 966,1.7 967,-1.4 968,.2 969,-2.4 970,-4.7 971,-1.6 972,7.4 973,-4.8 974,.7 975,-.4 976,-1.8 977,-5 978,-2.5 979,5.4 980,-2.3 981,-4.4 982,-8.2 983,-1.3 984,.9 985,1 986,3.4 987,-4.6 988,-1.1 989,1.5 990,-2.8 991,-6.1 992,-6.3 993,-4.7 994,-3.1 995,-2.9 996,-1 997,.6 998,6.4 999,-7.7 1000,2.7 1001,-1 1002,5.8 1003,3.6 1004,-2.7 1005,3.5 1006,6.3 1007,-3 1008,3.7 1009,5.2 1010,.4 1011,-5.1 1012,-8.6 1013,-7.9 1014,.9 1015,1.6 1016,.6 1017,-.2 1018,1.8 1019,-1.4 1020,-2 1021,-7.4 1022,6 1023,-6 1024,-.9 1025,-6.9 1026,-3.1 1027,-2.1 1028,7.4 1029,-2.5 1030,3 1031,2.9 1032,-1.7 1033,-2.6 1034,-3.7 1035,-13.4 1036,-3.1 1037,-8.5 1038,1.9 1039,-1.6 1040,-.6 1041,-4 1042,-4.5 1043,-3 1044,1.8 1045,-3 1046,-.9 1047,-4.1 1048,-5.8 1049,1.5 1050,-6.2 1051,-1.4 1052,-.1 1053,-5 1054,-3.6 1055,-.4 1056,-3 1057,-.2 1058,1.5 1059,-4.5 1060,-2 1061,4.9 1062,1.9 1063,2.2 1064,-5.7 1065,-5.5 1066,-1.6 1067,2.5 1068,-.5 1069,-1 1070,.1 1071,.1 1072,-.4 1073,-.6 1074,4.1 1075,-3.7 1076,2.7 1077,2.3 1078,-8.1 1079,3.7 1080,-3.7 1081,5.5 1082,-9.1 1083,3.5 1084,.6 1085,-7.3 1086,-5.4 1087,3.5 1088,-6.1 1089,-4.1 1090,-3.7 1091,5.8 1092,-4.8 1093,-2.7 1094,1.4 1095,4.8 1096,-2.2 1097,-.8 1098,-4.2 1099,-6.1 1100,-3.2 1101,-9.9 1102,-3.5 1103,1.8 1104,3.1 1105,-.6 1106,-2.4 1107,-6.2 1108,-4.4 1109,2.3 1110,-2.2 1111,-4.8 1112,-6.7 1113,-7.9 1114,-2.2 1115,-.3 1116,.3 1117,-1.2 1118,-4.3 1119,-.9 1120,-1.8 1121,1.4 1122,.3 1123,1.7 1124,-1.9 1125,1.2 1126,-1.6 1127,-5 1128,-1.2 1129,.8 1130,-2.3 1131,-2.2 1132,-1.7 1133,-5.7 1134,-7.1 1135,3.6 1136,1.6 1137,-5.9 1138,1.5 1139,.8 1140,-3 1141,4 1142,5.1 1143,-2.6 1144,-.9 1145,3 1146,-5.7 1147,-7.7 1148,5.5 1149,-4.2 1150,2.2 1151,1 1152,-1 1153,3.2 1154,-1.2 1155,-4.5 1156,-3.3 1157,-1.1 1158,-8.3 1159,-2.3 1160,-5 1161,-7.7 1162,-1.5 1163,-9.4 1164,-2.5 1165,-.6 1166,-3.7 1167,1.5 1168,-8.7 1169,-2.6 1170,-8.1 1171,0 1172,5.7 1173,-4.8 1174,-2 1175,-1.1 1176,-1.1 1177,-1.9 1178,1.9 1179,-1.8 1180,1.4 1181,-5.9 1182,-5.5 1183,-5.5 1184,-2.8 1185,5.2 1186,-1.6 1187,1.3 1188,-2.8 1189,-2.3 1190,3.2 1191,1.7 1192,-.2 1193,-3.7 1194,6.4 1195,-3.3 1196,-2.1 1197,.7 1198,-4.7 1199,-.1 1200,-6.4 1201,-3.3 1202,.5 1203,3.7 1204,-1.2 1205,-4.7 1206,-6.5 1207,4.5 1208,-1.4 1209,-.8 1210,-.2 1211,-6.8 1212,-1 1213,-4.5 1214,-1.1 1215,-1.1 1216,6.9 1217,-2.8 1218,-2.3 1219,-5.3 1220,-7.7 1221,-1.8 1222,.3 1223,1.6 1224,-7.5 1225,-1.8 1226,8.8 1227,-11.1 1228,-1.7 1229,-4 1230,-8.7 1231,1.4 1232,.8 1233,3.7 1234,-3.2 1235,-.1 1236,-1.6 1237,1 1238,1.4 1239,4.2 1240,1 1241,-.5 1242,2.6 1243,-4.6 1244,6 1245,-2.4 1246,-.3 1247,-4.2 1248,6.5 1249,.9 1250,1 1251,-.6 1252,-1.6 1253,-3.5 1254,2.9 1255,3.4 1256,1.1 1257,-3.4 1258,4.3 1259,5.5 1260,4.5 1261,-1.9 1262,3.6 1263,-4.5 1264,.4 1265,3.6 1266,-1.4 1267,-3.6 1268,.8 1269,.8 1270,-10.2 1271,-2.8 1272,1 1273,-3.5 1274,2.7 1275,.3 1276,.5 1277,.5 1278,-4.1 1279,.7 1280,-.7 1281,-4.4 1282,-3.1 1283,1.1 1284,.3 1285,-9.9 1286,-3.4 1287,-6.9 1288,-2.6 1289,3 1290,.7 1291,1.9 1292,-2.3 1293,2.9 1294,4.6 1295,2.4 1296,3.9 1297,-2.3 1298,-2.1 1299,2.5 1300,-2 1301,4.9 1302,-3.1 1303,1.4 1304,-.9 1305,-1.7 1306,.2 1307,-1.4 1308,-.4 1309,-.5 1310,.2 1311,5.2 1312,-.6 1313,4.2 1314,2.6 1315,2.6 1316,-4.9 1317,-8.1 1318,1.1 1319,-7.4 1320,2.3 1321,.9 1322,-1.7 1323,3.1 1324,3.3 1325,1.4 1326,-.2 1327,-3.5 1328,-.4 1329,.2 1330,-4.5 1331,-1.7 1332,4.8 1333,-.3 1334,-1.8 1335,-.5 1336,0 1337,3 1338,-4.7 1339,-2.1 1340,-.8 1341,7.3 1342,-1.4 1343,-4.4 1344,-4.6 1345,-6.7 1346,1.1 1347,3.7 1348,-.4 1349,4.1 1350,2.4 1351,-2 1352,.7 1353,-.1 1354,-2.3 1355,3.3 1356,-3.1 1357,3.4 1358,1.2 1359,-.1 1360,-.6 1361,.3 1362,-1.1 1363,0 1364,.6 1365,3.9 1366,-2.3 1367,-2 1368,.5 1369,2.1 1370,2.8 1371,-8.4 1372,.7 1373,2.4 1374,-3 1375,7.2 1376,-1.6 1377,-4.5 1378,.3 1379,-2.1 1380,-.6 1381,-1.9 1382,-5.6 1383,-1.1 1384,.1 1385,4.4 1386,-5 1387,.9 1388,2.1 1389,2.5 1390,-1.4 1391,-.3 1392,2.4 1393,2.5 1394,.3 1395,-1.2 1396,-.9 1397,.6 1398,3.9 1399,6.4 1400,-1.3 1401,1.6 1402,-4.7 1403,-6 1404,3.7 1405,-1 1406,-3.4 1407,2.4 1408,-4.1 1409,-1.6 1410,4.6 1411,3.1 1412,-4.3 1413,1.2 1414,1.4 1415,-.5 1416,-1.6 1417,-2.1 1418,-5.1 1419,.2 1420,-4.1 1421,-1.9 1422,-.1 1423,-8 1424,-2.7 1425,1.8 1426,-.3 1427,1.1 1428,4.3 1429,1.6 1430,-3 1431,-1.5 1432,-.9 1433,-2.1 1434,2.9 1435,4.6 1436,.4 1437,4.3 1438,3.2 1439,.4 1440,-3.7 1441,2.9 1442,4.3 1443,1.8 1444,-3.6 1445,3.5 1446,-4.4 1447,.3 1448,-3.3 1449,-.9 1450,-1.8 1451,4.3 1452,1.8 1453,-3.5 1454,-.9 1455,-.7 1456,-4.4 1457,-.3 1458,2.6 1459,-5.5 1460,-7.4 1461,-2.3 1462,-4.2 1463,-3 1464,-1.3 1465,.5 1466,-2.8 1467,3.2 1468,4.1 1469,1.3 1470,-2.6 1471,-1.9 1472,-3.8 1473,.8 1474,4.7 1475,-2.1 1476,-.8 1477,4.2 1478,-.9 1479,0 1480,-2.2 1481,-3.4 1482,.8 1483,1.5 1484,.2 1485,-2 1486,2.2 1487,-4 1488,-1.5 1489,-.3 1490,2.8 1491,-3.1 1492,-4.5 1493,1.3 1494,1.6 1495,1.6 1496,3 1497,.4 1498,2.8 1499,-.3 1500,1.4 1501,5.8 1502,2.2 1503,-.2 1504,2.9 1505,1.2 1506,-3.2 1507,-6.2 1508,-2.2 1509,2.7 1510,-.6 1511,-1.1 1512,3.3 1513,1.1 1514,1.9 1515,-1.3 1516,5.1 1517,-2.3 1518,.6 1519,.6 1520,2.6 1521,3.3 1522,-3.2 1523,4 1524,4.8 1525,.8 1526,-4.1 1527,-5.5 1528,-2.3 1529,-1.7 1530,6.3 1531,-4.9 1532,-2.3 1533,1.3 1534,1 1535,1.2 1536,.7 1537,1.2 1538,-.1 1539,1 1540,1.5 1541,9.6 1542,-2.1 1543,4.8 1544,-.5 1545,2.9 1546,2 1547,-1.2 1548,2.7 1549,-.8 1550,.4 1551,-.3 1552,3.9 1553,2.9 1554,-1.2 1555,0 1556,-5.2 1557,.3 1558,-1.7 1559,5.3 1560,-.2 1561,3.2 1562,-1.2 1563,8.9 1564,-2.2 1565,-3.4 1566,2.1 1567,-.9 1568,.6 1569,.2 1570,2.5 1571,4.8 1572,2.5 1573,1.2 1574,0 1575,1 1576,4.4 1577,4 1578,.1 1579,1.3 1580,-3.9 1581,.4 1582,-3.2 1583,-2.3 1584,.6 1585,.9 1586,-2 1587,-.8 1588,.6 1589,3 1590,1.4 1591,1.2 1592,2.6 1593,2.2 1594,.9 1595,3.4 1596,4.7 1597,-3 1598,.4 1599,-5 1600,1.5 1601,-2.6 1602,-.2 1603,-1.2 1604,.2" stroke="#984EA3" stroke-width="4.3"/>
<polyline transform="translate(1411.40 1327) scale(0.2866 1)" vector-effect="non-scaling-stroke" points="1,1 2,1 3,1 4,1 5,1 6,1 7,1 8,1 9,1 10,1 11,1 12,1 13,1 14,1 15,1 16,1 17,1 18,1 19,1 20,1 21,1 22,1 23,1 24,1 25,1 26,1 27,1 28,1 29,1 30,1 31,1 32,1 33,1 34,1 35,1 36,1 37,1 38,1 39,1 40,1 41,1 42,1 43,1 44,1 45,1 46,1 47,1 48,1 49,1 50,1 51,1 52,1 53,1 54,1 55,1 56,1 57,1 58,1 59,1 60,.9 61,.7 62,.5 63,.1 64,.7 65,1.8 66,-.3 67,-5.6 68,-1.3 69,-1.7 70,-5.2 71,-10.9 72,-15.3 73,-15.5 74,-17 75,-16.6 76,-11.4 77,-4 78,-8 79,3.9 80,5.9 81,2.7 82,11.1 83,3.4 84,11.2 85,17.5 86,7.3 87,10.8 88,13.9 89,11.2 90,11.1 91,9.9 92,10.8 93,14.9 94,16.7 95,15.7 96,8.8 97,15.6 98,14.5 99,6.1 100,14.3 101,8.7 102,16.3 103,21.9 104,5.4 105,13.7 106,15.5 107,11.3 108,8.3 109,14.2 110,14.3 111,8.1 112,16.9 113,5.8 114,19.2 115,15.3 116,15.5 117,12.8 118,9.6 119,16.7 120,12.8 121,9.4 122,16.9 123,19.1 124,6.8 125,14.4 126,10.7 127,6 128,5.3 129,9.6 130,11.7 131,14.8 132,21.5 133,20.7 134,12.5 135,14.5 136,4.3 137,9.7 138,7.5 139,22.8 140,5.6 141,14.3 142,8.4 143,5.9 144,6.9 145,18.4 146,13 147,14.8 148,4.9 149,12.8 150,10.6 151,6.7 152,6.8 153,7.7 154,6.7 155,6.4 156,6.8 157,.3 158,14 159,11.7 160,9.4 161,11.5 162,11.6 163,6.1 164,3.5 165,5.1 166,11.8 167,14.3 168,10.2 169,10.4 170,9.5 171,5.8 172,4.7 173,18.3 174,11.6 175,5.3 176,6.3 177,-1 178,6.8 179,2.1 180,7 181,2.9 182,-5.5 183,12.1 184,3.6 185,7 186,2.2 187,9.8 188,11.1 189,5.6 190,4 191,9.9 192,6.2 193,1.4 194,5.7 195,11.5 196,6.6 197,12.3 198,7.3 199,14.5 200,5.5 201,6.9 202,12.3 203,6.6 204,15.9 205,10.2 206,6.9 207,9.1 208,9.1 209,8.4 210,4.6 211,3.6 212,8.4 213,8.5 214,10 215,4 216,5.3 217,8.9 218,2.2 219,6.5 220,2.5 221,9.5 222,7.4 223,8.1 224,4.3 225,-1.2 226,3.5 227,-5 228,1.3 229,-7.6 230,1.7 231,-.6 232,5.5 233,0 234,2.1 235,4.3 236,-.5 237,-1.1 238,-3.7 239,6.4 240,6.4 241,1 242,-6.5 243,8.1 244,9.9 245,-2 246,12.1 247,11.9 248,3.8 249,2.3 250,3.6 251,-7.8 252,1 253,3.2 254,12.3 255,3.3 256,-3.8 257,3.6 258,.5 259,.6 260,-3.2 261,-.7 262,1 263,.2 264,.7 265,-6.2 266,7.1 267,2.8 268,-.7 269,7.2 270,-2.2 271,-2.3 272,4.7 273,-.8 274,1.2 275,.1 276,-.7 277,3.6 278,3.8 279,6.8 280,1.5 281,7 282,.2 283,-3.6 284,1.7 285,2.1 286,1.7 287,3.5 288,-5.6 289,1 290,-2.1 291,.7 292,.6 293,-4.3 294,3 295,.9 296,-1.1 297,.9 298,-3.8 299,6.9 300,1.5 301,-1 302,-2.5 303,-4.6 304,.7 305,-13 306,-5.3 307,1.7 308,-5 309,.6 310,-4.6 311,-4.9 312,-3.7 313,-7 314,-4.4 315,-.5 316,4.3 317,8.7 318,-4.9 319,6.2 320,-5.9 321,-5 322,2.2 323,-4.8 324,.3 325,6.1 326,-1.4 327,-3 328,-4 329,-.6 330,3.5 331,-9.4 332,-4.3 333,3.5 334,3.1 335,-2.9 336,-8.8 337,-5.9 338,.2 339,0 340,2.8 341,-8.3 342,7.6 343,.8 344,2.9 345,2.4 346,-1.9 347,-3.3 348,-5.3 349,-1.2 350,.9 351,-10.7 352,-9.5 353,1.8 354,1.7 355,-2.6 356,5.5 357,3.8 358,-5.2 359,-3.1 360,-6.3 361,-5.4 362,.5 363,-10.6 364,-9.4 365,-1 366,-.6 367,-6.8 368,-.8 369,-7.5 370,-8.2 371,-3.2 372,-7.1 373,-4.2 374,-2 375,-1.6 376,1 377,-1.5 378,-.7 379,.1 380,-1.4 381,9.4 382,.1 383,-5.2 384,-2.4 385,-11 386,-2.8 387,-10.1 388,-10 389,-10.9 390,1 391,-3.5 392,1.4 393,-6.1 394,.2 395,9 396,-3.7 397,-5.7 398,.1 399,-4.1 400,-8 401,-2.2 402,-5.9 403,-8 404,-3 405,2.9 406,-3.2 407,-3.2 408,4.6 409,-6.3 410,3.2 411,1.6 412,-1.3 413,-2.8 414,-4.1 415,-7 416,2.4 417,8 418,1.8 419,.9 420,3.9 421,-5.5 422,1.7 423,.7 424,1.2 425,3 426,.6 427,-3 428,-3.6 429,-2.5 430,2.2 431,-4.5 432,.9 433,4.6 434,1.3 435,1.9 436,-4.5 437,-2.3 438,4.7 439,8.2 440,1 441,3.4 442,2.6 443,1.4 444,-6.6 445,-4.6 446,-1.2 447,-3.3 448,3.1 449,-2.2 450,2.1 451,4.1 452,-2.2 453,-4.3 454,.7 455,-7.5 456,1.2 457,.4 458,-3.4 459,2.3 460,1.1 461,3.2 462,-2.9 463,-.3 464,-7 465,-1.4 466,-2.1 467,-2.8 468,-5 469,-7.1 470,-9.9 471,3.9 472,5.8 473,10 474,-1.9 475,-2.4 476,-.3 477,-4.3 478,7.4 479,-5.2 480,1.9 481,6 482,5 483,3.3 484,-2.4 485,-.4 486,.9 487,1.4 488,-1.6 489,.9 490,-.7 491,3.6 492,-1.9 493,.5 494,-3.2 495,-4 496,3.2 497,-.2 498,5.2 499,2.3 500,5.8 501,0 502,-.2 503,15.9 504,2.9 505,-3.3 506,-1.5 507,2.8 508,2.4 509,4.7 510,4.9 511,.8 512,-2.4 513,3.7 514,-5.4 515,4.8 516,4.2 517,1.2 518,8.2 519,1.7 520,-4.5 521,4.6 522,4 523,.5 524,1.7 525,-6.5 526,-.3 527,.2 528,5.8 529,5.6 530,-5.2 531,4.2 532,3.4 533,9.1 534,3.3 535,3.7 536,.5 537,6.4 538,.3 539,-3.4 540,-.6 541,3.3 542,-6 543,4.6 544,2.8 545,-1.8 546,8.9 547,-2.7 548,-.1 549,4.9 550,-2 551,.5 552,9.5 553,2.1 554,5.1 555,-4.9 556,5.6 557,1.6 558,-2.9 559,1.2 560,2.2 561,6.3 562,4.5 563,8.4 564,3.9 565,1.7 566,.1 567,0 568,-1.9 569,-1 570,-6 571,-3.6 572,-6.3 573,3.4 574,6.4 575,2.5 576,5.2 577,4.6 578,12.6 579,4.8 580,3.8 581,-3.8 582,1.6 583,6 584,4.3 585,-.2 586,-4 587,-.5 588,-.1 589,4.9 590,4.4 591,-5.2 592,9.8 593,0 594,8.9 595,4.9 596,-.4 597,8 598,-3.8 599,-.4 600,-2.6 601,-5.7 602,4.3 603,5.6 604,2 605,9.2 606,8.8 607,4.5 608,.2 609,16.8 610,.8 611,7.6 612,1.2 613,-5.9 614,8.5 615,.1 616,5.2 617,4.3 618,-2 619,-.3 620,-3.1 621,2.2 622,-4.6 623,.8 624,-.9 625,-1.1 626,2.9 627,1.7 628,.1 629,.9 630,4 631,5.1 632,-.9 633,6 634,2.2 635,5 636,7.4 637,4.2 638,6.1 639,4.3 640,3.9 641,2.3 642,10.4 643,-8.6 644,-4.5 645,-14 646,-8.3 647,-21.6 648,-24.2 649,-19.6 650,-19.9 651,-18.5 652,-13.9 653,-13.8 654,-20.6 655,-13.3 656,-19.5 657,-21 658,-19.6 659,-19 660,-25.6 661,-20 662,-23.8 663,-23.6 664,-19.2 665,-22.5 666,-23.4 667,-27.3 668,-30.9 669,-24.2 670,-26.6 671,-25.2 672,-31.6 673,-17.2 674,-17.3 675,-32.1 676,-27.4 677,-27.2 678,-21.1 679,-27.6 680,-26.3 681,-30.3 682,-19.2 683,-28.6 684,-20.8 685,-23.9 686,-19.1 687,-28.2 688,-22.3 689,-21.5 690,-22.4 691,-23.9 692,-21.8 693,-23.7 694,-27.6 695,-47.2 696,-42.8 697,-48.7 698,-53.7 699,-55.5 700,-61.4 701,-48.6 702,-64.2 703,-56.2 704,-47 705,-30.9 706,-31.1 707,-20.8 708,-17.6 709,-11.9 710,-11.3 711,-11.5 712,-5.4 713,-4.3 714,3.5 715,-3.5 716,-5.1 717,-6.5 718,1.2 719,3.4 720,-6.7 721,-7.8 722,-11.2 723,-1.7 724,-.9 725,-11.7 726,-9.5 727,.3 728,-.9 729,-5.7 730,-6.8 731,-14.6 732,-17.9 733,-12.7 734,-12.9 735,-25.4 736,-20.3 737,-37.7 738,-38.4 739,-37.3 740,-39.2 741,-48 742,-52.8 743,-49.2 744,-40.4 745,-45.6 746,-48.1 747,-34.8 748,-43.1 749,-19.6 750,-30.2 751,-22.6 752,-26.3 753,-15.6 754,-10.8 755,-13.8 756,-2.4 757,-6 758,-13.8 759,-5.9 760,-2.3 761,-11.7 762,0 763,3.2 764,-5.6 765,-4.3 766,-7.9 767,-1.2 768,5 769,1.7 770,-4.2 771,-2.1 772,5.2 773,-.1 774,-5.2 775,-7.6 776,-5.6 777,-6.2 778,5.1 779,.5 780,-5.8 781,-4 782,-3.1 783,-.3 784,-.9 785,-5.8 786,3.8 787,-7.9 788,-6.7 789,-3 790,1.8 791,-4.7 792,-2.4 793,-11.6 794,-11.1 795,6.3 796,-10.9 797,1.1 798,-3.9 799,0 800,-7.3 801,-9.8 802,-4.5 803,-9 804,2.7 805,-8.9 806,-1.1 807,-10 808,-9.5 809,-11.8 810,-11.8 811,-13.8 812,-24.1 813,-21.5 814,-34.7 815,-40.1 816,-31.3 817,-44.7 818,-43.7 819,-31.4 820,-29.8 821,-24.7 822,-16.4 823,-13.2 824,-14.1 825,-17.4 826,-3.3 827,-.4 828,3.9 829,6.5 830,-4.4 831,-6.8 832,-8.7 833,-8.7 834,-7.2 835,-10.3 836,-16.4 837,-16.5 838,-22 839,-35.4 840,-32.7 841,-40.7 842,-43.1 843,-31.9 844,-25.5 845,-24.8 846,-23.9 847,-14.7 848,-10.8 849,-4.3 850,-12.6 851,1.9 852,-2.4 853,-9.3 854,-6.1 855,-10.1 856,-17.5 857,-11.9 858,-25.3 859,-26.7 860,-40 861,-44.6 862,-38 863,-31.2 864,-39.2 865,-23.3 866,-24.3 867,-12.2 868,-9.7 869,-11.5 870,-4.2 871,-9.8 872,-.8 873,12.7 874,-7.1 875,-12.8 876,-4.7 877,-8.7 878,-7.7 879,-4 880,2.2 881,2 882,.9 883,-1.2 884,-10.6 885,-1.1 886,-3.4 887,-13.3 888,-1.8 889,-5.3 890,-4.2 891,-5.4 892,-8.3 893,-2.7 894,-15.9 895,-13.8 896,-16.3 897,-19.2 898,-20.8 899,-29.3 900,-29.4 901,-30.8 902,-20.3 903,-18.9 904,-15.6 905,-5.7 906,-2.5 907,-4 908,-9.3 909,5.2 910,-11 911,-3.8 912,-9.7 913,-14.8 914,-18.7 915,-20.9 916,-17.2 917,-16 918,-21.4 919,-17.5 920,-12.8 921,-10.8 922,-1.6 923,-.9 924,-6.7 925,5.2 926,-2.3 927,10 928,-1.3 929,2.8 930,8.1 931,2.4 932,5.7 933,5.9 934,6.7 935,6.2 936,3.8 937,5.3 938,2.1 939,.6 940,7.3 941,5.2 942,3.8 943,3 944,3.3 945,.7 946,-.3 947,-1.4 948,-.2 949,1.9 950,3.5 951,6.4 952,2.9 953,-5.1 954,-.5 955,-1.5 956,-2.9 957,.5 958,5.6 959,8.2 960,5 961,3.2 962,-1.3 963,8 964,2.3 965,3.6 966,6 967,0 968,2.5 969,-6.1 970,1.9 971,.2 972,4.6 973,11.3 974,1.6 975,4.1 976,-6 977,11.9 978,9.4 979,-3.7 980,-.9 981,3.8 982,-2.9 983,-4.3 984,10.9 985,5.4 986,-2.1 987,8.9 988,7.3 989,5.6 990,-4.1 991,3.7 992,8.8 993,-1.4 994,2.9 995,2.2 996,3.9 997,.9 998,1.1 999,2 1000,4.6 1001,5.1 1002,4.4 1003,5.1 1004,11.6 1005,1.8 1006,.9 1007,0 1008,5.1 1009,5.4 1010,10.9 1011,5 1012,2 1013,3.4 1014,2.7 1015,5.8 1016,7.4 1017,-3.6 1018,-5.2 1019,-4.1 1020,0 1021,2.3 1022,1.7 1023,9.8 1024,3 1025,6.6 1026,1 1027,1 1028,6 1029,.7 1030,8 1031,1.8 1032,6.9 1033,4.7 1034,7.8 1035,-1 1036,4.5 1037,9.8 1038,4.6 1039,3.2 1040,4.1 1041,2.1 1042,3.4 1043,5.2 1044,-3.5 1045,-2.1 1046,-1.6 1047,10 1048,2.9 1049,8 1050,3.1 1051,.2 1052,-3.3 1053,5.7 1054,2.9 1055,4.2 1056,11.7 1057,4.2 1058,-2.3 1059,3.1 1060,1.3 1061,6.5 1062,6 1063,3.4 1064,-8.3 1065,0 1066,-1.7 1067,3.5 1068,5.5 1069,9 1070,.6 1071,7.4 1072,9.3 1073,4.1 1074,.8 1075,3.5 1076,6.7 1077,5.3 1078,2.9 1079,7.2 1080,5.2 1081,4 1082,8.1 1083,5.5 1084,-.6 1085,-5.4 1086,-2.1 1087,2.6 1088,8 1089,.1 1090,.3 1091,6.7 1092,3.4 1093,-1.9 1094,9.7 1095,12.8 1096,-.4 1097,5.5 1098,.4 1099,2.2 1100,2.1 1101,2.7 1102,6.2 1103,2.4 1104,.4 1105,3.9 1106,6.1 1107,8.1 1108,5.7 1109,2.4 1110,-.5 1111,10.4 1112,6.4 1113,6.3 1114,1 1115,2.5 1116,2.6 1117,3.3 1118,5.6 1119,2.9 1120,6.1 1121,8.9 1122,-4 1123,4.6 1124,8.4 1125,6.7 1126,3.8 1127,5.1 1128,12.1 1129,8.8 1130,8.3 1131,2.7 1132,4.8 1133,5.8 1134,11 1135,-1.4 1136,8.6 1137,1 1138,3.2 1139,4.2 1140,5.9 1141,2.3 1142,3.1 1143,1.7 1144,7.2 1145,7.6 1146,11.2 1147,7.5 1148,9.3 1149,9.1 1150,6.5 1151,-7.6 1152,1.8 1153,2.4 1154,-.8 1155,-1.1 1156,9.6 1157,12.5 1158,3 1159,6.5 1160,5.4 1161,5.1 1162,2.9 1163,-.6 1164,-.4 1165,7.6 1166,2.7 1167,13.9 1168,2.3 1169,4.7 1170,3.5 1171,3.5 1172,5.2 1173,3.6 1174,6.1 1175,8 1176,3.9 1177,2.8 1178,4 1179,-1.4 1180,3 1181,3.9 1182,-.7 1183,.5 1184,.7 1185,2.8 1186,5.7 1187,5.2 1188,-.2 1189,11.2 1190,-1.2 1191,6.8 1192,5.7 1193,5.1 1194,-.7 1195,6.2 1196,6.2 1197,6.7 1198,8.2 1199,3.2 1200,3.2 1201,2.5 1202,2.2 1203,-.7 1204,-4.6 1205,4.3 1206,2.9 1207,5.2 1208,6.8 1209,2.9 1210,3 1211,4.7 1212,14.7 1213,1.3 1214,6 1215,8.6 1216,2.2 1217,1.8 1218,6.3 1219,5.3 1220,3.3 1221,9.6 1222,8.8 1223,5.9 1224,10.1 1225,4.7 1226,2.9 1227,5.8 1228,.9 1229,4.8 1230,1.7 1231,2 1232,1 1233,-1.4 1234,-1.1 1235,6.9 1236,6 1237,4.4 1238,10.2 1239,5.7 1240,-3.3 1241,8.8 1242,3.3 1243,.5 1244,9.6 1245,8.9 1246,10 1247,5.5 1248,-.4 1249,9.7 1250,3.5 1251,3 1252,10.9 1253,2.8 1254,5.3 1255,5.8 1256,7.3 1257,10.3 1258,3.4 1259,-3.3 1260,2.3 1261,6 1262,-3.1 1263,6.5 1264,4.4 1265,7.4 1266,9.3 1267,7.5 1268,8.2 1269,6.5 1270,9.6 1271,3.1 1272,-.4 1273,10 1274,7 1275,1.3 1276,7.5 1277,7.1 1278,6.7 1279,4.9 1280,8.6 1281,-.9 1282,-1.2 1283,3.6 1284,8.2 1285,1.7 1286,5.2 1287,7.1 1288,3 1289,6.1 1290,5 1291,10.3 1292,4.7 1293,-2.6 1294,8.1 1295,10.4 1296,7 1297,3.5 1298,5.7 1299,6.2 1300,7.4 1301,5.3 1302,3.3 1303,1.8 1304,4.5 1305,.7 1306,7.3 1307,7.1 1308,16.4 1309,11.1 1310,8.8 1311,2.2 1312,7.2 1313,6.1 1314,5.5 1315,-.9 1316,6.9 1317,9.8 1318,9.4 1319,13.1 1320,10.9 1321,2 1322,-.3 1323,5 1324,3.8 1325,5.1 1326,4.9 1327,3.4 1328,1.7 1329,6.3 1330,2.2 1331,8.1 1332,7.9 1333,5.9 1334,10.1 1335,9.2 1336,7.9 1337,10.3 1338,10.7 1339,2 1340,6.3 1341,-.2 1342,8 1343,5.1 1344,3.8 1345,2.1 1346,7.6 1347,4.8 1348,12.4 1349,2.6 1350,4.5 1351,5.5 1352,8.6 1353,1 1354,7.4 1355,3.9 1356,6.7 1357,5.6 1358,7.7 1359,2.8 1360,7.6 1361,4.1 1362,2.9 1363,3 1364,-3.7 1365,7.1 1366,7.8 1367,4.3 1368,3.9 1369,2.6 1370,2 1371,3.9 1372,7.5 1373,12.1 1374,6.9 1375,3.4 1376,9 1377,6.5 1378,2 1379,4.6 1380,3.8 1381,5.3 1382,2.7 1383,2.2 1384,3.2 1385,6.2 1386,2.2 1387,8.4 1388,8 1389,7.8 1390,7.7 1391,6.8 1392,3.9 1393,1.7 1394,2.4 1395,6.4 1396,.6 1397,4.4 1398,3.1 1399,4.3 1400,2.2 1401,7.8 1402,6.8 1403,1.9 1404,8.8 1405,-1.1 1406,9.8 1407,7.5 1408,7.2 1409,3.9 1410,5.8 1411,7.8 1412,2.4 1413,6.6 1414,6.7 1415,11.9 1416,6.3 1417,5.9 1418,10.1 1419,2.8 1420,6.8 1421,4.5 1422,5.7 1423,1.3 1424,8.6 1425,9.3 1426,5.8 1427,5.5 1428,6.5 1429,2.5 1430,7.1 1431,.2 1432,3.5 1433,4.6 1434,6.9 1435,4.3 1436,5.1 1437,.7 1438,6.2 1439,-1.2 1440,4.8 1441,5.8 1442,4.5 1443,7.9 1444,7.1 1445,13.8 1446,1.6 1447,7.4 1448,4.4 1449,8.2 1450,4.7 1451,6 1452,10.9 1453,9.9 1454,6.9 1455,1.6 1456,7.3 1457,4.8 1458,.3 1459,6.5 1460,10.1 1461,5.7 1462,.3 1463,7.5 1464,6.9 1465,4.1 1466,1.9 1467,8.1 1468,1.1 1469,10.8 1470,1.6 1471,4.3 1472,.9 1473,14.4 1474,11.4 1475,8.8 1476,10.9 1477,6.8 1478,10 1479,5.8 1480,2.9 1481,3.6 1482,4.4 1483,7.5 1484,6.7 1485,8.3 1486,2.6 1487,9.4 1488,3.4 1489,5.8 1490,2.7 1491,10.8 1492,10.3 1493,1.4 1494,11.2 1495,1.7 1496,3.8 1497,7.7 1498,7.7 1499,7.9 1500,8.3 1501,4.3 1502,5.4 1503,4.6 1504,6.8 1505,6.3 1506,1.7 1507,3.5 1508,1.3 1509,6.5 1510,10.3 1511,4.7 1512,7.3 1513,2.6 1514,4.6 1515,6.8 1516,8.1 1517,.9 1518,3.3 1519,6.3 1520,9.6 1521,3.9 1522,8 1523,9.9 1524,3.8 1525,5.4 1526,5.4 1527,3.1 1528,6.6 1529,4.7 1530,8.4 1531,6.7 1532,5.9 1533,4.4 1534,8.8 1535,9.7 1536,7.2 1537,4.1 1538,4.3 1539,6 1540,4.4 1541,10.6 1542,4.4 1543,8.9 1544,8.3 1545,8 1546,12.3 1547,7.9 1548,6.9 1549,8.1 1550,7 1551,6.9 1552,7.9 1553,7.2 1554,3.6 1555,6.8 1556,3.3 1557,9 1558,4 1559,5.3 1560,5.3 1561,4.4 1562,7.8 1563,10.6 1564,4.8 1565,6.9 1566,11.2 1567,3.4 1568,5.2 1569,6.3 1570,7.6 1571,6.9 1572,11.8 1573,2.4 1574,6.2 1575,3.5 1576,14.1 1577,5.6 1578,5.4 1579,6.4 1580,7 1581,12.7 1582,5 1583,11.5 1584,2.7 1585,8.9 1586,12.1 1587,12 1588,8.1 1589,9.4 1590,5.4 1591,8.6 1592,8.9 1593,8.4 1594,7.8 1595,-1.8 1596,7.6 1597,4.6 1598,10.5 1599,3.6 1600,9.3 1601,6.7 1602,4.1 1603,7 1604,7.5" stroke="#4DAF4A" stroke-width="4.3"/>
<polyline transform="translate(1411.40 1408) scale(0.2866 1)" vector-effect="non-scaling-stroke" points="1,3.6 2,3.6 3,3.6 4,3.6 5,3.6 6,3.6 7,3.6 8,3.6 9,3.6 10,3.6 11,3.6 12,3.6 13,3.6 14,3.6 15,3.6 16,3.6 17,3.6 18,3.6 19,3.6 20,3.6 21,3.6 22,3.6 23,3.6 24,3.6 25,3.6 26,3.6 27,3.6 28,3.6 29,3.6 30,3.6 31,3.6 32,3.6 33,3.6 34,3.6 35,3.6 36,3.6 37,3.6 38,3.6 39,3.6 40,3.6 41,3.6 42,3.6 43,3.6 44,3.6 45,3.6 46,3.6 47,3.6 48,3.6 49,3.6 50,3.6 51,3.6 52,3.6 53,3.6 54,3.6 55,3.6 56,3.7 57,3.8 58,3.9 59,4 60,4.1 61,4.2 62,4.3 63,4.3 64,3.9 65,3.7 66,4.3 67,4.4 68,.8 69,7.3 70,3.2 71,.9 72,3.2 73,5 74,7.2 75,-.1 76,7.6 77,14.7 78,-1.1 79,3.2 80,8.5 81,13 82,11.8 83,11.9 84,14.1 85,13.2 86,11.7 87,10.7 88,15 89,17.5 90,8.9 91,16.6 92,9 93,8.5 94,7.4 95,15.7 96,14.5 97,11.5 98,12.3 99,1.6 100,17.3 101,13.8 102,13.4 103,8.7 104,20.9 105,18.8 106,6.1 107,15.2 108,13.6 109,21.5 110,12.3 111,14.9 112,16 113,17.5 114,13.8 115,16.3 116,11.7 117,6.9 118,18.3 119,15.5 120,9.4 121,7.6 122,27.1 123,14.7 124,16.6 125,28.6 126,10 127,4.9 128,13.1 129,14.9 130,8.7 131,12.2 132,12.3 133,11.3 134,18.4 135,18.1 136,13.7 137,16.3 138,15.9 139,11.3 140,13.3 141,14 142,15 143,19.2 144,15.9 145,19.3 146,14.9 147,12.7 148,9.7 149,14.7 150,19.6 151,17.9 152,17.9 153,11.3 154,13.8 155,12.9 156,12.6 157,22.4 158,25 159,13.4 160,15.8 161,6.5 162,13.5 163,14.1 164,18.2 165,9.8 166,16.3 167,11 168,14.1 169,12.9 170,17.6 171,12.4 172,13.7 173,15.2 174,11.4 175,11 176,17.3 177,19.3 178,3.7 179,16 180,6.2 181,11.6 182,16.4 183,11.9 184,13.7 185,17.4 186,17.7 187,10.8 188,17.7 189,16.5 190,14.9 191,14.4 192,12 193,15.4 194,16.8 195,13.4 196,25 197,22.6 198,14.3 199,8.9 200,18.9 201,13.6 202,14.8 203,8.7 204,8 205,4.9 206,6.1 207,15.2 208,7 209,15.5 210,12.1 211,11.7 212,14.6 213,15.1 214,11.8 215,18.5 216,2.2 217,13.5 218,12.9 219,11.7 220,9.3 221,14.4 222,8 223,13.4 224,5.4 225,14.4 226,16.1 227,11.9 228,13.1 229,11.8 230,26.6 231,9.9 232,17.8 233,14.5 234,15.2 235,14.9 236,19.9 237,19.3 238,10.7 239,12.8 240,18.3 241,18.3 242,13.8 243,10.5 244,11.1 245,15.1 246,17.3 247,5.4 248,17.8 249,13.5 250,8.3 251,17.4 252,19.5 253,13.5 254,12 255,13 256,18.2 257,7.5 258,12.5 259,18.1 260,17.4 261,12 262,5.2 263,18 264,17 265,10.2 266,18.9 267,18.1 268,17.5 269,17.7 270,8.8 271,14.9 272,21.3 273,5.2 274,12.4 275,20 276,19.6 277,9.6 278,13.1 279,11.5 280,15.4 281,16 282,17.8 283,18 284,20.3 285,13.3 286,11.5 287,16.9 288,20.6 289,10.7 290,13.6 291,14.7 292,19.6 293,14.7 294,11.3 295,10.6 296,17.7 297,17.6 298,9.7 299,21.9 300,5.8 301,12.5 302,13.6 303,21.4 304,9.9 305,18 306,11.9 307,16.4 308,15.2 309,9.4 310,12.5 311,12.7 312,13 313,8.9 314,8.1 315,16.3 316,9.7 317,10.2 318,12.1 319,23 320,18.2 321,14.6 322,14.7 323,15 324,8.7 325,14.2 326,16.1 327,15.2 328,9.4 329,14.1 330,15 331,26 332,16.5 333,13.6 334,16.4 335,13.5 336,12.3 337,14.1 338,12.9 339,13.2 340,12.2 341,9.8 342,5.9 343,13.7 344,4.1 345,16.9 346,9.1 347,14.5 348,11.7 349,8.9 350,6.8 351,11.7 352,20.4 353,15.3 354,16.9 355,12.1 356,13.1 357,16.8 358,18.2 359,13.7 360,16.3 361,9.3 362,16.1 363,6.4 364,9.6 365,19.2 366,15.7 367,13.7 368,18.3 369,12.1 370,14.7 371,7.9 372,8.1 373,16.6 374,14.7 375,16.4 376,10.1 377,15.3 378,10.7 379,15.1 380,13.6 381,15.3 382,14.2 383,8.8 384,8.5 385,14.9 386,13.9 387,5 388,14.6 389,24 390,20.3 391,15.3 392,15.9 393,13.8 394,8.2 395,14.3 396,11.6 397,11.9 398,11 399,15.4 400,8.6 401,10.2 402,7.5 403,17.3 404,11 405,14.5 406,11.1 407,11.2 408,8.4 409,6.2 410,8.1 411,11.3 412,11.2 413,5.8 414,10.5 415,10.7 416,6.6 417,4.4 418,3.2 419,1.6 420,.2 421,-.7 422,-1.7 423,-2.9 424,-4.3 425,-5.5 426,-6.1 427,-5.8 428,-4.9 429,-3.9 430,-3 431,-2.4 432,-2 433,-1.5 434,-.9 435,-.2 436,.2 437,.5 438,.8 439,1.5 440,2.6 441,3.8 442,4.8 443,5.4 444,5.8 445,6.2 446,6.7 447,7.5 448,8.3 449,9.3 450,10.3 451,11.5 452,12.5 453,13.3 454,13.6 455,13.8 456,13.7 457,13.1 458,12.4 459,11.8 460,10.9 461,9.7 462,8.2 463,6.6 464,5.3 465,4.3 466,3.6 467,3.2 468,2.6 469,1.5 470,-.4 471,-2.8 472,-5.4 473,-7.8 474,-9.5 475,-10.7 476,-11.5 477,-12 478,-11.9 479,-11.5 480,-10.9 481,-10 482,-9 483,-8.2 484,-8 485,-8.3 486,-8.9 487,-9.4 488,-9.2 489,-8.1 490,-6.6 491,-5.2 492,-4.5 493,-4.5 494,-5 495,-5.7 496,-6.5 497,-7.4 498,-8.3 499,-8.9 500,-9.1 501,-9.1 502,-9.1 503,-9.2 504,-9.5 505,-9.7 506,-9.9 507,-10.3 508,-10.9 509,-11.8 510,-12.7 511,-13.6 512,-14.6 513,-15.7 514,-16.7 515,-17.5 516,-17.9 517,-17.9 518,-17.9 519,-18.1 520,-18.7 521,-19.8 522,-21 523,-22.2 524,-23.2 525,-23.8 526,-24.3 527,-24.8 528,-25.3 529,-25.7 530,-26 531,-25.8 532,-24.9 533,-23.7 534,-22.6 535,-21.9 536,-21.5 537,-21.4 538,-21.1 539,-20.9 540,-20.6 541,-20.3 542,-19.9 543,-19.1 544,-18.1 545,-17.3 546,-16.9 547,-17 548,-17.1 549,-17 550,-16.7 551,-16.6 552,-16.9 553,-17.2 554,-17.6 555,-17.8 556,-18 557,-18.3 558,-18.5 559,-18.6 560,-18.7 561,-19 562,-19.6 563,-20.1 564,-20.5 565,-20.4 566,-20.2 567,-20.1 568,-20.5 569,-21.3 570,-22.4 571,-23.5 572,-24.4 573,-25.2 574,-25.9 575,-26.5 576,-27.2 577,-28 578,-28.7 579,-29.5 580,-30.2 581,-30.9 582,-31.3 583,-31.6 584,-31.8 585,-31.7 586,-31.3 587,-30.8 588,-30.9 589,-31.4 590,-32.1 591,-32.1 592,-31.3 593,-29.8 594,-28.1 595,-26.7 596,-26 597,-25.8 598,-25.8 599,-25.7 600,-25.4 601,-24.7 602,-24 603,-23.1 604,-22.1 605,-20.8 606,-19.1 607,-17.2 608,-15.4 609,-14.2 610,-13.5 611,-13.3 612,-13.7 613,-15.1 614,-17.2 615,-19.5 616,-21.8 617,-24.1 618,-26.2 619,-28.3 620,-30.1 621,-31.1 622,-31.6 623,-31.7 624,-31.3 625,-30.2 626,-28.5 627,-26.6 628,-25 629,-24.2 630,-24.2 631,-24.9 632,-25.9 633,-26.6 634,-26.9 635,-26.5 636,-25.8 637,-25 638,-24.3 639,-24.1 640,-24.1 641,-24.1 642,-24 643,-23.4 644,-22.6 645,-21.9 646,-21.5 647,-21.6 648,-22.3 649,-23.4 650,-24.6 651,-25.9 652,-27.1 653,-28 654,-28.6 655,-28.7 656,-28.6 657,-28.5 658,-28.6 659,-29.1 660,-29.9 661,-30.9 662,-31.9 663,-33.1 664,-34.6 665,-36.5 666,-38.6 667,-40.6 668,-42.1 669,-42.6 670,-41.9 671,-40.5 672,-39 673,-37.8 674,-37.1 675,-36.5 676,-36.1 677,-35.8 678,-35.5 679,-35.1 680,-34.8 681,-34.9 682,-35.1 683,-35.1 684,-34.7 685,-34.4 686,-35.1 687,-37.3 688,-41 689,-45.8 690,-50.8 691,-55.4 692,-58.6 693,-59.7 694,-58.5 695,-54.9 696,-49.7 697,-43.9 698,-38.5 699,-34.2 700,-31.2 701,-29.5 702,-28.8 703,-28.6 704,-28.3 705,-27.9 706,-27.2 707,-26.6 708,-26 709,-25.6 710,-24.8 711,-23.5 712,-21.7 713,-20.1 714,-18.9 715,-18 716,-16.9 717,-15.3 718,-13.3 719,-11.4 720,-10.1 721,-9.6 722,-9.6 723,-10.2 724,-11.5 725,-12.9 726,-14.1 727,-15.5 728,-17.8 729,-21.1 730,-25.1 731,-29.2 732,-33.2 733,-36.9 734,-39.2 735,-39.5 736,-37.8 737,-34.7 738,-31.4 739,-28.6 740,-26.8 741,-25.8 742,-25.2 743,-24.7 744,-24 745,-23.1 746,-22.1 747,-21.2 748,-20.6 749,-20.3 750,-20.3 751,-20.5 752,-20.7 753,-20.8 754,-20.7 755,-20.7 756,-20.7 757,-20.3 758,-19.6 759,-18.5 760,-17.4 761,-16.4 762,-15.7 763,-15.3 764,-15 765,-14.8 766,-14.4 767,-14.1 768,-14.1 769,-14.4 770,-15.2 771,-16.1 772,-16.7 773,-16.7 774,-16.1 775,-15.1 776,-14.1 777,-13.3 778,-13 779,-13.3 780,-14.1 781,-15.2 782,-16.2 783,-16.9 784,-17.5 785,-18.1 786,-18.5 787,-18.8 788,-19 789,-19 790,-18.8 791,-18.6 792,-18.5 793,-18.5 794,-18.8 795,-19.7 796,-21.2 797,-22.8 798,-24.1 799,-24.5 800,-24.1 801,-23.5 802,-23.2 803,-23.1 804,-23.1 805,-23.2 806,-23.5 807,-24.1 808,-24.9 809,-25.6 810,-26 811,-26.1 812,-26 813,-25.9 814,-25.9 815,-26.1 816,-26.5 817,-26.9 818,-27.1 819,-27.2 820,-27.4 821,-27.8 822,-28.3 823,-28.8 824,-29.1 825,-29.5 826,-30.2 827,-32 828,-35.1 829,-39.6 830,-45.2 831,-51 832,-56.2 833,-59.9 834,-61 835,-59.1 836,-54.5 837,-48.3 838,-41.8 839,-36 840,-31.8 841,-29.4 842,-28.7 843,-29.2 844,-30.7 845,-32.8 846,-35.5 847,-38.7 848,-42.6 849,-47 850,-51.2 851,-54.4 852,-55.6 853,-54.3 854,-50.7 855,-46.1 856,-41.5 857,-37.9 858,-35.3 859,-33.6 860,-32.4 861,-31.6 862,-31.3 863,-31.6 864,-32.2 865,-32.5 866,-32.2 867,-31 868,-28.9 869,-26.7 870,-24.8 871,-23.3 872,-21.9 873,-20.6 874,-19.2 875,-17.6 876,-15.6 877,-13.4 878,-11.5 879,-9.7 880,-8.1 881,-7.2 882,-7.6 883,-8.8 884,-10.2 885,-11.6 886,-13.1 887,-14.8 888,-16.3 889,-16.8 890,-16.4 891,-15.3 892,-14.1 893,-13 894,-12.4 895,-12.3 896,-12.7 897,-12.9 898,-12.7 899,-12.1 900,-11.3 901,-10.7 902,-10.2 903,-9.4 904,-8.5 905,-7.6 906,-7 907,-6.9 908,-7.4 909,-8.1 910,-8.5 911,-8.5 912,-7.9 913,-6.9 914,-6 915,-5.1 916,-4.2 917,-3.3 918,-2.3 919,-1.7 920,-1.6 921,-1.8 922,-2.2 923,-2.6 924,-3 925,-3.3 926,-3.2 927,-2.7 928,-2 929,-1.1 930,-.4 931,.1 932,.5 933,1 934,1.6 935,2.2 936,2.2 937,1.6 938,.5 939,-.7 940,-1.7 941,-2.5 942,-3.5 943,-4.6 944,-5.6 945,-6.2 946,-6.2 947,-5.4 948,-4.2 949,-2.7 950,-1.5 951,-.8 952,-.9 953,-1.7 954,-2.6 955,-3.2 956,-3 957,-2.2 958,-1.2 959,-.6 960,-.6 961,-1.3 962,-2.3 963,-3.3 964,-3.8 965,-3.7 966,-3.5 967,-3.4 968,-3.4 969,-3 970,-3.3 971,-2.4 972,-1.2 973,3.6 974,8.7 975,8.4 976,20.8 977,14 978,14.7 979,12.8 980,13.6 981,16.1 982,16.3 983,14.9 984,8.2 985,10.7 986,14.4 987,5.4 988,8.1 989,13.7 990,8.8 991,9.9 992,9.9 993,12.6 994,11.3 995,15.5 996,12.5 997,10.5 998,11.1 999,18.8 1000,17.4 1001,15.5 1002,8.9 1003,13.2 1004,12.4 1005,10.4 1006,10.6 1007,9.7 1008,8.8 1009,16.2 1010,18.5 1011,11 1012,12.3 1013,11 1014,14.6 1015,11.5 1016,9.9 1017,13.8 1018,11 1019,4.2 1020,15.2 1021,14.7 1022,19 1023,12 1024,10.9 1025,15.1 1026,13.7 1027,7 1028,18 1029,12.7 1030,12.3 1031,11 1032,14.9 1033,17.6 1034,14.1 1035,7.9 1036,12 1037,16.6 1038,9.3 1039,9 1040,16.2 1041,12.3 1042,11.8 1043,11.7 1044,13.9 1045,10.3 1046,9.9 1047,9.4 1048,12.6 1049,9.9 1050,15.4 1051,14.6 1052,6.3 1053,13.7 1054,13.5 1055,11.6 1056,12.9 1057,10.5 1058,11.8 1059,7.5 1060,14.2 1061,16.1 1062,10.6 1063,17.8 1064,13.5 1065,17.4 1066,7.8 1067,6.2 1068,19.1 1069,11 1070,10.5 1071,12.2 1072,13.7 1073,15.6 1074,17.6 1075,12.5 1076,9.3 1077,11.2 1078,11 1079,9.7 1080,13 1081,9.9 1082,15.6 1083,12.5 1084,7.2 1085,10.6 1086,11.3 1087,9.8 1088,12.6 1089,12.9 1090,13.3 1091,11.2 1092,12.1 1093,13.3 1094,17.7 1095,11.6 1096,11.4 1097,13.1 1098,10 1099,10.8 1100,11.6 1101,17 1102,14.8 1103,7.6 1104,10.9 1105,10.8 1106,16.3 1107,6 1108,12 1109,14.9 1110,11.8 1111,7.3 1112,3.8 1113,14.8 1114,12.7 1115,14.1 1116,9.3 1117,11.9 1118,.2 1119,15 1120,8.4 1121,16 1122,12.7 1123,12.8 1124,9.3 1125,9.6 1126,11.1 1127,11.9 1128,12.4 1129,12.8 1130,10 1131,11 1132,9.3 1133,9.4 1134,9.7 1135,10.6 1136,4 1137,11.4 1138,13.1 1139,10.4 1140,15.1 1141,11.1 1142,11 1143,18.5 1144,15.5 1145,11.3 1146,11.2 1147,8.9 1148,11.5 1149,15.7 1150,11.9 1151,16.6 1152,16.4 1153,10.2 1154,11.1 1155,3.9 1156,9.3 1157,12.1 1158,4.4 1159,15.2 1160,10.2 1161,9.3 1162,9.7 1163,12.8 1164,9.2 1165,10.9 1166,14.8 1167,8.5 1168,12 1169,5.3 1170,15.6 1171,10.7 1172,12.2 1173,8.4 1174,12.4 1175,9.6 1176,8.6 1177,12.8 1178,11.3 1179,11.5 1180,18.3 1181,15.9 1182,3.9 1183,10.7 1184,15.3 1185,10.6 1186,8.1 1187,10.3 1188,10.7 1189,11.2 1190,6.6 1191,8.6 1192,7.4 1193,12.5 1194,8.6 1195,11.8 1196,14.9 1197,8.7 1198,7.6 1199,12.1 1200,14.4 1201,13.1 1202,6.2 1203,10.4 1204,15 1205,13.8 1206,3.6 1207,7.9 1208,8.8 1209,12.6 1210,9.1 1211,6.7 1212,5.2 1213,9.3 1214,12.2 1215,9.1 1216,7.6 1217,4.6 1218,11.6 1219,12.4 1220,11.9 1221,9.6 1222,12 1223,10.1 1224,14.8 1225,10.3 1226,9.9 1227,4.6 1228,14.1 1229,7.2 1230,7.8 1231,6 1232,15.8 1233,13.8 1234,6.6 1235,5.8 1236,10.8 1237,11.1 1238,11.2 1239,8.2 1240,10.4 1241,6.9 1242,6.1 1243,8.2 1244,5.5 1245,11.4 1246,11.1 1247,10.2 1248,9.7 1249,15.1 1250,11 1251,12.6 1252,12.9 1253,3.3 1254,10.6 1255,10.5 1256,8.1 1257,8.5 1258,9.4 1259,9.5 1260,10.1 1261,9.6 1262,8.8 1263,7.5 1264,10.1 1265,8 1266,6 1267,11.8 1268,11.3 1269,8.2 1270,11.9 1271,7.4 1272,6.5 1273,5.6 1274,9.6 1275,6 1276,10.7 1277,11.6 1278,11.7 1279,6.1 1280,5.8 1281,5.3 1282,9.3 1283,9.6 1284,7.6 1285,11.7 1286,8 1287,9.4 1288,12.2 1289,6.4 1290,5.4 1291,6.6 1292,9.2 1293,7.8 1294,10.9 1295,14.8 1296,3.1 1297,6 1298,11.3 1299,12.7 1300,9.1 1301,9.7 1302,7.2 1303,9.5 1304,11.9 1305,7.2 1306,12.8 1307,9.6 1308,6.5 1309,3.7 1310,9.3 1311,10.4 1312,4.9 1313,12.9 1314,2.4 1315,7.6 1316,9.5 1317,6.8 1318,10 1319,5 1320,10.8 1321,-.1 1322,9.5 1323,12.5 1324,9 1325,6.3 1326,10.4 1327,7 1328,11.5 1329,6.6 1330,8.9 1331,7.2 1332,8.3 1333,7.8 1334,11.8 1335,4 1336,6.1 1337,6.6 1338,7.8 1339,8.9 1340,9.5 1341,13.8 1342,5.3 1343,7.4 1344,4.7 1345,10.5 1346,2.3 1347,3.7 1348,8.8 1349,7.6 1350,10.7 1351,5.5 1352,5.4 1353,6.5 1354,5.6 1355,17.1 1356,6.7 1357,8.1 1358,7.5 1359,8.3 1360,7 1361,6 1362,10.1 1363,4 1364,3.2 1365,6.8 1366,8.5 1367,4 1368,6.9 1369,3 1370,9.4 1371,5.6 1372,4.1 1373,3.7 1374,11.5 1375,10.3 1376,7 1377,10.1 1378,7.3 1379,9.1 1380,6.8 1381,4.8 1382,5.2 1383,4.2 1384,5.5 1385,7.1 1386,9.1 1387,8.6 1388,6.3 1389,11.5 1390,10.1 1391,10.5 1392,9.1 1393,8.2 1394,11.5 1395,6.2 1396,7.9 1397,6.5 1398,.1 1399,10.6 1400,4.8 1401,6.6 1402,6.4 1403,8.3 1404,13.7 1405,4.7 1406,8.7 1407,3.5 1408,11.6 1409,7.5 1410,7 1411,11.1 1412,5.8 1413,5.3 1414,5.3 1415,6.7 1416,6.3 1417,4.6 1418,9.8 1419,4.1 1420,1.2 1421,12.9 1422,11 1423,9.1 1424,7.2 1425,6.6 1426,2.3 1427,5.7 1428,11.2 1429,10 1430,5.6 1431,-.3 1432,8.7 1433,7.1 1434,8.7 1435,6.6 1436,6.1 1437,6.6 1438,5.2 1439,11.2 1440,8.4 1441,2 1442,2.7 1443,7.2 1444,4.4 1445,14.1 1446,7.3 1447,6.2 1448,5.5 1449,8.2 1450,8.8 1451,7.9 1452,3.9 1453,9.8 1454,4.9 1455,5.9 1456,4.6 1457,10 1458,3.8 1459,3.8 1460,10.7 1461,10.2 1462,6 1463,6.4 1464,10.4 1465,9.4 1466,8.5 1467,13.7 1468,2.3 1469,4.8 1470,6.2 1471,7.1 1472,7.6 1473,-1.1 1474,7 1475,6.6 1476,7.7 1477,9.4 1478,5.5 1479,9.2 1480,4.1 1481,13.3 1482,6.6 1483,9.9 1484,.1 1485,11.4 1486,9.2 1487,5 1488,9.2 1489,7 1490,8.8 1491,5.4 1492,11.5 1493,6.9 1494,8.2 1495,3.4 1496,12.1 1497,8 1498,9.2 1499,8.1 1500,12.4 1501,6.7 1502,7.5 1503,7.7 1504,9.6 1505,6.7 1506,8.2 1507,2.3 1508,9.5 1509,11.3 1510,8.3 1511,8.8 1512,6.4 1513,3 1514,2.4 1515,6.6 1516,10.5 1517,9.5 1518,5.5 1519,10.2 1520,6 1521,3.7 1522,17.6 1523,10.9 1524,5.5 1525,7.6 1526,4.7 1527,7 1528,9.7 1529,8.5 1530,11.7 1531,8.5 1532,8.7 1533,10.1 1534,7.3 1535,-2.8 1536,10.1 1537,3.8 1538,6.6 1539,5.3 1540,11 1541,7.5 1542,8.2 1543,1 1544,9.1 1545,12.1 1546,7.6 1547,8.1 1548,13.4 1549,9.1 1550,6.6 1551,13.9 1552,6.5 1553,13.4 1554,9.4 1555,6.1 1556,5.6 1557,12.2 1558,11.7 1559,9.7 1560,7.9 1561,11.9 1562,9 1563,8.9 1564,9.3 1565,3.5 1566,5.8 1567,10 1568,8.5 1569,8.5 1570,6.2 1571,10.8 1572,8.2 1573,8.2 1574,5.3 1575,3.2 1576,6.4 1577,10.2 1578,8.5 1579,11.6 1580,9.5 1581,8.1 1582,1.8 1583,11.7 1584,7.4 1585,7 1586,5.2 1587,9.3 1588,11 1589,6.2 1590,8.9 1591,8.5 1592,9.4 1593,7 1594,7.2 1595,7.1 1596,8.6 1597,6.7 1598,15.3 1599,10.5 1600,12.1 1601,15.9 1602,11.7 1603,7.8 1604,9.1" stroke="#377EB8" stroke-width="4.3"/>
<polyline transform="translate(1411.40 1490) scale(0.2866 1)" vector-effect="non-scaling-stroke" points="1,2 2,2 3,2 4,2 5,2 6,2 7,2 8,2 9,2 10,2 11,2 12,2 13,2 14,2 15,2 16,2 17,2 18,2 19,2 20,2 21,2 22,2 23,2 24,2 25,2 26,2 27,2 28,2 29,2 30,2 31,2 32,2 33,2 34,2 35,2 36,2 37,2 38,2 39,2 40,2 41,2 42,2 43,2 44,2 45,2 46,2 47,2 48,2 49,2 50,2 51,2 52,2 53,2 54,2 55,2 56,2 57,2 58,2 59,2 60,2.1 61,2.2 62,2.4 63,3 64,2.3 65,3.4 66,4.1 67,3.2 68,2.5 69,3.5 70,3.4 71,6.1 72,8.4 73,3.1 74,11.2 75,7 76,3.7 77,9.7 78,14.4 79,2.5 80,10.2 81,14.1 82,7.3 83,9.4 84,16.3 85,13.8 86,5.1 87,15.7 88,5.8 89,20.1 90,14.9 91,12.3 92,14.6 93,13.5 94,23.9 95,14.8 96,15.8 97,16.6 98,18.1 99,15.5 100,23.2 101,14.6 102,14.1 103,24 104,22.5 105,17.2 106,23.1 107,22.8 108,20.4 109,20.9 110,14.3 111,17.9 112,8.9 113,21.8 114,28.4 115,16.5 116,18.6 117,16 118,23.4 119,13.8 120,18.3 121,24.9 122,21.1 123,18.1 124,22.9 125,15.5 126,22.3 127,21.2 128,17.2 129,19.8 130,23.3 131,27.3 132,17.4 133,18.4 134,24.8 135,21.1 136,22.8 137,20.4 138,21.9 139,25.9 140,22.2 141,27.4 142,26.7 143,20.9 144,25.2 145,26.9 146,16 147,25.1 148,14.3 149,28.7 150,19.9 151,21.3 152,18 153,24.8 154,21.5 155,26.6 156,31.5 157,20.1 158,24.7 159,27.3 160,25.5 161,20.2 162,26.7 163,23.5 164,19.9 165,28.5 166,25.1 167,20.5 168,21.2 169,24.8 170,23.3 171,28.4 172,22 173,15.9 174,25.7 175,31 176,23.7 177,24.7 178,39.2 179,29.1 180,29.7 181,22.3 182,28.4 183,32 184,34.5 185,22.8 186,28.8 187,33.1 188,38.8 189,33.1 190,27.5 191,32.7 192,37.7 193,34.5 194,22.8 195,31.4 196,25.6 197,30 198,24.4 199,32.4 200,30 201,20.4 202,31.7 203,41.1 204,32 205,32.6 206,29.7 207,34.8 208,36.7 209,30.7 210,33.1 211,31.2 212,32.1 213,27 214,34.1 215,20.4 216,26.3 217,30.1 218,35.1 219,30.5 220,35.5 221,26.1 222,31 223,31.9 224,30.5 225,41.1 226,34.2 227,37.9 228,26.7 229,30.2 230,33.5 231,43.5 232,35.5 233,25.4 234,43.4 235,37.2 236,29.7 237,34.6 238,30.6 239,31.3 240,32 241,29.9 242,31.2 243,24.6 244,33.7 245,35.7 246,35.2 247,40.2 248,38.5 249,33.2 250,41.6 251,40.2 252,31.7 253,38.4 254,39.4 255,37.1 256,38.9 257,40.9 258,36.3 259,38.8 260,40.7 261,31.4 262,43.9 263,40.9 264,46.3 265,36.1 266,38.1 267,37.7 268,29.1 269,39.9 270,48.8 271,39.8 272,37.1 273,35.1 274,42.8 275,44.8 276,37.4 277,37.4 278,38.7 279,37.4 280,37.1 281,42.3 282,38.2 283,38.2 284,40.9 285,37 286,39.9 287,30.4 288,36.9 289,46.1 290,36.6 291,44.8 292,40.5 293,40.9 294,46.3 295,37.2 296,43.1 297,28.3 298,38.4 299,34.9 300,44 301,45.6 302,47.2 303,42.6 304,37.9 305,42.6 306,34 307,39.9 308,37.7 309,34.6 310,33.9 311,37.2 312,39.3 313,39.2 314,42.9 315,38.1 316,40.2 317,38.7 318,47.5 319,42.1 320,48.2 321,36.1 322,33.2 323,43.1 324,37.3 325,36.5 326,47.9 327,48.2 328,33.1 329,42.5 330,42.7 331,50.7 332,34 333,46.2 334,41 335,39.9 336,41.5 337,44.3 338,44.1 339,38.4 340,32.2 341,38.2 342,38.5 343,24.9 344,39.7 345,34.2 346,22 347,36.9 348,32.6 349,30.9 350,32.9 351,30.4 352,22.2 353,32.9 354,28.9 355,27.3 356,13.3 357,24.4 358,21.8 359,27.6 360,28.3 361,26.4 362,15.3 363,25.7 364,19 365,20.5 366,20.3 367,13.9 368,17 369,22.3 370,15.9 371,19.4 372,22.7 373,21.5 374,19.8 375,25.2 376,13.3 377,13.2 378,18.5 379,16 380,15.6 381,16.1 382,11.2 383,19.6 384,17.6 385,21.4 386,27.1 387,16.9 388,4.2 389,3.1 390,17.2 391,6.5 392,11.1 393,16.3 394,3.9 395,8.9 396,17.9 397,16.4 398,12.7 399,16.3 400,11.9 401,12.2 402,9.1 403,16.6 404,20 405,7.2 406,12.8 407,6.3 408,8.6 409,6.1 410,5.3 411,10.2 412,15.7 413,6.8 414,4.2 415,5.9 416,3.8 417,12.1 418,12.6 419,7.7 420,4.5 421,7.5 422,2.4 423,6.8 424,5.8 425,4.2 426,3.9 427,12.1 428,6.5 429,6.2 430,7 431,7.2 432,10.1 433,.2 434,1.1 435,17.5 436,7.9 437,-.7 438,7.6 439,3.8 440,-.3 441,10.8 442,8.3 443,11.8 444,6.1 445,4.3 446,8.2 447,2.1 448,6.7 449,9.5 450,10.7 451,2.8 452,2.1 453,5.1 454,1 455,10.1 456,6.9 457,2.1 458,5.7 459,3.6 460,10.2 461,6.8 462,8.3 463,.7 464,9.8 465,-3 466,-.8 467,-4.7 468,.8 469,-.5 470,.2 471,-2 472,2.6 473,2.5 474,5.3 475,7.1 476,.7 477,-6.7 478,9.3 479,9.6 480,-9.5 481,10.9 482,5.8 483,6.2 484,-2.5 485,8.5 486,.2 487,-5.5 488,5 489,-3.9 490,4.3 491,-.4 492,4.6 493,1.6 494,-2.3 495,-2.6 496,-3.4 497,-6 498,.9 499,4.5 500,-8.9 501,2.3 502,4 503,2 504,1.6 505,2.7 506,4.2 507,1 508,-1.9 509,-1.9 510,-1.4 511,2.4 512,-4.7 513,-4.7 514,9.4 515,-12.9 516,-1.2 517,-14.3 518,-12.4 519,-8.8 520,-6.6 521,3.9 522,-5 523,-11.5 524,-8.8 525,3.6 526,-2.5 527,7.4 528,-10 529,-6.3 530,-.7 531,-4.7 532,-5.8 533,-3.3 534,-1.1 535,-6.4 536,-4.9 537,-2 538,.4 539,-7 540,-12.2 541,-9.6 542,-7.2 543,-5.3 544,-9.1 545,-3.1 546,-5.9 547,-9.2 548,-10.3 549,-7.5 550,-10 551,-7.9 552,-13.1 553,-.9 554,-13.3 555,-3.8 556,-10.5 557,-7.6 558,-9.1 559,-14 560,-5.4 561,-10.4 562,-11.3 563,-9.3 564,-11.9 565,-11.7 566,-4.4 567,-6.6 568,.2 569,-9.7 570,-7.2 571,-5.6 572,-13.6 573,-16 574,-.7 575,-13.2 576,-8.8 577,-10.5 578,-8.3 579,-13.8 580,-10.9 581,-7.8 582,-10.5 583,-8.9 584,-11.9 585,-17 586,-1.1 587,-8.7 588,-9.6 589,-12.3 590,-2.4 591,-17.3 592,-15.9 593,-13 594,-15.4 595,-6.9 596,-15.6 597,-12.7 598,-17.7 599,-14.6 600,-6.3 601,-14.6 602,-14.7 603,-7 604,-15.1 605,-16.4 606,-10.3 607,-9.2 608,-5.3 609,-11.8 610,-17 611,-21.3 612,-15.7 613,-13.5 614,-14.7 615,-19.3 616,-9.1 617,-8.2 618,-18.7 619,-14.5 620,-18 621,-13.8 622,-19.7 623,-10.6 624,-19.9 625,-12 626,-13.6 627,-17.7 628,-14.1 629,-12 630,-20.1 631,-21.3 632,-12.6 633,-18.2 634,-15.1 635,-9.6 636,-14.4 637,-19.4 638,-15.2 639,-10 640,-15.8 641,-17.4 642,-11.2 643,-15.9 644,-17.6 645,-16.7 646,-18.4 647,-19.2 648,-19.6 649,-19.6 650,-18 651,-13.3 652,-20.9 653,-14 654,-9.6 655,-17.4 656,-17.8 657,-11.6 658,-26 659,-32 660,-20.9 661,-28.4 662,-27 663,-19.2 664,-24.4 665,-25.6 666,-34.3 667,-39.3 668,-22.1 669,-26.1 670,-24.1 671,-25.4 672,-21.8 673,-17.2 674,-21.9 675,-18.1 676,-20.1 677,-11.4 678,-21.2 679,-20 680,-20.7 681,-21.7 682,-15 683,-19.2 684,-25.6 685,-20.9 686,-25.5 687,-31.3 688,-27.3 689,-33.3 690,-40.2 691,-54.1 692,-57.3 693,-47.6 694,-51.8 695,-50.7 696,-38.6 697,-38.9 698,-20.5 699,-21 700,-15.4 701,-14.1 702,-10.5 703,-12.6 704,-24.1 705,-17 706,-14.6 707,-15.4 708,-18.4 709,-14.1 710,-13.3 711,-23.6 712,-13.1 713,-10.6 714,-12.6 715,-12.6 716,-15.7 717,-19.5 718,-18 719,-14.4 720,-10 721,-21 722,-16.8 723,-15.7 724,-13.8 725,-12.6 726,-18.8 727,-24 728,-17.2 729,-22.7 730,-30.8 731,-36 732,-36.4 733,-26.8 734,-36.4 735,-37.8 736,-18.8 737,-18.8 738,-15.7 739,-15.4 740,-14.8 741,-15.3 742,-12.2 743,-18 744,-8.8 745,-16.2 746,-5.7 747,-15.6 748,-9.7 749,-14.6 750,-10.8 751,-12.3 752,-11.5 753,-13.2 754,-5 755,-8.4 756,-3.9 757,-11.5 758,2 759,-8.8 760,-9.5 761,-6.6 762,-9.6 763,-8.2 764,-9.5 765,-15.3 766,-12.3 767,-5.2 768,-14.3 769,-13.9 770,-16.9 771,-5.9 772,-15.7 773,-12 774,3 775,-16.2 776,-8 777,-13.5 778,-8.9 779,-15.7 780,-16.7 781,-14.1 782,-9 783,-1.5 784,-8.4 785,-11.5 786,-5.9 787,-7.4 788,-9 789,-24.8 790,-7.1 791,-6.1 792,-20.3 793,-11 794,-18 795,-13.8 796,-16.2 797,-13.8 798,-5.5 799,-6.5 800,-14.4 801,-11.9 802,-19.3 803,-22.8 804,-29.3 805,-33.4 806,-37 807,-45.8 808,-44 809,-29.1 810,-42.8 811,-23.1 812,-24.9 813,-17.2 814,-24.7 815,-15.3 816,-15.7 817,-21 818,-7.1 819,-12.1 820,-15.6 821,-22.1 822,-19.4 823,-13.1 824,-17.2 825,-17.3 826,-20.2 827,-18.3 828,-24.3 829,-28.6 830,-28.2 831,-47.2 832,-56.2 833,-59.4 834,-59.2 835,-56.4 836,-58.9 837,-51.5 838,-40.9 839,-30.2 840,-22.2 841,-18.3 842,-15.7 843,-15.9 844,-14.6 845,-25.3 846,-22.2 847,-23.3 848,-30.5 849,-38.8 850,-49.9 851,-47.1 852,-44.1 853,-42.3 854,-42.8 855,-35.7 856,-21.4 857,-25.8 858,-29.4 859,-16.4 860,-12.2 861,-17.7 862,-11.3 863,-20.1 864,-22.4 865,-19 866,-22.8 867,-19 868,-23.9 869,-31.5 870,-24.1 871,-36 872,-26.1 873,-31.5 874,-25.7 875,-22.2 876,-28.8 877,-21.4 878,-19.6 879,-10.2 880,-17.9 881,-13.7 882,-16.3 883,-25.8 884,-27.1 885,-42.9 886,-37.5 887,-55.9 888,-49.2 889,-53.3 890,-42 891,-41.3 892,-29.4 893,-17.7 894,-16.1 895,-14.3 896,-21 897,-17.6 898,-20.3 899,-11.4 900,-15.8 901,-18.8 902,-19.2 903,-15.1 904,-26.7 905,-27 906,-19.8 907,-22.3 908,-23.9 909,-20.6 910,-16 911,-13.3 912,-10.1 913,-16.2 914,-17.2 915,-11.8 916,-20.7 917,-14.3 918,-12.6 919,-8 920,-10.4 921,-8.3 922,-11.7 923,-10.1 924,-13.3 925,-9.1 926,-16.8 927,-7.2 928,-17.6 929,-11.9 930,-12.5 931,-23.4 932,-23.9 933,-11.9 934,-17.5 935,-16.5 936,-13.9 937,-20.2 938,-13 939,-11.9 940,-17.6 941,-15.8 942,-18 943,-10.1 944,-20.5 945,-13 946,-16.3 947,-14.7 948,-28.6 949,-14.1 950,-16.3 951,-21.8 952,-8.7 953,-15.2 954,-15.2 955,-15.7 956,-15 957,-14.2 958,-15.4 959,-14 960,-10.8 961,-14.1 962,-12.7 963,-15.4 964,-20.7 965,-11.8 966,-13 967,-12.2 968,-16.1 969,-19.8 970,-16.3 971,-16.4 972,-8.2 973,-12.9 974,-11.6 975,-11.3 976,-8.2 977,-10.3 978,-16.9 979,-6.3 980,-7.8 981,-7.1 982,-15.1 983,-9.3 984,-11.3 985,-12.5 986,-10.4 987,-12.3 988,-12.5 989,-9.9 990,-13.5 991,-12.3 992,-6.1 993,-7.4 994,-9.4 995,-6.9 996,-8.5 997,-12.4 998,-2.5 999,-12.3 1000,-4 1001,-19 1002,-10.9 1003,-8.3 1004,-7.5 1005,-9 1006,-7.8 1007,-11.4 1008,-7.5 1009,-4.6 1010,-9 1011,-7.7 1012,-2.2 1013,-12.7 1014,-7.5 1015,-8.3 1016,-1.4 1017,-5.3 1018,-16.4 1019,-.7 1020,-4.8 1021,-5.9 1022,-9.9 1023,-7.5 1024,-5.3 1025,-8.1 1026,-7.7 1027,3.1 1028,-3.2 1029,-12.1 1030,-10.9 1031,-9.4 1032,-7.2 1033,-2.5 1034,-9.6 1035,-5.4 1036,-8.6 1037,-15.9 1038,-5.5 1039,-8.1 1040,-7.9 1041,-9.7 1042,-4.1 1043,-7.1 1044,-11.4 1045,-9.6 1046,-13.7 1047,-3 1048,-.5 1049,-6.9 1050,-5.7 1051,-6.8 1052,-5 1053,-6.2 1054,-9.4 1055,-12.2 1056,-4.6 1057,-6.4 1058,-16.1 1059,-1.2 1060,-6.3 1061,-7.3 1062,-2.5 1063,-14.9 1064,-6.3 1065,-5.3 1066,-.5 1067,.3 1068,-4.2 1069,-2 1070,-6.8 1071,-10.5 1072,-8.5 1073,-8 1074,-7.4 1075,-8.5 1076,-10 1077,-.5 1078,-9.2 1079,-10.5 1080,-6.2 1081,-5.8 1082,-5.2 1083,-8.7 1084,-2.9 1085,1.4 1086,-8.2 1087,-5.3 1088,-6.5 1089,-1 1090,-8.7 1091,-3.3 1092,-13.3 1093,-8 1094,-4.9 1095,-8.6 1096,-2.2 1097,-6.7 1098,-2.8 1099,-2.7 1100,-1 1101,-7.3 1102,-7.3 1103,-4.5 1104,-6.7 1105,-9.1 1106,-3.6 1107,-4.8 1108,-4.6 1109,.7 1110,-4.1 1111,-10.9 1112,-15 1113,-13 1114,-3.3 1115,-8.7 1116,-3 1117,-5.2 1118,-7.1 1119,-10.2 1120,-5.4 1121,-10.3 1122,-5.2 1123,1.5 1124,1 1125,-7.3 1126,-5.6 1127,-2.6 1128,-4.9 1129,-7.9 1130,.9 1131,-6.7 1132,-7.1 1133,2.6 1134,4 1135,-1.8 1136,-3.5 1137,-3.9 1138,-9.4 1139,-5.6 1140,-3 1141,-5 1142,-5.3 1143,-7.7 1144,-3 1145,-8.7 1146,-7.2 1147,-3.3 1148,-2.8 1149,-.7 1150,-2.2 1151,-1.6 1152,-10.3 1153,-5.8 1154,-1.4 1155,-9 1156,-3.6 1157,-8.7 1158,-4.6 1159,.2 1160,-.5 1161,-11.3 1162,-3.6 1163,-8.8 1164,-8.5 1165,-1.5 1166,-8.6 1167,6 1168,-3.3 1169,-3.6 1170,-8.5 1171,-.5 1172,-1.2 1173,-3 1174,-5.8 1175,-7.2 1176,-.5 1177,-5.6 1178,-7.3 1179,2.1 1180,-1.2 1181,2.6 1182,-6.1 1183,-5.6 1184,-7.9 1185,-6.2 1186,-4.2 1187,1.3 1188,1.1 1189,-1.8 1190,.7 1191,4 1192,-5.9 1193,-11.4 1194,-5.4 1195,-3.2 1196,-2.8 1197,-2.4 1198,-5.6 1199,-.2 1200,-8.1 1201,.5 1202,-.4 1203,-1.1 1204,-3.5 1205,-1.9 1206,-11 1207,-2.7 1208,1.7 1209,-2.7 1210,-.1 1211,-4.6 1212,0 1213,4.3 1214,-3.5 1215,-9.5 1216,-3.3 1217,-5.9 1218,-3.5 1219,-4 1220,-.9 1221,-4.9 1222,-9.7 1223,-7.5 1224,-1.9 1225,1.3 1226,-5 1227,-6 1228,-3.2 1229,-1.2 1230,-4.6 1231,-7.7 1232,.6 1233,-4 1234,-6.6 1235,-3.1 1236,-.4 1237,.5 1238,-9.2 1239,-1.3 1240,-3.9 1241,-1.5 1242,1.3 1243,.6 1244,-6.7 1245,8.2 1246,1 1247,-5 1248,-4.5 1249,-2.2 1250,.4 1251,-.8 1252,-9.3 1253,-2.9 1254,-4.5 1255,1.3 1256,2.2 1257,-2.3 1258,1.6 1259,-10.2 1260,-.2 1261,-4.8 1262,-1.9 1263,-4.1 1264,-3.9 1265,3.5 1266,6 1267,-5 1268,-2.7 1269,-6.7 1270,-4.3 1271,2.2 1272,2.9 1273,-3.4 1274,4.9 1275,-1.8 1276,-3.8 1277,-6.2 1278,.4 1279,2.8 1280,-1.1 1281,-1.6 1282,-2.7 1283,.9 1284,2.1 1285,1.5 1286,-5.3 1287,-2.2 1288,-5.4 1289,.4 1290,-1.7 1291,-4.9 1292,-5.6 1293,3.2 1294,.8 1295,-.3 1296,-3.1 1297,3.4 1298,2.5 1299,1.7 1300,-4.9 1301,-7.5 1302,-1.5 1303,2.9 1304,3.3 1305,1 1306,1.1 1307,.3 1308,1.2 1309,-1.5 1310,-5.1 1311,-3.4 1312,-8 1313,-2.6 1314,3.5 1315,-.5 1316,2.8 1317,-2.7 1318,.9 1319,-1.9 1320,-.5 1321,1.1 1322,-.6 1323,-7 1324,1.6 1325,-9 1326,4.5 1327,.3 1328,.2 1329,4.9 1330,-5.7 1331,-1.4 1332,-.2 1333,0 1334,-4.3 1335,-1.2 1336,-3 1337,-2.6 1338,-.9 1339,-4.5 1340,-.5 1341,-2.7 1342,3.7 1343,.7 1344,-2.7 1345,-.8 1346,-.3 1347,4.6 1348,-4.8 1349,-2.2 1350,-2.5 1351,-3.1 1352,-.1 1353,-1.4 1354,4.9 1355,.5 1356,1.7 1357,-2.4 1358,2 1359,8.6 1360,4.2 1361,3.1 1362,5.4 1363,7.4 1364,-1.1 1365,-.2 1366,-3.7 1367,5.9 1368,-3.4 1369,5.2 1370,-7.8 1371,-3.3 1372,2.5 1373,-2.2 1374,-.3 1375,-8.6 1376,.5 1377,-5.1 1378,2.8 1379,-1.4 1380,-2.4 1381,-4.6 1382,-1.7 1383,-7.7 1384,2.8 1385,-4.2 1386,2.7 1387,-5.6 1388,.8 1389,-5 1390,0 1391,-2.8 1392,7.1 1393,2.2 1394,-6.6 1395,7.2 1396,-2.3 1397,5.2 1398,-.3 1399,1.6 1400,-3.7 1401,-.3 1402,-4.7 1403,1.2 1404,-2.2 1405,-.1 1406,1.7 1407,-5 1408,-2.1 1409,-4 1410,.2 1411,-.8 1412,2 1413,6.7 1414,-.5 1415,-4.1 1416,4.2 1417,7 1418,.3 1419,-2.2 1420,0 1421,-1.2 1422,2 1423,2 1424,-1.5 1425,-3.5 1426,-4.3 1427,2.7 1428,-.9 1429,1.9 1430,-6.1 1431,-4 1432,-3.8 1433,-5.3 1434,-1.1 1435,-.4 1436,-1.7 1437,-4.6 1438,1.6 1439,-1.1 1440,-1.2 1441,-.8 1442,1.4 1443,8.7 1444,-.9 1445,-2 1446,5.8 1447,5.2 1448,5.1 1449,-9 1450,-6.8 1451,-4.8 1452,-4 1453,3.9 1454,1 1455,.4 1456,1.2 1457,1.1 1458,-7.2 1459,-1.9 1460,-2.2 1461,0 1462,-3.4 1463,-5.8 1464,.2 1465,-2.8 1466,4.4 1467,5.2 1468,-4.7 1469,7.7 1470,4.4 1471,3 1472,1.3 1473,-3.1 1474,2.1 1475,1.8 1476,-5 1477,.8 1478,3 1479,.3 1480,3.3 1481,-.3 1482,4.8 1483,-2.2 1484,-1.7 1485,-4.2 1486,3.7 1487,1.8 1488,-2.6 1489,-1.5 1490,-.5 1491,1.6 1492,-2.6 1493,.3 1494,-3.2 1495,2.9 1496,5.8 1497,-1.6 1498,2.9 1499,5.7 1500,3.1 1501,-4 1502,-4.7 1503,1.5 1504,-5.2 1505,.5 1506,-2.8 1507,1.5 1508,5.7 1509,1.7 1510,0 1511,-.3 1512,3.2 1513,-3 1514,6.6 1515,-2.6 1516,3.3 1517,-.1 1518,2.1 1519,-.5 1520,4.1 1521,-2.3 1522,.7 1523,-3 1524,2.7 1525,-4.8 1526,-2 1527,-1.4 1528,-.1 1529,2.1 1530,1.1 1531,-1.5 1532,3.6 1533,-1 1534,-2.1 1535,-.6 1536,3.6 1537,.1 1538,-2.3 1539,-5.5 1540,.9 1541,1.4 1542,-.8 1543,2.5 1544,8.9 1545,5.1 1546,2.1 1547,-.7 1548,.4 1549,-2.6 1550,1.8 1551,2.7 1552,3.5 1553,-2.9 1554,-1.9 1555,.6 1556,6 1557,-.6 1558,-.2 1559,-1.6 1560,-.5 1561,-2.2 1562,-.5 1563,3 1564,.9 1565,-.1 1566,2.4 1567,-.5 1568,-2.4 1569,-2.8 1570,4.9 1571,.9 1572,-2 1573,6.7 1574,1 1575,-4.3 1576,1.2 1577,.6 1578,-4.4 1579,-2 1580,3.3 1581,-3.4 1582,6.9 1583,5.5 1584,-.4 1585,2.4 1586,-1 1587,-2 1588,-1 1589,-.9 1590,3.6 1591,3.7 1592,5.9 1593,-2 1594,-.9 1595,-2.8 1596,6.5 1597,5.4 1598,-.5 1599,3.6 1600,2.7 1601,1.6 1602,-3.8 1603,-3.3 1604,2.4" stroke="#E41A1C" stroke-width="4.3"/>
</g>
<path d="M1388.9 1056.0V1562.0H1894.9" fill="none" stroke="#000" stroke-width="4.2" stroke-linecap="butt" stroke-linejoin="miter"/>
<line x1="1411.4" y1="1563.9" x2="1411.4" y2="1575.3" stroke="#000" stroke-width="4.2"/>
<text x="1411.4" y="1609.0" font-size="30.8" text-anchor="middle">0</text>
<line x1="1554.7" y1="1563.9" x2="1554.7" y2="1575.3" stroke="#000" stroke-width="4.2"/>
<text x="1554.7" y="1609.0" font-size="30.8" text-anchor="middle">500</text>
<line x1="1698.0" y1="1563.9" x2="1698.0" y2="1575.3" stroke="#000" stroke-width="4.2"/>
<text x="1698.0" y="1609.0" font-size="30.8" text-anchor="middle">1000</text>
<line x1="1841.3" y1="1563.9" x2="1841.3" y2="1575.3" stroke="#000" stroke-width="4.2"/>
<text x="1841.3" y="1609.0" font-size="30.8" text-anchor="middle">1500</text>
<text x="1640.7" y="1670.3" font-size="38.5" text-anchor="middle">Frequency</text>
<text x="1348.4" y="1310.0" font-size="38.5" text-anchor="middle" transform="rotate(-90 1348.4 1310.0)">Intensity</text>
</svg>
</body></html>
